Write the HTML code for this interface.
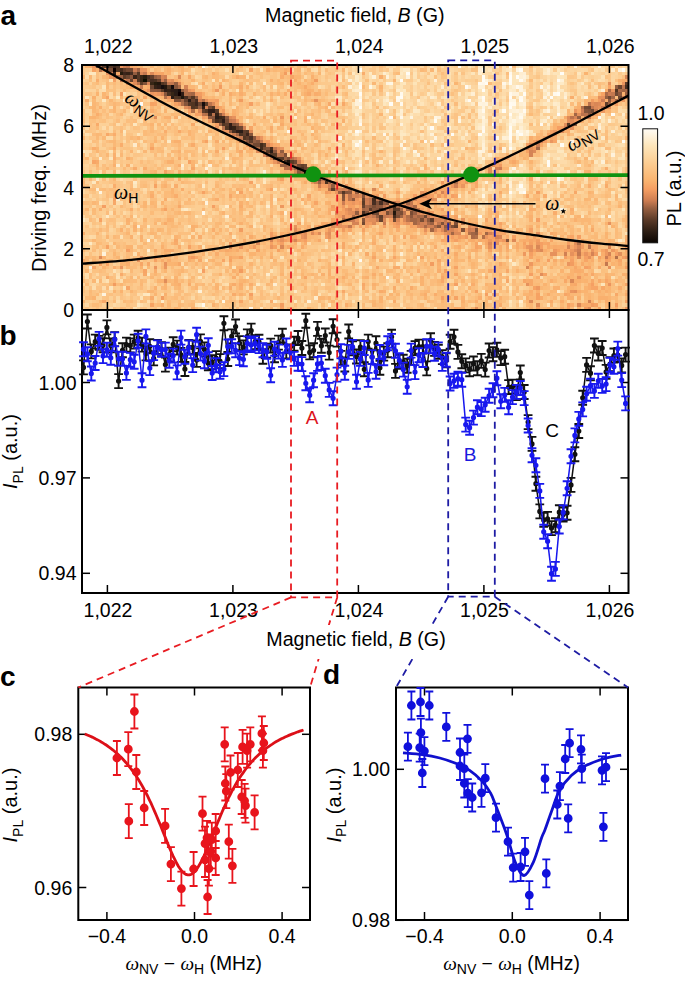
<!DOCTYPE html><html><head><meta charset="utf-8"><style>html,body{margin:0;padding:0;background:#fff;overflow:hidden;width:685px;height:981px}svg{display:block}</style></head><body><svg width="685" height="981" viewBox="0 0 685 981" font-family="Liberation Sans">
<rect width="685" height="981" fill="#fff"/>
<filter id="hb" x="0" y="0" width="1" height="1"><feGaussianBlur stdDeviation="0.5"/></filter><g filter="url(#hb)"><g transform="translate(82.0 65.0) scale(3.41562 3.40278)" shape-rendering="crispEdges"><path fill="#0a0502" d="M9 1h1v1h-1zM28 8h1v1h-1z"/><path fill="#0e0804" d="M18 4h1v1h-1z"/><path fill="#110a06" d="M65 31h1v1h-1z"/><path fill="#150d08" d="M26 6h1v1h-1z"/><path fill="#19100a" d="M23 6h1v1h-1zM28 7h1v1h-1zM35 11h1v1h-1z"/><path fill="#1c120b" d="M29 9h1v1h-1z"/><path fill="#24170f" d="M22 5h1v1h-1zM24 6h1v1h-1zM60 28h1v1h-1zM91 43h1v1h-1z"/><path fill="#271a11" d="M11 2h1v1h-1zM18 3h1v1h-1zM21 5h1v1h-1z"/><path fill="#2b1d13" d="M7 0h1v1h-1zM9 2h1v1h-1zM27 7h1v1h-1zM27 8h1v1h-1zM26 9h1v1h-1zM31 10h1v1h-1zM39 15h1v1h-1zM46 19h1v1h-1zM55 25h1v1h-1z"/><path fill="#2f1f15" d="M22 6h1v1h-1zM24 7h1v1h-1zM26 7h1v1h-1zM29 8h1v1h-1zM35 12h1v1h-1zM37 13h2v1h-2zM41 16h1v1h-1zM43 17h1v1h-1zM43 18h1v1h-1zM45 19h1v1h-1z"/><path fill="#342217" d="M13 2h1v1h-1zM15 3h1v1h-1zM21 6h1v1h-1zM25 7h1v1h-1zM39 14h1v1h-1zM44 18h1v1h-1z"/><path fill="#392519" d="M17 3h1v1h-1zM17 4h1v1h-1zM20 5h1v1h-1zM26 8h1v1h-1zM40 15h1v1h-1z"/><path fill="#3e281b" d="M9 0h1v1h-1zM12 2h1v1h-1zM33 11h1v1h-1zM48 20h1v1h-1z"/><path fill="#422b1d" d="M11 1h1v1h-1zM37 14h1v1h-1zM41 15h1v1h-1zM39 16h1v1h-1zM52 23h1v1h-1zM52 24h1v1h-1zM55 24h1v1h-1zM85 39h1v1h-1zM91 41h1v1h-1zM91 44h1v1h-1z"/><path fill="#472e20" d="M14 2h1v1h-1zM19 3h1v1h-1zM20 4h1v1h-1zM159 6h1v1h-1zM30 9h1v1h-1zM33 10h1v1h-1zM44 19h1v1h-1zM49 21h1v1h-1zM85 40h1v1h-1zM87 40h1v1h-1zM87 42h1v1h-1zM82 43h1v1h-1z"/><path fill="#4c3122" d="M10 0h1v1h-1zM21 4h1v1h-1zM25 8h1v1h-1zM28 9h1v1h-1zM40 16h1v1h-1zM46 20h1v1h-1zM59 28h1v1h-1zM63 30h2v1h-2zM71 34h1v1h-1z"/><path fill="#513424" d="M10 1h1v1h-1zM16 4h1v1h-1zM23 5h1v1h-1zM25 6h1v1h-1zM156 7h1v1h-1zM27 9h1v1h-1zM32 9h1v1h-1zM32 11h1v1h-1zM32 12h1v1h-1zM36 13h1v1h-1zM41 17h1v1h-1zM42 18h1v1h-1zM47 21h1v1h-1zM57 27h1v1h-1zM91 42h1v1h-1z"/><path fill="#553726" d="M6 0h1v1h-1zM8 0h1v1h-1zM16 2h1v1h-1zM16 3h1v1h-1zM19 4h1v1h-1zM31 11h1v1h-1zM39 13h1v1h-1zM48 19h1v1h-1zM55 26h1v1h-1zM58 27h1v1h-1zM66 31h1v1h-1zM76 37h1v1h-1z"/><path fill="#5a3a28" d="M12 3h1v1h-1zM17 5h1v1h-1zM23 7h1v1h-1zM36 11h1v1h-1zM33 12h1v1h-1zM38 12h1v1h-1zM142 17h1v1h-1zM53 23h1v1h-1zM54 25h1v1h-1zM56 26h1v1h-1zM61 28h1v1h-1zM68 33h1v1h-1zM82 40h1v1h-1z"/><path fill="#603e2b" d="M12 1h1v1h-1zM20 3h1v1h-1zM24 5h1v1h-1zM159 5h1v1h-1zM153 11h1v1h-1zM35 13h1v1h-1zM42 17h1v1h-1zM45 18h1v1h-1zM47 19h1v1h-1zM47 20h1v1h-1zM48 21h1v1h-1zM49 22h1v1h-1zM64 29h1v1h-1zM73 36h1v1h-1zM84 42h1v1h-1zM92 42h1v1h-1zM87 44h1v1h-1zM102 45h1v1h-1z"/><path fill="#67422d" d="M14 4h1v1h-1zM22 4h1v1h-1zM157 6h1v1h-1zM30 10h1v1h-1zM32 10h1v1h-1zM65 30h1v1h-1zM69 33h1v1h-1zM82 39h1v1h-1zM82 41h1v1h-1zM87 45h1v1h-1zM109 47h1v1h-1z"/><path fill="#6d4630" d="M4 0h1v1h-1zM13 3h1v1h-1zM20 6h1v1h-1zM156 8h1v1h-1zM157 9h1v1h-1zM34 11h1v1h-1zM148 12h1v1h-1zM149 13h1v1h-1zM46 18h1v1h-1zM56 27h1v1h-1zM62 28h1v1h-1zM63 29h1v1h-1zM65 29h1v1h-1zM100 44h1v1h-1z"/><path fill="#734a33" d="M7 1h1v1h-1zM13 1h2v1h-2zM154 9h1v1h-1zM37 12h1v1h-1zM147 12h1v1h-1zM38 16h1v1h-1zM50 23h2v1h-2zM53 24h1v1h-1zM67 32h1v1h-1zM88 42h1v1h-1zM86 43h1v1h-1zM91 45h1v1h-1zM82 46h1v1h-1z"/><path fill="#7a4d35" d="M8 1h1v1h-1zM31 9h1v1h-1zM42 16h1v1h-1zM44 17h1v1h-1zM60 27h1v1h-1zM89 40h1v1h-1zM85 41h1v1h-1zM85 43h1v1h-1zM89 43h1v1h-1zM93 43h1v1h-1zM96 43h1v1h-1zM92 44h1v1h-1zM99 45h1v1h-1z"/><path fill="#805138" d="M18 5h1v1h-1zM27 10h2v1h-2zM148 13h1v1h-1zM54 24h1v1h-1zM59 26h1v1h-1zM76 38h1v1h-1zM86 40h1v1h-1zM90 41h1v1h-1zM86 42h1v1h-1zM83 43h1v1h-1zM105 46h1v1h-1zM109 46h1v1h-1zM108 47h1v1h-1zM111 48h1v1h-1zM115 48h1v1h-1z"/><path fill="#86553a" d="M27 6h1v1h-1zM22 7h1v1h-1zM24 8h1v1h-1zM30 11h1v1h-1zM147 13h1v1h-1zM38 15h1v1h-1zM45 17h1v1h-1zM49 20h1v1h-1zM48 22h1v1h-1zM51 22h1v1h-1zM77 37h1v1h-1zM82 38h1v1h-1zM76 39h1v1h-1zM85 42h1v1h-1zM92 43h1v1h-1zM82 45h1v1h-1zM104 47h1v1h-1zM124 51h1v1h-1z"/><path fill="#8d593d" d="M14 3h1v1h-1zM20 7h2v1h-2zM157 8h1v1h-1zM154 10h1v1h-1zM40 14h1v1h-1zM148 14h1v1h-1zM37 15h1v1h-1zM42 15h1v1h-1zM43 19h1v1h-1zM50 21h1v1h-1zM56 25h1v1h-1zM61 29h1v1h-1zM66 30h1v1h-1zM63 31h1v1h-1zM65 32h1v1h-1zM78 37h1v1h-1zM79 39h1v1h-1zM87 39h1v1h-1zM88 40h1v1h-1zM86 41h2v1h-2zM94 41h1v1h-1zM96 44h1v1h-1zM101 45h1v1h-1z"/><path fill="#935d40" d="M15 2h1v1h-1zM21 3h1v1h-1zM27 5h1v1h-1zM156 6h1v1h-1zM29 7h1v1h-1zM33 9h1v1h-1zM153 9h1v1h-1zM34 12h1v1h-1zM145 15h1v1h-1zM144 17h1v1h-1zM50 22h1v1h-1zM58 25h1v1h-1zM67 33h1v1h-1zM73 35h1v1h-1zM84 41h1v1h-1zM80 43h1v1h-1zM86 44h1v1h-1zM107 46h1v1h-1zM106 47h1v1h-1zM115 49h1v1h-1z"/><path fill="#9a6142" d="M11 3h1v1h-1zM24 4h1v1h-1zM159 8h1v1h-1zM154 11h1v1h-1zM40 17h1v1h-1zM54 26h1v1h-1zM59 27h1v1h-1zM58 29h2v1h-2zM69 32h1v1h-1zM69 34h1v1h-1zM75 37h1v1h-1zM80 37h1v1h-1zM97 43h1v1h-1zM102 46h1v1h-1z"/><path fill="#a26645" d="M5 0h1v1h-1zM16 1h1v1h-1zM22 3h1v1h-1zM158 7h1v1h-1zM32 8h1v1h-1zM155 9h1v1h-1zM29 10h1v1h-1zM156 10h1v1h-1zM144 14h1v1h-1zM45 20h1v1h-1zM49 23h1v1h-1zM133 24h1v1h-1zM62 30h1v1h-1zM64 31h1v1h-1zM66 32h1v1h-1zM72 34h1v1h-1zM95 40h1v1h-1zM83 41h1v1h-1zM92 41h1v1h-1zM82 42h1v1h-1zM93 42h1v1h-1zM95 42h1v1h-1zM90 43h1v1h-1zM93 44h1v1h-1zM98 44h1v1h-1zM96 45h2v1h-2zM97 46h1v1h-1zM102 48h1v1h-1zM108 49h1v1h-1zM114 49h1v1h-1zM118 49h1v1h-1z"/><path fill="#ab6a47" d="M10 3h1v1h-1zM28 6h1v1h-1zM154 7h1v1h-1zM157 7h1v1h-1zM159 7h1v1h-1zM31 8h1v1h-1zM153 8h1v1h-1zM51 24h1v1h-1zM53 25h1v1h-1zM60 29h1v1h-1zM62 29h1v1h-1zM67 30h1v1h-1zM78 36h1v1h-1zM97 41h1v1h-1zM83 42h1v1h-1zM90 42h1v1h-1zM99 44h1v1h-1zM101 46h1v1h-1zM100 47h1v1h-1zM103 47h1v1h-1zM107 47h1v1h-1zM106 48h1v1h-1zM114 50h1v1h-1z"/><path fill="#b36f4a" d="M5 1h1v1h-1zM30 8h1v1h-1zM24 9h1v1h-1zM35 10h1v1h-1zM29 11h1v1h-1zM146 12h1v1h-1zM32 13h1v1h-1zM36 14h1v1h-1zM58 26h1v1h-1zM61 27h1v1h-1zM60 30h1v1h-1zM109 34h1v1h-1zM72 36h1v1h-1zM96 42h2v1h-2zM79 44h1v1h-1zM95 44h1v1h-1zM76 45h1v1h-1zM98 45h1v1h-1zM111 46h1v1h-1zM113 49h1v1h-1zM115 50h1v1h-1zM117 50h1v1h-1zM145 52h1v1h-1zM156 56h1v1h-1z"/><path fill="#bb734d" d="M11 4h1v1h-1zM13 4h1v1h-1zM16 5h1v1h-1zM158 6h1v1h-1zM30 7h1v1h-1zM159 9h1v1h-1zM37 11h1v1h-1zM148 11h1v1h-1zM35 14h1v1h-1zM38 14h1v1h-1zM146 14h2v1h-2zM143 15h1v1h-1zM41 18h1v1h-1zM47 22h1v1h-1zM57 26h1v1h-1zM59 30h1v1h-1zM70 33h1v1h-1zM114 33h1v1h-1zM74 36h1v1h-1zM78 38h1v1h-1zM78 39h1v1h-1zM84 39h1v1h-1zM86 39h1v1h-1zM84 40h1v1h-1zM88 41h1v1h-1zM94 43h1v1h-1zM97 44h1v1h-1zM95 45h1v1h-1zM98 46h1v1h-1zM148 53h1v1h-1z"/><path fill="#c3784f" d="M13 0h1v1h-1zM18 2h1v1h-1zM25 5h2v1h-2zM17 6h1v1h-1zM155 8h1v1h-1zM149 12h1v1h-1zM152 12h1v1h-1zM150 13h1v1h-1zM43 16h1v1h-1zM46 21h1v1h-1zM52 22h1v1h-1zM56 24h1v1h-1zM96 40h1v1h-1zM98 42h1v1h-1zM85 44h1v1h-1zM88 44h1v1h-1zM86 45h1v1h-1zM100 45h1v1h-1zM106 45h1v1h-1zM104 46h1v1h-1zM78 47h1v1h-1zM145 55h1v1h-1zM153 58h1v1h-1z"/><path fill="#cc7c52" d="M15 1h1v1h-1zM8 2h1v1h-1zM23 4h1v1h-1zM154 8h1v1h-1zM158 9h1v1h-1zM152 10h1v1h-1zM146 13h1v1h-1zM147 15h2v1h-2zM44 16h1v1h-1zM133 23h1v1h-1zM62 27h1v1h-1zM61 30h1v1h-1zM122 30h1v1h-1zM115 31h1v1h-1zM83 39h1v1h-1zM76 40h1v1h-1zM95 41h2v1h-2zM83 44h1v1h-1zM89 44h1v1h-1zM101 44h1v1h-1zM105 44h1v1h-1zM78 45h2v1h-2zM88 46h1v1h-1zM106 46h1v1h-1zM113 48h1v1h-1zM145 54h1v1h-1zM153 56h1v1h-1z"/><path fill="#d18053" d="M12 0h1v1h-1zM24 3h1v1h-1zM15 4h1v1h-1zM34 10h1v1h-1zM31 12h1v1h-1zM36 12h1v1h-1zM153 12h1v1h-1zM41 14h1v1h-1zM47 18h1v1h-1zM44 20h1v1h-1zM57 28h1v1h-1zM63 28h1v1h-1zM68 34h1v1h-1zM69 35h1v1h-1zM109 35h1v1h-1zM76 36h1v1h-1zM80 38h1v1h-1zM83 40h1v1h-1zM91 40h1v1h-1zM89 42h1v1h-1zM98 43h1v1h-1zM90 44h1v1h-1zM103 45h1v1h-1zM99 46h1v1h-1zM101 47h2v1h-2zM141 55h1v1h-1z"/><path fill="#d58355" d="M159 3h1v1h-1zM19 5h1v1h-1zM30 6h1v1h-1zM149 14h1v1h-1zM144 15h1v1h-1zM141 18h1v1h-1zM51 21h1v1h-1zM134 22h1v1h-1zM130 24h1v1h-1zM131 25h1v1h-1zM131 26h1v1h-1zM121 30h1v1h-1zM67 31h1v1h-1zM114 32h2v1h-2zM71 33h1v1h-1zM73 34h1v1h-1zM72 35h1v1h-1zM77 36h1v1h-1zM105 37h1v1h-1zM99 38h1v1h-1zM97 39h1v1h-1zM89 41h1v1h-1zM76 44h1v1h-1zM84 44h1v1h-1zM77 45h1v1h-1zM104 45h1v1h-1zM79 46h2v1h-2zM100 46h1v1h-1zM99 47h1v1h-1zM108 48h1v1h-1zM114 48h1v1h-1zM119 49h1v1h-1zM121 50h1v1h-1zM55 51h1v1h-1zM43 53h1v1h-1zM149 55h1v1h-1zM154 55h1v1h-1zM148 69h1v1h-1z"/><path fill="#d98757" d="M17 2h1v1h-1zM23 3h1v1h-1zM23 8h1v1h-1zM150 11h1v1h-1zM34 13h1v1h-1zM46 17h1v1h-1zM143 17h1v1h-1zM140 19h1v1h-1zM46 22h1v1h-1zM55 27h1v1h-1zM62 31h1v1h-1zM75 36h1v1h-1zM85 36h1v1h-1zM79 38h1v1h-1zM84 38h1v1h-1zM93 41h1v1h-1zM78 42h1v1h-1zM94 44h1v1h-1zM106 44h1v1h-1zM88 45h1v1h-1zM92 45h1v1h-1zM107 48h1v1h-1zM122 50h1v1h-1zM62 51h1v1h-1zM58 53h1v1h-1zM133 53h1v1h-1zM142 53h1v1h-1zM145 53h1v1h-1zM154 53h1v1h-1zM130 59h1v1h-1zM143 63h1v1h-1zM145 70h1v1h-1z"/><path fill="#dd8a58" d="M20 2h1v1h-1zM28 3h1v1h-1zM28 5h1v1h-1zM155 10h1v1h-1zM38 11h1v1h-1zM151 11h1v1h-1zM150 12h1v1h-1zM43 15h1v1h-1zM142 15h1v1h-1zM143 16h1v1h-1zM49 19h1v1h-1zM45 21h1v1h-1zM54 23h1v1h-1zM131 23h1v1h-1zM50 24h1v1h-1zM51 25h2v1h-2zM132 25h1v1h-1zM53 26h1v1h-1zM70 34h1v1h-1zM81 38h1v1h-1zM100 38h1v1h-1zM102 39h1v1h-1zM80 42h1v1h-1zM79 43h1v1h-1zM84 43h1v1h-1zM88 43h1v1h-1zM94 45h1v1h-1zM105 45h1v1h-1zM73 46h1v1h-1zM85 46h1v1h-1zM98 47h1v1h-1zM105 47h1v1h-1zM113 47h1v1h-1zM62 48h1v1h-1zM103 48h1v1h-1zM105 48h1v1h-1zM67 49h1v1h-1zM69 49h1v1h-1zM107 49h1v1h-1zM109 49h2v1h-2zM126 51h1v1h-1zM51 52h1v1h-1zM119 52h1v1h-1zM134 54h1v1h-1zM144 54h1v1h-1zM5 56h1v1h-1zM145 56h1v1h-1zM131 69h1v1h-1zM148 71h1v1h-1z"/><path fill="#e18e5a" d="M9 3h1v1h-1zM26 4h1v1h-1zM15 5h1v1h-1zM149 11h1v1h-1zM30 12h1v1h-1zM154 12h1v1h-1zM145 14h1v1h-1zM21 15h1v1h-1zM142 16h1v1h-1zM141 17h1v1h-1zM133 22h1v1h-1zM57 24h1v1h-1zM119 30h1v1h-1zM69 31h1v1h-1zM119 31h1v1h-1zM64 32h1v1h-1zM103 39h1v1h-1zM92 40h1v1h-1zM74 43h1v1h-1zM78 43h1v1h-1zM87 43h1v1h-1zM99 43h1v1h-1zM80 44h1v1h-1zM84 45h2v1h-2zM73 47h1v1h-1zM65 49h1v1h-1zM72 49h1v1h-1zM65 50h1v1h-1zM144 52h1v1h-1zM148 52h1v1h-1zM157 55h1v1h-1zM134 61h1v1h-1zM24 63h1v1h-1zM133 70h1v1h-1zM115 71h1v1h-1z"/><path fill="#e6915c" d="M154 5h1v1h-1zM25 9h1v1h-1zM151 9h2v1h-2zM36 10h1v1h-1zM68 10h1v1h-1zM151 12h1v1h-1zM44 15h1v1h-1zM143 18h1v1h-1zM131 24h1v1h-1zM57 25h1v1h-1zM63 27h1v1h-1zM120 29h1v1h-1zM99 37h1v1h-1zM83 38h1v1h-1zM101 39h1v1h-1zM77 42h1v1h-1zM101 43h1v1h-1zM83 45h1v1h-1zM107 45h1v1h-1zM111 45h1v1h-1zM75 46h1v1h-1zM95 46h1v1h-1zM154 46h1v1h-1zM62 47h1v1h-1zM75 47h1v1h-1zM77 47h1v1h-1zM115 47h1v1h-1zM100 48h1v1h-1zM109 48h1v1h-1zM120 49h1v1h-1zM133 49h1v1h-1zM72 50h1v1h-1zM58 51h1v1h-1zM121 52h1v1h-1zM119 53h1v1h-1zM131 53h1v1h-1zM131 54h1v1h-1zM133 54h1v1h-1zM137 55h2v1h-2zM143 55h1v1h-1zM148 56h1v1h-1zM24 58h1v1h-1zM154 59h1v1h-1zM130 64h1v1h-1zM144 66h1v1h-1z"/><path fill="#ea955e" d="M3 0h1v1h-1zM11 0h1v1h-1zM17 1h2v1h-2zM7 2h1v1h-1zM12 4h1v1h-1zM25 4h1v1h-1zM158 5h1v1h-1zM19 7h1v1h-1zM31 7h1v1h-1zM155 7h1v1h-1zM20 8h1v1h-1zM22 8h1v1h-1zM34 9h1v1h-1zM28 11h1v1h-1zM144 13h1v1h-1zM145 16h1v1h-1zM39 18h1v1h-1zM41 19h1v1h-1zM52 21h1v1h-1zM137 22h1v1h-1zM58 24h1v1h-1zM56 28h1v1h-1zM119 32h1v1h-1zM115 33h1v1h-1zM111 35h1v1h-1zM79 40h1v1h-1zM81 43h1v1h-1zM102 44h1v1h-1zM80 45h1v1h-1zM92 46h1v1h-1zM103 46h1v1h-1zM74 47h1v1h-1zM76 47h1v1h-1zM114 47h1v1h-1zM72 48h1v1h-1zM122 48h1v1h-1zM64 49h1v1h-1zM106 49h1v1h-1zM58 50h1v1h-1zM64 50h1v1h-1zM118 50h1v1h-1zM121 51h1v1h-1zM46 53h1v1h-1zM55 53h1v1h-1zM130 53h1v1h-1zM159 53h1v1h-1zM149 54h1v1h-1zM147 55h1v1h-1zM17 56h1v1h-1zM159 56h1v1h-1zM16 57h1v1h-1zM142 58h1v1h-1zM11 59h1v1h-1zM21 59h1v1h-1zM24 59h1v1h-1zM145 62h1v1h-1zM154 64h1v1h-1zM143 66h1v1h-1z"/><path fill="#ee985f" d="M6 1h1v1h-1zM8 3h1v1h-1zM13 5h1v1h-1zM39 7h1v1h-1zM33 8h1v1h-1zM158 10h1v1h-1zM39 12h1v1h-1zM152 13h1v1h-1zM58 15h1v1h-1zM45 16h1v1h-1zM144 16h1v1h-1zM42 19h1v1h-1zM138 19h1v1h-1zM43 20h1v1h-1zM58 28h1v1h-1zM121 28h1v1h-1zM122 29h1v1h-1zM67 34h1v1h-1zM105 34h1v1h-1zM112 34h1v1h-1zM74 35h1v1h-1zM77 35h1v1h-1zM108 35h1v1h-1zM74 37h1v1h-1zM103 37h1v1h-1zM77 38h1v1h-1zM101 38h1v1h-1zM104 38h1v1h-1zM80 39h1v1h-1zM81 40h1v1h-1zM94 40h1v1h-1zM58 41h1v1h-1zM76 41h1v1h-1zM77 43h1v1h-1zM103 44h1v1h-1zM74 46h1v1h-1zM83 46h1v1h-1zM71 49h1v1h-1zM112 50h1v1h-1zM61 51h1v1h-1zM119 51h1v1h-1zM123 51h1v1h-1zM43 52h1v1h-1zM133 52h1v1h-1zM144 53h1v1h-1zM138 54h1v1h-1zM143 54h1v1h-1zM153 54h1v1h-1zM155 54h1v1h-1zM129 55h1v1h-1zM153 55h1v1h-1zM131 58h1v1h-1zM133 65h1v1h-1zM159 71h1v1h-1z"/><path fill="#f29c61" d="M59 2h1v1h-1zM68 4h1v1h-1zM40 6h1v1h-1zM11 8h1v1h-1zM21 8h1v1h-1zM34 8h1v1h-1zM46 10h1v1h-1zM149 10h1v1h-1zM151 10h1v1h-1zM152 11h1v1h-1zM156 11h1v1h-1zM41 13h1v1h-1zM37 16h1v1h-1zM55 23h1v1h-1zM132 24h1v1h-1zM68 32h1v1h-1zM74 34h1v1h-1zM71 35h1v1h-1zM71 37h1v1h-1zM79 37h1v1h-1zM100 37h1v1h-1zM86 38h1v1h-1zM88 38h1v1h-1zM106 38h1v1h-1zM77 39h1v1h-1zM78 40h1v1h-1zM98 40h1v1h-1zM73 41h1v1h-1zM102 43h1v1h-1zM78 44h1v1h-1zM82 44h1v1h-1zM84 46h1v1h-1zM94 46h1v1h-1zM46 48h1v1h-1zM67 48h1v1h-1zM76 48h1v1h-1zM112 48h1v1h-1zM55 49h1v1h-1zM116 49h1v1h-1zM55 50h1v1h-1zM110 50h1v1h-1zM57 51h1v1h-1zM133 51h1v1h-1zM50 53h1v1h-1zM146 53h1v1h-1zM150 55h1v1h-1zM32 56h1v1h-1zM102 58h1v1h-1zM143 58h1v1h-1zM46 60h1v1h-1zM9 64h1v1h-1zM23 68h1v1h-1zM58 70h1v1h-1zM149 70h1v1h-1zM156 70h1v1h-1zM147 71h1v1h-1z"/><path fill="#f59f63" d="M9 4h1v1h-1zM32 7h1v1h-1zM39 10h1v1h-1zM49 11h1v1h-1zM31 13h1v1h-1zM33 14h2v1h-2zM35 15h1v1h-1zM39 17h1v1h-1zM139 18h1v1h-1zM138 20h1v1h-1zM54 22h1v1h-1zM132 22h1v1h-1zM135 22h1v1h-1zM130 23h1v1h-1zM41 24h1v1h-1zM61 26h1v1h-1zM68 31h1v1h-1zM70 32h1v1h-1zM58 33h1v1h-1zM110 34h1v1h-1zM70 35h1v1h-1zM104 36h1v1h-1zM106 37h1v1h-1zM97 38h1v1h-1zM102 38h1v1h-1zM108 38h1v1h-1zM98 39h2v1h-2zM80 40h1v1h-1zM99 40h1v1h-1zM6 41h1v1h-1zM38 41h1v1h-1zM78 41h1v1h-1zM79 42h1v1h-1zM81 42h1v1h-1zM94 42h1v1h-1zM99 42h1v1h-1zM101 42h1v1h-1zM105 42h1v1h-1zM75 44h1v1h-1zM77 44h1v1h-1zM90 45h1v1h-1zM109 45h1v1h-1zM133 45h1v1h-1zM91 46h1v1h-1zM69 47h1v1h-1zM88 47h1v1h-1zM92 47h1v1h-1zM104 48h1v1h-1zM110 48h1v1h-1zM131 48h1v1h-1zM63 49h1v1h-1zM71 50h1v1h-1zM108 50h1v1h-1zM120 50h1v1h-1zM145 50h1v1h-1zM59 51h1v1h-1zM65 51h1v1h-1zM109 51h1v1h-1zM122 51h1v1h-1zM58 52h1v1h-1zM134 52h1v1h-1zM142 52h1v1h-1zM134 53h1v1h-1zM13 54h1v1h-1zM141 54h1v1h-1zM131 55h1v1h-1zM156 55h1v1h-1zM21 56h1v1h-1zM141 56h1v1h-1zM147 56h1v1h-1zM154 56h1v1h-1zM158 56h1v1h-1zM136 57h1v1h-1zM143 57h1v1h-1zM153 57h1v1h-1zM147 59h1v1h-1zM159 59h1v1h-1zM35 60h1v1h-1zM106 60h1v1h-1zM131 61h1v1h-1zM109 64h1v1h-1zM149 64h1v1h-1zM49 67h1v1h-1zM118 67h1v1h-1zM105 68h1v1h-1zM142 70h1v1h-1z"/><path fill="#f6a264" d="M3 1h1v1h-1zM49 1h1v1h-1zM152 8h1v1h-1zM20 11h1v1h-1zM27 11h1v1h-1zM150 14h1v1h-1zM140 18h1v1h-1zM137 19h1v1h-1zM136 20h2v1h-2zM36 22h1v1h-1zM48 23h1v1h-1zM20 24h1v1h-1zM130 25h1v1h-1zM31 28h1v1h-1zM121 29h1v1h-1zM24 31h1v1h-1zM49 34h1v1h-1zM21 35h1v1h-1zM55 36h1v1h-1zM35 37h1v1h-1zM46 37h1v1h-1zM72 37h1v1h-1zM133 37h1v1h-1zM9 39h1v1h-1zM100 39h1v1h-1zM77 40h1v1h-1zM79 41h1v1h-1zM24 42h1v1h-1zM73 42h1v1h-1zM76 42h1v1h-1zM75 43h1v1h-1zM100 43h1v1h-1zM109 44h1v1h-1zM5 45h1v1h-1zM63 46h1v1h-1zM96 46h1v1h-1zM122 46h1v1h-1zM83 47h1v1h-1zM96 47h1v1h-1zM82 48h1v1h-1zM118 48h1v1h-1zM68 49h1v1h-1zM74 49h1v1h-1zM121 49h1v1h-1zM62 50h1v1h-1zM111 50h1v1h-1zM126 50h1v1h-1zM132 50h1v1h-1zM63 51h1v1h-1zM55 52h1v1h-1zM129 52h1v1h-1zM131 52h1v1h-1zM7 53h1v1h-1zM31 53h1v1h-1zM56 53h1v1h-1zM115 53h1v1h-1zM57 54h1v1h-1zM119 54h1v1h-1zM132 54h1v1h-1zM139 54h1v1h-1zM144 55h1v1h-1zM46 56h1v1h-1zM99 56h1v1h-1zM151 56h1v1h-1zM21 57h1v1h-1zM43 57h1v1h-1zM5 58h1v1h-1zM7 58h1v1h-1zM109 59h1v1h-1zM135 61h1v1h-1zM132 65h1v1h-1zM115 66h1v1h-1zM133 67h1v1h-1zM109 68h1v1h-1zM133 68h1v1h-1zM159 69h1v1h-1zM20 70h1v1h-1zM150 70h1v1h-1zM58 71h1v1h-1zM151 71h1v1h-1z"/><path fill="#f7a566" d="M21 2h1v1h-1zM23 2h1v1h-1zM61 3h1v1h-1zM14 5h1v1h-1zM154 6h1v1h-1zM18 7h1v1h-1zM7 9h1v1h-1zM37 10h2v1h-2zM21 11h1v1h-1zM40 12h1v1h-1zM36 15h1v1h-1zM49 18h1v1h-1zM142 18h1v1h-1zM53 22h1v1h-1zM138 22h1v1h-1zM49 24h1v1h-1zM3 28h1v1h-1zM61 31h1v1h-1zM21 32h1v1h-1zM72 33h1v1h-1zM111 34h1v1h-1zM115 34h1v1h-1zM75 35h1v1h-1zM69 36h1v1h-1zM106 36h1v1h-1zM92 37h1v1h-1zM66 38h1v1h-1zM109 38h1v1h-1zM92 39h1v1h-1zM68 40h1v1h-1zM90 40h1v1h-1zM81 41h1v1h-1zM74 42h1v1h-1zM76 43h1v1h-1zM73 45h1v1h-1zM118 45h1v1h-1zM108 46h1v1h-1zM81 47h1v1h-1zM63 48h1v1h-1zM73 48h1v1h-1zM78 48h1v1h-1zM119 48h1v1h-1zM87 49h1v1h-1zM105 49h1v1h-1zM123 49h1v1h-1zM61 50h1v1h-1zM94 50h1v1h-1zM119 50h1v1h-1zM143 50h1v1h-1zM105 51h1v1h-1zM120 51h1v1h-1zM131 51h1v1h-1zM137 51h1v1h-1zM115 52h1v1h-1zM124 52h1v1h-1zM136 52h1v1h-1zM146 52h1v1h-1zM51 54h1v1h-1zM142 54h1v1h-1zM152 54h1v1h-1zM148 55h1v1h-1zM31 56h1v1h-1zM85 56h1v1h-1zM91 56h1v1h-1zM131 56h1v1h-1zM143 56h1v1h-1zM0 57h1v1h-1zM41 57h1v1h-1zM133 57h1v1h-1zM147 57h1v1h-1zM154 57h1v1h-1zM157 57h1v1h-1zM17 58h1v1h-1zM3 59h1v1h-1zM148 59h1v1h-1zM18 60h1v1h-1zM109 61h1v1h-1zM65 62h1v1h-1zM129 63h1v1h-1zM153 63h1v1h-1zM159 64h1v1h-1zM13 65h1v1h-1zM149 65h2v1h-2zM141 67h1v1h-1zM46 69h1v1h-1zM133 71h1v1h-1zM142 71h1v1h-1z"/><path fill="#f7a868" d="M14 0h1v1h-1zM10 2h1v1h-1zM22 2h1v1h-1zM31 3h1v1h-1zM14 6h1v1h-1zM16 6h1v1h-1zM66 8h1v1h-1zM18 9h1v1h-1zM25 10h2v1h-2zM39 11h1v1h-1zM72 11h1v1h-1zM76 11h1v1h-1zM145 13h1v1h-1zM32 17h1v1h-1zM28 19h1v1h-1zM7 20h1v1h-1zM44 21h1v1h-1zM135 21h1v1h-1zM137 21h1v1h-1zM132 23h1v1h-1zM134 23h1v1h-1zM46 25h1v1h-1zM60 25h1v1h-1zM123 27h2v1h-2zM126 28h1v1h-1zM32 30h1v1h-1zM115 30h1v1h-1zM113 31h1v1h-1zM0 32h1v1h-1zM63 32h1v1h-1zM71 32h1v1h-1zM111 33h1v1h-1zM131 33h1v1h-1zM110 35h1v1h-1zM115 35h1v1h-1zM82 36h1v1h-1zM105 36h1v1h-1zM82 37h1v1h-1zM144 37h1v1h-1zM43 38h1v1h-1zM85 38h1v1h-1zM81 39h1v1h-1zM9 40h1v1h-1zM97 40h1v1h-1zM28 41h1v1h-1zM104 44h1v1h-1zM93 46h1v1h-1zM79 47h1v1h-1zM91 47h1v1h-1zM97 47h1v1h-1zM116 48h2v1h-2zM149 48h1v1h-1zM100 49h1v1h-1zM103 49h1v1h-1zM122 49h1v1h-1zM131 49h1v1h-1zM137 49h1v1h-1zM56 50h1v1h-1zM60 50h1v1h-1zM27 51h1v1h-1zM60 51h1v1h-1zM64 51h1v1h-1zM69 51h1v1h-1zM116 51h1v1h-1zM118 51h1v1h-1zM146 51h1v1h-1zM76 52h1v1h-1zM118 52h1v1h-1zM135 52h1v1h-1zM60 53h1v1h-1zM76 53h1v1h-1zM116 53h1v1h-1zM124 53h1v1h-1zM129 53h1v1h-1zM136 53h1v1h-1zM143 53h1v1h-1zM42 54h1v1h-1zM159 54h1v1h-1zM146 55h1v1h-1zM19 56h1v1h-1zM33 56h1v1h-1zM43 56h1v1h-1zM34 57h1v1h-1zM104 57h1v1h-1zM19 58h1v1h-1zM28 58h1v1h-1zM122 58h1v1h-1zM86 59h1v1h-1zM144 59h1v1h-1zM124 60h1v1h-1zM18 61h1v1h-1zM149 61h1v1h-1zM105 62h1v1h-1zM142 62h1v1h-1zM105 63h1v1h-1zM124 63h1v1h-1zM131 63h1v1h-1zM141 63h1v1h-1zM149 63h1v1h-1zM82 64h1v1h-1zM131 64h1v1h-1zM144 64h1v1h-1zM152 65h1v1h-1zM76 66h1v1h-1zM156 67h1v1h-1zM6 69h1v1h-1z"/><path fill="#f8ab6a" d="M19 2h1v1h-1zM45 3h1v1h-1zM27 4h1v1h-1zM62 4h1v1h-1zM158 4h2v1h-2zM35 5h1v1h-1zM19 6h1v1h-1zM46 6h1v1h-1zM65 6h1v1h-1zM153 7h1v1h-1zM43 8h1v1h-1zM1 10h1v1h-1zM40 13h1v1h-1zM42 14h1v1h-1zM141 15h1v1h-1zM4 17h1v1h-1zM58 17h1v1h-1zM55 18h1v1h-1zM142 19h1v1h-1zM39 22h1v1h-1zM131 22h1v1h-1zM32 23h1v1h-1zM56 23h1v1h-1zM39 25h1v1h-1zM28 27h1v1h-1zM121 27h1v1h-1zM4 28h1v1h-1zM55 28h1v1h-1zM67 29h1v1h-1zM15 30h1v1h-1zM118 30h1v1h-1zM59 31h1v1h-1zM72 31h1v1h-1zM121 31h1v1h-1zM112 33h2v1h-2zM65 34h1v1h-1zM105 35h2v1h-2zM153 35h1v1h-1zM107 36h1v1h-1zM87 37h1v1h-1zM122 37h1v1h-1zM130 38h1v1h-1zM75 39h1v1h-1zM95 39h1v1h-1zM75 40h1v1h-1zM101 40h1v1h-1zM46 41h1v1h-1zM75 41h1v1h-1zM98 41h2v1h-2zM95 43h1v1h-1zM74 44h1v1h-1zM121 44h1v1h-1zM93 45h1v1h-1zM24 46h1v1h-1zM70 46h2v1h-2zM113 46h1v1h-1zM115 46h1v1h-1zM66 47h1v1h-1zM110 47h1v1h-1zM122 47h1v1h-1zM71 48h1v1h-1zM121 48h1v1h-1zM60 49h1v1h-1zM104 49h1v1h-1zM112 49h1v1h-1zM49 50h1v1h-1zM96 50h1v1h-1zM109 50h1v1h-1zM47 51h1v1h-1zM106 51h1v1h-1zM108 51h1v1h-1zM114 51h1v1h-1zM129 51h1v1h-1zM132 51h1v1h-1zM159 51h1v1h-1zM27 52h1v1h-1zM57 52h1v1h-1zM65 52h1v1h-1zM127 52h1v1h-1zM156 52h1v1h-1zM64 53h1v1h-1zM127 53h1v1h-1zM138 53h1v1h-1zM149 53h2v1h-2zM21 54h1v1h-1zM45 54h1v1h-1zM48 54h1v1h-1zM105 54h1v1h-1zM147 54h1v1h-1zM156 54h1v1h-1zM83 55h1v1h-1zM109 55h1v1h-1zM159 55h1v1h-1zM22 56h1v1h-1zM113 56h1v1h-1zM12 57h1v1h-1zM23 57h1v1h-1zM138 57h1v1h-1zM146 58h1v1h-1zM157 58h1v1h-1zM91 59h2v1h-2zM151 59h1v1h-1zM119 60h1v1h-1zM11 61h1v1h-1zM7 62h1v1h-1zM130 63h1v1h-1zM151 63h1v1h-1zM31 64h1v1h-1zM44 64h1v1h-1zM143 64h1v1h-1zM43 65h1v1h-1zM91 65h1v1h-1zM96 65h1v1h-1zM87 66h1v1h-1zM44 67h1v1h-1zM120 67h1v1h-1zM136 67h1v1h-1zM142 67h1v1h-1zM159 67h1v1h-1zM20 68h1v1h-1zM134 68h1v1h-1zM55 69h1v1h-1zM91 69h1v1h-1zM137 69h1v1h-1zM140 69h1v1h-1zM122 70h1v1h-1zM147 70h1v1h-1zM154 70h1v1h-1zM109 71h1v1h-1z"/><path fill="#f9ad6c" d="M15 0h1v1h-1zM56 0h2v1h-2zM54 1h1v1h-1zM59 1h1v1h-1zM82 2h1v1h-1zM58 3h1v1h-1zM87 3h1v1h-1zM4 4h1v1h-1zM67 5h1v1h-1zM15 6h1v1h-1zM60 7h1v1h-1zM35 8h1v1h-1zM46 8h1v1h-1zM59 8h1v1h-1zM68 8h1v1h-1zM143 9h1v1h-1zM153 10h1v1h-1zM157 10h1v1h-1zM20 13h1v1h-1zM4 14h1v1h-1zM44 14h1v1h-1zM27 15h1v1h-1zM53 15h1v1h-1zM50 17h1v1h-1zM24 19h1v1h-1zM141 19h1v1h-1zM9 20h1v1h-1zM131 21h1v1h-1zM138 21h1v1h-1zM11 23h1v1h-1zM57 23h1v1h-1zM3 24h1v1h-1zM9 24h1v1h-1zM72 24h1v1h-1zM122 24h1v1h-1zM62 25h1v1h-1zM9 27h1v1h-1zM64 28h1v1h-1zM28 29h1v1h-1zM119 29h1v1h-1zM18 30h1v1h-1zM153 30h1v1h-1zM28 31h1v1h-1zM77 31h1v1h-1zM112 32h1v1h-1zM28 33h1v1h-1zM9 35h1v1h-1zM27 35h1v1h-1zM148 35h1v1h-1zM29 36h1v1h-1zM114 36h1v1h-1zM20 38h1v1h-1zM27 38h1v1h-1zM135 38h1v1h-1zM24 39h1v1h-1zM39 39h1v1h-1zM64 39h1v1h-1zM14 42h1v1h-1zM72 42h1v1h-1zM109 42h1v1h-1zM131 42h1v1h-1zM143 42h1v1h-1zM72 43h1v1h-1zM138 43h1v1h-1zM81 44h1v1h-1zM74 45h1v1h-1zM90 46h1v1h-1zM68 47h1v1h-1zM72 47h1v1h-1zM118 47h1v1h-1zM159 47h1v1h-1zM38 48h1v1h-1zM92 48h1v1h-1zM0 49h1v1h-1zM43 49h1v1h-1zM58 49h1v1h-1zM34 50h1v1h-1zM106 50h1v1h-1zM124 50h1v1h-1zM130 50h1v1h-1zM142 50h1v1h-1zM44 51h1v1h-1zM51 51h1v1h-1zM91 51h1v1h-1zM110 51h1v1h-1zM113 51h1v1h-1zM117 51h1v1h-1zM130 51h1v1h-1zM85 52h1v1h-1zM28 53h1v1h-1zM49 53h1v1h-1zM103 53h1v1h-1zM110 53h1v1h-1zM122 53h1v1h-1zM139 53h2v1h-2zM24 54h3v1h-3zM38 54h1v1h-1zM40 54h1v1h-1zM43 54h1v1h-1zM115 54h1v1h-1zM122 54h1v1h-1zM124 54h1v1h-1zM135 54h1v1h-1zM150 54h1v1h-1zM39 55h1v1h-1zM152 55h1v1h-1zM55 56h1v1h-1zM124 56h1v1h-1zM149 56h1v1h-1zM25 57h1v1h-1zM31 57h1v1h-1zM149 57h1v1h-1zM13 58h1v1h-1zM9 59h1v1h-1zM131 59h1v1h-1zM21 60h1v1h-1zM98 60h1v1h-1zM104 60h1v1h-1zM144 60h2v1h-2zM72 61h1v1h-1zM85 61h1v1h-1zM147 61h1v1h-1zM44 62h1v1h-1zM76 62h1v1h-1zM118 62h1v1h-1zM133 62h1v1h-1zM137 63h1v1h-1zM28 64h1v1h-1zM46 64h1v1h-1zM49 64h1v1h-1zM60 64h1v1h-1zM114 64h1v1h-1zM148 64h1v1h-1zM82 65h1v1h-1zM148 65h1v1h-1zM157 65h1v1h-1zM131 66h1v1h-1zM145 66h1v1h-1zM100 67h1v1h-1zM103 67h1v1h-1zM116 68h1v1h-1zM119 68h1v1h-1zM130 68h1v1h-1zM115 69h1v1h-1zM153 69h1v1h-1zM23 70h1v1h-1zM77 70h1v1h-1zM143 70h1v1h-1zM146 70h1v1h-1zM148 70h1v1h-1zM32 71h1v1h-1zM110 71h1v1h-1zM140 71h1v1h-1z"/><path fill="#f9b06e" d="M2 0h1v1h-1zM25 1h1v1h-1zM38 2h1v1h-1zM67 3h1v1h-1zM55 4h1v1h-1zM157 4h1v1h-1zM66 7h1v1h-1zM41 8h1v1h-1zM55 8h1v1h-1zM65 8h1v1h-1zM69 8h1v1h-1zM158 8h1v1h-1zM3 9h1v1h-1zM20 9h2v1h-2zM55 10h1v1h-1zM150 10h1v1h-1zM5 12h1v1h-1zM145 12h1v1h-1zM44 13h1v1h-1zM151 13h1v1h-1zM31 14h1v1h-1zM151 14h1v1h-1zM24 15h2v1h-2zM146 15h1v1h-1zM65 16h1v1h-1zM76 16h1v1h-1zM146 16h1v1h-1zM37 19h1v1h-1zM55 19h1v1h-1zM142 20h1v1h-1zM55 21h1v1h-1zM133 21h1v1h-1zM27 22h2v1h-2zM35 22h1v1h-1zM45 22h1v1h-1zM76 23h1v1h-1zM28 25h1v1h-1zM59 25h1v1h-1zM9 26h1v1h-1zM13 27h1v1h-1zM25 28h2v1h-2zM122 28h1v1h-1zM125 28h1v1h-1zM9 29h1v1h-1zM13 29h1v1h-1zM86 29h1v1h-1zM60 31h1v1h-1zM148 31h1v1h-1zM57 33h1v1h-1zM114 34h1v1h-1zM24 35h1v1h-1zM87 35h1v1h-1zM107 35h1v1h-1zM45 36h1v1h-1zM100 36h1v1h-1zM109 36h1v1h-1zM85 37h1v1h-1zM113 37h1v1h-1zM9 38h1v1h-1zM105 38h1v1h-1zM66 39h1v1h-1zM107 39h1v1h-1zM46 40h1v1h-1zM72 40h1v1h-1zM115 41h1v1h-1zM5 42h1v1h-1zM23 42h1v1h-1zM100 42h1v1h-1zM132 42h1v1h-1zM58 43h1v1h-1zM121 43h1v1h-1zM55 44h1v1h-1zM107 44h2v1h-2zM131 44h1v1h-1zM13 45h1v1h-1zM25 45h1v1h-1zM131 45h1v1h-1zM144 45h1v1h-1zM46 46h1v1h-1zM76 46h1v1h-1zM110 46h1v1h-1zM114 46h1v1h-1zM15 47h1v1h-1zM32 47h1v1h-1zM49 47h1v1h-1zM119 47h1v1h-1zM131 47h1v1h-1zM11 48h1v1h-1zM66 48h1v1h-1zM101 48h1v1h-1zM66 49h1v1h-1zM117 49h1v1h-1zM138 49h1v1h-1zM14 50h1v1h-1zM17 50h1v1h-1zM91 50h1v1h-1zM97 50h1v1h-1zM138 50h1v1h-1zM159 50h1v1h-1zM56 51h1v1h-1zM72 51h1v1h-1zM128 51h1v1h-1zM99 52h1v1h-1zM112 52h1v1h-1zM120 52h1v1h-1zM154 52h1v1h-1zM23 53h1v1h-1zM34 53h1v1h-1zM118 53h1v1h-1zM137 53h1v1h-1zM41 54h1v1h-1zM91 54h1v1h-1zM114 54h1v1h-1zM140 54h1v1h-1zM44 56h2v1h-2zM137 56h1v1h-1zM142 56h1v1h-1zM87 57h1v1h-1zM130 57h1v1h-1zM140 57h1v1h-1zM151 57h1v1h-1zM104 58h1v1h-1zM159 58h1v1h-1zM46 59h1v1h-1zM44 60h1v1h-1zM72 60h1v1h-1zM146 60h1v1h-1zM45 61h1v1h-1zM70 61h1v1h-1zM105 61h1v1h-1zM122 61h1v1h-1zM158 61h2v1h-2zM83 62h1v1h-1zM99 62h1v1h-1zM153 62h1v1h-1zM27 63h1v1h-1zM92 63h1v1h-1zM144 63h2v1h-2zM154 63h1v1h-1zM85 64h1v1h-1zM21 65h1v1h-1zM46 65h1v1h-1zM138 65h2v1h-2zM88 66h1v1h-1zM133 66h1v1h-1zM151 66h1v1h-1zM153 66h1v1h-1zM24 67h1v1h-1zM46 67h1v1h-1zM131 67h1v1h-1zM49 68h1v1h-1zM87 68h1v1h-1zM111 68h1v1h-1zM122 68h1v1h-1zM142 68h2v1h-2zM145 68h1v1h-1zM151 68h3v1h-3zM111 69h1v1h-1zM38 70h1v1h-1zM111 71h1v1h-1zM156 71h1v1h-1z"/><path fill="#fab370" d="M1 0h1v1h-1zM17 0h1v1h-1zM28 0h2v1h-2zM31 0h1v1h-1zM46 0h1v1h-1zM4 1h1v1h-1zM29 1h1v1h-1zM25 2h1v1h-1zM147 2h1v1h-1zM7 3h1v1h-1zM32 4h1v1h-1zM41 4h1v1h-1zM40 5h1v1h-1zM63 5h1v1h-1zM18 6h1v1h-1zM48 6h1v1h-1zM87 6h1v1h-1zM17 7h1v1h-1zM46 7h1v1h-1zM67 7h1v1h-1zM4 8h1v1h-1zM57 8h1v1h-1zM11 9h1v1h-1zM23 9h1v1h-1zM13 10h1v1h-1zM67 10h1v1h-1zM69 11h1v1h-1zM9 12h1v1h-1zM41 12h1v1h-1zM71 12h1v1h-1zM24 13h1v1h-1zM33 13h1v1h-1zM154 13h1v1h-1zM3 15h1v1h-1zM31 15h1v1h-1zM65 15h1v1h-1zM149 15h1v1h-1zM58 16h1v1h-1zM20 17h1v1h-1zM38 17h1v1h-1zM138 17h1v1h-1zM67 18h1v1h-1zM138 18h1v1h-1zM31 19h1v1h-1zM31 20h1v1h-1zM67 20h1v1h-1zM16 21h1v1h-1zM23 21h1v1h-1zM43 21h1v1h-1zM53 21h1v1h-1zM159 21h1v1h-1zM21 22h1v1h-1zM113 22h1v1h-1zM20 23h1v1h-1zM63 23h1v1h-1zM45 24h1v1h-1zM47 24h1v1h-1zM45 25h1v1h-1zM49 25h1v1h-1zM87 25h1v1h-1zM46 26h1v1h-1zM71 26h1v1h-1zM124 26h1v1h-1zM129 27h1v1h-1zM54 28h1v1h-1zM131 28h1v1h-1zM32 29h1v1h-1zM100 29h1v1h-1zM100 30h1v1h-1zM21 31h1v1h-1zM58 31h1v1h-1zM114 31h1v1h-1zM147 31h1v1h-1zM33 32h1v1h-1zM61 32h1v1h-1zM100 32h1v1h-1zM144 32h1v1h-1zM74 33h1v1h-1zM76 34h1v1h-1zM78 34h1v1h-1zM113 34h1v1h-1zM26 36h1v1h-1zM54 36h1v1h-1zM62 36h1v1h-1zM71 36h1v1h-1zM101 36h1v1h-1zM108 36h1v1h-1zM20 37h1v1h-1zM26 37h1v1h-1zM73 37h1v1h-1zM86 37h1v1h-1zM101 37h2v1h-2zM148 37h1v1h-1zM55 38h1v1h-1zM75 38h1v1h-1zM55 39h1v1h-1zM57 39h1v1h-1zM88 39h1v1h-1zM133 39h1v1h-1zM23 40h1v1h-1zM71 40h1v1h-1zM103 40h1v1h-1zM80 41h1v1h-1zM100 41h1v1h-1zM103 41h1v1h-1zM133 41h1v1h-1zM157 41h1v1h-1zM1 42h1v1h-1zM46 42h1v1h-1zM104 42h1v1h-1zM41 43h1v1h-1zM106 43h1v1h-1zM143 43h1v1h-1zM145 44h1v1h-1zM26 45h1v1h-1zM113 45h1v1h-1zM13 46h1v1h-1zM77 46h1v1h-1zM86 46h1v1h-1zM153 46h1v1h-1zM33 47h1v1h-1zM53 47h1v1h-1zM70 47h1v1h-1zM133 47h1v1h-1zM155 47h1v1h-1zM15 48h1v1h-1zM32 48h1v1h-1zM65 48h1v1h-1zM68 48h1v1h-1zM77 48h1v1h-1zM97 48h1v1h-1zM127 48h1v1h-1zM56 49h1v1h-1zM82 49h1v1h-1zM130 49h1v1h-1zM153 49h1v1h-1zM27 50h1v1h-1zM59 50h1v1h-1zM107 50h1v1h-1zM133 50h1v1h-1zM17 51h1v1h-1zM85 51h1v1h-1zM154 51h1v1h-1zM62 52h1v1h-1zM94 52h1v1h-1zM132 52h1v1h-1zM143 52h1v1h-1zM159 52h1v1h-1zM13 53h2v1h-2zM61 53h1v1h-1zM91 53h1v1h-1zM109 53h1v1h-1zM141 53h1v1h-1zM44 54h1v1h-1zM127 54h1v1h-1zM130 54h1v1h-1zM146 54h1v1h-1zM16 55h1v1h-1zM24 55h1v1h-1zM35 55h1v1h-1zM49 55h2v1h-2zM55 55h1v1h-1zM85 55h1v1h-1zM132 55h1v1h-1zM6 56h1v1h-1zM24 56h1v1h-1zM76 56h1v1h-1zM109 56h1v1h-1zM120 56h1v1h-1zM152 56h1v1h-1zM155 56h1v1h-1zM14 57h1v1h-1zM38 57h1v1h-1zM69 57h1v1h-1zM109 57h1v1h-1zM156 57h1v1h-1zM11 58h1v1h-1zM27 58h1v1h-1zM43 58h1v1h-1zM49 58h1v1h-1zM79 58h1v1h-1zM144 58h1v1h-1zM148 58h1v1h-1zM155 58h1v1h-1zM6 59h1v1h-1zM17 59h1v1h-1zM45 59h1v1h-1zM104 59h1v1h-1zM137 59h1v1h-1zM127 60h1v1h-1zM140 60h1v1h-1zM143 60h1v1h-1zM40 61h1v1h-1zM58 61h1v1h-1zM114 61h1v1h-1zM143 61h1v1h-1zM145 61h1v1h-1zM153 61h1v1h-1zM27 62h1v1h-1zM82 62h1v1h-1zM124 62h1v1h-1zM22 63h2v1h-2zM47 63h1v1h-1zM60 63h1v1h-1zM99 63h1v1h-1zM147 63h1v1h-1zM156 63h1v1h-1zM24 64h1v1h-1zM27 64h1v1h-1zM99 64h1v1h-1zM118 64h1v1h-1zM135 64h1v1h-1zM24 65h1v1h-1zM39 65h1v1h-1zM113 65h1v1h-1zM122 65h1v1h-1zM142 65h2v1h-2zM147 65h1v1h-1zM154 65h1v1h-1zM11 66h1v1h-1zM108 66h1v1h-1zM142 66h1v1h-1zM147 66h1v1h-1zM121 67h1v1h-1zM3 68h1v1h-1zM72 68h1v1h-1zM100 68h1v1h-1zM107 68h1v1h-1zM148 68h1v1h-1zM73 69h1v1h-1zM87 69h1v1h-1zM85 70h1v1h-1zM27 71h1v1h-1z"/><path fill="#fab572" d="M16 0h1v1h-1zM63 0h1v1h-1zM65 0h1v1h-1zM60 1h1v1h-1zM63 1h1v1h-1zM76 1h1v1h-1zM29 2h1v1h-1zM58 2h1v1h-1zM69 2h1v1h-1zM0 3h1v1h-1zM46 3h2v1h-2zM62 3h2v1h-2zM28 4h1v1h-1zM65 4h1v1h-1zM91 4h1v1h-1zM46 5h1v1h-1zM58 5h1v1h-1zM109 5h1v1h-1zM38 7h1v1h-1zM41 7h1v1h-1zM6 8h1v1h-1zM50 8h1v1h-1zM35 9h2v1h-2zM21 10h1v1h-1zM147 10h1v1h-1zM26 11h1v1h-1zM145 11h1v1h-1zM147 11h1v1h-1zM3 12h1v1h-1zM27 12h1v1h-1zM45 12h1v1h-1zM9 13h1v1h-1zM142 13h1v1h-1zM153 13h1v1h-1zM11 14h1v1h-1zM67 14h1v1h-1zM87 14h1v1h-1zM143 14h1v1h-1zM2 15h1v1h-1zM46 15h1v1h-1zM56 16h1v1h-1zM47 17h1v1h-1zM73 17h1v1h-1zM57 18h1v1h-1zM0 21h1v1h-1zM55 22h1v1h-1zM136 22h1v1h-1zM4 24h1v1h-1zM112 24h1v1h-1zM4 25h1v1h-1zM14 25h1v1h-1zM48 25h1v1h-1zM128 26h1v1h-1zM130 26h1v1h-1zM1 27h1v1h-1zM147 27h1v1h-1zM32 28h1v1h-1zM127 28h1v1h-1zM4 29h1v1h-1zM123 30h2v1h-2zM24 32h1v1h-1zM145 32h1v1h-1zM78 33h1v1h-1zM122 33h1v1h-1zM0 34h1v1h-1zM98 34h1v1h-1zM23 35h1v1h-1zM68 35h1v1h-1zM14 36h1v1h-1zM46 36h1v1h-1zM70 36h1v1h-1zM104 37h1v1h-1zM14 38h1v1h-1zM47 38h1v1h-1zM31 39h1v1h-1zM109 39h1v1h-1zM147 39h1v1h-1zM18 40h1v1h-1zM20 40h1v1h-1zM55 40h1v1h-1zM105 40h1v1h-1zM18 41h1v1h-1zM112 41h1v1h-1zM131 41h1v1h-1zM62 42h1v1h-1zM69 42h1v1h-1zM75 42h1v1h-1zM119 42h1v1h-1zM28 43h1v1h-1zM105 43h1v1h-1zM119 43h1v1h-1zM14 44h1v1h-1zM69 44h1v1h-1zM159 44h1v1h-1zM18 45h1v1h-1zM58 45h1v1h-1zM115 45h1v1h-1zM159 45h1v1h-1zM21 46h1v1h-1zM72 46h1v1h-1zM81 46h1v1h-1zM118 46h1v1h-1zM121 46h1v1h-1zM139 46h1v1h-1zM120 47h1v1h-1zM142 47h1v1h-1zM149 47h1v1h-1zM17 48h1v1h-1zM22 48h1v1h-1zM40 48h1v1h-1zM55 48h1v1h-1zM99 48h1v1h-1zM13 49h1v1h-1zM20 49h1v1h-1zM39 49h1v1h-1zM59 49h1v1h-1zM86 49h1v1h-1zM7 50h1v1h-1zM32 50h1v1h-1zM63 50h1v1h-1zM66 50h1v1h-1zM85 50h1v1h-1zM131 50h1v1h-1zM134 50h1v1h-1zM140 50h1v1h-1zM153 50h1v1h-1zM115 51h1v1h-1zM135 51h1v1h-1zM9 52h1v1h-1zM102 52h1v1h-1zM123 52h1v1h-1zM153 52h1v1h-1zM44 53h2v1h-2zM51 53h1v1h-1zM59 53h1v1h-1zM120 53h1v1h-1zM58 54h1v1h-1zM63 54h1v1h-1zM96 54h1v1h-1zM136 54h1v1h-1zM9 55h1v1h-1zM98 55h1v1h-1zM139 55h1v1h-1zM10 56h1v1h-1zM34 56h1v1h-1zM52 56h1v1h-1zM103 56h1v1h-1zM133 56h1v1h-1zM3 57h1v1h-1zM8 57h1v1h-1zM32 57h1v1h-1zM56 57h1v1h-1zM63 57h1v1h-1zM113 57h1v1h-1zM148 57h1v1h-1zM12 58h1v1h-1zM25 58h2v1h-2zM72 58h1v1h-1zM114 58h1v1h-1zM132 58h1v1h-1zM60 59h1v1h-1zM72 59h1v1h-1zM96 59h1v1h-1zM141 59h1v1h-1zM145 59h1v1h-1zM1 60h1v1h-1zM24 60h1v1h-1zM29 60h1v1h-1zM131 60h1v1h-1zM133 60h1v1h-1zM21 61h1v1h-1zM28 61h1v1h-1zM64 61h1v1h-1zM67 61h1v1h-1zM87 61h1v1h-1zM96 61h1v1h-1zM106 61h1v1h-1zM142 61h1v1h-1zM72 62h2v1h-2zM79 62h1v1h-1zM91 62h1v1h-1zM106 62h1v1h-1zM143 62h1v1h-1zM146 62h1v1h-1zM154 62h1v1h-1zM31 63h1v1h-1zM46 63h1v1h-1zM55 63h1v1h-1zM104 63h1v1h-1zM111 63h1v1h-1zM114 63h1v1h-1zM146 63h1v1h-1zM11 64h1v1h-1zM39 64h1v1h-1zM43 64h1v1h-1zM78 64h1v1h-1zM153 64h1v1h-1zM28 65h1v1h-1zM33 65h1v1h-1zM9 66h1v1h-1zM14 66h1v1h-1zM20 66h1v1h-1zM91 66h1v1h-1zM137 66h1v1h-1zM146 66h1v1h-1zM154 66h1v1h-1zM21 67h1v1h-1zM90 67h1v1h-1zM92 67h1v1h-1zM99 67h1v1h-1zM129 67h2v1h-2zM148 67h1v1h-1zM69 68h2v1h-2zM127 68h1v1h-1zM154 68h1v1h-1zM0 69h1v1h-1zM85 69h1v1h-1zM105 69h1v1h-1zM130 69h1v1h-1zM149 69h1v1h-1zM154 69h1v1h-1zM137 70h1v1h-1zM153 70h1v1h-1zM66 71h1v1h-1zM114 71h1v1h-1zM131 71h1v1h-1zM136 71h1v1h-1zM145 71h1v1h-1z"/><path fill="#fab774" d="M20 0h1v1h-1zM25 0h1v1h-1zM32 0h1v1h-1zM61 0h1v1h-1zM19 1h1v1h-1zM24 1h1v1h-1zM56 1h1v1h-1zM102 1h1v1h-1zM24 2h1v1h-1zM2 3h1v1h-1zM36 3h1v1h-1zM29 5h1v1h-1zM85 5h1v1h-1zM31 6h2v1h-2zM12 7h1v1h-1zM65 7h1v1h-1zM69 7h1v1h-1zM44 8h1v1h-1zM47 8h1v1h-1zM151 8h1v1h-1zM6 9h1v1h-1zM22 9h1v1h-1zM38 9h1v1h-1zM8 10h1v1h-1zM24 10h1v1h-1zM65 10h1v1h-1zM69 10h1v1h-1zM3 11h1v1h-1zM9 11h1v1h-1zM43 11h1v1h-1zM155 11h1v1h-1zM15 12h1v1h-1zM17 12h1v1h-1zM20 12h1v1h-1zM144 12h1v1h-1zM3 13h1v1h-1zM12 13h1v1h-1zM15 13h1v1h-1zM45 13h1v1h-1zM45 14h1v1h-1zM58 14h1v1h-1zM62 14h1v1h-1zM142 14h1v1h-1zM49 15h1v1h-1zM35 16h1v1h-1zM140 16h1v1h-1zM148 16h1v1h-1zM22 17h1v1h-1zM24 17h1v1h-1zM11 19h1v1h-1zM20 19h1v1h-1zM68 19h1v1h-1zM136 19h1v1h-1zM139 19h1v1h-1zM4 20h1v1h-1zM64 20h1v1h-1zM134 20h1v1h-1zM85 21h1v1h-1zM9 22h1v1h-1zM26 22h1v1h-1zM41 22h1v1h-1zM62 22h1v1h-1zM69 22h1v1h-1zM28 23h1v1h-1zM64 24h1v1h-1zM18 25h1v1h-1zM26 25h1v1h-1zM129 25h1v1h-1zM7 26h1v1h-1zM11 26h1v1h-1zM44 27h1v1h-1zM54 27h1v1h-1zM122 27h1v1h-1zM130 27h1v1h-1zM9 28h1v1h-1zM37 28h1v1h-1zM148 29h1v1h-1zM7 30h1v1h-1zM55 30h1v1h-1zM116 30h1v1h-1zM9 31h1v1h-1zM20 31h1v1h-1zM31 31h1v1h-1zM36 31h1v1h-1zM106 31h1v1h-1zM133 31h1v1h-1zM43 32h1v1h-1zM109 32h1v1h-1zM9 33h1v1h-1zM47 33h1v1h-1zM66 33h1v1h-1zM100 33h1v1h-1zM106 33h1v1h-1zM110 33h1v1h-1zM150 33h1v1h-1zM29 34h1v1h-1zM122 34h1v1h-1zM153 34h1v1h-1zM39 35h1v1h-1zM55 35h1v1h-1zM41 36h1v1h-1zM79 36h1v1h-1zM86 36h1v1h-1zM111 36h1v1h-1zM83 37h1v1h-1zM149 37h1v1h-1zM26 38h1v1h-1zM45 38h1v1h-1zM96 38h1v1h-1zM156 38h1v1h-1zM38 39h1v1h-1zM148 39h1v1h-1zM150 39h1v1h-1zM3 40h1v1h-1zM28 40h1v1h-1zM48 40h1v1h-1zM52 40h1v1h-1zM65 40h1v1h-1zM93 40h1v1h-1zM100 40h1v1h-1zM21 41h1v1h-1zM24 41h1v1h-1zM43 41h1v1h-1zM49 41h1v1h-1zM55 41h1v1h-1zM67 41h1v1h-1zM26 42h1v1h-1zM35 42h1v1h-1zM39 42h1v1h-1zM103 42h1v1h-1zM154 42h1v1h-1zM9 43h1v1h-1zM31 43h1v1h-1zM49 43h1v1h-1zM68 43h1v1h-1zM131 43h1v1h-1zM49 44h1v1h-1zM119 44h1v1h-1zM144 44h1v1h-1zM153 44h1v1h-1zM75 45h1v1h-1zM114 45h1v1h-1zM146 45h3v1h-3zM28 46h1v1h-1zM40 46h1v1h-1zM135 46h1v1h-1zM148 46h1v1h-1zM159 46h1v1h-1zM65 47h1v1h-1zM84 47h1v1h-1zM87 47h1v1h-1zM90 47h1v1h-1zM121 47h1v1h-1zM60 48h1v1h-1zM69 48h1v1h-1zM95 48h2v1h-2zM120 48h1v1h-1zM130 48h1v1h-1zM4 49h1v1h-1zM76 49h1v1h-1zM95 49h1v1h-1zM141 49h1v1h-1zM28 50h1v1h-1zM50 50h1v1h-1zM53 50h1v1h-1zM67 50h1v1h-1zM3 51h1v1h-1zM54 51h1v1h-1zM66 51h1v1h-1zM68 51h1v1h-1zM111 51h1v1h-1zM143 51h1v1h-1zM155 51h1v1h-1zM18 52h1v1h-1zM26 52h1v1h-1zM46 52h1v1h-1zM49 52h2v1h-2zM53 52h1v1h-1zM47 53h1v1h-1zM80 53h1v1h-1zM128 53h1v1h-1zM132 53h1v1h-1zM147 53h1v1h-1zM14 54h1v1h-1zM53 54h1v1h-1zM79 54h1v1h-1zM121 54h1v1h-1zM42 55h1v1h-1zM64 55h1v1h-1zM78 55h1v1h-1zM113 55h1v1h-1zM119 55h1v1h-1zM135 55h1v1h-1zM158 55h1v1h-1zM25 56h1v1h-1zM27 56h1v1h-1zM144 56h1v1h-1zM146 56h1v1h-1zM157 56h1v1h-1zM1 57h1v1h-1zM37 57h1v1h-1zM95 57h1v1h-1zM111 57h1v1h-1zM146 57h1v1h-1zM1 58h1v1h-1zM33 58h1v1h-1zM39 58h2v1h-2zM58 58h1v1h-1zM100 58h1v1h-1zM123 58h1v1h-1zM138 58h1v1h-1zM152 58h1v1h-1zM156 58h1v1h-1zM13 59h1v1h-1zM23 59h1v1h-1zM43 59h1v1h-1zM94 59h1v1h-1zM114 59h1v1h-1zM122 59h1v1h-1zM134 59h1v1h-1zM142 59h2v1h-2zM89 60h2v1h-2zM120 60h1v1h-1zM149 60h1v1h-1zM77 61h1v1h-1zM92 61h1v1h-1zM100 61h1v1h-1zM155 61h1v1h-1zM14 62h1v1h-1zM20 62h1v1h-1zM110 62h1v1h-1zM140 62h1v1h-1zM159 62h1v1h-1zM3 63h1v1h-1zM25 63h1v1h-1zM109 63h1v1h-1zM138 63h1v1h-1zM17 64h1v1h-1zM26 64h1v1h-1zM33 64h1v1h-1zM54 64h1v1h-1zM121 64h1v1h-1zM23 65h1v1h-1zM61 65h1v1h-1zM65 65h1v1h-1zM85 65h1v1h-1zM119 65h2v1h-2zM127 65h1v1h-1zM134 65h1v1h-1zM144 65h1v1h-1zM153 65h1v1h-1zM19 66h1v1h-1zM100 66h2v1h-2zM105 66h1v1h-1zM118 66h2v1h-2zM138 66h1v1h-1zM159 66h1v1h-1zM96 67h1v1h-1zM108 67h1v1h-1zM143 67h1v1h-1zM147 67h1v1h-1zM151 67h2v1h-2zM57 68h1v1h-1zM74 68h1v1h-1zM106 68h1v1h-1zM138 68h1v1h-1zM118 69h1v1h-1zM121 69h1v1h-1zM25 70h1v1h-1zM28 70h1v1h-1zM111 70h1v1h-1zM131 70h1v1h-1zM140 70h1v1h-1zM55 71h1v1h-1zM72 71h1v1h-1zM108 71h1v1h-1zM123 71h1v1h-1zM153 71h1v1h-1z"/><path fill="#fab977" d="M69 0h1v1h-1zM131 0h1v1h-1zM21 1h1v1h-1zM58 1h1v1h-1zM66 1h1v1h-1zM99 1h1v1h-1zM6 3h1v1h-1zM57 4h1v1h-1zM67 4h1v1h-1zM7 5h1v1h-1zM11 5h1v1h-1zM66 5h1v1h-1zM7 6h1v1h-1zM13 6h1v1h-1zM64 6h1v1h-1zM16 7h1v1h-1zM87 7h1v1h-1zM64 8h1v1h-1zM43 9h1v1h-1zM3 10h1v1h-1zM17 10h1v1h-1zM43 10h1v1h-1zM45 10h1v1h-1zM148 10h1v1h-1zM73 12h1v1h-1zM21 13h1v1h-1zM72 13h1v1h-1zM5 14h1v1h-1zM17 14h1v1h-1zM22 14h1v1h-1zM26 14h1v1h-1zM28 14h1v1h-1zM4 15h1v1h-1zM20 15h1v1h-1zM56 15h1v1h-1zM91 15h1v1h-1zM33 16h1v1h-1zM46 16h1v1h-1zM36 17h1v1h-1zM139 17h1v1h-1zM20 18h1v1h-1zM53 19h1v1h-1zM5 20h1v1h-1zM8 20h1v1h-1zM24 20h1v1h-1zM39 20h1v1h-1zM4 21h1v1h-1zM6 21h1v1h-1zM14 21h1v1h-1zM21 21h1v1h-1zM68 21h1v1h-1zM134 21h1v1h-1zM8 22h1v1h-1zM9 23h1v1h-1zM31 23h1v1h-1zM43 23h1v1h-1zM45 23h1v1h-1zM68 23h1v1h-1zM23 25h1v1h-1zM27 25h1v1h-1zM61 25h1v1h-1zM69 25h1v1h-1zM28 26h1v1h-1zM35 26h1v1h-1zM43 26h1v1h-1zM69 26h1v1h-1zM129 26h1v1h-1zM14 27h1v1h-1zM26 27h1v1h-1zM30 27h1v1h-1zM45 27h1v1h-1zM100 27h1v1h-1zM126 27h1v1h-1zM44 28h1v1h-1zM145 28h1v1h-1zM149 28h1v1h-1zM35 29h1v1h-1zM57 29h1v1h-1zM68 29h1v1h-1zM126 29h1v1h-1zM58 30h1v1h-1zM69 30h1v1h-1zM76 30h1v1h-1zM25 31h1v1h-1zM82 32h1v1h-1zM111 32h1v1h-1zM116 32h1v1h-1zM2 33h1v1h-1zM62 33h1v1h-1zM65 33h1v1h-1zM76 33h1v1h-1zM120 33h1v1h-1zM148 33h1v1h-1zM21 34h1v1h-1zM24 34h1v1h-1zM64 34h1v1h-1zM108 34h1v1h-1zM50 35h1v1h-1zM78 35h1v1h-1zM114 35h1v1h-1zM3 36h1v1h-1zM43 36h1v1h-1zM48 36h1v1h-1zM68 36h1v1h-1zM80 36h1v1h-1zM31 37h1v1h-1zM36 37h1v1h-1zM43 37h2v1h-2zM49 37h1v1h-1zM107 37h1v1h-1zM109 37h1v1h-1zM71 38h1v1h-1zM92 38h1v1h-1zM74 39h1v1h-1zM89 39h1v1h-1zM94 39h1v1h-1zM21 40h1v1h-1zM102 40h1v1h-1zM11 41h1v1h-1zM72 41h1v1h-1zM74 41h1v1h-1zM77 41h1v1h-1zM3 42h1v1h-1zM63 42h1v1h-1zM27 43h1v1h-1zM30 43h1v1h-1zM46 43h1v1h-1zM104 43h1v1h-1zM109 43h1v1h-1zM111 43h1v1h-1zM148 43h1v1h-1zM48 44h1v1h-1zM62 44h1v1h-1zM112 44h1v1h-1zM130 44h1v1h-1zM140 44h1v1h-1zM22 45h1v1h-1zM44 45h1v1h-1zM81 45h1v1h-1zM145 45h1v1h-1zM15 46h1v1h-1zM23 46h1v1h-1zM26 46h1v1h-1zM39 46h1v1h-1zM59 46h1v1h-1zM65 46h1v1h-1zM78 46h1v1h-1zM119 46h1v1h-1zM123 46h1v1h-1zM141 46h1v1h-1zM146 46h1v1h-1zM26 47h1v1h-1zM43 47h2v1h-2zM63 47h1v1h-1zM95 47h1v1h-1zM130 47h1v1h-1zM5 48h1v1h-1zM23 48h1v1h-1zM53 48h1v1h-1zM87 48h1v1h-1zM90 48h1v1h-1zM123 48h1v1h-1zM143 48h1v1h-1zM21 49h1v1h-1zM90 49h1v1h-1zM94 49h1v1h-1zM143 49h1v1h-1zM9 50h1v1h-1zM38 50h1v1h-1zM68 50h1v1h-1zM76 50h1v1h-1zM82 50h1v1h-1zM150 50h1v1h-1zM147 51h2v1h-2zM4 52h1v1h-1zM23 52h1v1h-1zM41 52h1v1h-1zM45 52h1v1h-1zM47 52h1v1h-1zM56 52h1v1h-1zM64 52h1v1h-1zM114 52h1v1h-1zM128 52h1v1h-1zM138 52h1v1h-1zM141 52h1v1h-1zM150 52h1v1h-1zM10 53h1v1h-1zM17 53h1v1h-1zM41 53h1v1h-1zM48 53h1v1h-1zM121 53h1v1h-1zM126 53h1v1h-1zM158 53h1v1h-1zM0 54h1v1h-1zM35 54h1v1h-1zM47 54h1v1h-1zM87 54h1v1h-1zM110 54h1v1h-1zM113 54h1v1h-1zM148 54h1v1h-1zM23 55h1v1h-1zM25 55h1v1h-1zM32 55h1v1h-1zM43 55h1v1h-1zM100 55h1v1h-1zM122 55h1v1h-1zM140 55h1v1h-1zM1 56h1v1h-1zM3 56h1v1h-1zM13 56h1v1h-1zM101 56h1v1h-1zM119 56h1v1h-1zM134 56h1v1h-1zM60 57h1v1h-1zM85 57h1v1h-1zM90 57h1v1h-1zM110 57h1v1h-1zM129 57h1v1h-1zM2 58h1v1h-1zM30 58h1v1h-1zM133 58h1v1h-1zM135 58h1v1h-1zM140 58h1v1h-1zM147 58h1v1h-1zM149 58h1v1h-1zM19 59h1v1h-1zM29 59h1v1h-1zM35 59h1v1h-1zM58 59h1v1h-1zM70 59h1v1h-1zM124 59h1v1h-1zM156 59h2v1h-2zM14 60h1v1h-1zM28 60h1v1h-1zM42 60h1v1h-1zM45 60h1v1h-1zM58 60h1v1h-1zM69 60h1v1h-1zM83 60h1v1h-1zM134 60h1v1h-1zM50 61h1v1h-1zM101 61h1v1h-1zM146 61h1v1h-1zM150 61h1v1h-1zM154 61h1v1h-1zM32 62h1v1h-1zM56 62h1v1h-1zM64 62h1v1h-1zM77 62h1v1h-1zM85 62h1v1h-1zM122 62h1v1h-1zM144 62h1v1h-1zM150 62h1v1h-1zM5 63h1v1h-1zM12 63h1v1h-1zM17 63h1v1h-1zM29 63h1v1h-1zM48 63h1v1h-1zM122 63h1v1h-1zM152 63h1v1h-1zM8 64h1v1h-1zM35 64h1v1h-1zM64 64h1v1h-1zM86 64h1v1h-1zM104 64h1v1h-1zM119 64h2v1h-2zM133 64h1v1h-1zM27 65h1v1h-1zM41 65h1v1h-1zM49 65h1v1h-1zM2 66h1v1h-1zM83 66h1v1h-1zM95 66h1v1h-1zM104 66h1v1h-1zM124 66h1v1h-1zM150 66h1v1h-1zM152 66h1v1h-1zM47 67h1v1h-1zM116 67h1v1h-1zM135 67h1v1h-1zM144 67h2v1h-2zM154 67h1v1h-1zM2 68h1v1h-1zM24 68h1v1h-1zM89 68h1v1h-1zM131 68h2v1h-2zM147 68h1v1h-1zM156 68h1v1h-1zM5 69h1v1h-1zM12 69h1v1h-1zM101 69h1v1h-1zM113 69h1v1h-1zM122 69h1v1h-1zM151 69h1v1h-1zM156 69h1v1h-1zM22 70h1v1h-1zM32 70h1v1h-1zM99 70h1v1h-1zM108 70h1v1h-1zM118 70h1v1h-1zM130 70h1v1h-1zM28 71h1v1h-1zM116 71h1v1h-1zM120 71h1v1h-1z"/><path fill="#fbbb79" d="M24 0h1v1h-1zM45 1h1v1h-1zM57 1h1v1h-1zM62 1h1v1h-1zM39 2h1v1h-1zM63 2h1v1h-1zM65 2h1v1h-1zM92 2h1v1h-1zM35 3h1v1h-1zM38 3h1v1h-1zM44 3h1v1h-1zM60 3h1v1h-1zM39 4h1v1h-1zM42 4h1v1h-1zM131 4h1v1h-1zM4 5h1v1h-1zM9 5h1v1h-1zM49 5h1v1h-1zM57 5h1v1h-1zM119 5h1v1h-1zM38 6h1v1h-1zM63 6h1v1h-1zM66 6h1v1h-1zM76 6h1v1h-1zM82 6h1v1h-1zM71 8h1v1h-1zM77 8h1v1h-1zM37 9h1v1h-1zM55 9h1v1h-1zM65 9h1v1h-1zM148 9h1v1h-1zM23 10h1v1h-1zM70 10h1v1h-1zM159 11h1v1h-1zM2 12h1v1h-1zM22 12h1v1h-1zM48 12h1v1h-1zM57 12h2v1h-2zM69 12h1v1h-1zM86 12h1v1h-1zM27 14h1v1h-1zM49 14h1v1h-1zM131 14h1v1h-1zM45 15h1v1h-1zM48 15h1v1h-1zM150 15h1v1h-1zM159 15h1v1h-1zM18 16h1v1h-1zM66 17h1v1h-1zM68 17h1v1h-1zM140 17h1v1h-1zM4 18h1v1h-1zM23 18h1v1h-1zM58 18h1v1h-1zM60 18h1v1h-1zM69 18h1v1h-1zM18 19h1v1h-1zM38 19h1v1h-1zM18 20h1v1h-1zM133 20h1v1h-1zM32 21h1v1h-1zM38 21h1v1h-1zM42 21h1v1h-1zM132 21h1v1h-1zM153 21h1v1h-1zM18 22h1v1h-1zM43 22h1v1h-1zM83 22h1v1h-1zM99 22h1v1h-1zM102 23h1v1h-1zM22 24h1v1h-1zM28 24h1v1h-1zM65 24h1v1h-1zM9 25h1v1h-1zM22 25h1v1h-1zM30 25h2v1h-2zM35 25h1v1h-1zM67 25h1v1h-1zM77 25h1v1h-1zM128 25h1v1h-1zM133 25h1v1h-1zM148 25h1v1h-1zM25 26h1v1h-1zM32 26h1v1h-1zM49 26h1v1h-1zM159 26h1v1h-1zM24 28h1v1h-1zM40 28h1v1h-1zM39 29h1v1h-1zM66 29h1v1h-1zM12 30h1v1h-1zM22 30h1v1h-1zM43 30h1v1h-1zM131 30h1v1h-1zM118 31h1v1h-1zM120 31h1v1h-1zM159 31h1v1h-1zM3 32h1v1h-1zM11 32h1v1h-1zM58 32h1v1h-1zM62 32h1v1h-1zM72 32h1v1h-1zM0 33h1v1h-1zM63 33h2v1h-2zM149 33h1v1h-1zM4 34h1v1h-1zM91 34h1v1h-1zM0 35h1v1h-1zM18 35h1v1h-1zM79 35h1v1h-1zM112 35h1v1h-1zM2 36h1v1h-1zM6 36h1v1h-1zM38 36h1v1h-1zM98 36h1v1h-1zM154 36h1v1h-1zM24 37h2v1h-2zM39 37h1v1h-1zM96 37h1v1h-1zM24 38h1v1h-1zM46 38h1v1h-1zM49 38h1v1h-1zM72 38h1v1h-1zM103 38h1v1h-1zM132 38h1v1h-1zM140 38h1v1h-1zM143 38h1v1h-1zM148 38h1v1h-1zM153 38h1v1h-1zM43 39h1v1h-1zM58 39h1v1h-1zM91 39h1v1h-1zM119 39h1v1h-1zM132 39h1v1h-1zM142 39h1v1h-1zM156 39h1v1h-1zM30 40h1v1h-1zM67 40h1v1h-1zM154 40h1v1h-1zM157 40h1v1h-1zM122 41h1v1h-1zM126 41h1v1h-1zM159 41h1v1h-1zM68 42h1v1h-1zM107 42h1v1h-1zM115 42h1v1h-1zM3 43h1v1h-1zM20 43h1v1h-1zM40 43h1v1h-1zM55 43h1v1h-1zM62 43h1v1h-1zM64 43h1v1h-1zM103 43h1v1h-1zM107 43h1v1h-1zM25 44h1v1h-1zM70 44h1v1h-1zM108 45h1v1h-1zM120 45h1v1h-1zM158 45h1v1h-1zM25 46h1v1h-1zM48 46h1v1h-1zM120 46h1v1h-1zM7 47h1v1h-1zM27 47h1v1h-1zM39 47h1v1h-1zM71 47h1v1h-1zM82 47h1v1h-1zM117 47h1v1h-1zM126 47h1v1h-1zM137 47h1v1h-1zM147 47h1v1h-1zM20 48h1v1h-1zM25 48h1v1h-1zM59 48h1v1h-1zM75 48h1v1h-1zM85 48h1v1h-1zM128 48h1v1h-1zM140 48h1v1h-1zM147 48h1v1h-1zM156 48h1v1h-1zM25 49h1v1h-1zM35 49h1v1h-1zM46 49h1v1h-1zM48 49h1v1h-1zM79 49h1v1h-1zM96 49h1v1h-1zM99 49h1v1h-1zM134 49h1v1h-1zM150 49h1v1h-1zM156 49h1v1h-1zM21 50h1v1h-1zM73 50h1v1h-1zM104 50h1v1h-1zM113 50h1v1h-1zM116 50h1v1h-1zM149 50h1v1h-1zM20 51h1v1h-1zM31 51h1v1h-1zM40 51h1v1h-1zM42 51h1v1h-1zM53 51h1v1h-1zM98 51h1v1h-1zM107 51h1v1h-1zM142 51h1v1h-1zM5 52h1v1h-1zM48 52h1v1h-1zM52 52h1v1h-1zM81 52h1v1h-1zM97 52h1v1h-1zM106 52h1v1h-1zM130 52h1v1h-1zM137 52h1v1h-1zM140 52h1v1h-1zM155 52h1v1h-1zM4 53h1v1h-1zM37 53h1v1h-1zM62 53h1v1h-1zM78 53h1v1h-1zM86 53h1v1h-1zM96 53h1v1h-1zM98 53h1v1h-1zM135 53h1v1h-1zM70 54h1v1h-1zM95 54h1v1h-1zM21 55h1v1h-1zM31 55h1v1h-1zM37 55h1v1h-1zM44 55h1v1h-1zM52 55h1v1h-1zM59 55h1v1h-1zM142 55h1v1h-1zM155 55h1v1h-1zM39 56h1v1h-1zM49 56h1v1h-1zM92 56h1v1h-1zM97 56h1v1h-1zM107 56h1v1h-1zM122 56h1v1h-1zM132 56h1v1h-1zM7 57h1v1h-1zM22 57h1v1h-1zM24 57h1v1h-1zM71 57h1v1h-1zM76 57h1v1h-1zM96 57h1v1h-1zM99 57h1v1h-1zM101 57h1v1h-1zM118 57h1v1h-1zM141 57h2v1h-2zM144 57h1v1h-1zM152 57h1v1h-1zM155 57h1v1h-1zM35 58h1v1h-1zM115 58h1v1h-1zM14 59h1v1h-1zM63 59h1v1h-1zM101 59h1v1h-1zM108 59h1v1h-1zM123 59h1v1h-1zM158 59h1v1h-1zM47 60h1v1h-1zM64 60h1v1h-1zM76 60h1v1h-1zM80 60h1v1h-1zM109 60h1v1h-1zM117 60h1v1h-1zM121 60h1v1h-1zM43 61h1v1h-1zM66 61h1v1h-1zM139 61h1v1h-1zM141 61h1v1h-1zM16 62h1v1h-1zM49 62h1v1h-1zM88 62h1v1h-1zM132 62h1v1h-1zM141 62h1v1h-1zM147 62h2v1h-2zM0 63h1v1h-1zM9 63h1v1h-1zM13 63h1v1h-1zM26 63h1v1h-1zM38 63h1v1h-1zM72 63h1v1h-1zM76 63h1v1h-1zM115 63h1v1h-1zM126 63h1v1h-1zM134 63h1v1h-1zM108 64h1v1h-1zM132 64h1v1h-1zM145 64h1v1h-1zM150 64h1v1h-1zM158 64h1v1h-1zM32 65h1v1h-1zM45 65h1v1h-1zM97 65h1v1h-1zM121 65h1v1h-1zM135 65h1v1h-1zM112 66h1v1h-1zM114 66h1v1h-1zM127 66h1v1h-1zM2 67h1v1h-1zM4 67h1v1h-1zM38 67h1v1h-1zM58 67h1v1h-1zM68 67h1v1h-1zM78 67h1v1h-1zM104 67h2v1h-2zM132 67h1v1h-1zM137 67h1v1h-1zM139 67h1v1h-1zM149 67h1v1h-1zM1 68h1v1h-1zM27 68h1v1h-1zM91 68h1v1h-1zM115 68h1v1h-1zM118 68h1v1h-1zM140 68h1v1h-1zM149 68h1v1h-1zM159 68h1v1h-1zM9 69h1v1h-1zM14 69h1v1h-1zM25 69h1v1h-1zM136 69h1v1h-1zM147 69h1v1h-1zM3 70h2v1h-2zM70 70h1v1h-1zM78 70h1v1h-1zM82 70h1v1h-1zM105 70h1v1h-1zM116 70h1v1h-1zM11 71h1v1h-1zM25 71h1v1h-1zM60 71h1v1h-1zM95 71h1v1h-1zM99 71h1v1h-1zM121 71h1v1h-1zM135 71h1v1h-1z"/><path fill="#fbbc7b" d="M34 0h1v1h-1zM64 0h1v1h-1zM87 0h1v1h-1zM126 0h1v1h-1zM26 1h1v1h-1zM28 1h1v1h-1zM55 1h1v1h-1zM71 1h1v1h-1zM100 1h1v1h-1zM67 2h1v1h-1zM27 3h1v1h-1zM39 3h1v1h-1zM49 3h1v1h-1zM48 4h1v1h-1zM63 4h1v1h-1zM76 4h1v1h-1zM157 5h1v1h-1zM36 6h1v1h-1zM43 6h1v1h-1zM53 6h1v1h-1zM151 6h1v1h-1zM57 7h1v1h-1zM62 7h1v1h-1zM9 8h1v1h-1zM56 8h1v1h-1zM67 8h1v1h-1zM15 9h1v1h-1zM46 9h1v1h-1zM58 9h1v1h-1zM150 9h1v1h-1zM156 9h1v1h-1zM159 10h1v1h-1zM4 11h1v1h-1zM10 11h1v1h-1zM24 11h1v1h-1zM41 11h1v1h-1zM46 11h1v1h-1zM48 11h1v1h-1zM51 11h1v1h-1zM68 11h1v1h-1zM109 11h1v1h-1zM143 11h1v1h-1zM13 12h1v1h-1zM70 12h1v1h-1zM131 12h1v1h-1zM4 13h1v1h-1zM8 13h1v1h-1zM18 13h1v1h-1zM69 13h1v1h-1zM71 13h1v1h-1zM21 14h1v1h-1zM74 14h1v1h-1zM33 15h1v1h-1zM0 16h1v1h-1zM10 16h1v1h-1zM15 16h1v1h-1zM25 16h1v1h-1zM141 16h1v1h-1zM19 17h1v1h-1zM26 17h1v1h-1zM131 17h1v1h-1zM25 18h1v1h-1zM33 18h1v1h-1zM40 18h1v1h-1zM149 18h1v1h-1zM29 19h1v1h-1zM32 19h1v1h-1zM39 19h1v1h-1zM63 19h1v1h-1zM134 19h1v1h-1zM3 20h1v1h-1zM22 20h2v1h-2zM32 20h1v1h-1zM36 20h1v1h-1zM51 20h1v1h-1zM15 21h1v1h-1zM61 21h1v1h-1zM65 21h1v1h-1zM145 21h1v1h-1zM24 22h1v1h-1zM63 22h1v1h-1zM59 23h1v1h-1zM105 23h1v1h-1zM33 24h1v1h-1zM74 24h1v1h-1zM114 24h1v1h-1zM153 24h1v1h-1zM20 25h1v1h-1zM82 25h1v1h-1zM0 26h1v1h-1zM21 26h1v1h-1zM39 26h1v1h-1zM133 26h1v1h-1zM69 27h1v1h-1zM111 27h1v1h-1zM125 27h1v1h-1zM17 28h1v1h-1zM91 28h1v1h-1zM27 29h1v1h-1zM46 29h1v1h-1zM109 29h1v1h-1zM4 30h1v1h-1zM45 30h1v1h-1zM48 30h1v1h-1zM71 30h1v1h-1zM159 30h1v1h-1zM6 31h1v1h-1zM26 31h1v1h-1zM45 31h1v1h-1zM8 32h1v1h-1zM12 32h1v1h-1zM38 32h1v1h-1zM76 32h1v1h-1zM92 32h1v1h-1zM132 32h1v1h-1zM21 33h1v1h-1zM48 33h1v1h-1zM30 34h1v1h-1zM36 34h1v1h-1zM39 34h1v1h-1zM58 34h1v1h-1zM107 34h1v1h-1zM131 34h1v1h-1zM14 35h1v1h-1zM34 35h1v1h-1zM44 35h1v1h-1zM46 35h1v1h-1zM54 35h1v1h-1zM102 35h1v1h-1zM131 35h1v1h-1zM145 35h1v1h-1zM8 36h1v1h-1zM40 36h1v1h-1zM61 36h1v1h-1zM92 36h1v1h-1zM102 36h1v1h-1zM159 36h1v1h-1zM9 37h1v1h-1zM34 37h1v1h-1zM52 37h1v1h-1zM62 37h1v1h-1zM141 37h1v1h-1zM7 38h1v1h-1zM25 38h1v1h-1zM41 38h1v1h-1zM44 38h1v1h-1zM59 38h1v1h-1zM73 38h1v1h-1zM122 38h1v1h-1zM133 38h1v1h-1zM149 38h1v1h-1zM45 39h1v1h-1zM65 39h1v1h-1zM90 39h1v1h-1zM106 39h1v1h-1zM0 40h1v1h-1zM4 40h1v1h-1zM31 40h1v1h-1zM129 40h1v1h-1zM150 40h1v1h-1zM17 41h1v1h-1zM20 41h1v1h-1zM48 41h1v1h-1zM101 41h1v1h-1zM142 41h1v1h-1zM148 41h1v1h-1zM47 42h1v1h-1zM55 42h1v1h-1zM7 43h1v1h-1zM71 43h1v1h-1zM120 43h1v1h-1zM26 44h1v1h-1zM43 44h1v1h-1zM2 45h1v1h-1zM21 45h1v1h-1zM31 45h1v1h-1zM47 45h1v1h-1zM89 45h1v1h-1zM143 45h1v1h-1zM35 46h1v1h-1zM133 46h1v1h-1zM17 47h2v1h-2zM64 47h1v1h-1zM124 47h1v1h-1zM143 47h1v1h-1zM7 48h1v1h-1zM13 48h1v1h-1zM145 48h1v1h-1zM77 49h1v1h-1zM124 49h1v1h-1zM140 49h1v1h-1zM10 50h1v1h-1zM43 50h1v1h-1zM77 50h1v1h-1zM87 50h1v1h-1zM123 50h1v1h-1zM156 50h1v1h-1zM30 51h1v1h-1zM82 51h1v1h-1zM96 51h2v1h-2zM103 51h1v1h-1zM150 51h3v1h-3zM40 52h1v1h-1zM61 52h1v1h-1zM117 52h1v1h-1zM147 52h1v1h-1zM149 52h1v1h-1zM16 53h1v1h-1zM32 53h1v1h-1zM38 53h1v1h-1zM54 53h1v1h-1zM65 53h1v1h-1zM114 53h1v1h-1zM3 54h1v1h-1zM9 54h1v1h-1zM23 54h1v1h-1zM46 54h1v1h-1zM55 54h1v1h-1zM86 54h1v1h-1zM102 54h1v1h-1zM116 54h1v1h-1zM129 54h1v1h-1zM151 54h1v1h-1zM13 55h1v1h-1zM51 55h1v1h-1zM53 55h1v1h-1zM103 55h1v1h-1zM106 55h1v1h-1zM115 55h1v1h-1zM9 56h1v1h-1zM18 56h1v1h-1zM115 56h1v1h-1zM129 56h1v1h-1zM4 57h1v1h-1zM13 57h1v1h-1zM26 57h2v1h-2zM91 57h1v1h-1zM134 57h1v1h-1zM15 58h1v1h-1zM23 58h1v1h-1zM36 58h1v1h-1zM56 58h1v1h-1zM66 58h1v1h-1zM76 58h1v1h-1zM84 58h1v1h-1zM109 58h1v1h-1zM129 58h1v1h-1zM10 59h1v1h-1zM15 59h1v1h-1zM26 59h1v1h-1zM37 59h1v1h-1zM55 59h1v1h-1zM98 59h1v1h-1zM121 59h1v1h-1zM5 60h1v1h-1zM27 60h1v1h-1zM77 60h1v1h-1zM95 60h1v1h-1zM116 60h1v1h-1zM148 60h1v1h-1zM68 61h1v1h-1zM103 61h1v1h-1zM144 61h1v1h-1zM151 61h1v1h-1zM8 62h1v1h-1zM24 62h1v1h-1zM68 62h1v1h-1zM92 62h1v1h-1zM101 62h1v1h-1zM116 62h1v1h-1zM138 62h1v1h-1zM157 62h1v1h-1zM14 63h2v1h-2zM80 63h1v1h-1zM102 63h2v1h-2zM121 63h1v1h-1zM132 63h1v1h-1zM142 63h1v1h-1zM148 63h1v1h-1zM157 63h2v1h-2zM1 64h1v1h-1zM10 64h1v1h-1zM34 64h1v1h-1zM45 64h1v1h-1zM102 64h1v1h-1zM105 64h1v1h-1zM122 64h1v1h-1zM126 64h1v1h-1zM155 64h1v1h-1zM7 65h1v1h-1zM17 65h1v1h-1zM101 65h1v1h-1zM136 65h1v1h-1zM145 65h1v1h-1zM21 66h1v1h-1zM28 66h1v1h-1zM39 66h1v1h-1zM45 66h1v1h-1zM48 66h1v1h-1zM68 66h1v1h-1zM99 66h1v1h-1zM126 66h1v1h-1zM129 66h1v1h-1zM141 66h1v1h-1zM148 66h1v1h-1zM157 66h1v1h-1zM28 67h1v1h-1zM45 67h1v1h-1zM52 67h1v1h-1zM76 67h1v1h-1zM95 67h1v1h-1zM106 67h1v1h-1zM126 67h1v1h-1zM29 68h1v1h-1zM71 68h1v1h-1zM96 68h1v1h-1zM155 68h1v1h-1zM17 69h1v1h-1zM43 69h1v1h-1zM69 69h1v1h-1zM102 69h1v1h-1zM106 69h1v1h-1zM114 69h1v1h-1zM29 70h1v1h-1zM31 70h1v1h-1zM39 70h1v1h-1zM46 70h1v1h-1zM56 70h1v1h-1zM86 70h2v1h-2zM106 70h1v1h-1zM121 70h1v1h-1zM43 71h1v1h-1zM104 71h2v1h-2zM134 71h1v1h-1zM141 71h1v1h-1z"/><path fill="#fbbe7e" d="M27 0h1v1h-1zM58 0h1v1h-1zM115 0h1v1h-1zM22 1h1v1h-1zM30 1h1v1h-1zM51 2h1v1h-1zM105 2h1v1h-1zM124 2h1v1h-1zM59 3h1v1h-1zM7 4h1v1h-1zM31 5h1v1h-1zM38 5h1v1h-1zM60 5h1v1h-1zM62 5h1v1h-1zM64 5h1v1h-1zM151 5h1v1h-1zM11 6h2v1h-2zM35 6h1v1h-1zM45 6h1v1h-1zM55 6h1v1h-1zM58 6h1v1h-1zM62 6h1v1h-1zM148 6h1v1h-1zM53 7h1v1h-1zM64 7h1v1h-1zM45 8h1v1h-1zM149 9h1v1h-1zM66 10h1v1h-1zM8 11h1v1h-1zM14 11h1v1h-1zM23 11h1v1h-1zM157 11h1v1h-1zM28 12h1v1h-1zM0 13h1v1h-1zM6 13h1v1h-1zM61 13h1v1h-1zM63 13h1v1h-1zM7 14h1v1h-1zM10 14h1v1h-1zM32 14h1v1h-1zM55 14h1v1h-1zM57 14h1v1h-1zM106 14h1v1h-1zM154 14h1v1h-1zM23 15h1v1h-1zM113 15h1v1h-1zM13 16h1v1h-1zM21 16h1v1h-1zM9 17h1v1h-1zM18 17h1v1h-1zM75 17h1v1h-1zM11 18h1v1h-1zM27 18h1v1h-1zM68 18h1v1h-1zM137 18h1v1h-1zM144 18h1v1h-1zM9 19h1v1h-1zM21 19h1v1h-1zM27 19h1v1h-1zM99 19h1v1h-1zM153 19h1v1h-1zM19 20h1v1h-1zM27 20h1v1h-1zM143 20h1v1h-1zM62 21h1v1h-1zM136 21h1v1h-1zM140 21h1v1h-1zM3 22h1v1h-1zM7 22h1v1h-1zM27 23h1v1h-1zM39 23h1v1h-1zM60 23h1v1h-1zM135 23h1v1h-1zM39 24h1v1h-1zM149 24h1v1h-1zM154 24h1v1h-1zM11 25h1v1h-1zM32 25h1v1h-1zM72 25h1v1h-1zM85 26h1v1h-1zM126 26h1v1h-1zM132 26h1v1h-1zM46 27h1v1h-1zM64 27h1v1h-1zM144 27h1v1h-1zM46 28h1v1h-1zM49 28h1v1h-1zM73 28h1v1h-1zM76 28h1v1h-1zM83 28h1v1h-1zM85 28h1v1h-1zM119 28h2v1h-2zM6 29h1v1h-1zM23 29h1v1h-1zM38 29h1v1h-1zM49 29h1v1h-1zM56 29h1v1h-1zM113 29h1v1h-1zM27 30h1v1h-1zM41 30h1v1h-1zM57 30h1v1h-1zM91 30h1v1h-1zM2 31h1v1h-1zM30 31h1v1h-1zM41 31h1v1h-1zM55 31h1v1h-1zM91 31h1v1h-1zM98 31h1v1h-1zM14 32h1v1h-1zM17 32h1v1h-1zM28 32h2v1h-2zM42 32h1v1h-1zM46 32h1v1h-1zM94 32h1v1h-1zM104 32h1v1h-1zM118 32h1v1h-1zM120 32h2v1h-2zM143 32h1v1h-1zM6 33h1v1h-1zM25 33h2v1h-2zM46 33h1v1h-1zM14 34h1v1h-1zM23 34h1v1h-1zM31 34h1v1h-1zM86 34h1v1h-1zM94 34h1v1h-1zM106 34h1v1h-1zM134 34h1v1h-1zM148 34h1v1h-1zM154 34h1v1h-1zM17 35h1v1h-1zM25 35h1v1h-1zM47 35h1v1h-1zM67 35h1v1h-1zM100 35h1v1h-1zM140 35h1v1h-1zM159 35h1v1h-1zM5 36h1v1h-1zM9 36h1v1h-1zM144 36h1v1h-1zM19 37h1v1h-1zM22 37h1v1h-1zM48 37h1v1h-1zM58 37h1v1h-1zM70 37h1v1h-1zM81 37h1v1h-1zM91 37h1v1h-1zM131 37h1v1h-1zM63 38h1v1h-1zM95 38h1v1h-1zM98 38h1v1h-1zM119 38h1v1h-1zM154 38h1v1h-1zM11 39h1v1h-1zM20 39h2v1h-2zM28 39h1v1h-1zM68 39h1v1h-1zM138 39h1v1h-1zM141 39h1v1h-1zM1 40h1v1h-1zM14 40h1v1h-1zM35 40h1v1h-1zM47 40h1v1h-1zM50 40h1v1h-1zM53 40h1v1h-1zM27 41h1v1h-1zM39 41h1v1h-1zM44 42h1v1h-1zM64 42h1v1h-1zM44 43h1v1h-1zM57 43h1v1h-1zM65 43h1v1h-1zM133 43h1v1h-1zM12 44h1v1h-1zM58 44h1v1h-1zM72 44h1v1h-1zM114 44h1v1h-1zM147 44h1v1h-1zM8 45h1v1h-1zM14 45h1v1h-1zM24 45h1v1h-1zM65 45h1v1h-1zM151 45h1v1h-1zM154 45h1v1h-1zM18 46h1v1h-1zM156 46h1v1h-1zM25 47h1v1h-1zM135 47h1v1h-1zM156 47h1v1h-1zM42 48h1v1h-1zM61 48h1v1h-1zM136 48h1v1h-1zM12 49h1v1h-1zM19 49h1v1h-1zM28 49h1v1h-1zM33 49h1v1h-1zM45 49h1v1h-1zM49 49h1v1h-1zM61 49h1v1h-1zM139 49h1v1h-1zM147 49h1v1h-1zM22 50h1v1h-1zM46 50h1v1h-1zM69 50h1v1h-1zM75 50h1v1h-1zM92 50h1v1h-1zM129 50h1v1h-1zM148 50h1v1h-1zM104 51h1v1h-1zM134 51h1v1h-1zM153 51h1v1h-1zM31 52h1v1h-1zM103 52h1v1h-1zM139 52h1v1h-1zM12 53h1v1h-1zM20 53h1v1h-1zM24 53h1v1h-1zM39 53h1v1h-1zM87 53h1v1h-1zM108 53h1v1h-1zM111 53h1v1h-1zM151 53h1v1h-1zM27 54h1v1h-1zM32 54h1v1h-1zM34 54h1v1h-1zM154 54h1v1h-1zM14 55h1v1h-1zM34 55h1v1h-1zM45 55h1v1h-1zM65 55h1v1h-1zM91 55h1v1h-1zM124 55h1v1h-1zM133 55h1v1h-1zM2 56h1v1h-1zM16 56h1v1h-1zM20 56h1v1h-1zM105 56h1v1h-1zM130 56h1v1h-1zM136 56h1v1h-1zM65 57h1v1h-1zM70 57h1v1h-1zM114 57h2v1h-2zM132 57h1v1h-1zM121 58h1v1h-1zM130 58h1v1h-1zM7 59h1v1h-1zM32 59h1v1h-1zM49 59h1v1h-1zM62 59h1v1h-1zM67 59h1v1h-1zM100 59h1v1h-1zM115 59h1v1h-1zM149 59h1v1h-1zM23 60h1v1h-1zM30 60h1v1h-1zM62 60h1v1h-1zM85 60h1v1h-1zM91 60h1v1h-1zM93 60h1v1h-1zM101 60h1v1h-1zM122 60h1v1h-1zM2 61h1v1h-1zM20 61h1v1h-1zM27 61h1v1h-1zM62 61h1v1h-1zM113 61h1v1h-1zM115 61h1v1h-1zM120 61h2v1h-2zM148 61h1v1h-1zM2 62h1v1h-1zM46 62h1v1h-1zM69 62h1v1h-1zM114 62h1v1h-1zM123 62h1v1h-1zM18 63h1v1h-1zM28 63h1v1h-1zM97 63h1v1h-1zM133 63h1v1h-1zM136 63h1v1h-1zM77 64h1v1h-1zM107 64h1v1h-1zM136 64h1v1h-1zM147 64h1v1h-1zM38 65h1v1h-1zM71 65h2v1h-2zM79 65h1v1h-1zM114 65h1v1h-1zM118 65h1v1h-1zM124 65h1v1h-1zM5 66h1v1h-1zM29 66h1v1h-1zM43 66h1v1h-1zM52 66h1v1h-1zM64 66h1v1h-1zM122 66h1v1h-1zM132 66h1v1h-1zM155 66h1v1h-1zM27 67h1v1h-1zM30 67h1v1h-1zM111 67h1v1h-1zM113 67h1v1h-1zM138 67h1v1h-1zM26 68h1v1h-1zM41 68h1v1h-1zM43 68h1v1h-1zM52 68h1v1h-1zM83 68h1v1h-1zM90 68h1v1h-1zM103 68h2v1h-2zM123 68h2v1h-2zM135 68h1v1h-1zM137 68h1v1h-1zM13 69h1v1h-1zM28 69h1v1h-1zM32 69h1v1h-1zM44 69h1v1h-1zM50 69h1v1h-1zM84 69h1v1h-1zM141 69h1v1h-1zM21 70h1v1h-1zM62 70h1v1h-1zM98 70h1v1h-1zM104 70h1v1h-1zM119 70h1v1h-1zM12 71h1v1h-1zM14 71h1v1h-1zM33 71h1v1h-1zM45 71h1v1h-1zM61 71h1v1h-1zM82 71h1v1h-1zM87 71h1v1h-1zM96 71h1v1h-1zM100 71h1v1h-1zM106 71h2v1h-2zM118 71h1v1h-1z"/><path fill="#fbc080" d="M22 0h1v1h-1zM54 0h1v1h-1zM122 0h1v1h-1zM35 1h1v1h-1zM69 1h1v1h-1zM104 1h1v1h-1zM114 1h2v1h-2zM4 2h1v1h-1zM52 2h1v1h-1zM62 2h1v1h-1zM78 2h1v1h-1zM91 2h1v1h-1zM4 3h1v1h-1zM52 3h1v1h-1zM68 3h1v1h-1zM2 4h1v1h-1zM29 4h1v1h-1zM47 4h1v1h-1zM60 4h1v1h-1zM66 4h1v1h-1zM83 4h1v1h-1zM149 4h1v1h-1zM56 5h1v1h-1zM68 5h1v1h-1zM101 5h1v1h-1zM9 6h1v1h-1zM29 6h1v1h-1zM33 6h1v1h-1zM67 6h1v1h-1zM7 7h1v1h-1zM9 7h1v1h-1zM34 7h1v1h-1zM42 7h1v1h-1zM71 7h1v1h-1zM7 8h1v1h-1zM18 8h1v1h-1zM58 8h1v1h-1zM76 8h1v1h-1zM108 8h1v1h-1zM16 9h1v1h-1zM40 9h1v1h-1zM49 9h1v1h-1zM53 9h1v1h-1zM61 9h1v1h-1zM53 10h1v1h-1zM73 10h1v1h-1zM22 11h1v1h-1zM65 11h1v1h-1zM77 11h1v1h-1zM29 12h1v1h-1zM46 12h1v1h-1zM30 13h1v1h-1zM46 13h1v1h-1zM67 13h1v1h-1zM0 14h1v1h-1zM3 14h1v1h-1zM65 14h2v1h-2zM73 14h1v1h-1zM82 14h1v1h-1zM113 14h1v1h-1zM0 15h1v1h-1zM5 15h1v1h-1zM7 15h1v1h-1zM14 15h1v1h-1zM68 15h1v1h-1zM76 15h1v1h-1zM3 16h1v1h-1zM6 16h1v1h-1zM14 16h1v1h-1zM23 16h1v1h-1zM36 16h1v1h-1zM52 16h3v1h-3zM70 16h1v1h-1zM138 16h1v1h-1zM2 17h1v1h-1zM12 17h1v1h-1zM14 17h1v1h-1zM60 17h1v1h-1zM62 17h1v1h-1zM38 18h1v1h-1zM51 18h1v1h-1zM54 18h1v1h-1zM148 18h1v1h-1zM19 19h1v1h-1zM30 19h1v1h-1zM33 19h1v1h-1zM52 19h1v1h-1zM145 19h1v1h-1zM11 20h1v1h-1zM20 20h1v1h-1zM52 20h1v1h-1zM59 20h1v1h-1zM68 20h1v1h-1zM153 20h1v1h-1zM9 21h1v1h-1zM13 21h1v1h-1zM30 21h1v1h-1zM39 21h1v1h-1zM76 21h1v1h-1zM4 22h1v1h-1zM13 22h1v1h-1zM58 22h1v1h-1zM71 22h1v1h-1zM87 22h1v1h-1zM16 23h1v1h-1zM23 23h2v1h-2zM26 23h1v1h-1zM47 23h1v1h-1zM58 23h1v1h-1zM61 23h2v1h-2zM64 23h1v1h-1zM122 23h1v1h-1zM151 23h1v1h-1zM2 24h1v1h-1zM8 24h1v1h-1zM21 24h1v1h-1zM23 24h1v1h-1zM48 24h1v1h-1zM67 24h1v1h-1zM37 25h1v1h-1zM50 25h1v1h-1zM70 25h1v1h-1zM91 25h1v1h-1zM145 25h1v1h-1zM5 26h1v1h-1zM30 26h1v1h-1zM63 26h1v1h-1zM77 26h1v1h-1zM91 26h1v1h-1zM0 27h1v1h-1zM3 27h1v1h-1zM85 27h3v1h-3zM19 28h1v1h-1zM33 28h1v1h-1zM38 28h1v1h-1zM52 28h1v1h-1zM66 28h1v1h-1zM147 28h1v1h-1zM21 29h1v1h-1zM51 29h1v1h-1zM123 29h2v1h-2zM131 29h1v1h-1zM138 29h1v1h-1zM147 29h1v1h-1zM14 30h1v1h-1zM44 30h1v1h-1zM46 30h1v1h-1zM68 30h1v1h-1zM95 30h1v1h-1zM18 31h1v1h-1zM32 31h1v1h-1zM102 31h1v1h-1zM53 32h1v1h-1zM73 32h1v1h-1zM110 32h1v1h-1zM122 32h1v1h-1zM24 33h1v1h-1zM40 33h1v1h-1zM44 33h1v1h-1zM83 33h1v1h-1zM109 33h1v1h-1zM9 34h1v1h-1zM17 34h2v1h-2zM32 34h1v1h-1zM55 34h1v1h-1zM100 34h1v1h-1zM104 34h1v1h-1zM137 34h1v1h-1zM159 34h1v1h-1zM45 35h1v1h-1zM57 35h1v1h-1zM99 35h1v1h-1zM124 35h1v1h-1zM133 35h1v1h-1zM16 36h1v1h-1zM23 36h1v1h-1zM33 36h1v1h-1zM97 36h1v1h-1zM103 36h1v1h-1zM124 36h1v1h-1zM7 37h1v1h-1zM15 37h1v1h-1zM27 37h1v1h-1zM67 37h1v1h-1zM97 37h1v1h-1zM153 37h2v1h-2zM13 38h1v1h-1zM19 38h1v1h-1zM40 38h1v1h-1zM74 38h1v1h-1zM107 38h1v1h-1zM37 39h1v1h-1zM53 39h1v1h-1zM62 39h1v1h-1zM72 39h1v1h-1zM93 39h1v1h-1zM131 39h1v1h-1zM143 39h1v1h-1zM16 40h1v1h-1zM133 40h1v1h-1zM147 40h1v1h-1zM153 40h1v1h-1zM159 40h1v1h-1zM104 41h1v1h-1zM114 41h1v1h-1zM143 41h1v1h-1zM146 41h1v1h-1zM16 42h1v1h-1zM21 42h1v1h-1zM28 42h1v1h-1zM38 42h1v1h-1zM25 43h1v1h-1zM29 43h1v1h-1zM130 43h1v1h-1zM31 44h1v1h-1zM46 44h1v1h-1zM65 44h1v1h-1zM67 44h1v1h-1zM73 44h1v1h-1zM111 44h1v1h-1zM135 44h1v1h-1zM9 45h1v1h-1zM40 45h1v1h-1zM46 45h1v1h-1zM55 45h1v1h-1zM62 45h2v1h-2zM119 45h1v1h-1zM7 46h1v1h-1zM31 46h2v1h-2zM42 46h1v1h-1zM45 46h1v1h-1zM47 46h1v1h-1zM66 46h1v1h-1zM131 46h2v1h-2zM147 46h1v1h-1zM155 46h1v1h-1zM9 47h1v1h-1zM12 47h1v1h-1zM48 47h1v1h-1zM54 47h1v1h-1zM153 47h1v1h-1zM58 48h1v1h-1zM70 48h1v1h-1zM83 48h1v1h-1zM133 48h1v1h-1zM138 48h1v1h-1zM29 49h3v1h-3zM37 49h1v1h-1zM84 49h2v1h-2zM148 49h1v1h-1zM157 49h1v1h-1zM98 50h1v1h-1zM128 50h1v1h-1zM29 51h1v1h-1zM67 51h1v1h-1zM79 51h1v1h-1zM99 51h1v1h-1zM10 52h1v1h-1zM12 52h1v1h-1zM24 52h1v1h-1zM84 52h1v1h-1zM105 52h1v1h-1zM110 52h2v1h-2zM122 52h1v1h-1zM6 53h1v1h-1zM33 53h1v1h-1zM36 53h1v1h-1zM53 53h1v1h-1zM83 53h1v1h-1zM18 54h1v1h-1zM28 54h1v1h-1zM39 54h1v1h-1zM52 54h1v1h-1zM62 54h1v1h-1zM71 54h2v1h-2zM112 54h1v1h-1zM46 55h1v1h-1zM66 55h1v1h-1zM101 55h1v1h-1zM111 55h1v1h-1zM118 55h1v1h-1zM127 55h2v1h-2zM136 55h1v1h-1zM15 56h1v1h-1zM40 56h2v1h-2zM59 56h1v1h-1zM64 56h2v1h-2zM95 56h1v1h-1zM18 57h1v1h-1zM44 57h1v1h-1zM106 57h1v1h-1zM108 57h1v1h-1zM139 57h1v1h-1zM0 58h1v1h-1zM16 58h1v1h-1zM46 58h1v1h-1zM55 58h1v1h-1zM85 58h1v1h-1zM94 58h1v1h-1zM99 58h1v1h-1zM113 58h1v1h-1zM119 58h1v1h-1zM134 58h1v1h-1zM145 58h1v1h-1zM0 59h1v1h-1zM48 59h1v1h-1zM64 59h1v1h-1zM71 59h1v1h-1zM97 59h1v1h-1zM111 59h1v1h-1zM127 59h1v1h-1zM139 59h1v1h-1zM6 60h1v1h-1zM17 60h1v1h-1zM65 60h1v1h-1zM82 60h1v1h-1zM102 60h1v1h-1zM128 60h1v1h-1zM152 60h1v1h-1zM156 60h1v1h-1zM12 61h1v1h-1zM22 61h1v1h-1zM34 61h1v1h-1zM38 61h2v1h-2zM60 61h1v1h-1zM76 61h1v1h-1zM78 61h1v1h-1zM83 61h1v1h-1zM91 61h1v1h-1zM137 61h1v1h-1zM75 62h1v1h-1zM87 62h1v1h-1zM103 62h1v1h-1zM120 62h1v1h-1zM136 62h2v1h-2zM32 63h1v1h-1zM58 63h1v1h-1zM61 63h1v1h-1zM71 63h1v1h-1zM78 63h1v1h-1zM87 63h2v1h-2zM106 63h1v1h-1zM150 63h1v1h-1zM12 64h1v1h-1zM37 64h1v1h-1zM50 64h1v1h-1zM55 64h1v1h-1zM83 64h1v1h-1zM103 64h1v1h-1zM112 64h1v1h-1zM115 64h1v1h-1zM128 64h1v1h-1zM140 64h2v1h-2zM58 65h1v1h-1zM68 65h1v1h-1zM88 65h1v1h-1zM151 65h1v1h-1zM155 65h2v1h-2zM0 66h1v1h-1zM15 66h1v1h-1zM46 66h1v1h-1zM58 66h1v1h-1zM67 66h1v1h-1zM72 66h1v1h-1zM80 66h1v1h-1zM130 66h1v1h-1zM8 67h1v1h-1zM11 67h1v1h-1zM31 67h1v1h-1zM39 67h1v1h-1zM61 67h1v1h-1zM85 67h1v1h-1zM140 67h1v1h-1zM153 67h1v1h-1zM53 68h1v1h-1zM76 68h1v1h-1zM82 68h1v1h-1zM98 68h1v1h-1zM150 68h1v1h-1zM7 69h1v1h-1zM20 69h1v1h-1zM35 69h1v1h-1zM37 69h1v1h-1zM42 69h1v1h-1zM65 69h1v1h-1zM72 69h1v1h-1zM103 69h1v1h-1zM123 69h1v1h-1zM132 69h1v1h-1zM145 69h1v1h-1zM44 70h1v1h-1zM47 70h1v1h-1zM57 70h1v1h-1zM103 70h1v1h-1zM112 70h1v1h-1zM115 70h1v1h-1zM4 71h1v1h-1zM24 71h1v1h-1zM138 71h1v1h-1zM143 71h1v1h-1zM150 71h1v1h-1zM154 71h2v1h-2zM158 71h1v1h-1z"/><path fill="#fbc282" d="M38 0h1v1h-1zM53 0h1v1h-1zM60 0h1v1h-1zM77 0h1v1h-1zM100 0h1v1h-1zM142 0h1v1h-1zM27 1h1v1h-1zM31 1h1v1h-1zM51 1h1v1h-1zM149 1h1v1h-1zM66 2h1v1h-1zM72 2h1v1h-1zM121 2h1v1h-1zM40 3h2v1h-2zM64 3h1v1h-1zM103 3h1v1h-1zM153 3h1v1h-1zM158 3h1v1h-1zM31 4h1v1h-1zM36 4h1v1h-1zM51 4h1v1h-1zM56 4h1v1h-1zM58 4h1v1h-1zM156 4h1v1h-1zM3 5h1v1h-1zM8 5h1v1h-1zM30 5h1v1h-1zM34 5h1v1h-1zM43 5h1v1h-1zM55 5h1v1h-1zM106 5h1v1h-1zM143 5h1v1h-1zM8 7h1v1h-1zM33 7h1v1h-1zM109 7h1v1h-1zM122 7h1v1h-1zM19 8h1v1h-1zM36 8h1v1h-1zM40 8h1v1h-1zM62 8h1v1h-1zM148 8h1v1h-1zM39 9h1v1h-1zM45 9h1v1h-1zM63 9h1v1h-1zM71 10h1v1h-1zM15 11h1v1h-1zM47 11h1v1h-1zM60 11h1v1h-1zM21 12h1v1h-1zM62 12h1v1h-1zM76 12h1v1h-1zM156 12h1v1h-1zM11 13h1v1h-1zM27 13h1v1h-1zM91 13h1v1h-1zM121 13h1v1h-1zM156 13h1v1h-1zM23 14h1v1h-1zM43 14h1v1h-1zM69 14h1v1h-1zM72 14h1v1h-1zM18 15h1v1h-1zM29 15h1v1h-1zM51 15h1v1h-1zM60 15h1v1h-1zM111 15h1v1h-1zM2 16h1v1h-1zM5 16h1v1h-1zM20 16h1v1h-1zM24 16h1v1h-1zM28 17h1v1h-1zM37 17h1v1h-1zM53 17h1v1h-1zM59 17h1v1h-1zM15 18h1v1h-1zM22 18h1v1h-1zM30 18h1v1h-1zM32 18h1v1h-1zM70 18h1v1h-1zM87 18h1v1h-1zM114 18h1v1h-1zM122 18h1v1h-1zM145 18h1v1h-1zM159 18h1v1h-1zM22 19h1v1h-1zM65 19h1v1h-1zM13 20h1v1h-1zM28 20h1v1h-1zM24 21h1v1h-1zM29 21h1v1h-1zM56 21h1v1h-1zM64 21h1v1h-1zM20 22h1v1h-1zM44 22h1v1h-1zM10 23h1v1h-1zM12 24h2v1h-2zM42 24h1v1h-1zM59 24h2v1h-2zM76 24h1v1h-1zM97 24h1v1h-1zM113 24h1v1h-1zM134 24h1v1h-1zM159 24h1v1h-1zM3 25h1v1h-1zM6 25h1v1h-1zM21 25h1v1h-1zM119 25h1v1h-1zM27 26h1v1h-1zM36 26h1v1h-1zM148 26h1v1h-1zM4 27h1v1h-1zM23 27h1v1h-1zM128 27h1v1h-1zM14 28h1v1h-1zM27 28h1v1h-1zM118 28h1v1h-1zM153 28h1v1h-1zM11 29h1v1h-1zM18 29h1v1h-1zM50 29h1v1h-1zM125 29h1v1h-1zM6 30h1v1h-1zM9 30h1v1h-1zM20 30h1v1h-1zM56 30h1v1h-1zM70 30h1v1h-1zM73 30h1v1h-1zM98 30h1v1h-1zM19 31h1v1h-1zM46 31h1v1h-1zM76 31h1v1h-1zM108 31h1v1h-1zM122 31h1v1h-1zM13 32h1v1h-1zM48 32h1v1h-1zM59 32h1v1h-1zM102 32h1v1h-1zM106 32h1v1h-1zM15 33h1v1h-1zM30 33h1v1h-1zM99 33h1v1h-1zM117 33h1v1h-1zM119 33h1v1h-1zM144 33h1v1h-1zM157 33h1v1h-1zM57 34h1v1h-1zM145 34h1v1h-1zM49 35h1v1h-1zM53 35h1v1h-1zM64 35h1v1h-1zM15 36h1v1h-1zM25 36h1v1h-1zM27 36h1v1h-1zM36 36h1v1h-1zM123 36h1v1h-1zM131 36h1v1h-1zM142 36h1v1h-1zM155 36h1v1h-1zM3 37h1v1h-1zM28 37h1v1h-1zM40 37h1v1h-1zM63 37h1v1h-1zM88 37h1v1h-1zM111 37h1v1h-1zM134 37h1v1h-1zM159 37h1v1h-1zM28 38h1v1h-1zM38 38h1v1h-1zM51 38h1v1h-1zM94 38h1v1h-1zM152 38h1v1h-1zM12 39h1v1h-1zM27 39h1v1h-1zM41 39h1v1h-1zM47 39h1v1h-1zM139 39h1v1h-1zM2 40h1v1h-1zM12 40h1v1h-1zM26 40h1v1h-1zM32 40h1v1h-1zM69 40h1v1h-1zM73 40h2v1h-2zM126 40h1v1h-1zM140 40h1v1h-1zM145 40h1v1h-1zM149 40h1v1h-1zM2 41h1v1h-1zM26 41h1v1h-1zM68 41h1v1h-1zM107 41h2v1h-2zM141 41h1v1h-1zM9 42h1v1h-1zM13 42h1v1h-1zM18 42h1v1h-1zM20 42h1v1h-1zM22 42h1v1h-1zM25 42h1v1h-1zM50 42h1v1h-1zM102 42h1v1h-1zM123 42h1v1h-1zM151 42h1v1h-1zM0 43h1v1h-1zM14 43h1v1h-1zM32 43h1v1h-1zM153 43h2v1h-2zM10 44h1v1h-1zM27 44h1v1h-1zM36 44h1v1h-1zM40 44h1v1h-1zM44 44h1v1h-1zM71 44h1v1h-1zM113 44h1v1h-1zM118 44h1v1h-1zM138 44h1v1h-1zM28 45h2v1h-2zM38 45h1v1h-1zM121 45h1v1h-1zM138 45h1v1h-1zM149 45h1v1h-1zM3 46h1v1h-1zM5 46h1v1h-1zM9 46h1v1h-1zM52 46h1v1h-1zM87 46h1v1h-1zM140 46h1v1h-1zM142 46h1v1h-1zM36 47h1v1h-1zM60 47h1v1h-1zM140 47h1v1h-1zM10 48h1v1h-1zM37 48h1v1h-1zM79 48h1v1h-1zM139 48h1v1h-1zM142 48h1v1h-1zM153 48h1v1h-1zM23 49h1v1h-1zM40 49h1v1h-1zM54 49h1v1h-1zM73 49h1v1h-1zM91 49h1v1h-1zM101 49h1v1h-1zM127 49h1v1h-1zM132 49h1v1h-1zM154 49h1v1h-1zM4 50h1v1h-1zM13 50h1v1h-1zM42 50h1v1h-1zM47 50h1v1h-1zM127 50h1v1h-1zM152 50h1v1h-1zM157 50h1v1h-1zM4 51h2v1h-2zM24 51h1v1h-1zM46 51h1v1h-1zM52 51h1v1h-1zM76 51h2v1h-2zM125 51h1v1h-1zM138 51h1v1h-1zM44 52h1v1h-1zM54 52h1v1h-1zM59 52h1v1h-1zM67 52h1v1h-1zM89 52h1v1h-1zM101 52h1v1h-1zM108 52h1v1h-1zM3 53h1v1h-1zM11 53h1v1h-1zM152 53h1v1h-1zM33 54h1v1h-1zM54 54h1v1h-1zM59 54h1v1h-1zM68 54h1v1h-1zM76 54h1v1h-1zM93 54h1v1h-1zM98 54h2v1h-2zM109 54h1v1h-1zM125 54h1v1h-1zM128 54h1v1h-1zM137 54h1v1h-1zM157 54h2v1h-2zM2 55h1v1h-1zM10 55h1v1h-1zM18 55h1v1h-1zM29 55h1v1h-1zM41 55h1v1h-1zM58 55h1v1h-1zM102 55h1v1h-1zM108 55h1v1h-1zM110 55h1v1h-1zM134 55h1v1h-1zM4 56h1v1h-1zM54 56h1v1h-1zM63 56h1v1h-1zM84 56h1v1h-1zM87 56h1v1h-1zM102 56h1v1h-1zM6 57h1v1h-1zM9 57h1v1h-1zM20 57h1v1h-1zM28 57h1v1h-1zM47 57h1v1h-1zM52 57h1v1h-1zM64 57h1v1h-1zM84 57h1v1h-1zM89 57h1v1h-1zM105 57h1v1h-1zM159 57h1v1h-1zM6 58h1v1h-1zM32 58h1v1h-1zM38 58h1v1h-1zM50 58h1v1h-1zM52 58h1v1h-1zM57 58h1v1h-1zM60 58h1v1h-1zM63 58h2v1h-2zM71 58h1v1h-1zM108 58h1v1h-1zM137 58h1v1h-1zM154 58h1v1h-1zM158 58h1v1h-1zM4 59h1v1h-1zM38 59h1v1h-1zM42 59h1v1h-1zM51 59h1v1h-1zM73 59h1v1h-1zM79 59h1v1h-1zM95 59h1v1h-1zM138 59h1v1h-1zM3 60h2v1h-2zM105 60h1v1h-1zM126 60h1v1h-1zM129 60h1v1h-1zM153 60h1v1h-1zM155 60h1v1h-1zM7 61h1v1h-1zM31 61h1v1h-1zM65 61h1v1h-1zM79 61h1v1h-1zM82 61h1v1h-1zM110 61h1v1h-1zM118 61h1v1h-1zM132 61h1v1h-1zM140 61h1v1h-1zM152 61h1v1h-1zM9 62h1v1h-1zM13 62h1v1h-1zM59 62h2v1h-2zM70 62h1v1h-1zM130 62h1v1h-1zM139 62h1v1h-1zM8 63h1v1h-1zM21 63h1v1h-1zM45 63h1v1h-1zM65 63h1v1h-1zM82 63h1v1h-1zM139 63h1v1h-1zM6 64h1v1h-1zM14 64h1v1h-1zM22 64h1v1h-1zM47 64h1v1h-1zM76 64h1v1h-1zM93 64h1v1h-1zM127 64h1v1h-1zM0 65h1v1h-1zM36 65h1v1h-1zM51 65h1v1h-1zM55 65h1v1h-1zM73 65h1v1h-1zM94 65h1v1h-1zM115 65h1v1h-1zM158 65h1v1h-1zM24 66h1v1h-1zM60 66h1v1h-1zM65 66h1v1h-1zM82 66h1v1h-1zM92 66h1v1h-1zM96 66h1v1h-1zM135 66h2v1h-2zM3 67h1v1h-1zM54 67h1v1h-1zM67 67h1v1h-1zM74 67h1v1h-1zM97 67h2v1h-2zM115 67h1v1h-1zM150 67h1v1h-1zM157 67h2v1h-2zM7 68h1v1h-1zM14 68h1v1h-1zM18 68h1v1h-1zM25 68h1v1h-1zM33 68h1v1h-1zM56 68h1v1h-1zM58 68h1v1h-1zM85 68h1v1h-1zM101 68h1v1h-1zM114 68h1v1h-1zM18 69h1v1h-1zM38 69h1v1h-1zM40 69h1v1h-1zM51 69h1v1h-1zM86 69h1v1h-1zM94 69h1v1h-1zM129 69h1v1h-1zM5 70h1v1h-1zM13 70h1v1h-1zM30 70h1v1h-1zM42 70h1v1h-1zM50 70h1v1h-1zM52 70h1v1h-1zM55 70h1v1h-1zM73 70h1v1h-1zM91 70h1v1h-1zM107 70h1v1h-1zM127 70h1v1h-1zM134 70h1v1h-1zM141 70h1v1h-1zM7 71h1v1h-1zM9 71h1v1h-1zM26 71h1v1h-1zM50 71h1v1h-1zM67 71h1v1h-1zM98 71h1v1h-1zM130 71h1v1h-1z"/><path fill="#fbc385" d="M23 0h1v1h-1zM40 0h1v1h-1zM48 0h1v1h-1zM46 1h1v1h-1zM74 1h1v1h-1zM87 1h1v1h-1zM28 2h1v1h-1zM54 2h1v1h-1zM61 2h1v1h-1zM109 2h1v1h-1zM111 2h1v1h-1zM25 3h1v1h-1zM29 3h1v1h-1zM71 3h1v1h-1zM30 4h1v1h-1zM35 4h1v1h-1zM49 4h2v1h-2zM59 4h1v1h-1zM1 5h1v1h-1zM47 5h1v1h-1zM61 5h1v1h-1zM65 5h1v1h-1zM152 5h1v1h-1zM39 6h1v1h-1zM44 6h1v1h-1zM57 6h1v1h-1zM61 6h1v1h-1zM4 7h1v1h-1zM13 7h1v1h-1zM37 7h1v1h-1zM48 7h1v1h-1zM51 7h1v1h-1zM72 7h1v1h-1zM1 8h2v1h-2zM16 8h1v1h-1zM51 8h1v1h-1zM70 8h1v1h-1zM87 8h1v1h-1zM121 8h1v1h-1zM0 9h1v1h-1zM66 9h1v1h-1zM70 9h1v1h-1zM47 10h1v1h-1zM56 10h1v1h-1zM76 10h1v1h-1zM1 11h1v1h-1zM11 11h1v1h-1zM25 11h1v1h-1zM59 11h1v1h-1zM64 11h1v1h-1zM71 11h1v1h-1zM4 12h1v1h-1zM24 12h2v1h-2zM78 12h1v1h-1zM106 12h1v1h-1zM155 12h1v1h-1zM22 13h1v1h-1zM42 13h1v1h-1zM68 13h1v1h-1zM76 13h1v1h-1zM114 13h1v1h-1zM131 13h1v1h-1zM133 13h1v1h-1zM54 14h1v1h-1zM109 14h1v1h-1zM159 14h1v1h-1zM10 15h1v1h-1zM17 15h1v1h-1zM67 15h1v1h-1zM69 15h1v1h-1zM75 15h1v1h-1zM82 15h1v1h-1zM109 15h1v1h-1zM29 16h1v1h-1zM31 16h1v1h-1zM50 16h1v1h-1zM61 16h2v1h-2zM71 16h1v1h-1zM106 17h1v1h-1zM147 17h1v1h-1zM2 18h1v1h-1zM16 18h1v1h-1zM19 18h1v1h-1zM37 18h1v1h-1zM26 19h1v1h-1zM64 19h1v1h-1zM70 19h1v1h-1zM146 19h1v1h-1zM151 19h1v1h-1zM14 20h1v1h-1zM21 20h1v1h-1zM57 20h1v1h-1zM139 20h1v1h-1zM11 21h1v1h-1zM17 21h1v1h-1zM31 21h1v1h-1zM36 21h1v1h-1zM54 21h1v1h-1zM69 21h1v1h-1zM92 21h1v1h-1zM115 21h1v1h-1zM15 22h1v1h-1zM19 22h1v1h-1zM22 22h1v1h-1zM32 22h1v1h-1zM38 22h1v1h-1zM56 22h1v1h-1zM65 22h1v1h-1zM70 22h1v1h-1zM4 23h1v1h-1zM6 23h1v1h-1zM33 23h1v1h-1zM40 23h3v1h-3zM69 23h1v1h-1zM97 23h1v1h-1zM152 23h1v1h-1zM17 24h1v1h-1zM78 24h1v1h-1zM85 24h1v1h-1zM5 25h1v1h-1zM33 25h1v1h-1zM41 25h1v1h-1zM64 25h1v1h-1zM104 25h1v1h-1zM2 26h1v1h-1zM33 26h1v1h-1zM38 26h1v1h-1zM65 26h2v1h-2zM82 26h1v1h-1zM123 26h1v1h-1zM10 27h1v1h-1zM22 27h1v1h-1zM25 27h1v1h-1zM50 27h1v1h-1zM28 28h1v1h-1zM65 28h1v1h-1zM75 28h1v1h-1zM109 28h1v1h-1zM123 28h1v1h-1zM144 28h1v1h-1zM8 29h1v1h-1zM24 29h2v1h-2zM43 29h1v1h-1zM71 29h2v1h-2zM96 29h1v1h-1zM105 29h1v1h-1zM114 29h1v1h-1zM127 29h1v1h-1zM19 30h1v1h-1zM23 30h1v1h-1zM97 30h1v1h-1zM101 30h1v1h-1zM0 31h1v1h-1zM34 31h1v1h-1zM39 31h1v1h-1zM44 31h1v1h-1zM154 31h1v1h-1zM2 32h1v1h-1zM39 32h1v1h-1zM45 32h1v1h-1zM74 32h1v1h-1zM87 32h1v1h-1zM113 32h1v1h-1zM123 32h1v1h-1zM159 32h1v1h-1zM8 33h1v1h-1zM20 33h1v1h-1zM42 33h1v1h-1zM51 33h1v1h-1zM95 33h2v1h-2zM108 33h1v1h-1zM154 33h1v1h-1zM8 34h1v1h-1zM13 34h1v1h-1zM40 34h2v1h-2zM56 34h1v1h-1zM90 34h1v1h-1zM121 34h1v1h-1zM3 35h1v1h-1zM10 35h1v1h-1zM19 35h1v1h-1zM40 35h1v1h-1zM97 35h2v1h-2zM141 35h1v1h-1zM157 35h1v1h-1zM7 36h1v1h-1zM24 36h1v1h-1zM64 36h1v1h-1zM110 36h1v1h-1zM134 36h1v1h-1zM145 36h2v1h-2zM8 37h1v1h-1zM37 37h1v1h-1zM98 37h1v1h-1zM1 38h1v1h-1zM12 38h1v1h-1zM30 38h1v1h-1zM32 38h1v1h-1zM48 38h1v1h-1zM68 38h1v1h-1zM7 39h1v1h-1zM50 39h1v1h-1zM73 39h1v1h-1zM110 39h1v1h-1zM34 40h1v1h-1zM41 40h1v1h-1zM44 40h1v1h-1zM62 40h1v1h-1zM109 40h1v1h-1zM121 40h1v1h-1zM12 41h1v1h-1zM25 41h1v1h-1zM29 41h1v1h-1zM62 41h1v1h-1zM71 41h1v1h-1zM113 41h1v1h-1zM124 41h1v1h-1zM137 41h1v1h-1zM145 41h1v1h-1zM0 42h1v1h-1zM27 42h1v1h-1zM56 42h1v1h-1zM133 42h2v1h-2zM148 42h1v1h-1zM159 42h1v1h-1zM23 43h1v1h-1zM26 43h1v1h-1zM70 43h1v1h-1zM115 43h1v1h-1zM118 43h1v1h-1zM159 43h1v1h-1zM29 44h1v1h-1zM32 44h1v1h-1zM39 44h1v1h-1zM45 44h1v1h-1zM115 44h1v1h-1zM133 44h1v1h-1zM3 45h1v1h-1zM7 45h1v1h-1zM23 45h1v1h-1zM32 45h1v1h-1zM41 45h1v1h-1zM45 45h1v1h-1zM54 45h1v1h-1zM112 45h1v1h-1zM124 45h1v1h-1zM150 45h1v1h-1zM153 45h1v1h-1zM33 46h1v1h-1zM112 46h1v1h-1zM126 46h1v1h-1zM145 46h1v1h-1zM149 46h1v1h-1zM1 47h1v1h-1zM28 47h2v1h-2zM34 47h1v1h-1zM38 47h1v1h-1zM55 47h1v1h-1zM80 47h1v1h-1zM89 47h1v1h-1zM3 48h1v1h-1zM6 48h1v1h-1zM26 48h2v1h-2zM35 48h1v1h-1zM88 48h1v1h-1zM93 48h1v1h-1zM11 49h1v1h-1zM24 49h1v1h-1zM47 49h1v1h-1zM88 49h1v1h-1zM97 49h1v1h-1zM129 49h1v1h-1zM5 50h1v1h-1zM12 50h1v1h-1zM41 50h1v1h-1zM99 50h1v1h-1zM103 50h1v1h-1zM144 50h1v1h-1zM48 51h2v1h-2zM78 51h1v1h-1zM89 51h1v1h-1zM92 51h1v1h-1zM6 52h2v1h-2zM11 52h1v1h-1zM20 52h1v1h-1zM151 52h1v1h-1zM19 53h1v1h-1zM72 53h1v1h-1zM77 53h1v1h-1zM88 53h1v1h-1zM123 53h1v1h-1zM153 53h1v1h-1zM155 53h1v1h-1zM5 54h1v1h-1zM8 54h1v1h-1zM11 54h1v1h-1zM15 54h1v1h-1zM22 54h1v1h-1zM67 54h1v1h-1zM120 54h1v1h-1zM123 54h1v1h-1zM5 55h1v1h-1zM33 55h1v1h-1zM38 55h1v1h-1zM40 55h1v1h-1zM60 55h1v1h-1zM97 55h1v1h-1zM105 55h1v1h-1zM12 56h1v1h-1zM26 56h1v1h-1zM38 56h1v1h-1zM60 56h1v1h-1zM72 56h1v1h-1zM83 56h1v1h-1zM86 56h1v1h-1zM88 56h1v1h-1zM110 56h1v1h-1zM116 56h1v1h-1zM118 56h1v1h-1zM121 56h1v1h-1zM39 57h1v1h-1zM45 57h2v1h-2zM50 57h1v1h-1zM72 57h1v1h-1zM92 57h1v1h-1zM126 57h1v1h-1zM8 58h1v1h-1zM14 58h1v1h-1zM34 58h1v1h-1zM45 58h1v1h-1zM67 58h1v1h-1zM91 58h1v1h-1zM106 58h1v1h-1zM124 58h1v1h-1zM141 58h1v1h-1zM151 58h1v1h-1zM53 59h1v1h-1zM75 59h1v1h-1zM87 59h2v1h-2zM99 59h1v1h-1zM102 59h1v1h-1zM119 59h1v1h-1zM126 59h1v1h-1zM136 59h1v1h-1zM26 60h1v1h-1zM33 60h1v1h-1zM49 60h1v1h-1zM53 60h1v1h-1zM86 60h1v1h-1zM108 60h1v1h-1zM118 60h1v1h-1zM123 60h1v1h-1zM5 61h2v1h-2zM14 61h1v1h-1zM48 61h1v1h-1zM74 61h1v1h-1zM84 61h1v1h-1zM89 61h1v1h-1zM102 61h1v1h-1zM112 61h1v1h-1zM156 61h1v1h-1zM5 62h1v1h-1zM22 62h1v1h-1zM25 62h1v1h-1zM35 62h1v1h-1zM55 62h1v1h-1zM94 62h2v1h-2zM97 62h1v1h-1zM108 62h1v1h-1zM111 62h1v1h-1zM121 62h1v1h-1zM49 63h1v1h-1zM67 63h2v1h-2zM75 63h1v1h-1zM140 63h1v1h-1zM63 64h1v1h-1zM65 64h1v1h-1zM73 64h1v1h-1zM92 64h1v1h-1zM100 64h1v1h-1zM111 64h1v1h-1zM134 64h1v1h-1zM2 65h1v1h-1zM4 65h2v1h-2zM16 65h1v1h-1zM20 65h1v1h-1zM89 65h1v1h-1zM100 65h1v1h-1zM131 65h1v1h-1zM3 66h1v1h-1zM44 66h1v1h-1zM74 66h1v1h-1zM97 66h1v1h-1zM109 66h1v1h-1zM123 66h1v1h-1zM7 67h1v1h-1zM15 67h1v1h-1zM56 67h1v1h-1zM82 67h1v1h-1zM87 67h2v1h-2zM102 67h1v1h-1zM9 68h1v1h-1zM11 68h1v1h-1zM19 68h1v1h-1zM62 68h2v1h-2zM94 68h1v1h-1zM99 68h1v1h-1zM108 68h1v1h-1zM128 68h1v1h-1zM30 69h2v1h-2zM48 69h1v1h-1zM75 69h1v1h-1zM78 69h1v1h-1zM112 69h1v1h-1zM133 69h1v1h-1zM135 69h1v1h-1zM157 69h1v1h-1zM92 70h1v1h-1zM95 70h1v1h-1zM144 70h1v1h-1zM1 71h1v1h-1zM21 71h1v1h-1zM73 71h1v1h-1zM77 71h1v1h-1zM119 71h1v1h-1zM132 71h1v1h-1z"/><path fill="#fbc587" d="M0 0h1v1h-1zM19 0h1v1h-1zM44 0h1v1h-1zM67 0h1v1h-1zM88 0h1v1h-1zM146 0h1v1h-1zM53 1h1v1h-1zM154 1h1v1h-1zM50 2h1v1h-1zM56 2h1v1h-1zM76 2h1v1h-1zM32 3h1v1h-1zM37 3h1v1h-1zM55 3h2v1h-2zM76 3h1v1h-1zM105 3h2v1h-2zM133 3h1v1h-1zM154 3h1v1h-1zM6 4h1v1h-1zM115 4h1v1h-1zM154 4h1v1h-1zM10 5h1v1h-1zM12 5h1v1h-1zM78 5h1v1h-1zM148 5h1v1h-1zM3 6h1v1h-1zM68 6h1v1h-1zM72 6h1v1h-1zM153 6h1v1h-1zM11 7h1v1h-1zM49 7h1v1h-1zM68 7h1v1h-1zM74 7h1v1h-1zM91 7h1v1h-1zM38 8h1v1h-1zM54 8h1v1h-1zM85 8h1v1h-1zM96 8h1v1h-1zM144 8h1v1h-1zM62 9h1v1h-1zM68 9h1v1h-1zM98 9h1v1h-1zM9 10h1v1h-1zM15 10h1v1h-1zM40 10h1v1h-1zM63 10h1v1h-1zM7 11h1v1h-1zM18 11h2v1h-2zM44 11h1v1h-1zM56 11h1v1h-1zM85 11h1v1h-1zM7 12h1v1h-1zM66 12h1v1h-1zM130 12h1v1h-1zM28 13h1v1h-1zM55 13h1v1h-1zM60 13h1v1h-1zM65 13h1v1h-1zM6 14h1v1h-1zM25 14h1v1h-1zM94 14h1v1h-1zM8 15h1v1h-1zM16 15h1v1h-1zM19 15h1v1h-1zM30 15h1v1h-1zM34 15h1v1h-1zM100 15h1v1h-1zM9 16h1v1h-1zM57 16h1v1h-1zM109 16h1v1h-1zM0 17h1v1h-1zM8 17h1v1h-1zM17 17h1v1h-1zM48 17h1v1h-1zM55 17h1v1h-1zM61 17h1v1h-1zM64 17h2v1h-2zM87 17h1v1h-1zM109 17h1v1h-1zM113 17h1v1h-1zM0 18h1v1h-1zM3 18h1v1h-1zM9 18h2v1h-2zM26 18h1v1h-1zM52 18h1v1h-1zM72 18h1v1h-1zM76 18h2v1h-2zM88 18h1v1h-1zM1 19h2v1h-2zM25 19h1v1h-1zM83 19h1v1h-1zM106 19h1v1h-1zM109 19h1v1h-1zM113 19h1v1h-1zM147 19h1v1h-1zM50 20h1v1h-1zM69 20h1v1h-1zM91 20h1v1h-1zM20 21h1v1h-1zM35 21h1v1h-1zM40 21h1v1h-1zM149 21h1v1h-1zM10 22h2v1h-2zM86 22h1v1h-1zM147 22h2v1h-2zM153 22h1v1h-1zM156 22h1v1h-1zM85 23h1v1h-1zM7 24h1v1h-1zM11 24h1v1h-1zM14 24h1v1h-1zM19 24h1v1h-1zM91 24h2v1h-2zM99 24h1v1h-1zM145 24h2v1h-2zM148 24h1v1h-1zM88 25h1v1h-1zM92 25h1v1h-1zM6 26h1v1h-1zM15 26h2v1h-2zM23 26h1v1h-1zM29 26h1v1h-1zM62 26h1v1h-1zM72 26h1v1h-1zM99 26h1v1h-1zM111 26h1v1h-1zM122 26h1v1h-1zM6 27h1v1h-1zM21 27h1v1h-1zM24 27h1v1h-1zM41 27h1v1h-1zM66 27h2v1h-2zM71 27h1v1h-1zM91 27h1v1h-1zM110 27h1v1h-1zM11 28h1v1h-1zM20 28h1v1h-1zM23 28h1v1h-1zM70 28h1v1h-1zM132 28h1v1h-1zM156 28h1v1h-1zM3 29h1v1h-1zM17 29h1v1h-1zM20 29h1v1h-1zM52 29h1v1h-1zM54 29h1v1h-1zM69 29h1v1h-1zM76 29h1v1h-1zM82 29h1v1h-1zM8 30h1v1h-1zM78 30h1v1h-1zM145 30h1v1h-1zM12 31h1v1h-1zM29 31h1v1h-1zM70 31h1v1h-1zM123 31h1v1h-1zM144 31h1v1h-1zM156 31h1v1h-1zM7 32h1v1h-1zM37 32h1v1h-1zM41 32h1v1h-1zM52 32h1v1h-1zM85 32h1v1h-1zM97 32h1v1h-1zM147 32h1v1h-1zM17 33h3v1h-3zM97 33h1v1h-1zM107 33h1v1h-1zM118 33h1v1h-1zM143 33h1v1h-1zM10 34h1v1h-1zM66 34h1v1h-1zM149 34h1v1h-1zM1 35h1v1h-1zM33 35h1v1h-1zM48 35h1v1h-1zM61 35h1v1h-1zM65 35h1v1h-1zM82 35h1v1h-1zM103 35h1v1h-1zM147 35h1v1h-1zM34 36h1v1h-1zM57 36h1v1h-1zM60 36h1v1h-1zM65 36h1v1h-1zM96 36h1v1h-1zM112 36h1v1h-1zM132 36h1v1h-1zM17 37h1v1h-1zM59 37h1v1h-1zM68 37h1v1h-1zM124 37h1v1h-1zM8 38h1v1h-1zM53 38h2v1h-2zM114 38h1v1h-1zM151 38h1v1h-1zM4 39h1v1h-1zM6 39h1v1h-1zM67 39h1v1h-1zM108 39h1v1h-1zM121 39h1v1h-1zM145 39h1v1h-1zM24 40h1v1h-1zM27 40h1v1h-1zM57 40h1v1h-1zM131 40h1v1h-1zM148 40h1v1h-1zM158 40h1v1h-1zM4 41h1v1h-1zM8 41h1v1h-1zM19 41h1v1h-1zM56 41h1v1h-1zM106 41h1v1h-1zM119 41h1v1h-1zM121 41h1v1h-1zM147 41h1v1h-1zM154 41h1v1h-1zM156 41h1v1h-1zM7 42h1v1h-1zM53 42h1v1h-1zM61 42h1v1h-1zM71 42h1v1h-1zM111 42h1v1h-1zM114 42h1v1h-1zM121 42h1v1h-1zM124 42h1v1h-1zM11 43h1v1h-1zM45 43h1v1h-1zM60 43h1v1h-1zM67 43h1v1h-1zM110 43h1v1h-1zM124 43h1v1h-1zM150 43h1v1h-1zM2 44h1v1h-1zM16 44h1v1h-1zM19 44h1v1h-1zM35 44h1v1h-1zM66 44h1v1h-1zM68 44h1v1h-1zM20 45h1v1h-1zM30 45h1v1h-1zM52 45h1v1h-1zM68 45h1v1h-1zM72 45h1v1h-1zM110 45h1v1h-1zM37 46h2v1h-2zM68 46h1v1h-1zM130 46h1v1h-1zM138 46h1v1h-1zM143 46h1v1h-1zM11 47h1v1h-1zM61 47h1v1h-1zM111 47h2v1h-2zM18 48h1v1h-1zM21 48h1v1h-1zM39 48h1v1h-1zM45 48h1v1h-1zM49 48h1v1h-1zM54 48h1v1h-1zM94 48h1v1h-1zM144 48h1v1h-1zM151 48h1v1h-1zM7 49h1v1h-1zM17 49h1v1h-1zM51 49h1v1h-1zM93 49h1v1h-1zM37 50h1v1h-1zM57 50h1v1h-1zM74 50h1v1h-1zM78 50h1v1h-1zM101 50h1v1h-1zM2 51h1v1h-1zM6 51h1v1h-1zM11 51h1v1h-1zM14 51h1v1h-1zM18 51h1v1h-1zM22 51h1v1h-1zM32 51h2v1h-2zM43 51h1v1h-1zM112 51h1v1h-1zM127 51h1v1h-1zM139 51h1v1h-1zM145 51h1v1h-1zM15 52h1v1h-1zM19 52h1v1h-1zM38 52h1v1h-1zM68 52h3v1h-3zM77 52h1v1h-1zM82 52h1v1h-1zM96 52h1v1h-1zM158 52h1v1h-1zM27 53h1v1h-1zM57 53h1v1h-1zM100 53h1v1h-1zM102 53h1v1h-1zM157 53h1v1h-1zM17 54h1v1h-1zM20 54h1v1h-1zM31 54h1v1h-1zM36 54h1v1h-1zM66 54h1v1h-1zM85 54h1v1h-1zM7 55h1v1h-1zM22 55h1v1h-1zM30 55h1v1h-1zM67 55h1v1h-1zM69 55h1v1h-1zM76 55h1v1h-1zM87 55h1v1h-1zM95 55h1v1h-1zM99 55h1v1h-1zM107 55h1v1h-1zM23 56h1v1h-1zM28 56h1v1h-1zM47 56h1v1h-1zM51 56h1v1h-1zM56 56h1v1h-1zM90 56h1v1h-1zM94 56h1v1h-1zM111 56h2v1h-2zM123 56h1v1h-1zM126 56h1v1h-1zM5 57h1v1h-1zM10 57h1v1h-1zM29 57h1v1h-1zM40 57h1v1h-1zM61 57h1v1h-1zM88 57h1v1h-1zM135 57h1v1h-1zM145 57h1v1h-1zM158 57h1v1h-1zM18 58h1v1h-1zM21 58h1v1h-1zM31 58h1v1h-1zM98 58h1v1h-1zM101 58h1v1h-1zM1 59h1v1h-1zM40 59h1v1h-1zM85 59h1v1h-1zM89 59h1v1h-1zM140 59h1v1h-1zM146 59h1v1h-1zM152 59h1v1h-1zM0 60h1v1h-1zM74 60h1v1h-1zM96 60h1v1h-1zM157 60h1v1h-1zM159 60h1v1h-1zM9 61h1v1h-1zM33 61h1v1h-1zM44 61h1v1h-1zM49 61h1v1h-1zM51 61h1v1h-1zM53 61h1v1h-1zM86 61h1v1h-1zM99 61h1v1h-1zM108 61h1v1h-1zM4 62h1v1h-1zM51 62h1v1h-1zM53 62h1v1h-1zM58 62h1v1h-1zM135 62h1v1h-1zM52 63h1v1h-1zM63 63h2v1h-2zM70 63h1v1h-1zM83 63h1v1h-1zM85 63h1v1h-1zM96 63h1v1h-1zM100 63h1v1h-1zM128 63h1v1h-1zM155 63h1v1h-1zM7 64h1v1h-1zM40 64h1v1h-1zM123 64h1v1h-1zM139 64h1v1h-1zM157 64h1v1h-1zM14 65h1v1h-1zM35 65h1v1h-1zM42 65h1v1h-1zM106 65h1v1h-1zM110 65h1v1h-1zM117 65h1v1h-1zM141 65h1v1h-1zM10 66h1v1h-1zM25 66h1v1h-1zM32 66h1v1h-1zM37 66h1v1h-1zM40 66h1v1h-1zM77 66h1v1h-1zM86 66h1v1h-1zM98 66h1v1h-1zM10 67h1v1h-1zM14 67h1v1h-1zM33 67h1v1h-1zM37 67h1v1h-1zM60 67h1v1h-1zM79 67h2v1h-2zM91 67h1v1h-1zM109 67h1v1h-1zM6 68h1v1h-1zM30 68h1v1h-1zM51 68h1v1h-1zM92 68h1v1h-1zM110 68h1v1h-1zM113 68h1v1h-1zM120 68h1v1h-1zM15 69h1v1h-1zM22 69h1v1h-1zM26 69h2v1h-2zM47 69h1v1h-1zM70 69h1v1h-1zM83 69h1v1h-1zM88 69h1v1h-1zM96 69h1v1h-1zM117 69h1v1h-1zM120 69h1v1h-1zM139 69h1v1h-1zM143 69h1v1h-1zM152 69h1v1h-1zM2 70h1v1h-1zM43 70h1v1h-1zM48 70h1v1h-1zM88 70h1v1h-1zM17 71h2v1h-2zM23 71h1v1h-1zM30 71h1v1h-1zM39 71h1v1h-1zM51 71h1v1h-1zM53 71h1v1h-1zM70 71h1v1h-1zM86 71h1v1h-1zM137 71h1v1h-1zM139 71h1v1h-1z"/><path fill="#fcc78a" d="M47 0h1v1h-1zM62 0h1v1h-1zM82 0h1v1h-1zM85 0h1v1h-1zM97 0h1v1h-1zM37 1h1v1h-1zM39 1h1v1h-1zM85 1h1v1h-1zM89 1h1v1h-1zM131 1h1v1h-1zM0 2h1v1h-1zM31 2h1v1h-1zM33 2h1v1h-1zM35 2h1v1h-1zM37 2h1v1h-1zM53 2h1v1h-1zM73 2h1v1h-1zM85 2h1v1h-1zM96 2h1v1h-1zM101 2h1v1h-1zM106 2h1v1h-1zM144 2h1v1h-1zM154 2h1v1h-1zM159 2h1v1h-1zM26 3h1v1h-1zM30 3h1v1h-1zM43 3h1v1h-1zM88 3h1v1h-1zM124 3h1v1h-1zM142 3h2v1h-2zM37 4h1v1h-1zM43 4h1v1h-1zM46 4h1v1h-1zM54 4h1v1h-1zM74 4h1v1h-1zM0 5h1v1h-1zM69 5h1v1h-1zM110 5h1v1h-1zM150 5h1v1h-1zM10 6h1v1h-1zM47 6h1v1h-1zM52 6h1v1h-1zM110 6h1v1h-1zM131 6h1v1h-1zM155 6h1v1h-1zM15 7h1v1h-1zM35 7h1v1h-1zM61 7h1v1h-1zM70 7h1v1h-1zM85 7h1v1h-1zM133 7h1v1h-1zM143 7h2v1h-2zM0 8h1v1h-1zM17 8h1v1h-1zM52 8h1v1h-1zM105 8h1v1h-1zM13 9h2v1h-2zM77 9h1v1h-1zM11 10h1v1h-1zM20 10h1v1h-1zM22 10h1v1h-1zM64 10h1v1h-1zM79 10h1v1h-1zM82 10h1v1h-1zM91 10h1v1h-1zM105 10h1v1h-1zM108 10h1v1h-1zM124 10h1v1h-1zM133 10h1v1h-1zM12 11h1v1h-1zM50 11h1v1h-1zM58 11h1v1h-1zM105 11h1v1h-1zM131 11h1v1h-1zM47 12h1v1h-1zM55 12h1v1h-1zM75 12h1v1h-1zM112 12h1v1h-1zM134 12h1v1h-1zM159 12h1v1h-1zM10 13h1v1h-1zM105 13h1v1h-1zM155 13h1v1h-1zM18 14h1v1h-1zM24 14h1v1h-1zM29 14h1v1h-1zM46 14h2v1h-2zM60 14h1v1h-1zM68 14h1v1h-1zM91 14h1v1h-1zM120 14h1v1h-1zM133 14h1v1h-1zM153 14h1v1h-1zM32 15h1v1h-1zM47 15h1v1h-1zM55 15h1v1h-1zM63 15h1v1h-1zM73 15h1v1h-1zM86 15h1v1h-1zM108 15h1v1h-1zM119 15h1v1h-1zM155 15h1v1h-1zM4 16h1v1h-1zM28 16h1v1h-1zM30 16h1v1h-1zM51 16h1v1h-1zM59 16h1v1h-1zM68 16h1v1h-1zM105 16h1v1h-1zM149 16h1v1h-1zM3 17h1v1h-1zM29 17h1v1h-1zM35 17h1v1h-1zM54 17h1v1h-1zM67 17h1v1h-1zM154 17h1v1h-1zM7 18h1v1h-1zM29 18h1v1h-1zM34 18h2v1h-2zM73 18h1v1h-1zM75 18h1v1h-1zM85 18h1v1h-1zM153 18h1v1h-1zM3 19h1v1h-1zM13 19h1v1h-1zM16 19h1v1h-1zM35 19h1v1h-1zM51 19h1v1h-1zM56 19h1v1h-1zM82 19h1v1h-1zM34 20h1v1h-1zM38 20h1v1h-1zM55 20h1v1h-1zM75 20h1v1h-1zM135 20h1v1h-1zM2 21h2v1h-2zM19 21h1v1h-1zM34 21h1v1h-1zM67 21h1v1h-1zM82 21h1v1h-1zM114 21h1v1h-1zM119 21h1v1h-1zM6 22h1v1h-1zM59 22h2v1h-2zM67 22h1v1h-1zM13 23h1v1h-1zM19 23h1v1h-1zM29 23h1v1h-1zM38 23h1v1h-1zM67 23h1v1h-1zM73 23h1v1h-1zM94 23h1v1h-1zM108 23h1v1h-1zM115 23h1v1h-1zM0 24h1v1h-1zM16 24h1v1h-1zM27 24h1v1h-1zM30 24h1v1h-1zM35 24h1v1h-1zM40 24h1v1h-1zM62 24h1v1h-1zM69 24h1v1h-1zM115 24h1v1h-1zM44 25h1v1h-1zM85 25h1v1h-1zM109 25h1v1h-1zM114 25h1v1h-1zM3 26h1v1h-1zM13 26h1v1h-1zM17 26h1v1h-1zM44 26h1v1h-1zM70 26h1v1h-1zM127 26h1v1h-1zM134 26h1v1h-1zM142 26h1v1h-1zM146 26h1v1h-1zM151 26h1v1h-1zM153 26h1v1h-1zM7 27h1v1h-1zM43 27h1v1h-1zM127 27h1v1h-1zM142 27h1v1h-1zM13 28h1v1h-1zM18 28h1v1h-1zM45 28h1v1h-1zM92 28h1v1h-1zM124 28h1v1h-1zM159 28h1v1h-1zM15 29h1v1h-1zM19 29h1v1h-1zM26 29h1v1h-1zM87 29h1v1h-1zM89 29h1v1h-1zM92 29h1v1h-1zM111 29h1v1h-1zM116 29h1v1h-1zM5 30h1v1h-1zM21 30h1v1h-1zM28 30h1v1h-1zM42 30h1v1h-1zM147 30h2v1h-2zM48 31h1v1h-1zM50 31h1v1h-1zM86 31h1v1h-1zM92 31h1v1h-1zM99 31h2v1h-2zM116 31h1v1h-1zM136 31h1v1h-1zM151 31h1v1h-1zM4 32h1v1h-1zM15 32h1v1h-1zM22 32h1v1h-1zM36 32h1v1h-1zM47 32h1v1h-1zM55 32h1v1h-1zM78 32h1v1h-1zM86 32h1v1h-1zM91 32h1v1h-1zM131 32h1v1h-1zM152 32h1v1h-1zM22 33h1v1h-1zM36 33h1v1h-1zM59 33h1v1h-1zM146 33h1v1h-1zM19 34h1v1h-1zM28 34h1v1h-1zM33 34h2v1h-2zM51 34h1v1h-1zM61 34h1v1h-1zM95 34h1v1h-1zM138 34h1v1h-1zM11 35h1v1h-1zM52 35h1v1h-1zM76 35h1v1h-1zM101 35h1v1h-1zM116 35h1v1h-1zM118 35h1v1h-1zM122 35h1v1h-1zM144 35h1v1h-1zM149 35h1v1h-1zM10 36h1v1h-1zM31 36h1v1h-1zM39 36h1v1h-1zM42 36h1v1h-1zM67 36h1v1h-1zM91 36h1v1h-1zM115 36h1v1h-1zM122 36h1v1h-1zM153 36h1v1h-1zM2 37h1v1h-1zM30 37h1v1h-1zM55 37h1v1h-1zM90 37h1v1h-1zM95 37h1v1h-1zM0 38h1v1h-1zM16 38h1v1h-1zM21 38h1v1h-1zM23 38h1v1h-1zM29 38h1v1h-1zM35 38h1v1h-1zM39 38h1v1h-1zM89 38h1v1h-1zM111 38h1v1h-1zM129 38h1v1h-1zM145 38h1v1h-1zM150 38h1v1h-1zM159 38h1v1h-1zM29 39h1v1h-1zM51 39h1v1h-1zM54 39h1v1h-1zM61 39h1v1h-1zM70 39h1v1h-1zM122 39h1v1h-1zM153 39h1v1h-1zM17 40h1v1h-1zM25 40h1v1h-1zM43 40h1v1h-1zM104 40h1v1h-1zM106 40h1v1h-1zM111 40h1v1h-1zM114 40h1v1h-1zM143 40h1v1h-1zM146 40h1v1h-1zM47 41h1v1h-1zM50 41h1v1h-1zM63 41h1v1h-1zM70 41h1v1h-1zM135 41h2v1h-2zM43 42h1v1h-1zM1 43h1v1h-1zM37 43h1v1h-1zM43 43h1v1h-1zM50 43h1v1h-1zM53 43h1v1h-1zM56 43h1v1h-1zM69 43h1v1h-1zM122 43h1v1h-1zM1 44h1v1h-1zM4 44h1v1h-1zM38 44h1v1h-1zM51 44h1v1h-1zM54 44h1v1h-1zM60 44h1v1h-1zM129 44h1v1h-1zM137 44h1v1h-1zM148 44h1v1h-1zM36 45h1v1h-1zM39 45h1v1h-1zM60 45h1v1h-1zM67 45h1v1h-1zM130 45h1v1h-1zM4 46h1v1h-1zM8 46h1v1h-1zM20 46h1v1h-1zM27 46h1v1h-1zM30 46h1v1h-1zM43 46h1v1h-1zM58 46h1v1h-1zM69 46h1v1h-1zM117 46h1v1h-1zM134 46h1v1h-1zM144 46h1v1h-1zM158 46h1v1h-1zM14 47h1v1h-1zM20 47h4v1h-4zM58 47h1v1h-1zM85 47h1v1h-1zM123 47h1v1h-1zM4 48h1v1h-1zM29 48h1v1h-1zM47 48h1v1h-1zM51 48h1v1h-1zM56 48h1v1h-1zM64 48h1v1h-1zM86 48h1v1h-1zM89 48h1v1h-1zM91 48h1v1h-1zM98 48h1v1h-1zM157 48h1v1h-1zM159 48h1v1h-1zM2 49h2v1h-2zM5 49h1v1h-1zM26 49h1v1h-1zM52 49h1v1h-1zM62 49h1v1h-1zM92 49h1v1h-1zM102 49h1v1h-1zM135 49h1v1h-1zM144 49h1v1h-1zM51 50h2v1h-2zM141 50h1v1h-1zM1 51h1v1h-1zM9 51h2v1h-2zM15 51h1v1h-1zM26 51h1v1h-1zM34 51h1v1h-1zM38 51h1v1h-1zM73 51h1v1h-1zM75 51h1v1h-1zM86 51h1v1h-1zM95 51h1v1h-1zM100 51h1v1h-1zM102 51h1v1h-1zM136 51h1v1h-1zM140 51h1v1h-1zM25 52h1v1h-1zM36 52h1v1h-1zM60 52h1v1h-1zM72 52h1v1h-1zM83 52h1v1h-1zM95 52h1v1h-1zM157 52h1v1h-1zM18 53h1v1h-1zM30 53h1v1h-1zM52 53h1v1h-1zM81 53h1v1h-1zM85 53h1v1h-1zM113 53h1v1h-1zM1 54h1v1h-1zM37 54h1v1h-1zM56 54h1v1h-1zM82 54h1v1h-1zM89 54h2v1h-2zM92 54h1v1h-1zM104 54h1v1h-1zM107 54h1v1h-1zM12 55h1v1h-1zM17 55h1v1h-1zM28 55h1v1h-1zM48 55h1v1h-1zM61 55h1v1h-1zM8 56h1v1h-1zM29 56h1v1h-1zM35 56h1v1h-1zM57 56h1v1h-1zM69 56h1v1h-1zM19 57h1v1h-1zM103 57h1v1h-1zM4 58h1v1h-1zM44 58h1v1h-1zM47 58h2v1h-2zM107 58h1v1h-1zM110 58h1v1h-1zM116 58h1v1h-1zM139 58h1v1h-1zM8 59h1v1h-1zM16 59h1v1h-1zM28 59h1v1h-1zM34 59h1v1h-1zM41 59h1v1h-1zM65 59h1v1h-1zM69 59h1v1h-1zM110 59h1v1h-1zM113 59h1v1h-1zM118 59h1v1h-1zM150 59h1v1h-1zM153 59h1v1h-1zM11 60h1v1h-1zM107 60h1v1h-1zM110 60h1v1h-1zM114 60h1v1h-1zM137 60h2v1h-2zM147 60h1v1h-1zM158 60h1v1h-1zM15 61h1v1h-1zM42 61h1v1h-1zM55 61h1v1h-1zM63 61h1v1h-1zM126 61h1v1h-1zM133 61h1v1h-1zM0 62h1v1h-1zM11 62h1v1h-1zM19 62h1v1h-1zM100 62h1v1h-1zM151 62h1v1h-1zM1 63h1v1h-1zM30 63h1v1h-1zM50 63h1v1h-1zM56 63h1v1h-1zM79 63h1v1h-1zM98 63h1v1h-1zM110 63h1v1h-1zM113 63h1v1h-1zM5 64h1v1h-1zM13 64h1v1h-1zM48 64h1v1h-1zM71 64h2v1h-2zM94 64h2v1h-2zM146 64h1v1h-1zM11 65h1v1h-1zM25 65h1v1h-1zM31 65h1v1h-1zM52 65h1v1h-1zM62 65h1v1h-1zM67 65h1v1h-1zM70 65h1v1h-1zM83 65h1v1h-1zM93 65h1v1h-1zM104 65h1v1h-1zM111 65h1v1h-1zM137 65h1v1h-1zM4 66h1v1h-1zM18 66h1v1h-1zM23 66h1v1h-1zM47 66h1v1h-1zM78 66h2v1h-2zM110 66h1v1h-1zM158 66h1v1h-1zM0 67h1v1h-1zM9 67h1v1h-1zM20 67h1v1h-1zM42 67h1v1h-1zM110 67h1v1h-1zM123 67h1v1h-1zM12 68h1v1h-1zM16 68h1v1h-1zM28 68h1v1h-1zM44 68h1v1h-1zM46 68h1v1h-1zM54 68h1v1h-1zM65 68h1v1h-1zM67 68h1v1h-1zM95 68h1v1h-1zM136 68h1v1h-1zM141 68h1v1h-1zM4 69h1v1h-1zM60 69h1v1h-1zM77 69h1v1h-1zM82 69h1v1h-1zM97 69h1v1h-1zM134 69h1v1h-1zM138 69h1v1h-1zM14 70h1v1h-1zM74 70h2v1h-2zM90 70h1v1h-1zM94 70h1v1h-1zM96 70h1v1h-1zM102 70h1v1h-1zM124 70h1v1h-1zM132 70h1v1h-1zM155 70h1v1h-1zM157 70h1v1h-1zM3 71h1v1h-1zM20 71h1v1h-1zM41 71h1v1h-1zM62 71h1v1h-1zM75 71h1v1h-1zM83 71h1v1h-1zM85 71h1v1h-1zM97 71h1v1h-1zM101 71h1v1h-1zM112 71h1v1h-1zM129 71h1v1h-1z"/><path fill="#fcc98c" d="M18 0h1v1h-1zM73 0h1v1h-1zM147 0h2v1h-2zM50 1h1v1h-1zM65 1h1v1h-1zM84 1h1v1h-1zM122 1h1v1h-1zM40 2h1v1h-1zM44 2h1v1h-1zM55 2h1v1h-1zM71 2h1v1h-1zM157 2h1v1h-1zM5 3h1v1h-1zM51 3h1v1h-1zM69 3h1v1h-1zM82 3h1v1h-1zM5 4h1v1h-1zM10 4h1v1h-1zM33 4h1v1h-1zM69 4h1v1h-1zM71 4h1v1h-1zM88 4h1v1h-1zM95 4h1v1h-1zM109 4h1v1h-1zM39 5h1v1h-1zM51 5h2v1h-2zM54 5h1v1h-1zM70 5h2v1h-2zM75 5h1v1h-1zM87 5h1v1h-1zM121 5h2v1h-2zM134 5h1v1h-1zM142 5h1v1h-1zM2 6h1v1h-1zM0 7h1v1h-1zM40 7h1v1h-1zM44 7h1v1h-1zM55 7h1v1h-1zM63 7h1v1h-1zM83 7h1v1h-1zM37 8h1v1h-1zM72 8h2v1h-2zM104 8h1v1h-1zM131 8h1v1h-1zM19 9h1v1h-1zM41 9h1v1h-1zM59 9h2v1h-2zM134 9h1v1h-1zM0 10h1v1h-1zM7 10h1v1h-1zM72 10h1v1h-1zM132 10h1v1h-1zM145 10h1v1h-1zM5 11h1v1h-1zM122 11h1v1h-1zM158 11h1v1h-1zM74 12h1v1h-1zM98 12h1v1h-1zM5 13h1v1h-1zM19 13h1v1h-1zM57 13h1v1h-1zM111 13h1v1h-1zM9 14h1v1h-1zM15 14h1v1h-1zM53 14h1v1h-1zM56 14h1v1h-1zM59 14h1v1h-1zM115 14h1v1h-1zM132 14h1v1h-1zM9 15h1v1h-1zM11 15h1v1h-1zM50 15h1v1h-1zM59 15h1v1h-1zM72 15h1v1h-1zM77 15h1v1h-1zM137 15h1v1h-1zM22 16h1v1h-1zM78 16h1v1h-1zM114 16h1v1h-1zM119 16h1v1h-1zM147 16h1v1h-1zM27 17h1v1h-1zM51 17h1v1h-1zM78 17h1v1h-1zM82 17h1v1h-1zM96 17h1v1h-1zM111 17h1v1h-1zM119 17h1v1h-1zM133 17h1v1h-1zM146 17h1v1h-1zM155 17h1v1h-1zM12 18h1v1h-1zM50 18h1v1h-1zM61 18h2v1h-2zM105 18h1v1h-1zM146 18h1v1h-1zM5 19h1v1h-1zM15 19h1v1h-1zM72 19h1v1h-1zM135 19h1v1h-1zM26 20h1v1h-1zM33 20h1v1h-1zM42 20h1v1h-1zM53 20h1v1h-1zM89 20h1v1h-1zM152 20h1v1h-1zM159 20h1v1h-1zM5 21h1v1h-1zM27 21h1v1h-1zM72 22h1v1h-1zM157 22h1v1h-1zM0 23h1v1h-1zM2 23h1v1h-1zM8 23h1v1h-1zM25 23h1v1h-1zM66 23h1v1h-1zM107 23h1v1h-1zM123 23h1v1h-1zM159 23h1v1h-1zM25 24h1v1h-1zM31 24h2v1h-2zM68 24h1v1h-1zM98 24h1v1h-1zM119 24h1v1h-1zM141 24h1v1h-1zM13 25h1v1h-1zM38 25h1v1h-1zM43 25h1v1h-1zM68 25h1v1h-1zM120 25h1v1h-1zM159 25h1v1h-1zM40 26h1v1h-1zM48 26h1v1h-1zM73 26h1v1h-1zM11 27h1v1h-1zM27 27h1v1h-1zM32 27h2v1h-2zM52 27h1v1h-1zM108 27h1v1h-1zM143 27h1v1h-1zM0 28h1v1h-1zM16 28h1v1h-1zM35 28h1v1h-1zM79 28h1v1h-1zM103 28h1v1h-1zM130 28h1v1h-1zM146 28h1v1h-1zM16 29h1v1h-1zM45 29h1v1h-1zM53 29h1v1h-1zM99 29h1v1h-1zM33 30h1v1h-1zM50 30h1v1h-1zM54 30h1v1h-1zM74 30h1v1h-1zM79 30h1v1h-1zM85 30h1v1h-1zM141 30h2v1h-2zM13 31h1v1h-1zM22 31h2v1h-2zM83 31h1v1h-1zM95 31h1v1h-1zM77 32h1v1h-1zM79 32h1v1h-1zM95 32h1v1h-1zM34 33h1v1h-1zM41 33h1v1h-1zM73 33h1v1h-1zM77 33h1v1h-1zM121 33h1v1h-1zM124 33h1v1h-1zM145 33h1v1h-1zM6 34h2v1h-2zM11 34h1v1h-1zM27 34h1v1h-1zM47 34h2v1h-2zM83 34h1v1h-1zM85 34h1v1h-1zM87 34h1v1h-1zM132 34h1v1h-1zM140 34h1v1h-1zM144 34h1v1h-1zM4 35h2v1h-2zM13 35h1v1h-1zM36 35h1v1h-1zM56 35h1v1h-1zM59 35h1v1h-1zM143 35h1v1h-1zM13 36h1v1h-1zM19 36h1v1h-1zM21 36h1v1h-1zM28 36h1v1h-1zM50 36h1v1h-1zM63 36h1v1h-1zM113 36h1v1h-1zM149 36h1v1h-1zM13 37h1v1h-1zM41 37h1v1h-1zM47 37h1v1h-1zM56 37h1v1h-1zM64 37h1v1h-1zM108 37h1v1h-1zM123 37h1v1h-1zM130 37h1v1h-1zM147 37h1v1h-1zM156 37h1v1h-1zM4 38h1v1h-1zM15 38h1v1h-1zM18 38h1v1h-1zM67 38h1v1h-1zM69 38h1v1h-1zM144 38h1v1h-1zM13 39h1v1h-1zM33 39h1v1h-1zM40 39h1v1h-1zM42 39h1v1h-1zM46 39h1v1h-1zM111 39h1v1h-1zM7 40h1v1h-1zM37 40h1v1h-1zM40 40h1v1h-1zM58 40h2v1h-2zM108 40h1v1h-1zM122 40h1v1h-1zM134 40h1v1h-1zM144 40h1v1h-1zM5 41h1v1h-1zM13 41h2v1h-2zM23 41h1v1h-1zM31 41h1v1h-1zM37 41h1v1h-1zM59 41h1v1h-1zM127 41h1v1h-1zM11 42h1v1h-1zM106 42h1v1h-1zM129 42h1v1h-1zM147 42h1v1h-1zM4 43h1v1h-1zM17 43h3v1h-3zM21 43h2v1h-2zM33 43h1v1h-1zM61 43h1v1h-1zM63 43h1v1h-1zM114 43h1v1h-1zM151 43h1v1h-1zM47 44h1v1h-1zM63 44h1v1h-1zM117 44h1v1h-1zM12 45h1v1h-1zM15 45h1v1h-1zM19 45h1v1h-1zM33 45h1v1h-1zM35 45h1v1h-1zM49 45h1v1h-1zM128 45h1v1h-1zM141 45h2v1h-2zM16 46h1v1h-1zM19 46h1v1h-1zM41 46h1v1h-1zM49 46h1v1h-1zM53 46h3v1h-3zM62 46h1v1h-1zM89 46h1v1h-1zM128 46h1v1h-1zM152 46h1v1h-1zM5 47h1v1h-1zM40 47h2v1h-2zM129 47h1v1h-1zM141 47h1v1h-1zM2 48h1v1h-1zM28 48h1v1h-1zM31 48h1v1h-1zM41 48h1v1h-1zM84 48h1v1h-1zM150 48h1v1h-1zM10 49h1v1h-1zM41 49h1v1h-1zM57 49h1v1h-1zM70 49h1v1h-1zM111 49h1v1h-1zM145 49h1v1h-1zM149 49h1v1h-1zM152 49h1v1h-1zM24 50h2v1h-2zM30 50h1v1h-1zM39 50h1v1h-1zM45 50h1v1h-1zM54 50h1v1h-1zM84 50h1v1h-1zM135 50h1v1h-1zM0 51h1v1h-1zM13 51h1v1h-1zM50 51h1v1h-1zM74 51h1v1h-1zM141 51h1v1h-1zM14 52h1v1h-1zM28 52h1v1h-1zM30 52h1v1h-1zM32 52h1v1h-1zM92 52h1v1h-1zM8 53h1v1h-1zM22 53h1v1h-1zM25 53h1v1h-1zM63 53h1v1h-1zM66 53h1v1h-1zM68 53h1v1h-1zM75 53h1v1h-1zM29 54h1v1h-1zM64 54h1v1h-1zM77 54h1v1h-1zM80 54h1v1h-1zM118 54h1v1h-1zM0 55h1v1h-1zM8 55h1v1h-1zM27 55h1v1h-1zM54 55h1v1h-1zM71 55h1v1h-1zM104 55h1v1h-1zM126 55h1v1h-1zM130 55h1v1h-1zM0 56h1v1h-1zM53 56h1v1h-1zM61 56h1v1h-1zM96 56h1v1h-1zM100 56h1v1h-1zM106 56h1v1h-1zM108 56h1v1h-1zM127 56h1v1h-1zM135 56h1v1h-1zM102 57h1v1h-1zM120 57h1v1h-1zM128 57h1v1h-1zM137 57h1v1h-1zM150 57h1v1h-1zM3 58h1v1h-1zM53 58h1v1h-1zM62 58h1v1h-1zM87 58h1v1h-1zM103 58h1v1h-1zM128 58h1v1h-1zM136 58h1v1h-1zM12 59h1v1h-1zM22 59h1v1h-1zM25 59h1v1h-1zM27 59h1v1h-1zM57 59h1v1h-1zM76 59h1v1h-1zM105 59h2v1h-2zM15 60h2v1h-2zM40 60h1v1h-1zM54 60h1v1h-1zM66 60h1v1h-1zM75 60h1v1h-1zM78 60h1v1h-1zM97 60h1v1h-1zM99 60h1v1h-1zM141 60h1v1h-1zM25 61h2v1h-2zM46 61h1v1h-1zM107 61h1v1h-1zM111 61h1v1h-1zM127 61h1v1h-1zM157 61h1v1h-1zM21 62h1v1h-1zM39 62h1v1h-1zM43 62h1v1h-1zM52 62h1v1h-1zM66 62h1v1h-1zM71 62h1v1h-1zM74 62h1v1h-1zM98 62h1v1h-1zM109 62h1v1h-1zM152 62h1v1h-1zM53 63h1v1h-1zM77 63h1v1h-1zM112 63h1v1h-1zM118 63h2v1h-2zM127 63h1v1h-1zM23 64h1v1h-1zM62 64h1v1h-1zM67 64h1v1h-1zM129 64h1v1h-1zM15 65h1v1h-1zM18 65h1v1h-1zM69 65h1v1h-1zM108 65h1v1h-1zM126 65h1v1h-1zM146 65h1v1h-1zM1 66h1v1h-1zM13 66h1v1h-1zM16 66h1v1h-1zM22 66h1v1h-1zM31 66h1v1h-1zM35 66h1v1h-1zM38 66h1v1h-1zM53 66h1v1h-1zM75 66h1v1h-1zM93 66h1v1h-1zM102 66h1v1h-1zM156 66h1v1h-1zM1 67h1v1h-1zM22 67h1v1h-1zM25 67h1v1h-1zM36 67h1v1h-1zM40 67h1v1h-1zM107 67h1v1h-1zM114 67h1v1h-1zM124 67h1v1h-1zM128 67h1v1h-1zM146 67h1v1h-1zM22 68h1v1h-1zM34 68h1v1h-1zM39 68h1v1h-1zM50 68h1v1h-1zM59 68h1v1h-1zM86 68h1v1h-1zM157 68h1v1h-1zM34 69h1v1h-1zM45 69h1v1h-1zM58 69h1v1h-1zM61 69h1v1h-1zM63 69h1v1h-1zM80 69h1v1h-1zM104 69h1v1h-1zM144 69h1v1h-1zM15 70h1v1h-1zM24 70h1v1h-1zM26 70h1v1h-1zM41 70h1v1h-1zM49 70h1v1h-1zM51 70h1v1h-1zM67 70h2v1h-2zM79 70h1v1h-1zM123 70h1v1h-1zM151 70h1v1h-1zM6 71h1v1h-1zM10 71h1v1h-1zM13 71h1v1h-1zM47 71h1v1h-1zM68 71h1v1h-1zM91 71h1v1h-1zM102 71h1v1h-1zM113 71h1v1h-1zM127 71h1v1h-1zM146 71h1v1h-1zM149 71h1v1h-1z"/><path fill="#fcca8e" d="M26 0h1v1h-1zM42 0h1v1h-1zM49 0h1v1h-1zM92 0h1v1h-1zM104 0h1v1h-1zM106 0h1v1h-1zM109 0h1v1h-1zM154 0h2v1h-2zM0 1h1v1h-1zM44 1h1v1h-1zM47 1h1v1h-1zM72 1h2v1h-2zM91 1h1v1h-1zM106 1h1v1h-1zM111 1h1v1h-1zM138 1h1v1h-1zM148 1h1v1h-1zM153 1h1v1h-1zM5 2h1v1h-1zM26 2h1v1h-1zM41 2h1v1h-1zM53 3h1v1h-1zM66 3h1v1h-1zM72 3h1v1h-1zM109 3h1v1h-1zM144 3h1v1h-1zM146 3h1v1h-1zM96 4h1v1h-1zM101 4h1v1h-1zM145 4h1v1h-1zM5 5h1v1h-1zM72 5h1v1h-1zM77 5h1v1h-1zM131 5h1v1h-1zM137 5h1v1h-1zM144 5h1v1h-1zM37 6h1v1h-1zM74 6h2v1h-2zM121 6h1v1h-1zM14 7h1v1h-1zM36 7h1v1h-1zM59 7h1v1h-1zM82 7h1v1h-1zM101 7h1v1h-1zM103 7h1v1h-1zM108 7h1v1h-1zM110 7h1v1h-1zM113 7h1v1h-1zM60 8h1v1h-1zM99 8h1v1h-1zM109 8h1v1h-1zM134 8h1v1h-1zM67 9h1v1h-1zM69 9h1v1h-1zM71 9h1v1h-1zM121 9h1v1h-1zM130 9h1v1h-1zM145 9h1v1h-1zM42 10h1v1h-1zM48 10h1v1h-1zM58 10h1v1h-1zM83 10h1v1h-1zM13 11h1v1h-1zM74 11h1v1h-1zM115 11h1v1h-1zM1 12h1v1h-1zM6 12h1v1h-1zM10 12h1v1h-1zM12 12h1v1h-1zM43 12h1v1h-1zM60 12h1v1h-1zM63 12h1v1h-1zM77 12h1v1h-1zM88 12h1v1h-1zM7 13h1v1h-1zM43 13h1v1h-1zM95 13h1v1h-1zM110 13h1v1h-1zM19 14h1v1h-1zM157 14h1v1h-1zM6 15h1v1h-1zM106 15h1v1h-1zM19 16h1v1h-1zM100 16h1v1h-1zM106 16h1v1h-1zM13 17h1v1h-1zM69 17h1v1h-1zM71 17h1v1h-1zM77 17h1v1h-1zM83 17h1v1h-1zM14 18h1v1h-1zM48 18h1v1h-1zM104 18h1v1h-1zM150 18h1v1h-1zM157 18h1v1h-1zM6 19h1v1h-1zM14 19h1v1h-1zM23 19h1v1h-1zM50 19h1v1h-1zM61 19h2v1h-2zM71 19h1v1h-1zM85 19h1v1h-1zM120 19h1v1h-1zM144 19h1v1h-1zM0 20h1v1h-1zM6 20h1v1h-1zM10 20h1v1h-1zM58 20h1v1h-1zM63 20h1v1h-1zM65 20h1v1h-1zM114 20h1v1h-1zM140 20h1v1h-1zM33 21h1v1h-1zM63 21h1v1h-1zM91 21h1v1h-1zM106 21h1v1h-1zM120 21h1v1h-1zM157 21h1v1h-1zM78 22h1v1h-1zM144 22h1v1h-1zM7 23h1v1h-1zM12 23h1v1h-1zM22 23h1v1h-1zM34 23h1v1h-1zM36 23h1v1h-1zM46 23h1v1h-1zM83 23h1v1h-1zM1 24h1v1h-1zM46 24h1v1h-1zM66 24h1v1h-1zM66 25h1v1h-1zM76 25h1v1h-1zM86 25h1v1h-1zM108 25h1v1h-1zM113 25h1v1h-1zM147 25h1v1h-1zM60 26h1v1h-1zM84 26h1v1h-1zM88 26h1v1h-1zM106 26h1v1h-1zM15 27h1v1h-1zM19 27h1v1h-1zM78 27h1v1h-1zM113 27h1v1h-1zM145 27h1v1h-1zM159 27h1v1h-1zM7 28h2v1h-2zM12 28h1v1h-1zM39 28h1v1h-1zM41 28h1v1h-1zM99 28h1v1h-1zM128 28h1v1h-1zM133 28h1v1h-1zM148 28h1v1h-1zM2 29h1v1h-1zM7 29h1v1h-1zM30 29h1v1h-1zM85 29h1v1h-1zM94 29h1v1h-1zM103 29h1v1h-1zM118 29h1v1h-1zM132 29h1v1h-1zM149 29h1v1h-1zM159 29h1v1h-1zM2 30h1v1h-1zM11 30h1v1h-1zM13 30h1v1h-1zM16 30h1v1h-1zM26 30h1v1h-1zM30 30h1v1h-1zM34 30h1v1h-1zM86 30h1v1h-1zM105 30h1v1h-1zM152 30h1v1h-1zM4 31h1v1h-1zM35 31h1v1h-1zM43 31h1v1h-1zM124 31h1v1h-1zM137 31h1v1h-1zM143 31h1v1h-1zM1 32h1v1h-1zM135 32h1v1h-1zM138 32h1v1h-1zM29 33h1v1h-1zM31 33h1v1h-1zM33 33h1v1h-1zM43 33h1v1h-1zM130 33h1v1h-1zM45 34h1v1h-1zM52 34h1v1h-1zM60 34h1v1h-1zM75 34h1v1h-1zM79 34h1v1h-1zM22 35h1v1h-1zM31 35h1v1h-1zM42 35h1v1h-1zM154 35h1v1h-1zM1 36h1v1h-1zM30 36h1v1h-1zM32 36h1v1h-1zM52 36h2v1h-2zM83 36h1v1h-1zM118 36h1v1h-1zM133 36h1v1h-1zM148 36h1v1h-1zM151 36h1v1h-1zM156 36h1v1h-1zM6 37h1v1h-1zM14 37h1v1h-1zM16 37h1v1h-1zM33 37h1v1h-1zM138 37h1v1h-1zM142 37h1v1h-1zM152 37h1v1h-1zM3 38h1v1h-1zM31 38h1v1h-1zM61 38h1v1h-1zM2 39h1v1h-1zM16 39h1v1h-1zM52 39h1v1h-1zM71 39h1v1h-1zM105 39h1v1h-1zM116 39h1v1h-1zM120 39h1v1h-1zM123 39h2v1h-2zM157 39h1v1h-1zM42 40h1v1h-1zM49 40h1v1h-1zM63 40h1v1h-1zM115 40h1v1h-1zM119 40h1v1h-1zM135 40h1v1h-1zM138 40h1v1h-1zM1 41h1v1h-1zM30 41h1v1h-1zM32 41h1v1h-1zM35 41h1v1h-1zM53 41h1v1h-1zM60 41h1v1h-1zM69 41h1v1h-1zM128 41h1v1h-1zM134 41h1v1h-1zM149 41h1v1h-1zM155 41h1v1h-1zM4 42h1v1h-1zM12 42h1v1h-1zM19 42h1v1h-1zM52 42h1v1h-1zM65 42h1v1h-1zM70 42h1v1h-1zM108 42h1v1h-1zM118 42h1v1h-1zM126 42h1v1h-1zM137 42h1v1h-1zM146 42h1v1h-1zM153 42h1v1h-1zM16 43h1v1h-1zM34 43h1v1h-1zM42 43h1v1h-1zM128 43h1v1h-1zM142 43h1v1h-1zM149 43h1v1h-1zM5 44h1v1h-1zM13 44h1v1h-1zM18 44h1v1h-1zM20 44h2v1h-2zM24 44h1v1h-1zM61 44h1v1h-1zM136 44h1v1h-1zM142 44h1v1h-1zM158 44h1v1h-1zM70 45h1v1h-1zM126 45h1v1h-1zM134 45h1v1h-1zM136 45h1v1h-1zM29 46h1v1h-1zM36 46h1v1h-1zM129 46h1v1h-1zM150 46h1v1h-1zM24 47h1v1h-1zM150 47h1v1h-1zM1 48h1v1h-1zM16 48h1v1h-1zM48 48h1v1h-1zM50 48h1v1h-1zM80 48h2v1h-2zM132 48h1v1h-1zM148 48h1v1h-1zM15 49h1v1h-1zM18 49h1v1h-1zM36 49h1v1h-1zM44 49h1v1h-1zM125 49h1v1h-1zM142 49h1v1h-1zM151 49h1v1h-1zM83 50h1v1h-1zM88 50h2v1h-2zM105 50h1v1h-1zM146 50h1v1h-1zM154 50h1v1h-1zM8 51h1v1h-1zM12 51h1v1h-1zM13 52h1v1h-1zM21 52h1v1h-1zM35 52h1v1h-1zM73 52h2v1h-2zM113 52h1v1h-1zM126 52h1v1h-1zM152 52h1v1h-1zM0 53h1v1h-1zM5 53h1v1h-1zM21 53h1v1h-1zM29 53h1v1h-1zM67 53h1v1h-1zM79 53h1v1h-1zM95 53h1v1h-1zM104 53h1v1h-1zM106 53h1v1h-1zM10 54h1v1h-1zM73 54h1v1h-1zM57 55h1v1h-1zM63 55h1v1h-1zM81 55h1v1h-1zM7 56h1v1h-1zM14 56h1v1h-1zM42 56h1v1h-1zM50 56h1v1h-1zM66 56h1v1h-1zM117 56h1v1h-1zM11 57h1v1h-1zM15 57h1v1h-1zM17 57h1v1h-1zM30 57h1v1h-1zM54 57h1v1h-1zM74 57h1v1h-1zM97 57h1v1h-1zM121 57h1v1h-1zM124 57h1v1h-1zM131 57h1v1h-1zM22 58h1v1h-1zM59 58h1v1h-1zM70 58h1v1h-1zM120 58h1v1h-1zM5 59h1v1h-1zM20 59h1v1h-1zM74 59h1v1h-1zM77 59h2v1h-2zM103 59h1v1h-1zM112 59h1v1h-1zM129 59h1v1h-1zM7 60h2v1h-2zM20 60h1v1h-1zM31 60h2v1h-2zM36 60h1v1h-1zM79 60h1v1h-1zM84 60h1v1h-1zM100 60h1v1h-1zM3 61h1v1h-1zM57 61h1v1h-1zM61 61h1v1h-1zM75 61h1v1h-1zM90 61h1v1h-1zM93 61h1v1h-1zM116 61h1v1h-1zM130 61h1v1h-1zM28 62h1v1h-1zM38 62h1v1h-1zM78 62h1v1h-1zM84 62h1v1h-1zM107 62h1v1h-1zM113 62h1v1h-1zM127 62h1v1h-1zM156 62h1v1h-1zM158 62h1v1h-1zM16 63h1v1h-1zM34 63h1v1h-1zM43 63h2v1h-2zM66 63h1v1h-1zM73 63h1v1h-1zM95 63h1v1h-1zM101 63h1v1h-1zM120 63h1v1h-1zM135 63h1v1h-1zM15 64h2v1h-2zM20 64h1v1h-1zM58 64h2v1h-2zM69 64h1v1h-1zM87 64h1v1h-1zM91 64h1v1h-1zM101 64h1v1h-1zM138 64h1v1h-1zM151 64h1v1h-1zM9 65h1v1h-1zM29 65h1v1h-1zM37 65h1v1h-1zM47 65h1v1h-1zM102 65h1v1h-1zM140 65h1v1h-1zM17 66h1v1h-1zM51 66h1v1h-1zM66 66h1v1h-1zM94 66h1v1h-1zM111 66h1v1h-1zM134 66h1v1h-1zM43 67h1v1h-1zM53 67h1v1h-1zM59 67h1v1h-1zM62 67h1v1h-1zM70 67h2v1h-2zM15 68h1v1h-1zM31 68h1v1h-1zM55 68h1v1h-1zM60 68h2v1h-2zM73 68h1v1h-1zM3 69h1v1h-1zM8 69h1v1h-1zM24 69h1v1h-1zM36 69h1v1h-1zM98 69h1v1h-1zM116 69h1v1h-1zM155 69h1v1h-1zM27 70h1v1h-1zM54 70h1v1h-1zM60 70h1v1h-1zM64 70h1v1h-1zM97 70h1v1h-1zM135 70h1v1h-1zM0 71h1v1h-1zM5 71h1v1h-1zM34 71h1v1h-1zM42 71h1v1h-1zM59 71h1v1h-1zM84 71h1v1h-1zM88 71h1v1h-1zM157 71h1v1h-1z"/><path fill="#fccc91" d="M21 0h1v1h-1zM41 0h1v1h-1zM76 0h1v1h-1zM96 0h1v1h-1zM98 0h1v1h-1zM20 1h1v1h-1zM23 1h1v1h-1zM34 1h1v1h-1zM36 1h1v1h-1zM43 1h1v1h-1zM88 1h1v1h-1zM92 1h1v1h-1zM98 1h1v1h-1zM105 1h1v1h-1zM141 1h1v1h-1zM156 1h1v1h-1zM6 2h1v1h-1zM34 2h1v1h-1zM48 2h1v1h-1zM57 2h1v1h-1zM60 2h1v1h-1zM64 2h1v1h-1zM68 2h1v1h-1zM104 2h1v1h-1zM131 2h1v1h-1zM133 2h1v1h-1zM50 3h1v1h-1zM54 3h1v1h-1zM73 3h1v1h-1zM98 3h1v1h-1zM120 3h1v1h-1zM132 3h1v1h-1zM73 4h1v1h-1zM99 4h1v1h-1zM105 4h1v1h-1zM112 4h1v1h-1zM37 5h1v1h-1zM59 5h1v1h-1zM73 5h1v1h-1zM82 5h1v1h-1zM153 5h1v1h-1zM0 6h2v1h-2zM8 6h1v1h-1zM41 6h1v1h-1zM71 6h1v1h-1zM77 6h1v1h-1zM86 6h1v1h-1zM96 6h1v1h-1zM100 6h1v1h-1zM143 6h1v1h-1zM58 7h1v1h-1zM3 8h1v1h-1zM91 8h1v1h-1zM107 8h1v1h-1zM119 8h1v1h-1zM147 8h1v1h-1zM17 9h1v1h-1zM42 9h1v1h-1zM44 9h1v1h-1zM104 9h1v1h-1zM109 9h1v1h-1zM124 9h1v1h-1zM5 10h1v1h-1zM14 10h1v1h-1zM54 10h1v1h-1zM59 10h1v1h-1zM146 10h1v1h-1zM0 11h1v1h-1zM102 11h1v1h-1zM16 12h1v1h-1zM42 12h1v1h-1zM56 12h1v1h-1zM68 12h1v1h-1zM111 12h1v1h-1zM135 12h1v1h-1zM137 12h1v1h-1zM47 13h1v1h-1zM49 13h1v1h-1zM53 13h1v1h-1zM101 13h1v1h-1zM12 14h1v1h-1zM16 14h1v1h-1zM20 14h1v1h-1zM50 14h1v1h-1zM63 14h1v1h-1zM86 14h1v1h-1zM108 14h1v1h-1zM110 14h1v1h-1zM130 14h1v1h-1zM13 15h1v1h-1zM15 15h1v1h-1zM22 15h1v1h-1zM26 15h1v1h-1zM52 15h1v1h-1zM64 15h1v1h-1zM74 15h1v1h-1zM88 15h1v1h-1zM7 16h1v1h-1zM12 16h1v1h-1zM32 16h1v1h-1zM49 16h1v1h-1zM60 16h1v1h-1zM73 16h2v1h-2zM85 16h1v1h-1zM139 16h1v1h-1zM156 16h1v1h-1zM16 17h1v1h-1zM31 17h1v1h-1zM92 17h1v1h-1zM99 17h1v1h-1zM137 17h1v1h-1zM156 17h1v1h-1zM17 18h1v1h-1zM24 18h1v1h-1zM63 18h1v1h-1zM10 19h1v1h-1zM40 19h1v1h-1zM133 19h1v1h-1zM158 19h1v1h-1zM25 20h1v1h-1zM30 20h1v1h-1zM35 20h1v1h-1zM41 20h1v1h-1zM76 20h1v1h-1zM103 20h1v1h-1zM12 21h1v1h-1zM22 21h1v1h-1zM26 21h1v1h-1zM58 21h1v1h-1zM109 21h1v1h-1zM139 21h1v1h-1zM142 21h1v1h-1zM147 21h1v1h-1zM29 22h3v1h-3zM34 22h1v1h-1zM75 22h1v1h-1zM85 22h1v1h-1zM106 22h1v1h-1zM35 23h1v1h-1zM95 23h1v1h-1zM119 23h1v1h-1zM29 24h1v1h-1zM36 24h1v1h-1zM71 24h1v1h-1zM82 24h1v1h-1zM102 24h1v1h-1zM127 24h1v1h-1zM135 24h1v1h-1zM7 25h1v1h-1zM71 25h1v1h-1zM96 25h1v1h-1zM98 25h1v1h-1zM126 25h1v1h-1zM143 25h1v1h-1zM47 26h1v1h-1zM52 26h1v1h-1zM108 26h1v1h-1zM150 26h1v1h-1zM20 27h1v1h-1zM29 27h1v1h-1zM35 27h2v1h-2zM47 27h1v1h-1zM82 27h1v1h-1zM107 27h1v1h-1zM154 27h1v1h-1zM1 28h1v1h-1zM15 28h1v1h-1zM21 28h1v1h-1zM74 28h1v1h-1zM82 28h1v1h-1zM115 28h1v1h-1zM154 28h1v1h-1zM40 29h1v1h-1zM48 29h1v1h-1zM91 29h1v1h-1zM97 29h1v1h-1zM0 30h1v1h-1zM35 30h1v1h-1zM49 30h1v1h-1zM53 30h1v1h-1zM133 30h1v1h-1zM146 30h1v1h-1zM27 31h1v1h-1zM42 31h1v1h-1zM49 31h1v1h-1zM56 31h1v1h-1zM158 31h1v1h-1zM16 32h1v1h-1zM26 32h2v1h-2zM49 32h2v1h-2zM56 32h1v1h-1zM96 32h1v1h-1zM103 32h1v1h-1zM108 32h1v1h-1zM153 32h1v1h-1zM1 33h1v1h-1zM3 33h1v1h-1zM39 33h1v1h-1zM55 33h2v1h-2zM61 33h1v1h-1zM82 33h1v1h-1zM85 33h1v1h-1zM116 33h1v1h-1zM159 33h1v1h-1zM20 34h1v1h-1zM25 34h1v1h-1zM7 35h1v1h-1zM12 35h1v1h-1zM16 35h1v1h-1zM28 35h1v1h-1zM58 35h1v1h-1zM60 35h1v1h-1zM66 35h1v1h-1zM91 35h2v1h-2zM121 35h1v1h-1zM35 36h1v1h-1zM84 36h1v1h-1zM121 36h1v1h-1zM143 36h1v1h-1zM10 37h3v1h-3zM42 37h1v1h-1zM53 37h2v1h-2zM61 37h1v1h-1zM66 37h1v1h-1zM69 37h1v1h-1zM93 37h1v1h-1zM121 37h1v1h-1zM140 37h1v1h-1zM6 38h1v1h-1zM42 38h1v1h-1zM50 38h1v1h-1zM57 38h2v1h-2zM65 38h1v1h-1zM87 38h1v1h-1zM121 38h1v1h-1zM142 38h1v1h-1zM5 39h1v1h-1zM17 39h2v1h-2zM26 39h1v1h-1zM30 39h1v1h-1zM60 39h1v1h-1zM69 39h1v1h-1zM130 39h1v1h-1zM13 40h1v1h-1zM33 40h1v1h-1zM38 40h2v1h-2zM51 40h1v1h-1zM66 40h1v1h-1zM124 40h1v1h-1zM151 40h1v1h-1zM156 40h1v1h-1zM0 41h1v1h-1zM44 41h1v1h-1zM61 41h1v1h-1zM64 41h1v1h-1zM102 41h1v1h-1zM109 41h1v1h-1zM111 41h1v1h-1zM158 41h1v1h-1zM6 42h1v1h-1zM36 42h1v1h-1zM48 42h1v1h-1zM66 42h1v1h-1zM113 42h1v1h-1zM136 42h1v1h-1zM142 42h1v1h-1zM149 42h1v1h-1zM152 42h1v1h-1zM24 43h1v1h-1zM66 43h1v1h-1zM126 43h1v1h-1zM134 43h1v1h-1zM139 43h1v1h-1zM141 43h1v1h-1zM156 43h1v1h-1zM9 44h1v1h-1zM22 44h1v1h-1zM28 44h1v1h-1zM150 44h1v1h-1zM156 44h1v1h-1zM11 45h1v1h-1zM71 45h1v1h-1zM135 45h1v1h-1zM140 45h1v1h-1zM156 45h2v1h-2zM17 46h1v1h-1zM51 46h1v1h-1zM60 46h1v1h-1zM3 47h1v1h-1zM56 47h1v1h-1zM94 47h1v1h-1zM128 47h1v1h-1zM158 47h1v1h-1zM12 48h1v1h-1zM24 48h1v1h-1zM44 48h1v1h-1zM126 48h1v1h-1zM1 49h1v1h-1zM27 49h1v1h-1zM38 49h1v1h-1zM53 49h1v1h-1zM75 49h1v1h-1zM89 49h1v1h-1zM0 50h1v1h-1zM8 50h1v1h-1zM19 50h1v1h-1zM35 50h2v1h-2zM40 50h1v1h-1zM95 50h1v1h-1zM147 50h1v1h-1zM70 51h1v1h-1zM93 51h2v1h-2zM149 51h1v1h-1zM37 52h1v1h-1zM86 52h1v1h-1zM93 52h1v1h-1zM104 52h1v1h-1zM26 53h1v1h-1zM12 54h1v1h-1zM49 54h1v1h-1zM65 54h1v1h-1zM100 54h2v1h-2zM11 55h1v1h-1zM68 55h1v1h-1zM72 55h1v1h-1zM86 55h1v1h-1zM96 55h1v1h-1zM75 56h1v1h-1zM82 56h1v1h-1zM104 56h1v1h-1zM2 57h1v1h-1zM42 57h1v1h-1zM59 57h1v1h-1zM82 57h1v1h-1zM112 57h1v1h-1zM10 58h1v1h-1zM37 58h1v1h-1zM54 58h1v1h-1zM61 58h1v1h-1zM74 58h1v1h-1zM86 58h1v1h-1zM89 58h1v1h-1zM96 58h1v1h-1zM112 58h1v1h-1zM150 58h1v1h-1zM31 59h1v1h-1zM54 59h1v1h-1zM61 59h1v1h-1zM82 59h1v1h-1zM128 59h1v1h-1zM25 60h1v1h-1zM39 60h1v1h-1zM43 60h1v1h-1zM57 60h1v1h-1zM67 60h1v1h-1zM71 60h1v1h-1zM87 60h1v1h-1zM130 60h1v1h-1zM132 60h1v1h-1zM136 60h1v1h-1zM16 61h1v1h-1zM23 61h1v1h-1zM41 61h1v1h-1zM71 61h1v1h-1zM129 61h1v1h-1zM136 61h1v1h-1zM18 62h1v1h-1zM31 62h1v1h-1zM37 62h1v1h-1zM62 62h1v1h-1zM117 62h1v1h-1zM119 62h1v1h-1zM33 63h1v1h-1zM41 63h1v1h-1zM94 63h1v1h-1zM116 63h1v1h-1zM159 63h1v1h-1zM18 64h1v1h-1zM29 64h2v1h-2zM61 64h1v1h-1zM84 64h1v1h-1zM90 64h1v1h-1zM106 64h1v1h-1zM142 64h1v1h-1zM44 65h1v1h-1zM63 65h2v1h-2zM66 65h1v1h-1zM78 65h1v1h-1zM87 65h1v1h-1zM95 65h1v1h-1zM105 65h1v1h-1zM130 65h1v1h-1zM6 66h2v1h-2zM27 66h1v1h-1zM41 66h1v1h-1zM73 66h1v1h-1zM107 66h1v1h-1zM128 66h1v1h-1zM12 67h1v1h-1zM101 67h1v1h-1zM112 67h1v1h-1zM13 68h1v1h-1zM66 68h1v1h-1zM97 68h1v1h-1zM102 68h1v1h-1zM121 68h1v1h-1zM125 68h2v1h-2zM33 69h1v1h-1zM68 69h1v1h-1zM124 69h1v1h-1zM127 69h1v1h-1zM146 69h1v1h-1zM59 70h1v1h-1zM61 70h1v1h-1zM63 70h1v1h-1zM66 70h1v1h-1zM139 70h1v1h-1zM159 70h1v1h-1zM2 71h1v1h-1zM38 71h1v1h-1zM48 71h1v1h-1zM54 71h1v1h-1zM78 71h1v1h-1zM92 71h2v1h-2z"/><path fill="#fcce93" d="M43 0h1v1h-1zM45 0h1v1h-1zM66 0h1v1h-1zM78 0h1v1h-1zM86 0h1v1h-1zM112 0h1v1h-1zM143 0h1v1h-1zM157 0h1v1h-1zM1 1h1v1h-1zM110 1h1v1h-1zM42 2h1v1h-1zM47 2h1v1h-1zM148 2h1v1h-1zM57 3h1v1h-1zM96 3h1v1h-1zM100 3h1v1h-1zM119 3h1v1h-1zM131 3h1v1h-1zM149 3h1v1h-1zM157 3h1v1h-1zM1 4h1v1h-1zM34 4h1v1h-1zM44 4h1v1h-1zM113 4h2v1h-2zM142 4h1v1h-1zM6 5h1v1h-1zM42 5h1v1h-1zM115 5h1v1h-1zM147 5h1v1h-1zM5 6h1v1h-1zM49 6h1v1h-1zM83 6h1v1h-1zM103 6h1v1h-1zM111 6h1v1h-1zM10 7h1v1h-1zM47 7h1v1h-1zM77 7h1v1h-1zM96 7h1v1h-1zM150 7h1v1h-1zM48 8h2v1h-2zM149 8h1v1h-1zM9 9h1v1h-1zM76 9h1v1h-1zM133 9h1v1h-1zM10 10h1v1h-1zM16 10h1v1h-1zM41 10h1v1h-1zM60 10h1v1h-1zM16 11h1v1h-1zM40 11h1v1h-1zM62 11h1v1h-1zM70 11h1v1h-1zM78 11h1v1h-1zM50 12h1v1h-1zM65 12h1v1h-1zM85 12h1v1h-1zM99 12h1v1h-1zM103 12h1v1h-1zM140 12h1v1h-1zM158 12h1v1h-1zM59 13h1v1h-1zM66 13h1v1h-1zM70 13h1v1h-1zM85 13h1v1h-1zM87 13h1v1h-1zM100 13h1v1h-1zM132 13h1v1h-1zM143 13h1v1h-1zM1 14h1v1h-1zM78 14h1v1h-1zM85 14h1v1h-1zM135 14h1v1h-1zM57 15h1v1h-1zM61 15h1v1h-1zM63 16h2v1h-2zM66 16h1v1h-1zM133 16h1v1h-1zM151 16h1v1h-1zM30 17h1v1h-1zM63 17h1v1h-1zM85 17h1v1h-1zM102 17h1v1h-1zM112 17h1v1h-1zM135 17h1v1h-1zM31 18h1v1h-1zM53 18h1v1h-1zM65 18h1v1h-1zM78 18h1v1h-1zM83 18h1v1h-1zM106 18h1v1h-1zM112 18h1v1h-1zM131 18h3v1h-3zM7 19h1v1h-1zM57 19h2v1h-2zM73 19h1v1h-1zM76 19h1v1h-1zM79 19h1v1h-1zM122 19h1v1h-1zM15 20h1v1h-1zM29 20h1v1h-1zM37 20h1v1h-1zM40 20h1v1h-1zM60 20h3v1h-3zM141 20h1v1h-1zM155 20h1v1h-1zM10 21h1v1h-1zM18 21h1v1h-1zM98 21h1v1h-1zM108 21h1v1h-1zM156 21h1v1h-1zM64 22h1v1h-1zM109 22h1v1h-1zM149 22h1v1h-1zM44 23h1v1h-1zM78 23h1v1h-1zM82 23h1v1h-1zM91 23h2v1h-2zM98 23h1v1h-1zM146 23h1v1h-1zM149 23h1v1h-1zM10 24h1v1h-1zM73 24h1v1h-1zM77 24h1v1h-1zM106 24h1v1h-1zM63 25h1v1h-1zM65 25h1v1h-1zM79 25h1v1h-1zM102 25h1v1h-1zM127 25h1v1h-1zM134 25h1v1h-1zM156 25h1v1h-1zM18 26h1v1h-1zM34 26h1v1h-1zM50 26h2v1h-2zM64 26h1v1h-1zM95 26h1v1h-1zM121 26h1v1h-1zM144 26h1v1h-1zM17 27h1v1h-1zM31 27h1v1h-1zM34 27h1v1h-1zM72 27h1v1h-1zM77 27h1v1h-1zM98 27h1v1h-1zM120 27h1v1h-1zM69 28h1v1h-1zM86 28h1v1h-1zM88 28h2v1h-2zM105 28h1v1h-1zM114 28h1v1h-1zM22 29h1v1h-1zM74 29h1v1h-1zM95 29h1v1h-1zM130 29h1v1h-1zM146 29h1v1h-1zM156 29h1v1h-1zM3 30h1v1h-1zM24 30h1v1h-1zM39 30h1v1h-1zM51 30h1v1h-1zM111 30h1v1h-1zM149 30h1v1h-1zM158 30h1v1h-1zM3 31h1v1h-1zM11 31h1v1h-1zM105 31h1v1h-1zM131 31h2v1h-2zM152 31h2v1h-2zM5 32h1v1h-1zM25 32h1v1h-1zM75 32h1v1h-1zM99 32h1v1h-1zM149 32h1v1h-1zM156 32h2v1h-2zM35 33h1v1h-1zM52 33h1v1h-1zM60 33h1v1h-1zM75 33h1v1h-1zM87 33h1v1h-1zM94 33h1v1h-1zM104 33h1v1h-1zM134 33h1v1h-1zM5 34h1v1h-1zM46 34h1v1h-1zM54 34h1v1h-1zM59 34h1v1h-1zM63 34h1v1h-1zM77 34h1v1h-1zM82 34h1v1h-1zM92 34h1v1h-1zM96 34h1v1h-1zM99 34h1v1h-1zM101 34h1v1h-1zM103 34h1v1h-1zM150 34h1v1h-1zM43 35h1v1h-1zM62 35h1v1h-1zM113 35h1v1h-1zM134 35h1v1h-1zM150 35h1v1h-1zM44 36h1v1h-1zM47 36h1v1h-1zM81 36h1v1h-1zM99 36h1v1h-1zM4 37h1v1h-1zM21 37h1v1h-1zM23 37h1v1h-1zM29 37h1v1h-1zM51 37h1v1h-1zM60 37h1v1h-1zM114 37h1v1h-1zM10 38h1v1h-1zM17 38h1v1h-1zM34 38h1v1h-1zM36 38h1v1h-1zM60 38h1v1h-1zM70 38h1v1h-1zM131 38h1v1h-1zM146 38h2v1h-2zM1 39h1v1h-1zM22 39h1v1h-1zM59 39h1v1h-1zM96 39h1v1h-1zM113 39h1v1h-1zM135 39h1v1h-1zM70 40h1v1h-1zM130 40h1v1h-1zM141 40h1v1h-1zM7 41h1v1h-1zM33 41h2v1h-2zM45 41h1v1h-1zM15 42h1v1h-1zM33 42h2v1h-2zM49 42h1v1h-1zM110 42h1v1h-1zM122 42h1v1h-1zM128 42h1v1h-1zM155 42h1v1h-1zM5 43h1v1h-1zM52 43h1v1h-1zM137 43h1v1h-1zM144 43h1v1h-1zM152 43h1v1h-1zM23 44h1v1h-1zM37 44h1v1h-1zM57 44h1v1h-1zM132 44h1v1h-1zM34 45h1v1h-1zM43 45h1v1h-1zM48 45h1v1h-1zM69 45h1v1h-1zM129 45h1v1h-1zM44 46h1v1h-1zM0 47h1v1h-1zM6 47h1v1h-1zM46 47h2v1h-2zM59 47h1v1h-1zM93 47h1v1h-1zM116 47h1v1h-1zM132 47h1v1h-1zM136 47h1v1h-1zM138 47h1v1h-1zM151 47h1v1h-1zM0 48h1v1h-1zM74 48h1v1h-1zM137 48h1v1h-1zM141 48h1v1h-1zM146 49h1v1h-1zM6 50h1v1h-1zM16 50h1v1h-1zM23 50h1v1h-1zM29 50h1v1h-1zM125 50h1v1h-1zM136 50h1v1h-1zM151 50h1v1h-1zM28 51h1v1h-1zM36 51h1v1h-1zM39 51h1v1h-1zM101 51h1v1h-1zM17 52h1v1h-1zM39 52h1v1h-1zM100 52h1v1h-1zM69 53h1v1h-1zM73 53h1v1h-1zM82 53h1v1h-1zM90 53h1v1h-1zM92 53h1v1h-1zM50 54h1v1h-1zM126 54h1v1h-1zM3 55h1v1h-1zM20 55h1v1h-1zM74 55h1v1h-1zM92 55h1v1h-1zM112 55h1v1h-1zM116 55h1v1h-1zM123 55h1v1h-1zM30 56h1v1h-1zM36 56h1v1h-1zM62 56h1v1h-1zM93 56h1v1h-1zM138 56h1v1h-1zM33 57h1v1h-1zM35 57h1v1h-1zM53 57h1v1h-1zM67 57h1v1h-1zM77 57h1v1h-1zM119 57h1v1h-1zM83 58h1v1h-1zM88 58h1v1h-1zM111 58h1v1h-1zM66 59h1v1h-1zM68 59h1v1h-1zM120 59h1v1h-1zM132 59h1v1h-1zM38 60h1v1h-1zM51 60h2v1h-2zM60 60h1v1h-1zM70 60h1v1h-1zM92 60h1v1h-1zM103 60h1v1h-1zM111 60h1v1h-1zM125 60h1v1h-1zM139 60h1v1h-1zM142 60h1v1h-1zM13 61h1v1h-1zM32 61h1v1h-1zM35 61h1v1h-1zM73 61h1v1h-1zM80 61h1v1h-1zM97 61h1v1h-1zM50 62h1v1h-1zM86 62h1v1h-1zM93 62h1v1h-1zM102 62h1v1h-1zM104 62h1v1h-1zM10 63h1v1h-1zM20 63h1v1h-1zM54 63h1v1h-1zM62 63h1v1h-1zM86 63h1v1h-1zM4 64h1v1h-1zM32 64h1v1h-1zM75 64h1v1h-1zM79 64h2v1h-2zM88 64h1v1h-1zM10 65h1v1h-1zM54 65h1v1h-1zM86 65h1v1h-1zM90 65h1v1h-1zM103 65h1v1h-1zM107 65h1v1h-1zM116 65h1v1h-1zM159 65h1v1h-1zM12 66h1v1h-1zM71 66h1v1h-1zM103 66h1v1h-1zM106 66h1v1h-1zM116 66h1v1h-1zM29 67h1v1h-1zM32 67h1v1h-1zM34 67h1v1h-1zM66 67h1v1h-1zM94 67h1v1h-1zM48 68h1v1h-1zM78 68h1v1h-1zM1 69h1v1h-1zM158 69h1v1h-1zM0 70h1v1h-1zM7 70h1v1h-1zM11 70h2v1h-2zM40 70h1v1h-1zM71 70h1v1h-1zM80 70h1v1h-1zM89 70h1v1h-1zM113 70h1v1h-1zM120 70h1v1h-1zM57 71h1v1h-1zM63 71h1v1h-1zM65 71h1v1h-1zM76 71h1v1h-1z"/><path fill="#fcd096" d="M30 0h1v1h-1zM52 0h1v1h-1zM68 0h1v1h-1zM72 0h1v1h-1zM94 0h1v1h-1zM108 0h1v1h-1zM124 0h1v1h-1zM153 0h1v1h-1zM33 1h1v1h-1zM40 1h2v1h-2zM82 1h1v1h-1zM96 1h1v1h-1zM112 1h1v1h-1zM43 2h1v1h-1zM45 2h1v1h-1zM49 2h1v1h-1zM98 2h1v1h-1zM70 3h1v1h-1zM148 3h1v1h-1zM45 4h1v1h-1zM64 4h1v1h-1zM94 4h1v1h-1zM100 4h1v1h-1zM122 4h1v1h-1zM146 4h1v1h-1zM44 5h2v1h-2zM83 5h1v1h-1zM120 5h1v1h-1zM42 6h1v1h-1zM91 6h1v1h-1zM106 6h1v1h-1zM142 6h1v1h-1zM152 6h1v1h-1zM50 7h1v1h-1zM76 7h1v1h-1zM100 7h1v1h-1zM119 7h1v1h-1zM130 7h1v1h-1zM142 7h1v1h-1zM14 8h1v1h-1zM42 8h1v1h-1zM53 8h1v1h-1zM82 8h1v1h-1zM100 8h1v1h-1zM133 8h1v1h-1zM4 9h1v1h-1zM12 9h1v1h-1zM91 9h1v1h-1zM96 9h1v1h-1zM131 9h1v1h-1zM18 10h1v1h-1zM85 10h1v1h-1zM131 10h1v1h-1zM6 11h1v1h-1zM42 11h1v1h-1zM45 11h1v1h-1zM66 11h1v1h-1zM0 12h1v1h-1zM18 12h1v1h-1zM59 12h1v1h-1zM89 12h1v1h-1zM100 12h1v1h-1zM109 12h1v1h-1zM114 12h1v1h-1zM133 12h1v1h-1zM13 13h1v1h-1zM25 13h1v1h-1zM56 13h1v1h-1zM58 13h1v1h-1zM64 13h1v1h-1zM109 13h1v1h-1zM14 14h1v1h-1zM90 14h1v1h-1zM136 14h1v1h-1zM1 15h1v1h-1zM85 15h1v1h-1zM102 15h1v1h-1zM132 15h1v1h-1zM140 15h1v1h-1zM153 15h1v1h-1zM8 16h1v1h-1zM11 16h1v1h-1zM6 17h1v1h-1zM49 17h1v1h-1zM110 17h1v1h-1zM122 17h1v1h-1zM157 17h1v1h-1zM5 18h1v1h-1zM56 18h1v1h-1zM79 18h2v1h-2zM134 18h1v1h-1zM17 19h1v1h-1zM75 19h1v1h-1zM132 19h1v1h-1zM66 20h1v1h-1zM78 20h1v1h-1zM146 20h1v1h-1zM57 21h1v1h-1zM60 21h1v1h-1zM66 21h1v1h-1zM72 21h1v1h-1zM95 21h1v1h-1zM150 21h2v1h-2zM155 21h1v1h-1zM0 22h1v1h-1zM16 22h1v1h-1zM77 22h1v1h-1zM82 22h1v1h-1zM114 22h1v1h-1zM126 22h1v1h-1zM1 23h1v1h-1zM14 23h1v1h-1zM21 23h1v1h-1zM74 23h1v1h-1zM103 23h2v1h-2zM109 23h3v1h-3zM5 24h2v1h-2zM15 24h1v1h-1zM121 24h1v1h-1zM74 25h1v1h-1zM124 25h1v1h-1zM157 25h1v1h-1zM12 26h1v1h-1zM14 26h1v1h-1zM19 26h2v1h-2zM41 26h1v1h-1zM76 26h1v1h-1zM87 26h1v1h-1zM92 26h1v1h-1zM96 26h1v1h-1zM107 26h1v1h-1zM38 27h3v1h-3zM65 27h1v1h-1zM70 27h1v1h-1zM80 27h1v1h-1zM106 27h1v1h-1zM153 27h1v1h-1zM22 28h1v1h-1zM42 28h1v1h-1zM98 28h1v1h-1zM100 28h1v1h-1zM102 28h1v1h-1zM157 28h1v1h-1zM0 29h1v1h-1zM12 29h1v1h-1zM34 29h1v1h-1zM36 29h1v1h-1zM104 29h1v1h-1zM108 29h1v1h-1zM115 29h1v1h-1zM10 30h1v1h-1zM72 30h1v1h-1zM75 30h1v1h-1zM82 30h1v1h-1zM84 30h1v1h-1zM88 30h1v1h-1zM96 30h1v1h-1zM117 30h1v1h-1zM144 30h1v1h-1zM156 30h1v1h-1zM1 31h1v1h-1zM15 31h1v1h-1zM38 31h1v1h-1zM54 31h1v1h-1zM57 31h1v1h-1zM74 31h1v1h-1zM82 31h1v1h-1zM87 31h1v1h-1zM89 31h1v1h-1zM112 31h1v1h-1zM149 31h1v1h-1zM6 32h1v1h-1zM84 32h1v1h-1zM124 32h1v1h-1zM133 32h1v1h-1zM148 32h1v1h-1zM79 33h1v1h-1zM86 33h1v1h-1zM88 33h1v1h-1zM92 33h1v1h-1zM102 33h2v1h-2zM135 33h1v1h-1zM151 33h1v1h-1zM16 34h1v1h-1zM44 34h1v1h-1zM116 34h1v1h-1zM119 34h2v1h-2zM133 34h1v1h-1zM146 34h1v1h-1zM157 34h1v1h-1zM20 35h1v1h-1zM41 35h1v1h-1zM80 35h1v1h-1zM85 35h1v1h-1zM96 35h1v1h-1zM104 35h1v1h-1zM136 35h1v1h-1zM22 36h1v1h-1zM51 36h1v1h-1zM138 36h1v1h-1zM147 36h1v1h-1zM1 37h1v1h-1zM57 37h1v1h-1zM143 37h1v1h-1zM151 37h1v1h-1zM11 38h1v1h-1zM91 38h1v1h-1zM141 38h1v1h-1zM34 39h1v1h-1zM44 39h1v1h-1zM49 39h1v1h-1zM114 39h1v1h-1zM137 39h1v1h-1zM146 39h1v1h-1zM152 39h1v1h-1zM61 40h1v1h-1zM132 40h1v1h-1zM155 40h1v1h-1zM10 41h1v1h-1zM105 41h1v1h-1zM129 41h1v1h-1zM144 41h1v1h-1zM152 41h2v1h-2zM2 42h1v1h-1zM10 42h1v1h-1zM32 42h1v1h-1zM37 42h1v1h-1zM40 42h1v1h-1zM45 42h1v1h-1zM58 42h2v1h-2zM145 42h1v1h-1zM156 42h1v1h-1zM6 43h1v1h-1zM10 43h1v1h-1zM39 43h1v1h-1zM132 43h1v1h-1zM136 43h1v1h-1zM11 44h1v1h-1zM149 44h1v1h-1zM10 45h1v1h-1zM17 45h1v1h-1zM27 45h1v1h-1zM53 45h1v1h-1zM66 45h1v1h-1zM0 46h1v1h-1zM12 46h1v1h-1zM127 46h1v1h-1zM8 47h1v1h-1zM86 47h1v1h-1zM134 47h1v1h-1zM144 47h1v1h-1zM9 48h1v1h-1zM14 48h1v1h-1zM152 48h1v1h-1zM9 49h1v1h-1zM14 49h1v1h-1zM42 49h1v1h-1zM50 49h1v1h-1zM128 49h1v1h-1zM80 50h1v1h-1zM100 50h1v1h-1zM137 50h1v1h-1zM155 50h1v1h-1zM23 51h1v1h-1zM25 51h1v1h-1zM83 51h1v1h-1zM88 51h1v1h-1zM42 52h1v1h-1zM71 52h1v1h-1zM78 52h1v1h-1zM107 52h1v1h-1zM109 52h1v1h-1zM40 53h1v1h-1zM70 53h1v1h-1zM94 53h1v1h-1zM2 54h1v1h-1zM4 54h1v1h-1zM69 54h1v1h-1zM74 54h1v1h-1zM78 54h1v1h-1zM84 54h1v1h-1zM94 54h1v1h-1zM47 55h1v1h-1zM79 55h1v1h-1zM88 55h1v1h-1zM48 56h1v1h-1zM68 56h1v1h-1zM114 56h1v1h-1zM125 56h1v1h-1zM79 57h1v1h-1zM20 58h1v1h-1zM41 58h1v1h-1zM51 58h1v1h-1zM68 58h2v1h-2zM95 58h1v1h-1zM118 58h1v1h-1zM33 59h1v1h-1zM39 59h1v1h-1zM47 59h1v1h-1zM56 59h1v1h-1zM59 59h1v1h-1zM133 59h1v1h-1zM73 60h1v1h-1zM0 61h1v1h-1zM29 61h1v1h-1zM47 61h1v1h-1zM56 61h1v1h-1zM104 61h1v1h-1zM119 61h1v1h-1zM128 61h1v1h-1zM138 61h1v1h-1zM3 62h1v1h-1zM33 62h1v1h-1zM45 62h1v1h-1zM47 62h1v1h-1zM61 62h1v1h-1zM81 62h1v1h-1zM39 63h1v1h-1zM42 63h1v1h-1zM69 63h1v1h-1zM74 63h1v1h-1zM25 64h1v1h-1zM36 64h1v1h-1zM125 64h1v1h-1zM74 65h1v1h-1zM92 65h1v1h-1zM98 65h2v1h-2zM129 65h1v1h-1zM49 66h1v1h-1zM61 66h1v1h-1zM149 66h1v1h-1zM26 67h1v1h-1zM35 67h1v1h-1zM41 67h1v1h-1zM48 67h1v1h-1zM63 67h1v1h-1zM65 67h1v1h-1zM122 67h1v1h-1zM134 67h1v1h-1zM155 67h1v1h-1zM8 68h1v1h-1zM80 68h1v1h-1zM146 68h1v1h-1zM158 68h1v1h-1zM2 69h1v1h-1zM11 69h1v1h-1zM52 69h1v1h-1zM89 69h1v1h-1zM95 69h1v1h-1zM108 69h1v1h-1zM150 69h1v1h-1zM6 70h1v1h-1zM8 70h1v1h-1zM36 70h1v1h-1zM45 70h1v1h-1zM129 70h1v1h-1zM152 70h1v1h-1zM29 71h1v1h-1zM31 71h1v1h-1zM126 71h1v1h-1zM128 71h1v1h-1z"/><path fill="#fcd199" d="M37 0h1v1h-1zM59 0h1v1h-1zM75 0h1v1h-1zM133 0h1v1h-1zM145 0h1v1h-1zM159 0h1v1h-1zM2 1h1v1h-1zM75 1h1v1h-1zM78 1h1v1h-1zM83 1h1v1h-1zM120 1h2v1h-2zM133 1h1v1h-1zM115 2h1v1h-1zM152 2h1v1h-1zM74 3h1v1h-1zM91 3h1v1h-1zM108 3h1v1h-1zM111 3h1v1h-1zM114 3h1v1h-1zM0 4h1v1h-1zM52 4h1v1h-1zM61 4h1v1h-1zM70 4h1v1h-1zM77 4h1v1h-1zM86 4h1v1h-1zM104 4h1v1h-1zM108 4h1v1h-1zM111 4h1v1h-1zM135 4h1v1h-1zM74 5h1v1h-1zM76 5h1v1h-1zM91 5h1v1h-1zM100 5h1v1h-1zM114 5h1v1h-1zM133 5h1v1h-1zM155 5h1v1h-1zM4 6h1v1h-1zM51 6h1v1h-1zM59 6h1v1h-1zM108 6h1v1h-1zM122 6h1v1h-1zM144 6h1v1h-1zM54 7h1v1h-1zM56 7h1v1h-1zM78 7h1v1h-1zM84 7h1v1h-1zM90 7h1v1h-1zM95 7h1v1h-1zM111 7h1v1h-1zM134 7h1v1h-1zM111 8h1v1h-1zM115 8h1v1h-1zM5 9h1v1h-1zM56 9h1v1h-1zM72 9h1v1h-1zM84 9h1v1h-1zM90 9h1v1h-1zM113 9h1v1h-1zM4 10h1v1h-1zM51 10h1v1h-1zM62 10h1v1h-1zM74 10h1v1h-1zM101 10h1v1h-1zM109 10h1v1h-1zM119 10h1v1h-1zM122 10h1v1h-1zM144 10h1v1h-1zM52 11h2v1h-2zM57 11h1v1h-1zM82 11h1v1h-1zM94 11h1v1h-1zM97 11h1v1h-1zM111 11h1v1h-1zM130 11h1v1h-1zM26 12h1v1h-1zM49 12h1v1h-1zM51 12h3v1h-3zM61 12h1v1h-1zM94 12h1v1h-1zM96 12h1v1h-1zM107 12h1v1h-1zM51 13h1v1h-1zM78 13h1v1h-1zM83 13h2v1h-2zM48 14h1v1h-1zM64 14h1v1h-1zM75 14h1v1h-1zM83 14h1v1h-1zM121 14h1v1h-1zM156 14h1v1h-1zM78 15h1v1h-1zM83 15h1v1h-1zM115 15h1v1h-1zM1 16h1v1h-1zM47 16h1v1h-1zM72 16h1v1h-1zM86 16h2v1h-2zM5 17h1v1h-1zM7 17h1v1h-1zM11 17h1v1h-1zM86 17h1v1h-1zM105 17h1v1h-1zM145 17h1v1h-1zM159 17h1v1h-1zM64 18h1v1h-1zM91 18h1v1h-1zM96 18h1v1h-1zM100 18h1v1h-1zM110 18h1v1h-1zM121 18h1v1h-1zM123 18h1v1h-1zM155 18h1v1h-1zM4 19h1v1h-1zM69 19h1v1h-1zM77 19h1v1h-1zM121 19h1v1h-1zM150 19h1v1h-1zM159 19h1v1h-1zM87 20h1v1h-1zM107 20h1v1h-1zM147 20h1v1h-1zM149 20h1v1h-1zM1 21h1v1h-1zM86 21h1v1h-1zM88 21h1v1h-1zM154 21h1v1h-1zM14 22h1v1h-1zM84 22h1v1h-1zM91 22h1v1h-1zM95 22h1v1h-1zM110 22h1v1h-1zM130 22h1v1h-1zM152 22h1v1h-1zM3 23h1v1h-1zM5 23h1v1h-1zM17 23h1v1h-1zM71 23h1v1h-1zM88 23h1v1h-1zM147 23h1v1h-1zM154 23h1v1h-1zM26 24h1v1h-1zM100 24h1v1h-1zM110 24h1v1h-1zM124 24h1v1h-1zM128 24h2v1h-2zM142 24h1v1h-1zM156 24h1v1h-1zM158 24h1v1h-1zM15 25h1v1h-1zM17 25h1v1h-1zM19 25h1v1h-1zM25 25h1v1h-1zM141 25h1v1h-1zM22 26h1v1h-1zM45 26h1v1h-1zM114 26h2v1h-2zM143 26h1v1h-1zM16 27h1v1h-1zM48 27h1v1h-1zM93 27h1v1h-1zM101 27h1v1h-1zM103 27h1v1h-1zM115 27h1v1h-1zM133 27h1v1h-1zM137 27h1v1h-1zM141 27h1v1h-1zM5 28h2v1h-2zM10 28h1v1h-1zM67 28h1v1h-1zM96 28h1v1h-1zM108 28h1v1h-1zM110 28h1v1h-1zM143 28h1v1h-1zM5 29h1v1h-1zM31 29h1v1h-1zM83 29h1v1h-1zM106 29h1v1h-1zM1 30h1v1h-1zM38 30h1v1h-1zM83 30h1v1h-1zM87 30h1v1h-1zM103 30h1v1h-1zM127 30h1v1h-1zM47 31h1v1h-1zM51 31h1v1h-1zM90 31h1v1h-1zM97 31h1v1h-1zM101 31h1v1h-1zM110 31h1v1h-1zM135 31h1v1h-1zM155 31h1v1h-1zM32 32h1v1h-1zM35 32h1v1h-1zM40 32h1v1h-1zM60 32h1v1h-1zM117 32h1v1h-1zM150 32h1v1h-1zM154 32h1v1h-1zM14 33h1v1h-1zM16 33h1v1h-1zM27 33h1v1h-1zM37 33h2v1h-2zM80 33h1v1h-1zM84 33h1v1h-1zM91 33h1v1h-1zM141 33h1v1h-1zM156 33h1v1h-1zM1 34h2v1h-2zM38 34h1v1h-1zM42 34h1v1h-1zM97 34h1v1h-1zM126 34h2v1h-2zM135 34h1v1h-1zM156 34h1v1h-1zM6 35h1v1h-1zM30 35h1v1h-1zM32 35h1v1h-1zM38 35h1v1h-1zM63 35h1v1h-1zM90 35h1v1h-1zM138 35h1v1h-1zM156 35h1v1h-1zM11 36h1v1h-1zM17 36h1v1h-1zM59 36h1v1h-1zM89 36h1v1h-1zM152 36h1v1h-1zM50 37h1v1h-1zM65 37h1v1h-1zM89 37h1v1h-1zM110 37h1v1h-1zM157 37h1v1h-1zM62 38h1v1h-1zM90 38h1v1h-1zM113 38h1v1h-1zM115 38h1v1h-1zM134 38h1v1h-1zM138 38h1v1h-1zM158 38h1v1h-1zM63 39h1v1h-1zM149 39h1v1h-1zM29 40h1v1h-1zM107 40h1v1h-1zM110 40h1v1h-1zM137 40h1v1h-1zM16 41h1v1h-1zM52 41h1v1h-1zM118 41h1v1h-1zM120 41h1v1h-1zM8 42h1v1h-1zM157 42h1v1h-1zM13 43h1v1h-1zM15 43h1v1h-1zM145 43h1v1h-1zM8 44h1v1h-1zM53 44h1v1h-1zM124 44h1v1h-1zM126 44h1v1h-1zM134 44h1v1h-1zM6 45h1v1h-1zM56 45h1v1h-1zM1 46h1v1h-1zM14 46h1v1h-1zM34 46h1v1h-1zM67 46h1v1h-1zM35 47h1v1h-1zM57 47h1v1h-1zM152 47h1v1h-1zM8 49h1v1h-1zM34 49h1v1h-1zM126 49h1v1h-1zM155 49h1v1h-1zM18 50h1v1h-1zM48 50h1v1h-1zM86 50h1v1h-1zM41 51h1v1h-1zM3 52h1v1h-1zM22 52h1v1h-1zM2 53h1v1h-1zM42 53h1v1h-1zM16 54h1v1h-1zM108 54h1v1h-1zM4 55h1v1h-1zM56 55h1v1h-1zM82 55h1v1h-1zM84 55h1v1h-1zM117 55h1v1h-1zM125 55h1v1h-1zM11 56h1v1h-1zM71 56h1v1h-1zM73 56h1v1h-1zM78 56h1v1h-1zM128 56h1v1h-1zM57 57h2v1h-2zM68 57h1v1h-1zM80 57h1v1h-1zM122 57h1v1h-1zM83 59h1v1h-1zM90 59h1v1h-1zM22 60h1v1h-1zM135 60h1v1h-1zM8 61h1v1h-1zM24 61h1v1h-1zM52 61h1v1h-1zM94 61h1v1h-1zM17 62h1v1h-1zM29 62h1v1h-1zM42 62h1v1h-1zM115 62h1v1h-1zM131 62h1v1h-1zM2 63h1v1h-1zM36 63h2v1h-2zM84 63h1v1h-1zM89 63h1v1h-1zM91 63h1v1h-1zM57 64h1v1h-1zM1 65h1v1h-1zM22 65h1v1h-1zM26 65h1v1h-1zM56 65h1v1h-1zM80 65h1v1h-1zM33 66h1v1h-1zM36 66h1v1h-1zM54 66h1v1h-1zM57 66h1v1h-1zM63 66h1v1h-1zM85 66h1v1h-1zM89 66h1v1h-1zM50 67h2v1h-2zM64 67h1v1h-1zM73 67h1v1h-1zM84 67h1v1h-1zM42 68h1v1h-1zM79 68h1v1h-1zM88 68h1v1h-1zM144 68h1v1h-1zM21 69h1v1h-1zM67 69h1v1h-1zM74 69h1v1h-1zM76 69h1v1h-1zM92 69h1v1h-1zM100 69h1v1h-1zM19 70h1v1h-1zM53 70h1v1h-1zM84 70h1v1h-1zM100 70h1v1h-1zM40 71h1v1h-1zM44 71h1v1h-1zM46 71h1v1h-1zM80 71h1v1h-1zM124 71h1v1h-1z"/><path fill="#fcd39c" d="M39 0h1v1h-1zM55 0h1v1h-1zM70 0h1v1h-1zM83 0h1v1h-1zM95 0h1v1h-1zM101 0h1v1h-1zM132 0h1v1h-1zM149 0h1v1h-1zM86 1h1v1h-1zM109 1h1v1h-1zM113 1h1v1h-1zM142 1h1v1h-1zM144 1h1v1h-1zM36 2h1v1h-1zM86 2h1v1h-1zM122 2h1v1h-1zM134 2h1v1h-1zM143 2h1v1h-1zM146 2h1v1h-1zM155 2h1v1h-1zM83 3h1v1h-1zM134 3h1v1h-1zM150 3h1v1h-1zM156 3h1v1h-1zM53 4h1v1h-1zM121 4h1v1h-1zM130 4h1v1h-1zM143 4h1v1h-1zM153 4h1v1h-1zM2 5h1v1h-1zM92 5h1v1h-1zM95 5h1v1h-1zM98 5h1v1h-1zM156 5h1v1h-1zM98 6h1v1h-1zM118 6h1v1h-1zM124 6h1v1h-1zM133 6h1v1h-1zM149 6h1v1h-1zM2 7h2v1h-2zM43 7h1v1h-1zM52 7h1v1h-1zM73 7h1v1h-1zM99 7h1v1h-1zM137 7h1v1h-1zM148 7h1v1h-1zM15 8h1v1h-1zM74 8h1v1h-1zM88 8h1v1h-1zM103 8h1v1h-1zM124 8h1v1h-1zM143 8h1v1h-1zM2 9h1v1h-1zM47 9h1v1h-1zM52 9h1v1h-1zM73 9h1v1h-1zM78 9h1v1h-1zM82 9h1v1h-1zM97 9h1v1h-1zM101 9h1v1h-1zM115 9h1v1h-1zM120 9h1v1h-1zM126 9h1v1h-1zM142 9h1v1h-1zM97 10h1v1h-1zM104 10h1v1h-1zM140 10h1v1h-1zM55 11h1v1h-1zM61 11h1v1h-1zM91 11h2v1h-2zM82 12h1v1h-1zM113 12h1v1h-1zM143 12h1v1h-1zM16 13h1v1h-1zM26 13h1v1h-1zM74 13h1v1h-1zM103 13h1v1h-1zM70 14h1v1h-1zM70 15h1v1h-1zM79 15h1v1h-1zM124 15h1v1h-1zM133 15h1v1h-1zM69 16h1v1h-1zM75 16h1v1h-1zM82 16h1v1h-1zM92 16h1v1h-1zM112 16h1v1h-1zM121 16h1v1h-1zM21 17h1v1h-1zM89 17h1v1h-1zM123 17h1v1h-1zM150 17h1v1h-1zM18 18h1v1h-1zM36 18h1v1h-1zM66 18h1v1h-1zM100 19h1v1h-1zM108 19h1v1h-1zM154 19h1v1h-1zM156 19h1v1h-1zM82 20h1v1h-1zM86 20h1v1h-1zM96 20h1v1h-1zM115 20h1v1h-1zM119 20h1v1h-1zM148 20h1v1h-1zM158 20h1v1h-1zM70 21h2v1h-2zM79 21h1v1h-1zM94 21h1v1h-1zM100 21h1v1h-1zM126 21h1v1h-1zM144 21h1v1h-1zM158 21h1v1h-1zM23 22h1v1h-1zM101 22h1v1h-1zM121 22h1v1h-1zM140 22h1v1h-1zM159 22h1v1h-1zM72 23h1v1h-1zM86 23h1v1h-1zM100 23h1v1h-1zM114 23h1v1h-1zM120 23h2v1h-2zM139 23h1v1h-1zM18 24h1v1h-1zM44 24h1v1h-1zM116 24h1v1h-1zM24 25h1v1h-1zM29 25h1v1h-1zM47 25h1v1h-1zM100 25h1v1h-1zM111 25h1v1h-1zM122 25h1v1h-1zM67 26h1v1h-1zM75 26h1v1h-1zM2 27h1v1h-1zM12 27h1v1h-1zM49 27h1v1h-1zM51 27h1v1h-1zM53 27h1v1h-1zM89 27h1v1h-1zM30 28h1v1h-1zM53 28h1v1h-1zM77 28h2v1h-2zM106 28h1v1h-1zM111 28h1v1h-1zM137 28h1v1h-1zM155 28h1v1h-1zM158 28h1v1h-1zM41 29h1v1h-1zM102 29h1v1h-1zM137 29h1v1h-1zM143 29h1v1h-1zM106 30h1v1h-1zM7 31h2v1h-2zM16 31h1v1h-1zM33 31h1v1h-1zM88 31h1v1h-1zM94 31h1v1h-1zM107 31h1v1h-1zM117 31h1v1h-1zM30 32h1v1h-1zM83 32h1v1h-1zM101 32h1v1h-1zM134 32h1v1h-1zM10 33h1v1h-1zM13 33h1v1h-1zM23 33h1v1h-1zM32 33h1v1h-1zM89 33h1v1h-1zM137 33h1v1h-1zM26 34h1v1h-1zM35 34h1v1h-1zM37 34h1v1h-1zM43 34h1v1h-1zM89 34h1v1h-1zM123 34h1v1h-1zM130 34h1v1h-1zM151 34h1v1h-1zM155 34h1v1h-1zM158 34h1v1h-1zM8 35h1v1h-1zM37 35h1v1h-1zM93 35h1v1h-1zM88 36h1v1h-1zM137 36h1v1h-1zM84 37h1v1h-1zM132 37h1v1h-1zM146 37h1v1h-1zM5 38h1v1h-1zM22 38h1v1h-1zM33 38h1v1h-1zM37 38h1v1h-1zM124 38h1v1h-1zM127 38h1v1h-1zM23 39h1v1h-1zM140 39h1v1h-1zM6 40h1v1h-1zM45 40h1v1h-1zM127 40h1v1h-1zM22 41h1v1h-1zM17 42h1v1h-1zM42 42h1v1h-1zM36 43h1v1h-1zM51 43h1v1h-1zM54 43h1v1h-1zM112 43h1v1h-1zM116 43h1v1h-1zM147 43h1v1h-1zM3 44h1v1h-1zM17 44h1v1h-1zM30 44h1v1h-1zM41 44h1v1h-1zM120 44h1v1h-1zM157 44h1v1h-1zM127 45h1v1h-1zM137 45h1v1h-1zM152 45h1v1h-1zM10 47h1v1h-1zM51 47h1v1h-1zM67 47h1v1h-1zM139 47h1v1h-1zM148 47h1v1h-1zM19 48h1v1h-1zM30 48h1v1h-1zM52 48h1v1h-1zM125 48h1v1h-1zM154 48h2v1h-2zM22 49h1v1h-1zM80 49h1v1h-1zM1 50h1v1h-1zM70 50h1v1h-1zM37 51h1v1h-1zM45 51h1v1h-1zM16 52h1v1h-1zM63 52h1v1h-1zM75 52h1v1h-1zM87 52h1v1h-1zM98 52h1v1h-1zM125 52h1v1h-1zM1 53h1v1h-1zM105 53h1v1h-1zM107 53h1v1h-1zM117 54h1v1h-1zM36 55h1v1h-1zM70 55h1v1h-1zM67 56h1v1h-1zM150 56h1v1h-1zM66 57h1v1h-1zM117 57h1v1h-1zM9 58h1v1h-1zM97 58h1v1h-1zM37 60h1v1h-1zM56 60h1v1h-1zM63 60h1v1h-1zM81 60h1v1h-1zM115 60h1v1h-1zM17 61h1v1h-1zM59 61h1v1h-1zM95 61h1v1h-1zM124 61h1v1h-1zM67 62h1v1h-1zM51 63h1v1h-1zM108 63h1v1h-1zM117 63h1v1h-1zM2 64h1v1h-1zM21 64h1v1h-1zM38 64h1v1h-1zM53 64h1v1h-1zM68 64h1v1h-1zM96 64h1v1h-1zM116 64h2v1h-2zM156 64h1v1h-1zM19 65h1v1h-1zM30 65h1v1h-1zM57 65h1v1h-1zM69 66h1v1h-1zM113 66h1v1h-1zM5 67h1v1h-1zM55 67h1v1h-1zM86 67h1v1h-1zM93 67h1v1h-1zM0 68h1v1h-1zM4 68h1v1h-1zM36 68h1v1h-1zM40 68h1v1h-1zM64 68h1v1h-1zM75 68h1v1h-1zM112 68h1v1h-1zM126 69h1v1h-1zM142 69h1v1h-1zM83 70h1v1h-1zM109 70h2v1h-2zM126 70h1v1h-1zM158 70h1v1h-1zM19 71h1v1h-1zM22 71h1v1h-1zM37 71h1v1h-1zM64 71h1v1h-1zM74 71h1v1h-1zM79 71h1v1h-1z"/><path fill="#fcd59f" d="M33 0h1v1h-1zM90 0h1v1h-1zM99 0h1v1h-1zM107 0h1v1h-1zM111 0h1v1h-1zM139 0h1v1h-1zM38 1h1v1h-1zM126 1h1v1h-1zM129 1h2v1h-2zM1 2h1v1h-1zM83 2h1v1h-1zM100 2h1v1h-1zM108 2h1v1h-1zM142 2h1v1h-1zM151 2h1v1h-1zM158 2h1v1h-1zM34 3h1v1h-1zM99 3h1v1h-1zM104 3h1v1h-1zM115 3h1v1h-1zM147 3h1v1h-1zM151 3h1v1h-1zM3 4h1v1h-1zM72 4h1v1h-1zM82 4h1v1h-1zM85 4h1v1h-1zM90 4h1v1h-1zM106 4h1v1h-1zM110 4h1v1h-1zM137 4h1v1h-1zM148 4h1v1h-1zM36 5h1v1h-1zM96 5h1v1h-1zM99 5h1v1h-1zM104 5h1v1h-1zM113 5h1v1h-1zM88 6h1v1h-1zM94 6h2v1h-2zM115 6h1v1h-1zM146 6h1v1h-1zM1 7h1v1h-1zM86 7h1v1h-1zM98 7h1v1h-1zM105 7h1v1h-1zM131 7h1v1h-1zM10 8h1v1h-1zM13 8h1v1h-1zM39 8h1v1h-1zM61 8h1v1h-1zM63 8h1v1h-1zM75 8h1v1h-1zM98 8h1v1h-1zM122 8h1v1h-1zM50 9h1v1h-1zM80 9h1v1h-1zM86 9h1v1h-1zM114 9h1v1h-1zM2 10h1v1h-1zM49 10h1v1h-1zM102 10h1v1h-1zM111 10h1v1h-1zM137 10h1v1h-1zM67 11h1v1h-1zM75 11h1v1h-1zM87 11h1v1h-1zM124 11h1v1h-1zM140 11h1v1h-1zM23 12h1v1h-1zM64 12h1v1h-1zM67 12h1v1h-1zM141 12h1v1h-1zM23 13h1v1h-1zM77 13h1v1h-1zM82 13h1v1h-1zM96 13h1v1h-1zM104 13h1v1h-1zM106 13h1v1h-1zM119 13h1v1h-1zM79 14h1v1h-1zM99 14h1v1h-1zM137 14h1v1h-1zM12 15h1v1h-1zM87 15h1v1h-1zM105 15h1v1h-1zM27 16h1v1h-1zM34 16h1v1h-1zM88 16h1v1h-1zM101 16h1v1h-1zM153 16h1v1h-1zM158 16h1v1h-1zM23 17h1v1h-1zM33 17h1v1h-1zM52 17h1v1h-1zM103 17h1v1h-1zM13 18h1v1h-1zM21 18h1v1h-1zM28 18h1v1h-1zM54 19h1v1h-1zM59 19h1v1h-1zM107 19h1v1h-1zM143 19h1v1h-1zM157 19h1v1h-1zM72 20h2v1h-2zM100 20h1v1h-1zM104 20h1v1h-1zM111 20h1v1h-1zM156 20h1v1h-1zM28 21h1v1h-1zM41 21h1v1h-1zM59 21h1v1h-1zM74 21h1v1h-1zM83 21h1v1h-1zM87 21h1v1h-1zM143 21h1v1h-1zM33 22h1v1h-1zM37 22h1v1h-1zM42 22h1v1h-1zM96 22h1v1h-1zM115 22h1v1h-1zM99 23h1v1h-1zM129 23h1v1h-1zM145 23h1v1h-1zM153 23h1v1h-1zM75 24h1v1h-1zM96 24h1v1h-1zM105 24h1v1h-1zM107 24h1v1h-1zM12 25h1v1h-1zM42 25h1v1h-1zM78 25h1v1h-1zM83 25h1v1h-1zM110 25h1v1h-1zM112 25h1v1h-1zM137 25h2v1h-2zM144 25h1v1h-1zM26 26h1v1h-1zM102 26h1v1h-1zM109 26h1v1h-1zM113 26h1v1h-1zM154 26h1v1h-1zM76 27h1v1h-1zM84 27h1v1h-1zM95 27h2v1h-2zM131 27h2v1h-2zM134 27h1v1h-1zM146 27h1v1h-1zM156 27h1v1h-1zM29 28h1v1h-1zM43 28h1v1h-1zM48 28h1v1h-1zM72 28h1v1h-1zM107 28h1v1h-1zM129 28h1v1h-1zM1 29h1v1h-1zM90 29h1v1h-1zM135 29h1v1h-1zM140 29h1v1h-1zM157 29h1v1h-1zM40 30h1v1h-1zM110 30h1v1h-1zM112 30h1v1h-1zM130 30h1v1h-1zM137 30h1v1h-1zM143 30h1v1h-1zM154 30h1v1h-1zM17 31h1v1h-1zM85 31h1v1h-1zM19 32h2v1h-2zM34 32h1v1h-1zM44 32h1v1h-1zM130 32h1v1h-1zM142 32h1v1h-1zM155 32h1v1h-1zM5 33h1v1h-1zM7 33h1v1h-1zM49 33h1v1h-1zM98 33h1v1h-1zM138 33h1v1h-1zM12 34h1v1h-1zM62 34h1v1h-1zM137 35h1v1h-1zM155 35h1v1h-1zM12 36h1v1h-1zM20 36h1v1h-1zM90 36h1v1h-1zM158 36h1v1h-1zM38 37h1v1h-1zM128 38h1v1h-1zM3 39h1v1h-1zM25 39h1v1h-1zM32 39h1v1h-1zM118 39h1v1h-1zM126 39h1v1h-1zM129 39h1v1h-1zM144 39h1v1h-1zM151 39h1v1h-1zM113 40h1v1h-1zM142 40h1v1h-1zM3 41h1v1h-1zM9 41h1v1h-1zM138 41h1v1h-1zM116 42h1v1h-1zM38 43h1v1h-1zM47 43h1v1h-1zM157 43h2v1h-2zM50 44h1v1h-1zM123 45h1v1h-1zM125 45h1v1h-1zM132 45h1v1h-1zM22 46h1v1h-1zM61 46h1v1h-1zM157 46h1v1h-1zM4 47h1v1h-1zM30 47h1v1h-1zM37 47h1v1h-1zM127 47h1v1h-1zM33 48h1v1h-1zM57 48h1v1h-1zM129 48h1v1h-1zM135 48h1v1h-1zM83 49h1v1h-1zM98 49h1v1h-1zM136 49h1v1h-1zM15 50h1v1h-1zM33 50h1v1h-1zM79 50h1v1h-1zM90 50h1v1h-1zM35 51h1v1h-1zM0 52h1v1h-1zM33 52h1v1h-1zM9 53h1v1h-1zM15 53h1v1h-1zM112 53h1v1h-1zM117 53h1v1h-1zM156 53h1v1h-1zM30 54h1v1h-1zM103 54h1v1h-1zM106 54h1v1h-1zM1 55h1v1h-1zM90 55h1v1h-1zM114 55h1v1h-1zM120 55h1v1h-1zM77 56h1v1h-1zM140 56h1v1h-1zM48 57h2v1h-2zM100 57h1v1h-1zM127 57h1v1h-1zM77 58h1v1h-1zM125 58h1v1h-1zM135 59h1v1h-1zM10 60h1v1h-1zM59 60h1v1h-1zM112 60h1v1h-1zM30 61h1v1h-1zM36 61h1v1h-1zM40 62h1v1h-1zM54 62h1v1h-1zM90 62h1v1h-1zM126 62h1v1h-1zM149 62h1v1h-1zM57 63h1v1h-1zM0 64h1v1h-1zM52 64h1v1h-1zM66 64h1v1h-1zM137 64h1v1h-1zM60 65h1v1h-1zM76 65h2v1h-2zM112 65h1v1h-1zM128 65h1v1h-1zM8 66h1v1h-1zM30 66h1v1h-1zM59 66h1v1h-1zM17 67h1v1h-1zM83 67h1v1h-1zM119 67h1v1h-1zM5 68h1v1h-1zM21 68h1v1h-1zM37 68h1v1h-1zM139 68h1v1h-1zM64 69h1v1h-1zM71 69h1v1h-1zM119 69h1v1h-1zM10 70h1v1h-1zM18 70h1v1h-1zM76 70h1v1h-1zM138 70h1v1h-1zM16 71h1v1h-1zM35 71h1v1h-1zM125 71h1v1h-1zM152 71h1v1h-1z"/><path fill="#fcd6a1" d="M74 0h1v1h-1zM84 0h1v1h-1zM114 0h1v1h-1zM150 0h1v1h-1zM158 0h1v1h-1zM70 1h1v1h-1zM80 1h1v1h-1zM134 1h1v1h-1zM143 1h1v1h-1zM32 2h1v1h-1zM112 2h1v1h-1zM130 2h1v1h-1zM156 2h1v1h-1zM3 3h1v1h-1zM78 3h2v1h-2zM86 3h1v1h-1zM116 3h1v1h-1zM135 3h1v1h-1zM155 3h1v1h-1zM89 4h1v1h-1zM116 4h1v1h-1zM133 4h1v1h-1zM144 4h1v1h-1zM150 4h1v1h-1zM41 5h1v1h-1zM88 5h1v1h-1zM102 5h1v1h-1zM107 5h1v1h-1zM73 6h1v1h-1zM109 6h1v1h-1zM114 6h1v1h-1zM120 6h1v1h-1zM137 6h1v1h-1zM107 7h1v1h-1zM115 7h1v1h-1zM141 7h1v1h-1zM146 7h1v1h-1zM5 8h1v1h-1zM130 8h1v1h-1zM48 9h1v1h-1zM19 10h1v1h-1zM50 10h1v1h-1zM78 10h1v1h-1zM87 10h1v1h-1zM96 10h1v1h-1zM107 10h1v1h-1zM110 10h1v1h-1zM114 10h1v1h-1zM142 10h1v1h-1zM101 11h1v1h-1zM106 11h1v1h-1zM133 11h1v1h-1zM141 11h1v1h-1zM19 12h1v1h-1zM101 12h2v1h-2zM1 13h2v1h-2zM17 13h1v1h-1zM29 13h1v1h-1zM75 13h1v1h-1zM90 13h1v1h-1zM134 13h1v1h-1zM2 14h1v1h-1zM8 14h1v1h-1zM13 14h1v1h-1zM71 14h1v1h-1zM114 14h1v1h-1zM54 15h1v1h-1zM112 15h1v1h-1zM139 15h1v1h-1zM83 16h1v1h-1zM96 16h1v1h-1zM111 16h1v1h-1zM131 16h1v1h-1zM150 16h1v1h-1zM25 17h1v1h-1zM34 17h1v1h-1zM80 17h1v1h-1zM98 17h1v1h-1zM108 17h1v1h-1zM114 17h1v1h-1zM153 17h1v1h-1zM158 17h1v1h-1zM59 18h1v1h-1zM74 18h1v1h-1zM81 18h1v1h-1zM92 18h1v1h-1zM154 18h1v1h-1zM66 19h1v1h-1zM74 19h1v1h-1zM91 19h1v1h-1zM98 19h1v1h-1zM111 19h1v1h-1zM119 19h1v1h-1zM17 20h1v1h-1zM70 20h1v1h-1zM74 20h1v1h-1zM105 20h1v1h-1zM113 20h1v1h-1zM122 20h1v1h-1zM25 21h1v1h-1zM73 21h1v1h-1zM78 21h1v1h-1zM84 21h1v1h-1zM112 21h1v1h-1zM1 22h1v1h-1zM5 22h1v1h-1zM40 22h1v1h-1zM66 22h1v1h-1zM89 22h1v1h-1zM111 22h1v1h-1zM77 23h1v1h-1zM155 23h1v1h-1zM70 24h1v1h-1zM89 24h1v1h-1zM40 25h1v1h-1zM115 25h1v1h-1zM136 25h1v1h-1zM142 25h1v1h-1zM151 25h1v1h-1zM154 25h1v1h-1zM4 26h1v1h-1zM8 26h1v1h-1zM31 26h1v1h-1zM78 26h1v1h-1zM100 26h1v1h-1zM103 26h1v1h-1zM117 26h1v1h-1zM156 26h2v1h-2zM18 27h1v1h-1zM97 27h1v1h-1zM150 27h1v1h-1zM2 28h1v1h-1zM51 28h1v1h-1zM80 28h1v1h-1zM93 28h1v1h-1zM113 28h1v1h-1zM134 28h1v1h-1zM138 28h1v1h-1zM142 28h1v1h-1zM47 29h1v1h-1zM78 29h1v1h-1zM133 29h1v1h-1zM142 29h1v1h-1zM144 29h1v1h-1zM150 29h1v1h-1zM155 29h1v1h-1zM17 30h1v1h-1zM31 30h1v1h-1zM108 30h1v1h-1zM132 30h1v1h-1zM96 31h1v1h-1zM109 31h1v1h-1zM138 31h1v1h-1zM150 31h1v1h-1zM54 32h1v1h-1zM90 32h1v1h-1zM93 32h1v1h-1zM158 32h1v1h-1zM12 33h1v1h-1zM54 33h1v1h-1zM153 33h1v1h-1zM155 33h1v1h-1zM158 33h1v1h-1zM22 34h1v1h-1zM88 34h1v1h-1zM2 35h1v1h-1zM29 35h1v1h-1zM84 35h1v1h-1zM88 35h1v1h-1zM119 35h1v1h-1zM142 35h1v1h-1zM152 35h1v1h-1zM0 36h1v1h-1zM37 36h1v1h-1zM66 36h1v1h-1zM139 36h1v1h-1zM0 37h1v1h-1zM18 37h1v1h-1zM120 37h1v1h-1zM145 37h1v1h-1zM158 37h1v1h-1zM2 38h1v1h-1zM56 38h1v1h-1zM118 38h1v1h-1zM155 38h1v1h-1zM14 39h1v1h-1zM19 39h1v1h-1zM112 39h1v1h-1zM159 39h1v1h-1zM8 40h1v1h-1zM117 40h1v1h-1zM36 41h1v1h-1zM40 41h2v1h-2zM151 41h1v1h-1zM54 42h1v1h-1zM127 42h1v1h-1zM2 43h1v1h-1zM73 43h1v1h-1zM6 44h1v1h-1zM34 44h1v1h-1zM52 44h1v1h-1zM127 44h1v1h-1zM151 44h1v1h-1zM2 46h1v1h-1zM125 46h1v1h-1zM136 46h1v1h-1zM151 46h1v1h-1zM2 47h1v1h-1zM13 47h1v1h-1zM145 47h2v1h-2zM8 48h1v1h-1zM158 48h1v1h-1zM158 49h1v1h-1zM81 50h1v1h-1zM158 50h1v1h-1zM7 51h1v1h-1zM16 51h1v1h-1zM80 51h1v1h-1zM156 51h1v1h-1zM1 52h1v1h-1zM90 52h2v1h-2zM7 54h1v1h-1zM75 55h1v1h-1zM94 55h1v1h-1zM151 55h1v1h-1zM37 56h1v1h-1zM79 56h1v1h-1zM81 56h1v1h-1zM65 58h1v1h-1zM73 58h1v1h-1zM78 58h1v1h-1zM82 58h1v1h-1zM117 58h1v1h-1zM50 59h1v1h-1zM116 59h1v1h-1zM19 60h1v1h-1zM41 60h1v1h-1zM68 60h1v1h-1zM151 60h1v1h-1zM69 61h1v1h-1zM88 61h1v1h-1zM98 61h1v1h-1zM125 61h1v1h-1zM6 62h1v1h-1zM12 62h1v1h-1zM35 63h1v1h-1zM107 63h1v1h-1zM19 64h1v1h-1zM97 64h1v1h-1zM34 65h1v1h-1zM59 65h1v1h-1zM84 65h1v1h-1zM56 66h1v1h-1zM70 66h1v1h-1zM121 66h1v1h-1zM13 67h1v1h-1zM127 67h1v1h-1zM10 68h1v1h-1zM93 68h1v1h-1zM117 68h1v1h-1zM16 69h1v1h-1zM49 69h1v1h-1zM53 69h1v1h-1zM59 69h1v1h-1zM81 69h1v1h-1zM93 69h1v1h-1zM99 69h1v1h-1zM109 69h2v1h-2zM37 70h1v1h-1zM114 70h1v1h-1zM117 71h1v1h-1zM122 71h1v1h-1z"/><path fill="#fcd8a4" d="M80 0h1v1h-1zM89 0h1v1h-1zM91 0h1v1h-1zM152 0h1v1h-1zM64 1h1v1h-1zM101 1h1v1h-1zM108 1h1v1h-1zM145 1h1v1h-1zM147 1h1v1h-1zM27 2h1v1h-1zM87 2h1v1h-1zM90 2h1v1h-1zM119 2h1v1h-1zM150 2h1v1h-1zM153 2h1v1h-1zM113 3h1v1h-1zM137 3h1v1h-1zM102 4h1v1h-1zM141 4h1v1h-1zM155 4h1v1h-1zM80 5h1v1h-1zM112 5h1v1h-1zM132 5h1v1h-1zM70 6h1v1h-1zM130 6h1v1h-1zM140 6h1v1h-1zM112 7h1v1h-1zM147 7h1v1h-1zM149 7h1v1h-1zM78 8h2v1h-2zM92 8h1v1h-1zM54 9h1v1h-1zM85 9h1v1h-1zM108 9h1v1h-1zM110 9h2v1h-2zM119 9h1v1h-1zM44 10h1v1h-1zM52 10h1v1h-1zM57 10h1v1h-1zM61 10h1v1h-1zM84 10h1v1h-1zM94 10h1v1h-1zM86 11h1v1h-1zM108 11h1v1h-1zM146 11h1v1h-1zM115 12h1v1h-1zM120 12h1v1h-1zM122 12h1v1h-1zM48 13h1v1h-1zM73 13h1v1h-1zM94 13h1v1h-1zM99 13h1v1h-1zM108 13h1v1h-1zM120 13h1v1h-1zM159 13h1v1h-1zM61 14h1v1h-1zM103 14h2v1h-2zM112 14h1v1h-1zM138 14h1v1h-1zM71 15h1v1h-1zM92 15h1v1h-1zM98 15h1v1h-1zM101 15h1v1h-1zM122 15h1v1h-1zM156 15h1v1h-1zM16 16h1v1h-1zM77 16h1v1h-1zM97 16h1v1h-1zM120 16h1v1h-1zM72 17h1v1h-1zM84 17h1v1h-1zM91 17h1v1h-1zM152 17h1v1h-1zM71 18h1v1h-1zM86 18h1v1h-1zM119 18h1v1h-1zM135 18h1v1h-1zM0 19h1v1h-1zM8 19h1v1h-1zM92 19h1v1h-1zM115 19h1v1h-1zM123 19h1v1h-1zM148 19h1v1h-1zM2 20h1v1h-1zM54 20h1v1h-1zM92 20h1v1h-1zM97 20h2v1h-2zM109 20h1v1h-1zM121 20h1v1h-1zM145 20h1v1h-1zM150 20h2v1h-2zM154 20h1v1h-1zM90 21h1v1h-1zM110 21h1v1h-1zM113 21h1v1h-1zM118 21h1v1h-1zM122 21h1v1h-1zM141 21h1v1h-1zM146 21h1v1h-1zM2 22h1v1h-1zM76 22h1v1h-1zM92 22h2v1h-2zM104 22h1v1h-1zM119 22h1v1h-1zM142 22h1v1h-1zM145 22h1v1h-1zM155 22h1v1h-1zM18 23h1v1h-1zM30 23h1v1h-1zM70 23h1v1h-1zM87 23h1v1h-1zM112 23h1v1h-1zM124 23h1v1h-1zM137 23h1v1h-1zM143 23h1v1h-1zM150 23h1v1h-1zM38 24h1v1h-1zM84 24h1v1h-1zM88 24h1v1h-1zM90 24h1v1h-1zM109 24h1v1h-1zM157 24h1v1h-1zM84 25h1v1h-1zM89 25h2v1h-2zM93 25h1v1h-1zM99 25h1v1h-1zM107 25h1v1h-1zM146 25h1v1h-1zM149 25h1v1h-1zM24 26h1v1h-1zM37 26h1v1h-1zM86 26h1v1h-1zM104 26h1v1h-1zM125 26h1v1h-1zM68 27h1v1h-1zM90 27h1v1h-1zM102 27h1v1h-1zM105 27h1v1h-1zM104 28h1v1h-1zM112 28h1v1h-1zM88 29h1v1h-1zM93 29h1v1h-1zM110 29h1v1h-1zM117 29h1v1h-1zM141 29h1v1h-1zM52 30h1v1h-1zM80 30h1v1h-1zM89 30h1v1h-1zM92 30h1v1h-1zM120 30h1v1h-1zM103 31h1v1h-1zM129 31h2v1h-2zM31 32h1v1h-1zM98 32h1v1h-1zM101 33h1v1h-1zM123 33h1v1h-1zM142 34h2v1h-2zM26 35h1v1h-1zM83 35h1v1h-1zM86 35h1v1h-1zM95 35h1v1h-1zM117 35h1v1h-1zM126 35h1v1h-1zM135 36h2v1h-2zM150 36h1v1h-1zM94 37h1v1h-1zM116 37h1v1h-1zM119 37h1v1h-1zM120 38h1v1h-1zM8 39h1v1h-1zM36 39h1v1h-1zM19 40h1v1h-1zM22 40h1v1h-1zM112 40h1v1h-1zM57 41h1v1h-1zM110 41h1v1h-1zM130 41h1v1h-1zM139 41h2v1h-2zM150 41h1v1h-1zM51 42h1v1h-1zM57 42h1v1h-1zM112 42h1v1h-1zM120 42h1v1h-1zM113 43h1v1h-1zM117 43h1v1h-1zM123 43h1v1h-1zM0 44h1v1h-1zM64 44h1v1h-1zM155 44h1v1h-1zM4 45h1v1h-1zM16 45h1v1h-1zM42 45h1v1h-1zM57 45h1v1h-1zM59 45h1v1h-1zM139 45h1v1h-1zM10 46h1v1h-1zM56 46h1v1h-1zM157 47h1v1h-1zM34 48h1v1h-1zM43 48h1v1h-1zM6 49h1v1h-1zM3 50h1v1h-1zM20 50h1v1h-1zM87 51h1v1h-1zM90 51h1v1h-1zM8 52h1v1h-1zM79 52h1v1h-1zM89 53h1v1h-1zM83 54h1v1h-1zM26 55h1v1h-1zM51 57h1v1h-1zM78 57h1v1h-1zM83 57h1v1h-1zM123 57h1v1h-1zM80 58h1v1h-1zM52 59h1v1h-1zM80 59h1v1h-1zM93 59h1v1h-1zM117 59h1v1h-1zM125 59h1v1h-1zM94 60h1v1h-1zM154 60h1v1h-1zM4 61h1v1h-1zM37 61h1v1h-1zM36 62h1v1h-1zM57 62h1v1h-1zM80 62h1v1h-1zM96 62h1v1h-1zM129 62h1v1h-1zM19 63h1v1h-1zM3 64h1v1h-1zM123 65h1v1h-1zM26 66h1v1h-1zM84 66h1v1h-1zM140 66h1v1h-1zM72 67h1v1h-1zM75 67h1v1h-1zM81 67h1v1h-1zM89 67h1v1h-1zM117 67h1v1h-1zM32 68h1v1h-1zM84 68h1v1h-1zM129 68h1v1h-1zM57 69h1v1h-1zM69 70h1v1h-1zM101 70h1v1h-1zM117 70h1v1h-1z"/><path fill="#fddaa7" d="M93 0h1v1h-1zM119 0h2v1h-2zM136 0h1v1h-1zM138 0h1v1h-1zM141 0h1v1h-1zM48 1h1v1h-1zM61 1h1v1h-1zM67 1h1v1h-1zM107 1h1v1h-1zM146 1h1v1h-1zM151 1h1v1h-1zM30 2h1v1h-1zM75 2h1v1h-1zM113 2h1v1h-1zM118 2h1v1h-1zM33 3h1v1h-1zM65 3h1v1h-1zM110 3h1v1h-1zM122 3h1v1h-1zM138 3h1v1h-1zM40 4h1v1h-1zM97 4h1v1h-1zM124 4h1v1h-1zM32 5h1v1h-1zM48 5h1v1h-1zM86 5h1v1h-1zM50 6h1v1h-1zM89 6h1v1h-1zM99 6h1v1h-1zM101 6h2v1h-2zM104 6h1v1h-1zM132 6h1v1h-1zM141 6h1v1h-1zM5 7h1v1h-1zM75 7h1v1h-1zM102 7h1v1h-1zM121 7h1v1h-1zM127 7h1v1h-1zM132 7h1v1h-1zM145 7h1v1h-1zM8 8h1v1h-1zM83 8h1v1h-1zM132 8h1v1h-1zM137 8h1v1h-1zM145 8h1v1h-1zM8 9h1v1h-1zM64 9h1v1h-1zM79 9h1v1h-1zM87 9h1v1h-1zM122 9h1v1h-1zM100 10h1v1h-1zM103 10h1v1h-1zM127 10h1v1h-1zM134 10h1v1h-1zM144 11h1v1h-1zM8 12h1v1h-1zM83 12h1v1h-1zM92 12h1v1h-1zM157 12h1v1h-1zM102 13h1v1h-1zM138 13h1v1h-1zM158 13h1v1h-1zM51 14h1v1h-1zM119 14h1v1h-1zM124 14h1v1h-1zM89 15h1v1h-1zM97 15h1v1h-1zM99 15h1v1h-1zM107 15h1v1h-1zM130 15h1v1h-1zM154 15h1v1h-1zM55 16h1v1h-1zM67 16h1v1h-1zM79 16h1v1h-1zM91 16h1v1h-1zM99 16h1v1h-1zM107 16h1v1h-1zM129 16h1v1h-1zM136 16h1v1h-1zM1 17h1v1h-1zM57 17h1v1h-1zM95 17h1v1h-1zM148 17h1v1h-1zM8 18h1v1h-1zM90 18h1v1h-1zM95 18h1v1h-1zM98 18h1v1h-1zM103 18h1v1h-1zM108 18h1v1h-1zM34 19h1v1h-1zM95 19h1v1h-1zM114 19h1v1h-1zM71 20h1v1h-1zM144 20h1v1h-1zM7 21h2v1h-2zM77 21h1v1h-1zM80 21h1v1h-1zM101 21h1v1h-1zM12 22h1v1h-1zM73 22h1v1h-1zM107 22h1v1h-1zM120 22h1v1h-1zM141 22h1v1h-1zM146 22h1v1h-1zM84 23h1v1h-1zM138 23h1v1h-1zM37 24h1v1h-1zM61 24h1v1h-1zM63 24h1v1h-1zM93 24h1v1h-1zM104 24h1v1h-1zM147 24h1v1h-1zM10 25h1v1h-1zM73 25h1v1h-1zM101 25h1v1h-1zM105 25h1v1h-1zM150 25h1v1h-1zM112 26h1v1h-1zM147 26h1v1h-1zM37 27h1v1h-1zM94 27h1v1h-1zM114 27h1v1h-1zM118 27h1v1h-1zM149 27h1v1h-1zM94 28h1v1h-1zM139 28h1v1h-1zM151 28h1v1h-1zM55 29h1v1h-1zM75 29h1v1h-1zM79 29h1v1h-1zM98 29h1v1h-1zM112 29h1v1h-1zM158 29h1v1h-1zM37 30h1v1h-1zM109 30h1v1h-1zM134 30h1v1h-1zM151 30h1v1h-1zM155 30h1v1h-1zM75 31h1v1h-1zM146 31h1v1h-1zM10 32h1v1h-1zM23 32h1v1h-1zM51 32h1v1h-1zM81 32h1v1h-1zM89 32h1v1h-1zM137 32h1v1h-1zM45 33h1v1h-1zM90 33h1v1h-1zM136 33h1v1h-1zM142 33h1v1h-1zM50 34h1v1h-1zM81 35h1v1h-1zM132 35h1v1h-1zM49 36h1v1h-1zM130 36h1v1h-1zM112 37h1v1h-1zM127 37h1v1h-1zM135 37h1v1h-1zM112 38h1v1h-1zM116 38h1v1h-1zM115 39h1v1h-1zM127 39h1v1h-1zM155 39h1v1h-1zM158 39h1v1h-1zM15 40h1v1h-1zM51 41h1v1h-1zM65 41h1v1h-1zM132 41h1v1h-1zM139 42h1v1h-1zM12 43h1v1h-1zM48 43h1v1h-1zM146 43h1v1h-1zM59 44h1v1h-1zM141 44h1v1h-1zM143 44h1v1h-1zM50 45h1v1h-1zM117 45h1v1h-1zM122 45h1v1h-1zM155 45h1v1h-1zM124 46h1v1h-1zM137 46h1v1h-1zM124 48h1v1h-1zM146 48h1v1h-1zM78 49h1v1h-1zM2 50h1v1h-1zM26 50h1v1h-1zM139 50h1v1h-1zM34 52h1v1h-1zM60 54h1v1h-1zM111 54h1v1h-1zM19 55h1v1h-1zM73 55h1v1h-1zM62 57h1v1h-1zM73 57h1v1h-1zM86 57h1v1h-1zM81 58h1v1h-1zM105 58h1v1h-1zM127 58h1v1h-1zM18 59h1v1h-1zM155 59h1v1h-1zM13 60h1v1h-1zM50 60h1v1h-1zM150 60h1v1h-1zM26 62h1v1h-1zM6 63h1v1h-1zM59 63h1v1h-1zM41 64h1v1h-1zM98 64h1v1h-1zM110 64h1v1h-1zM40 65h1v1h-1zM125 67h1v1h-1zM35 68h1v1h-1zM38 68h1v1h-1zM45 68h1v1h-1zM47 68h1v1h-1zM29 69h1v1h-1zM1 70h1v1h-1zM9 70h1v1h-1zM65 70h1v1h-1zM8 71h1v1h-1zM71 71h1v1h-1zM90 71h1v1h-1z"/><path fill="#fddbaa" d="M71 0h1v1h-1zM103 0h1v1h-1zM105 0h1v1h-1zM79 1h1v1h-1zM140 1h1v1h-1zM70 2h1v1h-1zM74 2h1v1h-1zM80 2h1v1h-1zM99 2h1v1h-1zM132 2h1v1h-1zM141 2h1v1h-1zM42 3h1v1h-1zM90 3h1v1h-1zM112 3h1v1h-1zM121 3h1v1h-1zM84 4h1v1h-1zM87 4h1v1h-1zM138 4h1v1h-1zM149 5h1v1h-1zM54 6h1v1h-1zM97 6h1v1h-1zM88 7h2v1h-2zM97 7h1v1h-1zM80 8h1v1h-1zM86 8h1v1h-1zM106 8h1v1h-1zM120 8h1v1h-1zM123 8h1v1h-1zM150 8h1v1h-1zM144 9h1v1h-1zM95 10h1v1h-1zM106 10h1v1h-1zM123 10h1v1h-1zM135 10h1v1h-1zM95 11h2v1h-2zM100 11h1v1h-1zM107 11h1v1h-1zM121 11h1v1h-1zM11 12h1v1h-1zM44 12h1v1h-1zM87 12h1v1h-1zM90 12h1v1h-1zM104 12h1v1h-1zM132 12h1v1h-1zM54 13h1v1h-1zM130 13h1v1h-1zM76 14h1v1h-1zM81 14h1v1h-1zM84 14h1v1h-1zM89 14h1v1h-1zM95 14h1v1h-1zM122 14h2v1h-2zM114 15h1v1h-1zM121 15h1v1h-1zM157 15h1v1h-1zM80 16h1v1h-1zM98 16h1v1h-1zM123 16h1v1h-1zM155 16h1v1h-1zM74 17h1v1h-1zM90 17h1v1h-1zM101 17h1v1h-1zM1 18h1v1h-1zM6 18h1v1h-1zM93 18h1v1h-1zM109 18h1v1h-1zM111 18h1v1h-1zM36 19h1v1h-1zM87 19h1v1h-1zM105 19h1v1h-1zM116 19h1v1h-1zM83 20h1v1h-1zM81 21h1v1h-1zM104 21h1v1h-1zM130 21h1v1h-1zM61 22h1v1h-1zM97 22h1v1h-1zM151 22h1v1h-1zM142 23h1v1h-1zM144 23h1v1h-1zM148 23h1v1h-1zM156 23h1v1h-1zM24 24h1v1h-1zM34 24h1v1h-1zM43 24h1v1h-1zM80 24h1v1h-1zM101 24h1v1h-1zM138 24h1v1h-1zM140 24h1v1h-1zM151 24h1v1h-1zM2 25h1v1h-1zM34 25h1v1h-1zM95 25h1v1h-1zM118 25h1v1h-1zM135 25h1v1h-1zM1 26h1v1h-1zM68 26h1v1h-1zM89 26h1v1h-1zM110 26h1v1h-1zM139 26h1v1h-1zM81 27h1v1h-1zM88 27h1v1h-1zM109 27h1v1h-1zM112 27h1v1h-1zM119 27h1v1h-1zM155 27h1v1h-1zM36 28h1v1h-1zM84 28h1v1h-1zM140 28h2v1h-2zM14 29h1v1h-1zM70 29h1v1h-1zM73 29h1v1h-1zM84 29h1v1h-1zM129 29h1v1h-1zM93 30h1v1h-1zM114 30h1v1h-1zM139 30h1v1h-1zM150 30h1v1h-1zM14 31h1v1h-1zM71 31h1v1h-1zM78 31h1v1h-1zM104 31h1v1h-1zM107 32h1v1h-1zM151 32h1v1h-1zM50 33h1v1h-1zM81 33h1v1h-1zM128 33h1v1h-1zM93 34h1v1h-1zM117 34h1v1h-1zM147 34h1v1h-1zM130 35h1v1h-1zM18 36h1v1h-1zM87 36h1v1h-1zM95 36h1v1h-1zM116 36h1v1h-1zM140 36h1v1h-1zM137 38h1v1h-1zM0 39h1v1h-1zM104 39h1v1h-1zM60 40h1v1h-1zM136 40h1v1h-1zM152 40h1v1h-1zM15 41h1v1h-1zM66 41h1v1h-1zM60 42h1v1h-1zM67 42h1v1h-1zM135 42h1v1h-1zM125 43h1v1h-1zM129 43h1v1h-1zM56 44h1v1h-1zM1 45h1v1h-1zM51 45h1v1h-1zM32 49h1v1h-1zM93 50h1v1h-1zM21 51h1v1h-1zM66 52h1v1h-1zM88 52h1v1h-1zM74 53h1v1h-1zM84 53h1v1h-1zM61 54h1v1h-1zM97 54h1v1h-1zM80 55h1v1h-1zM70 56h1v1h-1zM55 57h1v1h-1zM90 58h1v1h-1zM30 59h1v1h-1zM107 59h1v1h-1zM2 60h1v1h-1zM48 60h1v1h-1zM61 60h1v1h-1zM81 61h1v1h-1zM15 62h1v1h-1zM41 62h1v1h-1zM40 63h1v1h-1zM74 64h1v1h-1zM89 64h1v1h-1zM113 64h1v1h-1zM6 65h1v1h-1zM42 66h1v1h-1zM16 67h1v1h-1zM23 67h1v1h-1zM57 67h1v1h-1zM39 69h1v1h-1zM81 70h1v1h-1zM56 71h1v1h-1zM69 71h1v1h-1zM94 71h1v1h-1z"/><path fill="#fdddad" d="M51 0h1v1h-1zM129 0h2v1h-2zM140 0h1v1h-1zM156 0h1v1h-1zM68 1h1v1h-1zM90 1h1v1h-1zM97 1h1v1h-1zM77 2h1v1h-1zM103 2h1v1h-1zM1 3h1v1h-1zM101 3h2v1h-2zM118 3h1v1h-1zM136 3h1v1h-1zM79 4h1v1h-1zM107 4h1v1h-1zM123 4h1v1h-1zM132 4h1v1h-1zM152 4h1v1h-1zM84 5h1v1h-1zM103 5h1v1h-1zM105 5h1v1h-1zM108 5h1v1h-1zM145 5h1v1h-1zM60 6h1v1h-1zM145 6h1v1h-1zM147 6h1v1h-1zM6 7h1v1h-1zM123 7h2v1h-2zM140 8h1v1h-1zM146 8h1v1h-1zM57 9h1v1h-1zM94 9h1v1h-1zM99 9h1v1h-1zM90 10h1v1h-1zM118 10h1v1h-1zM130 10h1v1h-1zM63 11h1v1h-1zM110 11h1v1h-1zM112 11h1v1h-1zM119 11h1v1h-1zM80 12h1v1h-1zM91 12h1v1h-1zM121 12h1v1h-1zM124 12h1v1h-1zM138 12h1v1h-1zM112 13h1v1h-1zM118 13h1v1h-1zM124 13h1v1h-1zM137 13h1v1h-1zM157 13h1v1h-1zM97 14h1v1h-1zM107 14h1v1h-1zM141 14h1v1h-1zM80 15h1v1h-1zM131 15h1v1h-1zM134 15h1v1h-1zM26 16h1v1h-1zM108 16h1v1h-1zM116 16h1v1h-1zM130 16h1v1h-1zM132 16h1v1h-1zM157 16h1v1h-1zM159 16h1v1h-1zM10 17h1v1h-1zM97 17h1v1h-1zM104 17h1v1h-1zM121 17h1v1h-1zM82 18h1v1h-1zM89 18h1v1h-1zM97 18h1v1h-1zM152 18h1v1h-1zM156 18h1v1h-1zM96 19h1v1h-1zM104 19h1v1h-1zM56 20h1v1h-1zM84 20h1v1h-1zM96 21h1v1h-1zM99 21h1v1h-1zM102 21h1v1h-1zM108 22h1v1h-1zM122 22h1v1h-1zM89 23h1v1h-1zM118 23h1v1h-1zM86 24h1v1h-1zM136 24h2v1h-2zM144 24h1v1h-1zM150 24h1v1h-1zM155 24h1v1h-1zM1 25h1v1h-1zM158 25h1v1h-1zM83 26h1v1h-1zM120 26h1v1h-1zM137 26h2v1h-2zM149 26h1v1h-1zM73 27h1v1h-1zM75 27h1v1h-1zM50 28h1v1h-1zM42 29h1v1h-1zM44 29h1v1h-1zM77 29h1v1h-1zM101 29h1v1h-1zM102 30h1v1h-1zM128 30h1v1h-1zM52 31h1v1h-1zM141 31h1v1h-1zM105 32h1v1h-1zM127 32h1v1h-1zM11 33h1v1h-1zM127 33h1v1h-1zM152 33h1v1h-1zM80 34h1v1h-1zM102 34h1v1h-1zM58 36h1v1h-1zM94 36h1v1h-1zM120 36h1v1h-1zM126 36h1v1h-1zM141 36h1v1h-1zM32 37h1v1h-1zM150 37h1v1h-1zM64 38h1v1h-1zM126 38h1v1h-1zM117 39h1v1h-1zM128 39h1v1h-1zM154 39h1v1h-1zM10 40h2v1h-2zM54 40h1v1h-1zM139 40h1v1h-1zM117 41h1v1h-1zM31 42h1v1h-1zM140 43h1v1h-1zM155 43h1v1h-1zM57 46h1v1h-1zM116 46h1v1h-1zM45 47h1v1h-1zM154 47h1v1h-1zM102 50h1v1h-1zM84 51h1v1h-1zM71 53h1v1h-1zM93 53h1v1h-1zM101 53h1v1h-1zM116 57h1v1h-1zM29 58h1v1h-1zM42 58h1v1h-1zM88 60h1v1h-1zM10 61h1v1h-1zM1 62h1v1h-1zM23 62h1v1h-1zM128 62h1v1h-1zM134 62h1v1h-1zM90 63h1v1h-1zM123 63h1v1h-1zM125 63h1v1h-1zM3 65h1v1h-1zM48 65h1v1h-1zM53 65h1v1h-1zM55 66h1v1h-1zM81 66h1v1h-1zM120 66h1v1h-1zM10 69h1v1h-1zM19 69h1v1h-1zM90 69h1v1h-1zM17 70h1v1h-1zM144 71h1v1h-1z"/><path fill="#fddfaf" d="M79 0h1v1h-1zM135 0h1v1h-1zM32 1h1v1h-1zM77 1h1v1h-1zM118 1h1v1h-1zM132 1h1v1h-1zM102 2h1v1h-1zM107 3h1v1h-1zM81 4h1v1h-1zM141 5h1v1h-1zM69 6h1v1h-1zM129 6h1v1h-1zM106 7h1v1h-1zM114 7h1v1h-1zM84 8h1v1h-1zM116 8h1v1h-1zM118 9h1v1h-1zM136 9h1v1h-1zM138 9h1v1h-1zM140 9h1v1h-1zM99 10h1v1h-1zM115 10h1v1h-1zM143 10h1v1h-1zM83 11h1v1h-1zM134 11h1v1h-1zM137 11h1v1h-1zM93 12h1v1h-1zM127 12h1v1h-1zM142 12h1v1h-1zM52 13h1v1h-1zM92 13h1v1h-1zM115 13h1v1h-1zM140 13h1v1h-1zM98 14h1v1h-1zM100 14h1v1h-1zM84 15h1v1h-1zM135 15h1v1h-1zM94 16h1v1h-1zM113 16h1v1h-1zM76 17h1v1h-1zM94 17h1v1h-1zM107 17h1v1h-1zM84 18h1v1h-1zM124 18h1v1h-1zM127 18h1v1h-1zM130 18h1v1h-1zM136 18h1v1h-1zM97 19h1v1h-1zM118 19h1v1h-1zM126 19h1v1h-1zM152 19h1v1h-1zM81 20h1v1h-1zM157 20h1v1h-1zM105 21h1v1h-1zM107 21h1v1h-1zM128 21h1v1h-1zM68 22h1v1h-1zM98 22h1v1h-1zM124 22h1v1h-1zM150 22h1v1h-1zM96 23h1v1h-1zM101 23h1v1h-1zM127 23h1v1h-1zM141 23h1v1h-1zM79 26h1v1h-1zM93 26h1v1h-1zM140 26h1v1h-1zM152 26h1v1h-1zM99 27h1v1h-1zM140 27h1v1h-1zM47 28h1v1h-1zM101 28h1v1h-1zM152 29h2v1h-2zM94 30h1v1h-1zM129 30h1v1h-1zM135 30h1v1h-1zM140 30h1v1h-1zM157 30h1v1h-1zM5 31h1v1h-1zM73 31h1v1h-1zM84 31h1v1h-1zM126 31h1v1h-1zM140 31h1v1h-1zM105 33h1v1h-1zM132 33h1v1h-1zM124 34h1v1h-1zM94 35h1v1h-1zM123 35h1v1h-1zM146 35h1v1h-1zM157 36h1v1h-1zM118 37h1v1h-1zM52 38h1v1h-1zM93 38h1v1h-1zM64 40h1v1h-1zM116 40h1v1h-1zM123 40h1v1h-1zM41 42h1v1h-1zM138 42h1v1h-1zM141 42h1v1h-1zM116 45h1v1h-1zM11 46h1v1h-1zM42 47h1v1h-1zM134 48h1v1h-1zM116 52h1v1h-1zM97 53h1v1h-1zM99 53h1v1h-1zM6 54h1v1h-1zM89 55h1v1h-1zM121 55h1v1h-1zM74 56h1v1h-1zM93 57h2v1h-2zM98 57h1v1h-1zM1 61h1v1h-1zM63 62h1v1h-1zM11 63h1v1h-1zM81 63h1v1h-1zM42 64h1v1h-1zM81 64h1v1h-1zM50 65h1v1h-1zM125 66h1v1h-1zM77 67h1v1h-1zM77 68h1v1h-1zM79 69h1v1h-1zM81 71h1v1h-1z"/><path fill="#fde0b2" d="M123 0h1v1h-1zM137 0h1v1h-1zM42 1h1v1h-1zM52 1h1v1h-1zM123 1h1v1h-1zM150 1h1v1h-1zM152 1h1v1h-1zM117 2h1v1h-1zM123 2h1v1h-1zM137 2h1v1h-1zM48 3h1v1h-1zM94 3h1v1h-1zM145 3h1v1h-1zM120 4h1v1h-1zM134 4h1v1h-1zM151 4h1v1h-1zM50 5h1v1h-1zM128 5h1v1h-1zM130 5h1v1h-1zM138 5h1v1h-1zM34 6h1v1h-1zM79 6h1v1h-1zM107 6h1v1h-1zM119 6h1v1h-1zM150 6h1v1h-1zM120 7h1v1h-1zM138 7h1v1h-1zM151 7h1v1h-1zM102 8h1v1h-1zM142 8h1v1h-1zM77 10h1v1h-1zM139 10h1v1h-1zM141 10h1v1h-1zM73 11h1v1h-1zM98 11h1v1h-1zM103 11h1v1h-1zM113 11h1v1h-1zM54 12h1v1h-1zM95 12h1v1h-1zM86 13h1v1h-1zM113 13h1v1h-1zM88 14h1v1h-1zM105 14h1v1h-1zM111 14h1v1h-1zM28 15h1v1h-1zM94 15h1v1h-1zM118 15h1v1h-1zM17 16h1v1h-1zM84 16h1v1h-1zM95 16h1v1h-1zM102 16h1v1h-1zM124 16h1v1h-1zM56 17h1v1h-1zM79 17h1v1h-1zM113 18h1v1h-1zM84 19h1v1h-1zM102 19h1v1h-1zM1 20h1v1h-1zM77 20h1v1h-1zM110 20h1v1h-1zM120 20h1v1h-1zM97 21h1v1h-1zM17 22h1v1h-1zM74 22h1v1h-1zM103 22h1v1h-1zM112 22h1v1h-1zM118 22h1v1h-1zM157 23h2v1h-2zM108 24h1v1h-1zM143 24h1v1h-1zM81 25h1v1h-1zM94 25h1v1h-1zM125 25h1v1h-1zM152 25h1v1h-1zM10 26h1v1h-1zM42 26h1v1h-1zM81 26h1v1h-1zM135 26h1v1h-1zM79 27h1v1h-1zM92 27h1v1h-1zM138 27h1v1h-1zM151 27h1v1h-1zM68 28h1v1h-1zM117 28h1v1h-1zM80 29h1v1h-1zM47 30h1v1h-1zM107 30h1v1h-1zM113 30h1v1h-1zM136 30h1v1h-1zM138 30h1v1h-1zM37 31h1v1h-1zM128 31h1v1h-1zM9 32h1v1h-1zM18 32h1v1h-1zM57 32h1v1h-1zM126 33h1v1h-1zM147 33h1v1h-1zM129 34h1v1h-1zM139 35h1v1h-1zM136 37h1v1h-1zM136 38h1v1h-1zM134 39h1v1h-1zM128 40h1v1h-1zM8 43h1v1h-1zM135 43h1v1h-1zM123 44h1v1h-1zM125 44h1v1h-1zM128 44h1v1h-1zM37 45h1v1h-1zM50 46h1v1h-1zM64 46h1v1h-1zM52 47h1v1h-1zM159 49h1v1h-1zM11 50h1v1h-1zM31 50h1v1h-1zM158 51h1v1h-1zM62 55h1v1h-1zM80 56h1v1h-1zM107 57h1v1h-1zM84 59h1v1h-1zM12 60h1v1h-1zM30 62h1v1h-1zM155 62h1v1h-1zM124 64h1v1h-1zM54 69h1v1h-1zM93 70h1v1h-1zM125 70h1v1h-1zM15 71h1v1h-1zM36 71h1v1h-1zM103 71h1v1h-1z"/><path fill="#fde2b5" d="M36 0h1v1h-1zM81 0h1v1h-1zM102 0h1v1h-1zM113 0h1v1h-1zM118 0h1v1h-1zM127 0h1v1h-1zM137 1h1v1h-1zM81 2h1v1h-1zM94 2h1v1h-1zM107 2h1v1h-1zM110 2h1v1h-1zM126 2h2v1h-2zM149 2h1v1h-1zM81 3h1v1h-1zM141 3h1v1h-1zM152 3h1v1h-1zM8 4h1v1h-1zM92 4h1v1h-1zM136 4h1v1h-1zM147 4h1v1h-1zM127 5h1v1h-1zM129 5h1v1h-1zM136 5h1v1h-1zM90 6h1v1h-1zM92 6h1v1h-1zM135 6h1v1h-1zM138 6h1v1h-1zM104 7h1v1h-1zM90 8h1v1h-1zM95 8h1v1h-1zM51 9h1v1h-1zM83 9h1v1h-1zM88 9h1v1h-1zM100 9h1v1h-1zM105 9h1v1h-1zM107 9h1v1h-1zM123 9h1v1h-1zM132 9h1v1h-1zM121 10h1v1h-1zM89 11h1v1h-1zM123 11h1v1h-1zM14 12h1v1h-1zM84 12h1v1h-1zM97 12h1v1h-1zM108 12h1v1h-1zM118 12h1v1h-1zM79 13h1v1h-1zM141 13h1v1h-1zM52 14h1v1h-1zM102 14h1v1h-1zM118 14h1v1h-1zM134 14h1v1h-1zM140 14h1v1h-1zM95 15h1v1h-1zM138 15h1v1h-1zM152 15h1v1h-1zM158 15h1v1h-1zM93 16h1v1h-1zM104 16h1v1h-1zM115 16h1v1h-1zM137 16h1v1h-1zM149 17h1v1h-1zM94 18h1v1h-1zM118 18h1v1h-1zM147 18h1v1h-1zM86 19h1v1h-1zM88 19h2v1h-2zM94 19h1v1h-1zM112 19h1v1h-1zM149 19h1v1h-1zM12 20h1v1h-1zM95 20h1v1h-1zM101 20h1v1h-1zM123 20h1v1h-1zM131 20h1v1h-1zM105 22h1v1h-1zM123 22h1v1h-1zM37 23h1v1h-1zM75 23h1v1h-1zM113 23h1v1h-1zM116 23h1v1h-1zM126 23h1v1h-1zM139 24h1v1h-1zM103 25h1v1h-1zM121 25h1v1h-1zM118 26h1v1h-1zM116 27h1v1h-1zM136 27h1v1h-1zM34 28h1v1h-1zM135 28h1v1h-1zM134 29h1v1h-1zM151 29h1v1h-1zM154 29h1v1h-1zM90 30h1v1h-1zM10 31h1v1h-1zM79 31h1v1h-1zM81 34h1v1h-1zM158 35h1v1h-1zM93 36h1v1h-1zM119 36h1v1h-1zM117 37h1v1h-1zM5 40h1v1h-1zM56 40h1v1h-1zM120 40h1v1h-1zM125 41h1v1h-1zM144 42h1v1h-1zM110 44h1v1h-1zM6 46h1v1h-1zM81 49h1v1h-1zM80 52h1v1h-1zM15 55h1v1h-1zM89 56h1v1h-1zM93 58h1v1h-1zM9 60h1v1h-1zM123 61h1v1h-1zM10 62h1v1h-1zM112 62h1v1h-1zM125 62h1v1h-1zM7 63h1v1h-1zM90 66h1v1h-1zM69 67h1v1h-1zM17 68h1v1h-1z"/><path fill="#fde4b8" d="M134 0h1v1h-1zM103 1h1v1h-1zM159 1h1v1h-1zM97 2h1v1h-1zM120 2h1v1h-1zM139 2h1v1h-1zM84 3h1v1h-1zM93 3h1v1h-1zM97 3h1v1h-1zM98 4h1v1h-1zM93 5h1v1h-1zM97 5h1v1h-1zM135 5h1v1h-1zM56 6h1v1h-1zM85 6h1v1h-1zM93 6h1v1h-1zM118 7h1v1h-1zM97 8h1v1h-1zM112 8h1v1h-1zM117 8h1v1h-1zM128 8h1v1h-1zM95 9h1v1h-1zM112 9h1v1h-1zM139 9h1v1h-1zM146 9h1v1h-1zM93 10h1v1h-1zM138 10h1v1h-1zM84 11h1v1h-1zM127 11h1v1h-1zM110 12h1v1h-1zM14 13h1v1h-1zM88 13h1v1h-1zM101 14h1v1h-1zM48 16h1v1h-1zM70 17h1v1h-1zM115 17h1v1h-1zM130 17h1v1h-1zM132 17h1v1h-1zM158 18h1v1h-1zM101 19h1v1h-1zM103 19h1v1h-1zM79 20h1v1h-1zM106 20h1v1h-1zM90 22h1v1h-1zM116 22h1v1h-1zM127 22h1v1h-1zM79 23h1v1h-1zM90 23h1v1h-1zM79 24h1v1h-1zM95 24h1v1h-1zM0 25h1v1h-1zM8 25h1v1h-1zM16 25h1v1h-1zM80 25h1v1h-1zM80 26h1v1h-1zM94 26h1v1h-1zM101 26h1v1h-1zM105 26h1v1h-1zM152 27h1v1h-1zM157 27h1v1h-1zM33 29h1v1h-1zM81 30h1v1h-1zM93 31h1v1h-1zM145 31h1v1h-1zM157 31h1v1h-1zM80 32h1v1h-1zM88 32h1v1h-1zM139 32h1v1h-1zM141 32h1v1h-1zM146 32h1v1h-1zM129 35h1v1h-1zM45 37h1v1h-1zM139 38h1v1h-1zM157 38h1v1h-1zM130 42h1v1h-1zM158 42h1v1h-1zM15 44h1v1h-1zM33 44h1v1h-1zM36 48h1v1h-1zM16 49h1v1h-1zM29 52h1v1h-1zM35 53h1v1h-1zM44 59h1v1h-1zM55 60h1v1h-1zM4 63h1v1h-1zM12 65h1v1h-1zM33 70h1v1h-1zM128 70h1v1h-1z"/><path fill="#fde5bb" d="M93 1h1v1h-1zM119 1h1v1h-1zM89 2h1v1h-1zM114 2h1v1h-1zM138 2h1v1h-1zM75 3h1v1h-1zM123 3h1v1h-1zM126 3h1v1h-1zM140 3h1v1h-1zM126 4h1v1h-1zM33 5h1v1h-1zM111 5h1v1h-1zM126 5h1v1h-1zM6 6h1v1h-1zM80 6h1v1h-1zM45 7h1v1h-1zM93 7h1v1h-1zM116 7h1v1h-1zM136 7h1v1h-1zM12 8h1v1h-1zM94 8h1v1h-1zM113 8h1v1h-1zM118 8h1v1h-1zM75 10h1v1h-1zM54 11h1v1h-1zM99 11h1v1h-1zM132 11h1v1h-1zM136 11h1v1h-1zM72 12h1v1h-1zM79 12h1v1h-1zM105 12h1v1h-1zM116 12h1v1h-1zM50 13h1v1h-1zM62 13h1v1h-1zM96 14h1v1h-1zM90 16h1v1h-1zM152 16h1v1h-1zM88 17h1v1h-1zM124 17h1v1h-1zM127 17h1v1h-1zM129 17h1v1h-1zM120 18h1v1h-1zM90 19h1v1h-1zM110 19h1v1h-1zM16 20h1v1h-1zM93 21h1v1h-1zM116 21h1v1h-1zM129 21h1v1h-1zM148 21h1v1h-1zM88 22h1v1h-1zM154 22h1v1h-1zM65 23h1v1h-1zM128 23h1v1h-1zM152 24h1v1h-1zM155 25h1v1h-1zM74 26h1v1h-1zM90 26h1v1h-1zM148 27h1v1h-1zM158 27h1v1h-1zM97 28h1v1h-1zM99 30h1v1h-1zM125 30h1v1h-1zM134 31h1v1h-1zM139 31h1v1h-1zM129 32h1v1h-1zM53 33h1v1h-1zM129 33h1v1h-1zM141 34h1v1h-1zM15 35h1v1h-1zM127 35h1v1h-1zM135 35h1v1h-1zM139 37h1v1h-1zM155 37h1v1h-1zM123 38h1v1h-1zM35 39h1v1h-1zM125 39h1v1h-1zM136 39h1v1h-1zM118 40h1v1h-1zM125 40h1v1h-1zM116 41h1v1h-1zM29 42h1v1h-1zM117 42h1v1h-1zM146 44h1v1h-1zM31 47h1v1h-1zM44 50h1v1h-1zM58 56h1v1h-1zM139 56h1v1h-1zM75 57h1v1h-1zM75 58h1v1h-1zM36 59h1v1h-1zM34 60h1v1h-1zM113 60h1v1h-1zM117 61h1v1h-1zM34 62h1v1h-1zM70 64h1v1h-1zM152 64h1v1h-1zM8 65h1v1h-1zM75 65h1v1h-1zM50 66h1v1h-1zM136 70h1v1h-1z"/><path fill="#fde7bf" d="M50 0h1v1h-1zM121 0h1v1h-1zM128 0h1v1h-1zM124 1h1v1h-1zM135 1h1v1h-1zM139 1h1v1h-1zM2 2h2v1h-2zM145 2h1v1h-1zM77 3h1v1h-1zM38 4h1v1h-1zM127 4h1v1h-1zM94 5h1v1h-1zM135 8h1v1h-1zM1 9h1v1h-1zM89 9h1v1h-1zM106 9h1v1h-1zM79 11h1v1h-1zM88 11h1v1h-1zM135 11h1v1h-1zM142 11h1v1h-1zM123 12h1v1h-1zM136 12h1v1h-1zM81 13h1v1h-1zM126 14h1v1h-1zM120 15h1v1h-1zM129 15h1v1h-1zM89 16h1v1h-1zM15 17h1v1h-1zM118 17h1v1h-1zM99 18h1v1h-1zM115 18h1v1h-1zM126 18h1v1h-1zM129 18h1v1h-1zM93 19h1v1h-1zM131 19h1v1h-1zM99 20h1v1h-1zM132 20h1v1h-1zM111 21h1v1h-1zM87 24h1v1h-1zM118 24h1v1h-1zM139 25h2v1h-2zM97 26h1v1h-1zM141 26h1v1h-1zM145 26h1v1h-1zM8 27h1v1h-1zM71 28h1v1h-1zM95 28h1v1h-1zM116 28h1v1h-1zM150 28h1v1h-1zM139 29h1v1h-1zM29 30h1v1h-1zM3 34h1v1h-1zM152 34h1v1h-1zM51 35h1v1h-1zM89 35h1v1h-1zM115 37h1v1h-1zM126 37h1v1h-1zM150 42h1v1h-1zM0 45h1v1h-1zM50 47h1v1h-1zM71 51h1v1h-1zM36 57h1v1h-1zM92 58h1v1h-1zM81 59h1v1h-1zM19 61h1v1h-1zM48 62h1v1h-1zM93 63h1v1h-1zM81 65h1v1h-1zM109 65h1v1h-1zM125 65h1v1h-1zM18 67h1v1h-1zM107 69h1v1h-1zM125 69h1v1h-1zM16 70h1v1h-1z"/><path fill="#fde9c3" d="M46 2h1v1h-1zM79 2h1v1h-1zM84 2h1v1h-1zM93 2h1v1h-1zM130 3h1v1h-1zM139 3h1v1h-1zM75 4h1v1h-1zM119 4h1v1h-1zM79 5h1v1h-1zM124 5h1v1h-1zM146 5h1v1h-1zM125 6h1v1h-1zM94 7h1v1h-1zM140 7h1v1h-1zM101 8h1v1h-1zM110 8h1v1h-1zM10 9h1v1h-1zM74 9h1v1h-1zM103 9h1v1h-1zM127 9h1v1h-1zM6 10h1v1h-1zM2 11h1v1h-1zM120 11h1v1h-1zM128 12h1v1h-1zM80 13h1v1h-1zM98 13h1v1h-1zM107 13h1v1h-1zM122 13h1v1h-1zM77 14h1v1h-1zM92 14h1v1h-1zM152 14h1v1h-1zM126 15h1v1h-1zM134 16h1v1h-1zM100 17h1v1h-1zM116 17h1v1h-1zM101 18h1v1h-1zM12 19h1v1h-1zM67 19h1v1h-1zM93 20h2v1h-2zM118 20h1v1h-1zM124 20h1v1h-1zM57 22h1v1h-1zM139 22h1v1h-1zM136 23h1v1h-1zM103 24h1v1h-1zM111 24h1v1h-1zM126 24h1v1h-1zM153 25h1v1h-1zM158 26h1v1h-1zM135 27h1v1h-1zM139 27h1v1h-1zM40 31h1v1h-1zM126 32h1v1h-1zM125 33h1v1h-1zM133 33h1v1h-1zM53 34h1v1h-1zM84 34h1v1h-1zM139 34h1v1h-1zM120 35h1v1h-1zM151 35h1v1h-1zM56 36h1v1h-1zM125 36h1v1h-1zM137 37h1v1h-1zM110 38h1v1h-1zM48 39h1v1h-1zM125 42h1v1h-1zM127 43h1v1h-1zM152 44h1v1h-1zM64 45h1v1h-1zM19 47h1v1h-1zM125 47h1v1h-1zM81 51h1v1h-1zM2 52h1v1h-1zM125 53h1v1h-1zM126 58h1v1h-1zM51 64h1v1h-1zM19 67h1v1h-1zM62 69h1v1h-1zM34 70h1v1h-1zM72 70h1v1h-1zM52 71h1v1h-1z"/><path fill="#fdeac7" d="M116 0h2v1h-2zM94 1h2v1h-2zM135 2h1v1h-1zM80 3h1v1h-1zM92 3h1v1h-1zM80 4h1v1h-1zM140 5h1v1h-1zM79 7h1v1h-1zM126 7h1v1h-1zM75 9h1v1h-1zM88 10h1v1h-1zM116 10h1v1h-1zM114 11h1v1h-1zM139 11h1v1h-1zM97 13h1v1h-1zM30 14h1v1h-1zM127 14h1v1h-1zM123 15h1v1h-1zM122 16h1v1h-1zM128 17h1v1h-1zM136 17h1v1h-1zM78 19h1v1h-1zM124 19h1v1h-1zM85 20h1v1h-1zM90 20h1v1h-1zM117 20h1v1h-1zM126 20h1v1h-1zM37 21h1v1h-1zM117 21h1v1h-1zM152 21h1v1h-1zM25 22h1v1h-1zM80 22h1v1h-1zM128 22h1v1h-1zM81 24h1v1h-1zM120 24h1v1h-1zM36 25h1v1h-1zM75 25h1v1h-1zM136 26h1v1h-1zM90 28h1v1h-1zM25 30h1v1h-1zM81 31h1v1h-1zM111 31h1v1h-1zM127 31h1v1h-1zM142 31h1v1h-1zM136 32h1v1h-1zM4 33h1v1h-1zM15 34h1v1h-1zM128 34h1v1h-1zM35 35h1v1h-1zM117 36h1v1h-1zM125 38h1v1h-1zM123 41h1v1h-1zM30 42h1v1h-1zM108 43h1v1h-1zM7 44h1v1h-1zM122 44h1v1h-1zM157 51h1v1h-1zM81 54h1v1h-1zM77 55h1v1h-1zM62 66h1v1h-1zM81 68h1v1h-1zM23 69h1v1h-1zM56 69h1v1h-1zM89 71h1v1h-1z"/><path fill="#feeccc" d="M125 1h1v1h-1zM155 1h1v1h-1zM81 7h1v1h-1zM92 7h1v1h-1zM125 7h1v1h-1zM129 7h1v1h-1zM141 8h1v1h-1zM129 9h1v1h-1zM86 10h1v1h-1zM98 10h1v1h-1zM120 10h1v1h-1zM129 10h1v1h-1zM138 11h1v1h-1zM126 12h1v1h-1zM129 12h1v1h-1zM135 13h1v1h-1zM139 13h1v1h-1zM80 14h1v1h-1zM158 14h1v1h-1zM66 15h1v1h-1zM81 15h1v1h-1zM116 15h1v1h-1zM118 16h1v1h-1zM135 16h1v1h-1zM116 18h1v1h-1zM89 21h1v1h-1zM79 22h1v1h-1zM129 22h1v1h-1zM15 23h1v1h-1zM5 27h1v1h-1zM83 27h1v1h-1zM87 28h1v1h-1zM10 29h1v1h-1zM128 29h1v1h-1zM80 31h1v1h-1zM10 39h1v1h-1zM15 39h1v1h-1zM56 39h1v1h-1zM42 41h1v1h-1zM144 51h1v1h-1zM98 56h1v1h-1zM54 61h1v1h-1zM117 66h1v1h-1zM68 68h1v1h-1z"/><path fill="#feedd0" d="M116 1h1v1h-1zM88 2h1v1h-1zM116 2h1v1h-1zM128 2h1v1h-1zM136 2h1v1h-1zM129 4h1v1h-1zM53 5h1v1h-1zM139 5h1v1h-1zM113 6h1v1h-1zM126 6h1v1h-1zM80 7h1v1h-1zM135 7h1v1h-1zM102 9h1v1h-1zM12 10h1v1h-1zM104 11h1v1h-1zM119 12h1v1h-1zM139 12h1v1h-1zM93 14h1v1h-1zM116 14h2v1h-2zM62 15h1v1h-1zM110 15h1v1h-1zM151 17h1v1h-1zM129 19h1v1h-1zM112 20h1v1h-1zM129 20h1v1h-1zM117 22h1v1h-1zM116 26h1v1h-1zM119 26h1v1h-1zM81 28h1v1h-1zM145 29h1v1h-1zM125 31h1v1h-1zM4 36h1v1h-1zM54 41h1v1h-1zM139 44h1v1h-1zM75 54h1v1h-1zM125 57h1v1h-1zM139 66h1v1h-1zM128 69h1v1h-1z"/><path fill="#feefd4" d="M136 1h1v1h-1zM129 2h1v1h-1zM128 3h1v1h-1zM105 6h1v1h-1zM123 6h1v1h-1zM136 6h1v1h-1zM139 7h1v1h-1zM152 7h1v1h-1zM114 8h1v1h-1zM89 10h1v1h-1zM112 10h1v1h-1zM128 11h1v1h-1zM93 13h1v1h-1zM116 13h1v1h-1zM125 13h1v1h-1zM128 13h1v1h-1zM129 14h1v1h-1zM127 15h1v1h-1zM127 16h1v1h-1zM154 16h1v1h-1zM107 18h1v1h-1zM128 18h1v1h-1zM155 19h1v1h-1zM124 21h1v1h-1zM81 23h1v1h-1zM83 24h1v1h-1zM106 25h1v1h-1zM123 25h1v1h-1zM42 27h1v1h-1zM29 29h1v1h-1zM107 29h1v1h-1zM93 33h1v1h-1zM140 33h1v1h-1zM125 34h1v1h-1zM127 36h1v1h-1zM42 44h1v1h-1zM16 47h1v1h-1zM19 54h1v1h-1zM88 54h1v1h-1zM93 55h1v1h-1zM56 64h1v1h-1z"/><path fill="#fef1d8" d="M144 0h1v1h-1zM151 0h1v1h-1zM85 3h1v1h-1zM78 4h1v1h-1zM140 4h1v1h-1zM78 6h1v1h-1zM116 6h2v1h-2zM116 9h1v1h-1zM141 9h1v1h-1zM80 10h1v1h-1zM126 13h1v1h-1zM136 15h1v1h-1zM117 16h1v1h-1zM125 16h1v1h-1zM128 16h1v1h-1zM117 17h1v1h-1zM126 17h1v1h-1zM80 20h1v1h-1zM102 20h1v1h-1zM130 20h1v1h-1zM123 21h1v1h-1zM127 21h1v1h-1zM94 22h1v1h-1zM106 23h1v1h-1zM117 23h1v1h-1zM125 23h1v1h-1zM117 27h1v1h-1zM152 28h1v1h-1zM36 30h1v1h-1zM118 34h1v1h-1zM128 36h2v1h-2zM59 43h1v1h-1zM34 66h1v1h-1z"/><path fill="#fef2dc" d="M157 1h1v1h-1zM89 3h1v1h-1zM95 3h1v1h-1zM129 3h1v1h-1zM103 4h1v1h-1zM89 8h1v1h-1zM126 8h2v1h-2zM136 8h1v1h-1zM135 9h1v1h-1zM136 10h1v1h-1zM80 11h2v1h-2zM117 11h1v1h-1zM129 11h1v1h-1zM127 13h1v1h-1zM104 15h1v1h-1zM81 16h1v1h-1zM93 17h1v1h-1zM151 18h1v1h-1zM81 19h1v1h-1zM117 24h1v1h-1zM117 25h1v1h-1zM98 26h1v1h-1zM155 26h1v1h-1zM74 27h1v1h-1zM37 29h1v1h-1zM53 31h1v1h-1zM136 34h1v1h-1zM125 35h1v1h-1zM6 55h1v1h-1zM66 69h1v1h-1z"/><path fill="#fef4e0" d="M118 4h1v1h-1zM89 5h1v1h-1zM128 6h1v1h-1zM139 6h1v1h-1zM128 7h1v1h-1zM81 9h1v1h-1zM147 9h1v1h-1zM116 11h1v1h-1zM118 11h1v1h-1zM117 12h1v1h-1zM89 13h1v1h-1zM136 13h1v1h-1zM96 15h1v1h-1zM125 15h1v1h-1zM128 19h1v1h-1zM130 19h1v1h-1zM103 21h1v1h-1zM93 23h1v1h-1zM123 24h1v1h-1zM116 25h1v1h-1zM126 30h1v1h-1zM125 32h1v1h-1zM5 37h1v1h-1zM36 40h1v1h-1zM154 44h1v1h-1zM61 45h1v1h-1zM2 59h1v1h-1zM6 67h1v1h-1z"/><path fill="#fef6e4" d="M127 1h1v1h-1zM90 5h1v1h-1zM84 6h1v1h-1zM134 6h1v1h-1zM125 10h2v1h-2zM128 14h1v1h-1zM103 15h1v1h-1zM117 15h1v1h-1zM110 16h1v1h-1zM126 16h1v1h-1zM125 17h1v1h-1zM127 20h1v1h-1zM97 25h1v1h-1zM77 30h1v1h-1zM128 37h1v1h-1zM117 38h1v1h-1zM140 42h1v1h-1zM19 51h1v1h-1zM89 62h1v1h-1zM41 69h1v1h-1z"/><path fill="#fff7e9" d="M81 5h1v1h-1zM117 5h1v1h-1zM123 5h1v1h-1zM92 10h1v1h-1zM93 15h1v1h-1zM117 18h1v1h-1zM88 20h1v1h-1zM121 21h1v1h-1zM102 22h1v1h-1zM143 22h1v1h-1zM94 24h1v1h-1zM104 30h1v1h-1zM49 71h1v1h-1z"/><path fill="#fff9ed" d="M35 0h1v1h-1zM125 2h1v1h-1zM116 5h1v1h-1zM127 6h1v1h-1zM93 8h1v1h-1zM125 8h1v1h-1zM138 8h1v1h-1zM92 9h1v1h-1zM93 11h1v1h-1zM126 11h1v1h-1zM117 13h1v1h-1zM128 15h1v1h-1zM60 19h1v1h-1zM75 21h1v1h-1zM125 22h1v1h-1zM81 29h1v1h-1zM140 32h1v1h-1zM35 43h1v1h-1zM35 70h1v1h-1z"/><path fill="#fffaf1" d="M128 4h1v1h-1zM112 6h1v1h-1zM128 9h1v1h-1zM113 10h1v1h-1zM117 10h1v1h-1zM125 11h1v1h-1zM129 13h1v1h-1zM81 17h1v1h-1zM120 17h1v1h-1zM134 17h1v1h-1zM117 19h1v1h-1zM100 22h1v1h-1zM80 23h1v1h-1zM81 57h1v1h-1z"/><path fill="#fffcf5" d="M110 0h1v1h-1zM125 0h1v1h-1zM81 1h1v1h-1zM117 1h1v1h-1zM128 1h1v1h-1zM158 1h1v1h-1zM95 2h1v1h-1zM140 2h1v1h-1zM117 3h1v1h-1zM125 3h1v1h-1zM127 3h1v1h-1zM93 4h1v1h-1zM117 4h1v1h-1zM125 4h1v1h-1zM139 4h1v1h-1zM118 5h1v1h-1zM125 5h1v1h-1zM81 6h1v1h-1zM117 7h1v1h-1zM81 8h1v1h-1zM129 8h1v1h-1zM139 8h1v1h-1zM93 9h1v1h-1zM117 9h1v1h-1zM125 9h1v1h-1zM137 9h1v1h-1zM81 10h1v1h-1zM128 10h1v1h-1zM17 11h1v1h-1zM90 11h1v1h-1zM81 12h1v1h-1zM125 12h1v1h-1zM123 13h1v1h-1zM125 14h1v1h-1zM139 14h1v1h-1zM155 14h1v1h-1zM90 15h1v1h-1zM151 15h1v1h-1zM103 16h1v1h-1zM102 18h1v1h-1zM125 18h1v1h-1zM80 19h1v1h-1zM125 19h1v1h-1zM127 19h1v1h-1zM108 20h1v1h-1zM116 20h1v1h-1zM125 20h1v1h-1zM128 20h1v1h-1zM125 21h1v1h-1zM81 22h1v1h-1zM158 22h1v1h-1zM140 23h1v1h-1zM125 24h1v1h-1zM104 27h1v1h-1zM136 28h1v1h-1zM136 29h1v1h-1zM128 32h1v1h-1zM139 33h1v1h-1zM128 35h1v1h-1zM125 37h1v1h-1zM129 37h1v1h-1zM116 44h1v1h-1z"/></g></g>
<clipPath id="ca"><rect x="82.0" y="65.0" width="546.5" height="245.0"/></clipPath>
<g clip-path="url(#ca)" fill="none" stroke="#000" stroke-width="2.3">
<path d="M82.00,57.00 C84.55,58.52 84.35,58.78 97.30,66.10 C110.25,73.42 142.58,91.67 159.70,100.90 C176.82,110.13 186.47,114.83 200.00,121.50 C213.53,128.17 227.28,134.27 240.90,140.90 C254.52,147.53 269.68,155.70 281.70,161.30 C293.72,166.90 303.28,170.58 313.00,174.50 C322.72,178.42 326.00,179.83 340.00,184.80 C354.00,189.77 381.40,199.27 397.00,204.30 C412.60,209.33 421.90,211.80 433.60,215.00 C445.30,218.20 456.02,220.95 467.20,223.50 C478.38,226.05 489.52,228.35 500.70,230.30 C511.88,232.25 523.10,233.58 534.30,235.20 C545.50,236.82 556.70,238.58 567.90,240.00 C579.10,241.42 591.40,242.70 601.50,243.70 C611.60,244.70 624.00,245.62 628.50,246.00"/>
<path d="M82.00,263.70 C90.22,263.05 114.85,261.43 131.30,259.80 C147.75,258.17 164.25,256.13 180.70,253.90 C197.15,251.67 213.57,249.22 230.00,246.40 C246.43,243.58 262.63,240.60 279.30,237.00 C295.97,233.40 309.88,230.30 330.00,224.80 C350.12,219.30 380.50,210.67 400.00,204.00 C419.50,197.33 435.25,189.72 447.00,184.80 C458.75,179.88 465.00,176.97 470.50,174.50 C476.00,172.03 471.80,173.87 480.00,170.00 C488.20,166.13 506.37,157.73 519.70,151.30 C533.03,144.87 548.28,137.32 560.00,131.40 C571.72,125.48 578.58,121.77 590.00,115.80 C601.42,109.83 622.08,98.97 628.50,95.60"/>
</g>
<line x1="82.00" y1="175.90" x2="628.50" y2="175.10" stroke="#109210" stroke-width="3.6" />
<circle cx="313.2" cy="174.3" r="8" fill="#109210"/>
<circle cx="471.2" cy="174.6" r="8" fill="#109210"/>
<line x1="535.50" y1="203.70" x2="428.00" y2="203.70" stroke="#000" stroke-width="1.5" />
<path d="M419.3,203.7 L432,198.2 L428.5,203.7 L432,209.2 Z" fill="#000"/>
<text x="123.5" y="100.5" transform="rotate(35 123.5 100.5)" font-size="20"><tspan font-family="Liberation Serif" font-style="italic">ω</tspan><tspan font-size="14" dy="4">NV</tspan></text>
<text x="114" y="199" font-size="20"><tspan font-family="Liberation Serif" font-style="italic">ω</tspan><tspan font-size="14" dy="4">H</tspan></text>
<text x="571" y="152" transform="rotate(-33 571 152)" font-size="20"><tspan font-family="Liberation Serif" font-style="italic">ω</tspan><tspan font-size="14" dy="4">NV</tspan></text>
<text x="545.3" y="209.5" font-size="20" font-family="Liberation Serif" font-style="italic">ω</text>
<polygon points="563.30,208.20 564.06,210.15 566.15,210.27 564.54,211.60 565.06,213.63 563.30,212.50 561.54,213.63 562.06,211.60 560.45,210.27 562.54,210.15" fill="#000"/>
<rect x="82.0" y="65.0" width="546.5" height="245.0" fill="none" stroke="#000" stroke-width="2"/>
<line x1="107.40" y1="65.00" x2="107.40" y2="73.00" stroke="#000" stroke-width="1.5" />
<line x1="107.40" y1="310.00" x2="107.40" y2="302.00" stroke="#000" stroke-width="1.5" />
<text x="108.3" y="53.0" font-size="19.5" text-anchor="middle" >1,022</text>
<line x1="232.90" y1="65.00" x2="232.90" y2="73.00" stroke="#000" stroke-width="1.5" />
<line x1="232.90" y1="310.00" x2="232.90" y2="302.00" stroke="#000" stroke-width="1.5" />
<text x="233.8" y="53.0" font-size="19.5" text-anchor="middle" >1,023</text>
<line x1="358.40" y1="65.00" x2="358.40" y2="73.00" stroke="#000" stroke-width="1.5" />
<line x1="358.40" y1="310.00" x2="358.40" y2="302.00" stroke="#000" stroke-width="1.5" />
<text x="359.3" y="53.0" font-size="19.5" text-anchor="middle" >1,024</text>
<line x1="483.90" y1="65.00" x2="483.90" y2="73.00" stroke="#000" stroke-width="1.5" />
<line x1="483.90" y1="310.00" x2="483.90" y2="302.00" stroke="#000" stroke-width="1.5" />
<text x="484.8" y="53.0" font-size="19.5" text-anchor="middle" >1,025</text>
<line x1="609.40" y1="65.00" x2="609.40" y2="73.00" stroke="#000" stroke-width="1.5" />
<line x1="609.40" y1="310.00" x2="609.40" y2="302.00" stroke="#000" stroke-width="1.5" />
<text x="610.3" y="53.0" font-size="19.5" text-anchor="middle" >1,026</text>
<line x1="82.00" y1="310.00" x2="90.00" y2="310.00" stroke="#000" stroke-width="1.5" />
<line x1="628.50" y1="310.00" x2="620.50" y2="310.00" stroke="#000" stroke-width="1.5" />
<text x="74.0" y="317.0" font-size="19.5" text-anchor="end" >0</text>
<line x1="82.00" y1="248.75" x2="90.00" y2="248.75" stroke="#000" stroke-width="1.5" />
<line x1="628.50" y1="248.75" x2="620.50" y2="248.75" stroke="#000" stroke-width="1.5" />
<text x="74.0" y="255.8" font-size="19.5" text-anchor="end" >2</text>
<line x1="82.00" y1="187.50" x2="90.00" y2="187.50" stroke="#000" stroke-width="1.5" />
<line x1="628.50" y1="187.50" x2="620.50" y2="187.50" stroke="#000" stroke-width="1.5" />
<text x="74.0" y="194.5" font-size="19.5" text-anchor="end" >4</text>
<line x1="82.00" y1="126.25" x2="90.00" y2="126.25" stroke="#000" stroke-width="1.5" />
<line x1="628.50" y1="126.25" x2="620.50" y2="126.25" stroke="#000" stroke-width="1.5" />
<text x="74.0" y="133.2" font-size="19.5" text-anchor="end" >6</text>
<line x1="82.00" y1="65.00" x2="90.00" y2="65.00" stroke="#000" stroke-width="1.5" />
<line x1="628.50" y1="65.00" x2="620.50" y2="65.00" stroke="#000" stroke-width="1.5" />
<text x="74.0" y="72.0" font-size="19.5" text-anchor="end" >8</text>
<text x="354.8" y="21.8" font-size="19.7" text-anchor="middle" >Magnetic field, <tspan font-style="italic">B</tspan> (G)</text>
<text transform="translate(45.5 188) rotate(-90)" font-size="20" text-anchor="middle">Driving freq. (MHz)</text>
<text x="0.5" y="24.5" font-size="28" font-weight="bold">a</text>
<defs><linearGradient id="cb" x1="0" y1="1" x2="0" y2="0">
<stop offset="0.00" stop-color="rgb(10,5,2)"/>
<stop offset="0.10" stop-color="rgb(45,30,20)"/>
<stop offset="0.20" stop-color="rgb(90,58,40)"/>
<stop offset="0.30" stop-color="rgb(150,95,65)"/>
<stop offset="0.37" stop-color="rgb(205,125,82)"/>
<stop offset="0.47" stop-color="rgb(245,158,98)"/>
<stop offset="0.55" stop-color="rgb(250,180,112)"/>
<stop offset="0.70" stop-color="rgb(252,205,146)"/>
<stop offset="0.85" stop-color="rgb(253,229,186)"/>
<stop offset="1.00" stop-color="rgb(255,252,245)"/>
</linearGradient></defs>
<rect x="642.8" y="128.8" width="14.8" height="114" fill="url(#cb)" stroke="#111" stroke-width="1"/>
<text x="651.0" y="120.0" font-size="19.5" text-anchor="middle" >1.0</text>
<text x="651.0" y="266.0" font-size="19.5" text-anchor="middle" >0.7</text>
<text transform="translate(681 188.5) rotate(-90)" font-size="20" text-anchor="middle">PL (a.u.)</text>
<rect x="82.0" y="310.0" width="546.5" height="283.0" fill="none" stroke="#000" stroke-width="2"/>
<line x1="107.40" y1="310.00" x2="107.40" y2="318.00" stroke="#000" stroke-width="1.5" />
<line x1="107.40" y1="593.00" x2="107.40" y2="585.00" stroke="#000" stroke-width="1.5" />
<text x="108.0" y="617.0" font-size="19.5" text-anchor="middle" >1,022</text>
<line x1="232.90" y1="310.00" x2="232.90" y2="318.00" stroke="#000" stroke-width="1.5" />
<line x1="232.90" y1="593.00" x2="232.90" y2="585.00" stroke="#000" stroke-width="1.5" />
<text x="233.5" y="617.0" font-size="19.5" text-anchor="middle" >1,023</text>
<line x1="358.40" y1="310.00" x2="358.40" y2="318.00" stroke="#000" stroke-width="1.5" />
<line x1="358.40" y1="593.00" x2="358.40" y2="585.00" stroke="#000" stroke-width="1.5" />
<text x="359.0" y="617.0" font-size="19.5" text-anchor="middle" >1,024</text>
<line x1="483.90" y1="310.00" x2="483.90" y2="318.00" stroke="#000" stroke-width="1.5" />
<line x1="483.90" y1="593.00" x2="483.90" y2="585.00" stroke="#000" stroke-width="1.5" />
<text x="484.5" y="617.0" font-size="19.5" text-anchor="middle" >1,025</text>
<line x1="609.40" y1="310.00" x2="609.40" y2="318.00" stroke="#000" stroke-width="1.5" />
<line x1="609.40" y1="593.00" x2="609.40" y2="585.00" stroke="#000" stroke-width="1.5" />
<text x="610.0" y="617.0" font-size="19.5" text-anchor="middle" >1,026</text>
<line x1="82.00" y1="382.50" x2="90.00" y2="382.50" stroke="#000" stroke-width="1.5" />
<line x1="628.50" y1="382.50" x2="620.50" y2="382.50" stroke="#000" stroke-width="1.5" />
<text x="76.5" y="389.5" font-size="19.5" text-anchor="end" >1.00</text>
<line x1="82.00" y1="477.90" x2="90.00" y2="477.90" stroke="#000" stroke-width="1.5" />
<line x1="628.50" y1="477.90" x2="620.50" y2="477.90" stroke="#000" stroke-width="1.5" />
<text x="76.5" y="484.9" font-size="19.5" text-anchor="end" >0.97</text>
<line x1="82.00" y1="573.30" x2="90.00" y2="573.30" stroke="#000" stroke-width="1.5" />
<line x1="628.50" y1="573.30" x2="620.50" y2="573.30" stroke="#000" stroke-width="1.5" />
<text x="76.5" y="580.3" font-size="19.5" text-anchor="end" >0.94</text>
<text x="-0.5" y="344.5" font-size="28" font-weight="bold">b</text>
<text transform="translate(17 451.5) rotate(-90)" font-size="20" text-anchor="middle"><tspan font-style="italic">I</tspan><tspan font-size="14" dy="5.5">PL</tspan><tspan dy="-5.5"> (a.u.)</tspan></text>
<clipPath id="cbp"><rect x="76.0" y="311.0" width="558.5" height="281.0"/></clipPath>
<g clip-path="url(#cbp)">
<path d="M83.5,367.4 L87.4,321.5 L91.3,351.4 L95.2,341.6 L99.1,342.9 L103.0,345.3 L106.9,327.4 L110.8,345.4 L114.7,339.1 L118.6,381.1 L122.5,350.3 L126.4,344.6 L130.3,345.4 L134.2,341.6 L138.1,337.8 L142.0,344.6 L145.9,353.4 L149.8,346.3 L153.7,358.4 L157.6,346.9 L161.5,349.2 L165.4,364.6 L169.3,354.7 L173.2,344.3 L177.1,347.6 L181.0,354.9 L184.9,369.0 L188.8,347.0 L192.7,347.4 L196.6,359.9 L200.5,341.4 L204.4,349.4 L208.3,363.3 L212.2,362.3 L216.1,358.1 L220.0,361.1 L223.9,323.3 L227.8,359.0 L231.7,336.4 L235.6,326.5 L239.5,343.1 L243.4,347.4 L247.3,336.4 L251.2,330.6 L255.1,342.1 L259.0,341.8 L262.9,356.8 L266.8,350.7 L270.7,345.6 L274.6,355.3 L278.5,342.6 L282.4,335.8 L286.3,351.4 L290.2,351.8 L294.1,343.7 L298.0,338.0 L301.9,348.0 L305.8,320.7 L309.7,352.4 L313.6,350.3 L317.5,328.9 L321.4,345.8 L325.3,335.5 L329.2,352.6 L333.1,326.3 L337.0,339.6 L340.9,357.9 L344.8,364.5 L348.7,331.5 L352.6,348.2 L356.5,356.5 L360.4,347.2 L364.3,369.3 L368.2,341.6 L372.1,357.1 L376.0,343.2 L379.9,367.8 L383.8,353.6 L387.7,350.2 L391.6,336.8 L395.5,370.9 L399.4,361.7 L403.3,361.8 L407.2,365.7 L411.1,357.9 L415.0,348.1 L418.9,346.6 L422.8,346.6 L426.7,368.4 L430.6,340.2 L434.5,348.9 L438.4,351.8 L442.3,357.1 L446.2,360.3 L450.1,341.8 L454.0,336.8 L457.9,351.9 L461.8,361.3 L465.7,365.4 L469.6,369.2 L473.5,363.5 L477.4,368.2 L481.3,360.9 L485.2,369.6 L489.1,350.5 L493.0,354.2 L496.9,349.8 L500.8,358.1 L504.7,356.7 L508.6,387.1 L512.5,386.6 L516.4,393.1 L520.3,372.5 L524.2,392.0 L528.1,422.1 L532.0,443.9 L535.9,483.7 L539.8,511.4 L543.7,519.9 L547.6,518.9 L551.5,528.1 L555.4,525.2 L559.3,512.2 L563.2,514.5 L567.1,512.8 L571.0,484.9 L574.9,454.3 L578.8,431.0 L582.7,397.8 L586.6,364.9 L590.5,373.2 L594.4,345.5 L598.3,353.5 L602.2,348.0 L606.1,371.9 L610.0,364.2 L613.9,355.5 L617.8,355.0 L621.7,365.4 L625.6,354.6" fill="none" stroke="#111" stroke-width="1.52"/>
<path d="M83.5,360.4V374.4M79.1,360.4h8.8M79.1,374.4h8.8M87.4,314.5V328.5M83.0,314.5h8.8M83.0,328.5h8.8M91.3,344.4V358.4M86.9,344.4h8.8M86.9,358.4h8.8M95.2,334.6V348.6M90.8,334.6h8.8M90.8,348.6h8.8M99.1,335.9V349.9M94.7,335.9h8.8M94.7,349.9h8.8M103.0,338.3V352.3M98.6,338.3h8.8M98.6,352.3h8.8M106.9,320.4V334.4M102.5,320.4h8.8M102.5,334.4h8.8M110.8,338.4V352.4M106.4,338.4h8.8M106.4,352.4h8.8M114.7,332.1V346.1M110.3,332.1h8.8M110.3,346.1h8.8M118.6,374.1V388.1M114.2,374.1h8.8M114.2,388.1h8.8M122.5,343.3V357.3M118.1,343.3h8.8M118.1,357.3h8.8M126.4,337.6V351.6M122.0,337.6h8.8M122.0,351.6h8.8M130.3,338.4V352.4M125.9,338.4h8.8M125.9,352.4h8.8M134.2,334.6V348.6M129.8,334.6h8.8M129.8,348.6h8.8M138.1,330.8V344.8M133.7,330.8h8.8M133.7,344.8h8.8M142.0,337.6V351.6M137.6,337.6h8.8M137.6,351.6h8.8M145.9,346.4V360.4M141.5,346.4h8.8M141.5,360.4h8.8M149.8,339.3V353.3M145.4,339.3h8.8M145.4,353.3h8.8M153.7,351.4V365.4M149.3,351.4h8.8M149.3,365.4h8.8M157.6,339.9V353.9M153.2,339.9h8.8M153.2,353.9h8.8M161.5,342.2V356.2M157.1,342.2h8.8M157.1,356.2h8.8M165.4,357.6V371.6M161.0,357.6h8.8M161.0,371.6h8.8M169.3,347.7V361.7M164.9,347.7h8.8M164.9,361.7h8.8M173.2,337.3V351.3M168.8,337.3h8.8M168.8,351.3h8.8M177.1,340.6V354.6M172.7,340.6h8.8M172.7,354.6h8.8M181.0,347.9V361.9M176.6,347.9h8.8M176.6,361.9h8.8M184.9,362.0V376.0M180.5,362.0h8.8M180.5,376.0h8.8M188.8,340.0V354.0M184.4,340.0h8.8M184.4,354.0h8.8M192.7,340.4V354.4M188.3,340.4h8.8M188.3,354.4h8.8M196.6,352.9V366.9M192.2,352.9h8.8M192.2,366.9h8.8M200.5,334.4V348.4M196.1,334.4h8.8M196.1,348.4h8.8M204.4,342.4V356.4M200.0,342.4h8.8M200.0,356.4h8.8M208.3,356.3V370.3M203.9,356.3h8.8M203.9,370.3h8.8M212.2,355.3V369.3M207.8,355.3h8.8M207.8,369.3h8.8M216.1,351.1V365.1M211.7,351.1h8.8M211.7,365.1h8.8M220.0,354.1V368.1M215.6,354.1h8.8M215.6,368.1h8.8M223.9,316.3V330.3M219.5,316.3h8.8M219.5,330.3h8.8M227.8,352.0V366.0M223.4,352.0h8.8M223.4,366.0h8.8M231.7,329.4V343.4M227.3,329.4h8.8M227.3,343.4h8.8M235.6,319.5V333.5M231.2,319.5h8.8M231.2,333.5h8.8M239.5,336.1V350.1M235.1,336.1h8.8M235.1,350.1h8.8M243.4,340.4V354.4M239.0,340.4h8.8M239.0,354.4h8.8M247.3,329.4V343.4M242.9,329.4h8.8M242.9,343.4h8.8M251.2,323.6V337.6M246.8,323.6h8.8M246.8,337.6h8.8M255.1,335.1V349.1M250.7,335.1h8.8M250.7,349.1h8.8M259.0,334.8V348.8M254.6,334.8h8.8M254.6,348.8h8.8M262.9,349.8V363.8M258.5,349.8h8.8M258.5,363.8h8.8M266.8,343.7V357.7M262.4,343.7h8.8M262.4,357.7h8.8M270.7,338.6V352.6M266.3,338.6h8.8M266.3,352.6h8.8M274.6,348.3V362.3M270.2,348.3h8.8M270.2,362.3h8.8M278.5,335.6V349.6M274.1,335.6h8.8M274.1,349.6h8.8M282.4,328.8V342.8M278.0,328.8h8.8M278.0,342.8h8.8M286.3,344.4V358.4M281.9,344.4h8.8M281.9,358.4h8.8M290.2,344.8V358.8M285.8,344.8h8.8M285.8,358.8h8.8M294.1,336.7V350.7M289.7,336.7h8.8M289.7,350.7h8.8M298.0,331.0V345.0M293.6,331.0h8.8M293.6,345.0h8.8M301.9,341.0V355.0M297.5,341.0h8.8M297.5,355.0h8.8M305.8,313.7V327.7M301.4,313.7h8.8M301.4,327.7h8.8M309.7,345.4V359.4M305.3,345.4h8.8M305.3,359.4h8.8M313.6,343.3V357.3M309.2,343.3h8.8M309.2,357.3h8.8M317.5,321.9V335.9M313.1,321.9h8.8M313.1,335.9h8.8M321.4,338.8V352.8M317.0,338.8h8.8M317.0,352.8h8.8M325.3,328.5V342.5M320.9,328.5h8.8M320.9,342.5h8.8M329.2,345.6V359.6M324.8,345.6h8.8M324.8,359.6h8.8M333.1,319.3V333.3M328.7,319.3h8.8M328.7,333.3h8.8M337.0,332.6V346.6M332.6,332.6h8.8M332.6,346.6h8.8M340.9,350.9V364.9M336.5,350.9h8.8M336.5,364.9h8.8M344.8,357.5V371.5M340.4,357.5h8.8M340.4,371.5h8.8M348.7,324.5V338.5M344.3,324.5h8.8M344.3,338.5h8.8M352.6,341.2V355.2M348.2,341.2h8.8M348.2,355.2h8.8M356.5,349.5V363.5M352.1,349.5h8.8M352.1,363.5h8.8M360.4,340.2V354.2M356.0,340.2h8.8M356.0,354.2h8.8M364.3,362.3V376.3M359.9,362.3h8.8M359.9,376.3h8.8M368.2,334.6V348.6M363.8,334.6h8.8M363.8,348.6h8.8M372.1,350.1V364.1M367.7,350.1h8.8M367.7,364.1h8.8M376.0,336.2V350.2M371.6,336.2h8.8M371.6,350.2h8.8M379.9,360.8V374.8M375.5,360.8h8.8M375.5,374.8h8.8M383.8,346.6V360.6M379.4,346.6h8.8M379.4,360.6h8.8M387.7,343.2V357.2M383.3,343.2h8.8M383.3,357.2h8.8M391.6,329.8V343.8M387.2,329.8h8.8M387.2,343.8h8.8M395.5,363.9V377.9M391.1,363.9h8.8M391.1,377.9h8.8M399.4,354.7V368.7M395.0,354.7h8.8M395.0,368.7h8.8M403.3,354.8V368.8M398.9,354.8h8.8M398.9,368.8h8.8M407.2,358.7V372.7M402.8,358.7h8.8M402.8,372.7h8.8M411.1,350.9V364.9M406.7,350.9h8.8M406.7,364.9h8.8M415.0,341.1V355.1M410.6,341.1h8.8M410.6,355.1h8.8M418.9,339.6V353.6M414.5,339.6h8.8M414.5,353.6h8.8M422.8,339.6V353.6M418.4,339.6h8.8M418.4,353.6h8.8M426.7,361.4V375.4M422.3,361.4h8.8M422.3,375.4h8.8M430.6,333.2V347.2M426.2,333.2h8.8M426.2,347.2h8.8M434.5,341.9V355.9M430.1,341.9h8.8M430.1,355.9h8.8M438.4,344.8V358.8M434.0,344.8h8.8M434.0,358.8h8.8M442.3,350.1V364.1M437.9,350.1h8.8M437.9,364.1h8.8M446.2,353.3V367.3M441.8,353.3h8.8M441.8,367.3h8.8M450.1,334.8V348.8M445.7,334.8h8.8M445.7,348.8h8.8M454.0,329.8V343.8M449.6,329.8h8.8M449.6,343.8h8.8M457.9,344.9V358.9M453.5,344.9h8.8M453.5,358.9h8.8M461.8,354.3V368.3M457.4,354.3h8.8M457.4,368.3h8.8M465.7,358.4V372.4M461.3,358.4h8.8M461.3,372.4h8.8M469.6,362.2V376.2M465.2,362.2h8.8M465.2,376.2h8.8M473.5,356.5V370.5M469.1,356.5h8.8M469.1,370.5h8.8M477.4,361.2V375.2M473.0,361.2h8.8M473.0,375.2h8.8M481.3,353.9V367.9M476.9,353.9h8.8M476.9,367.9h8.8M485.2,362.6V376.6M480.8,362.6h8.8M480.8,376.6h8.8M489.1,343.5V357.5M484.7,343.5h8.8M484.7,357.5h8.8M493.0,347.2V361.2M488.6,347.2h8.8M488.6,361.2h8.8M496.9,342.8V356.8M492.5,342.8h8.8M492.5,356.8h8.8M500.8,351.1V365.1M496.4,351.1h8.8M496.4,365.1h8.8M504.7,349.7V363.7M500.3,349.7h8.8M500.3,363.7h8.8M508.6,380.1V394.1M504.2,380.1h8.8M504.2,394.1h8.8M512.5,379.6V393.6M508.1,379.6h8.8M508.1,393.6h8.8M516.4,386.1V400.1M512.0,386.1h8.8M512.0,400.1h8.8M520.3,365.5V379.5M515.9,365.5h8.8M515.9,379.5h8.8M524.2,385.0V399.0M519.8,385.0h8.8M519.8,399.0h8.8M528.1,415.1V429.1M523.7,415.1h8.8M523.7,429.1h8.8M532.0,436.9V450.9M527.6,436.9h8.8M527.6,450.9h8.8M535.9,476.7V490.7M531.5,476.7h8.8M531.5,490.7h8.8M539.8,504.4V518.4M535.4,504.4h8.8M535.4,518.4h8.8M543.7,512.9V526.9M539.3,512.9h8.8M539.3,526.9h8.8M547.6,511.9V525.9M543.2,511.9h8.8M543.2,525.9h8.8M551.5,521.1V535.1M547.1,521.1h8.8M547.1,535.1h8.8M555.4,518.2V532.2M551.0,518.2h8.8M551.0,532.2h8.8M559.3,505.2V519.2M554.9,505.2h8.8M554.9,519.2h8.8M563.2,507.5V521.5M558.8,507.5h8.8M558.8,521.5h8.8M567.1,505.8V519.8M562.7,505.8h8.8M562.7,519.8h8.8M571.0,477.9V491.9M566.6,477.9h8.8M566.6,491.9h8.8M574.9,447.3V461.3M570.5,447.3h8.8M570.5,461.3h8.8M578.8,424.0V438.0M574.4,424.0h8.8M574.4,438.0h8.8M582.7,390.8V404.8M578.3,390.8h8.8M578.3,404.8h8.8M586.6,357.9V371.9M582.2,357.9h8.8M582.2,371.9h8.8M590.5,366.2V380.2M586.1,366.2h8.8M586.1,380.2h8.8M594.4,338.5V352.5M590.0,338.5h8.8M590.0,352.5h8.8M598.3,346.5V360.5M593.9,346.5h8.8M593.9,360.5h8.8M602.2,341.0V355.0M597.8,341.0h8.8M597.8,355.0h8.8M606.1,364.9V378.9M601.7,364.9h8.8M601.7,378.9h8.8M610.0,357.2V371.2M605.6,357.2h8.8M605.6,371.2h8.8M613.9,348.5V362.5M609.5,348.5h8.8M609.5,362.5h8.8M617.8,348.0V362.0M613.4,348.0h8.8M613.4,362.0h8.8M621.7,358.4V372.4M617.3,358.4h8.8M617.3,372.4h8.8M625.6,347.6V361.6M621.2,347.6h8.8M621.2,361.6h8.8" fill="none" stroke="#111" stroke-width="1.9"/>
<path d="M80.9,367.4a2.6,2.6 0 1,0 5.2,0a2.6,2.6 0 1,0 -5.2,0M84.8,321.5a2.6,2.6 0 1,0 5.2,0a2.6,2.6 0 1,0 -5.2,0M88.7,351.4a2.6,2.6 0 1,0 5.2,0a2.6,2.6 0 1,0 -5.2,0M92.6,341.6a2.6,2.6 0 1,0 5.2,0a2.6,2.6 0 1,0 -5.2,0M96.5,342.9a2.6,2.6 0 1,0 5.2,0a2.6,2.6 0 1,0 -5.2,0M100.4,345.3a2.6,2.6 0 1,0 5.2,0a2.6,2.6 0 1,0 -5.2,0M104.3,327.4a2.6,2.6 0 1,0 5.2,0a2.6,2.6 0 1,0 -5.2,0M108.2,345.4a2.6,2.6 0 1,0 5.2,0a2.6,2.6 0 1,0 -5.2,0M112.1,339.1a2.6,2.6 0 1,0 5.2,0a2.6,2.6 0 1,0 -5.2,0M116.0,381.1a2.6,2.6 0 1,0 5.2,0a2.6,2.6 0 1,0 -5.2,0M119.9,350.3a2.6,2.6 0 1,0 5.2,0a2.6,2.6 0 1,0 -5.2,0M123.8,344.6a2.6,2.6 0 1,0 5.2,0a2.6,2.6 0 1,0 -5.2,0M127.7,345.4a2.6,2.6 0 1,0 5.2,0a2.6,2.6 0 1,0 -5.2,0M131.6,341.6a2.6,2.6 0 1,0 5.2,0a2.6,2.6 0 1,0 -5.2,0M135.5,337.8a2.6,2.6 0 1,0 5.2,0a2.6,2.6 0 1,0 -5.2,0M139.4,344.6a2.6,2.6 0 1,0 5.2,0a2.6,2.6 0 1,0 -5.2,0M143.3,353.4a2.6,2.6 0 1,0 5.2,0a2.6,2.6 0 1,0 -5.2,0M147.2,346.3a2.6,2.6 0 1,0 5.2,0a2.6,2.6 0 1,0 -5.2,0M151.1,358.4a2.6,2.6 0 1,0 5.2,0a2.6,2.6 0 1,0 -5.2,0M155.0,346.9a2.6,2.6 0 1,0 5.2,0a2.6,2.6 0 1,0 -5.2,0M158.9,349.2a2.6,2.6 0 1,0 5.2,0a2.6,2.6 0 1,0 -5.2,0M162.8,364.6a2.6,2.6 0 1,0 5.2,0a2.6,2.6 0 1,0 -5.2,0M166.7,354.7a2.6,2.6 0 1,0 5.2,0a2.6,2.6 0 1,0 -5.2,0M170.6,344.3a2.6,2.6 0 1,0 5.2,0a2.6,2.6 0 1,0 -5.2,0M174.5,347.6a2.6,2.6 0 1,0 5.2,0a2.6,2.6 0 1,0 -5.2,0M178.4,354.9a2.6,2.6 0 1,0 5.2,0a2.6,2.6 0 1,0 -5.2,0M182.3,369.0a2.6,2.6 0 1,0 5.2,0a2.6,2.6 0 1,0 -5.2,0M186.2,347.0a2.6,2.6 0 1,0 5.2,0a2.6,2.6 0 1,0 -5.2,0M190.1,347.4a2.6,2.6 0 1,0 5.2,0a2.6,2.6 0 1,0 -5.2,0M194.0,359.9a2.6,2.6 0 1,0 5.2,0a2.6,2.6 0 1,0 -5.2,0M197.9,341.4a2.6,2.6 0 1,0 5.2,0a2.6,2.6 0 1,0 -5.2,0M201.8,349.4a2.6,2.6 0 1,0 5.2,0a2.6,2.6 0 1,0 -5.2,0M205.7,363.3a2.6,2.6 0 1,0 5.2,0a2.6,2.6 0 1,0 -5.2,0M209.6,362.3a2.6,2.6 0 1,0 5.2,0a2.6,2.6 0 1,0 -5.2,0M213.5,358.1a2.6,2.6 0 1,0 5.2,0a2.6,2.6 0 1,0 -5.2,0M217.4,361.1a2.6,2.6 0 1,0 5.2,0a2.6,2.6 0 1,0 -5.2,0M221.3,323.3a2.6,2.6 0 1,0 5.2,0a2.6,2.6 0 1,0 -5.2,0M225.2,359.0a2.6,2.6 0 1,0 5.2,0a2.6,2.6 0 1,0 -5.2,0M229.1,336.4a2.6,2.6 0 1,0 5.2,0a2.6,2.6 0 1,0 -5.2,0M233.0,326.5a2.6,2.6 0 1,0 5.2,0a2.6,2.6 0 1,0 -5.2,0M236.9,343.1a2.6,2.6 0 1,0 5.2,0a2.6,2.6 0 1,0 -5.2,0M240.8,347.4a2.6,2.6 0 1,0 5.2,0a2.6,2.6 0 1,0 -5.2,0M244.7,336.4a2.6,2.6 0 1,0 5.2,0a2.6,2.6 0 1,0 -5.2,0M248.6,330.6a2.6,2.6 0 1,0 5.2,0a2.6,2.6 0 1,0 -5.2,0M252.5,342.1a2.6,2.6 0 1,0 5.2,0a2.6,2.6 0 1,0 -5.2,0M256.4,341.8a2.6,2.6 0 1,0 5.2,0a2.6,2.6 0 1,0 -5.2,0M260.3,356.8a2.6,2.6 0 1,0 5.2,0a2.6,2.6 0 1,0 -5.2,0M264.2,350.7a2.6,2.6 0 1,0 5.2,0a2.6,2.6 0 1,0 -5.2,0M268.1,345.6a2.6,2.6 0 1,0 5.2,0a2.6,2.6 0 1,0 -5.2,0M272.0,355.3a2.6,2.6 0 1,0 5.2,0a2.6,2.6 0 1,0 -5.2,0M275.9,342.6a2.6,2.6 0 1,0 5.2,0a2.6,2.6 0 1,0 -5.2,0M279.8,335.8a2.6,2.6 0 1,0 5.2,0a2.6,2.6 0 1,0 -5.2,0M283.7,351.4a2.6,2.6 0 1,0 5.2,0a2.6,2.6 0 1,0 -5.2,0M287.6,351.8a2.6,2.6 0 1,0 5.2,0a2.6,2.6 0 1,0 -5.2,0M291.5,343.7a2.6,2.6 0 1,0 5.2,0a2.6,2.6 0 1,0 -5.2,0M295.4,338.0a2.6,2.6 0 1,0 5.2,0a2.6,2.6 0 1,0 -5.2,0M299.3,348.0a2.6,2.6 0 1,0 5.2,0a2.6,2.6 0 1,0 -5.2,0M303.2,320.7a2.6,2.6 0 1,0 5.2,0a2.6,2.6 0 1,0 -5.2,0M307.1,352.4a2.6,2.6 0 1,0 5.2,0a2.6,2.6 0 1,0 -5.2,0M311.0,350.3a2.6,2.6 0 1,0 5.2,0a2.6,2.6 0 1,0 -5.2,0M314.9,328.9a2.6,2.6 0 1,0 5.2,0a2.6,2.6 0 1,0 -5.2,0M318.8,345.8a2.6,2.6 0 1,0 5.2,0a2.6,2.6 0 1,0 -5.2,0M322.7,335.5a2.6,2.6 0 1,0 5.2,0a2.6,2.6 0 1,0 -5.2,0M326.6,352.6a2.6,2.6 0 1,0 5.2,0a2.6,2.6 0 1,0 -5.2,0M330.5,326.3a2.6,2.6 0 1,0 5.2,0a2.6,2.6 0 1,0 -5.2,0M334.4,339.6a2.6,2.6 0 1,0 5.2,0a2.6,2.6 0 1,0 -5.2,0M338.3,357.9a2.6,2.6 0 1,0 5.2,0a2.6,2.6 0 1,0 -5.2,0M342.2,364.5a2.6,2.6 0 1,0 5.2,0a2.6,2.6 0 1,0 -5.2,0M346.1,331.5a2.6,2.6 0 1,0 5.2,0a2.6,2.6 0 1,0 -5.2,0M350.0,348.2a2.6,2.6 0 1,0 5.2,0a2.6,2.6 0 1,0 -5.2,0M353.9,356.5a2.6,2.6 0 1,0 5.2,0a2.6,2.6 0 1,0 -5.2,0M357.8,347.2a2.6,2.6 0 1,0 5.2,0a2.6,2.6 0 1,0 -5.2,0M361.7,369.3a2.6,2.6 0 1,0 5.2,0a2.6,2.6 0 1,0 -5.2,0M365.6,341.6a2.6,2.6 0 1,0 5.2,0a2.6,2.6 0 1,0 -5.2,0M369.5,357.1a2.6,2.6 0 1,0 5.2,0a2.6,2.6 0 1,0 -5.2,0M373.4,343.2a2.6,2.6 0 1,0 5.2,0a2.6,2.6 0 1,0 -5.2,0M377.3,367.8a2.6,2.6 0 1,0 5.2,0a2.6,2.6 0 1,0 -5.2,0M381.2,353.6a2.6,2.6 0 1,0 5.2,0a2.6,2.6 0 1,0 -5.2,0M385.1,350.2a2.6,2.6 0 1,0 5.2,0a2.6,2.6 0 1,0 -5.2,0M389.0,336.8a2.6,2.6 0 1,0 5.2,0a2.6,2.6 0 1,0 -5.2,0M392.9,370.9a2.6,2.6 0 1,0 5.2,0a2.6,2.6 0 1,0 -5.2,0M396.8,361.7a2.6,2.6 0 1,0 5.2,0a2.6,2.6 0 1,0 -5.2,0M400.7,361.8a2.6,2.6 0 1,0 5.2,0a2.6,2.6 0 1,0 -5.2,0M404.6,365.7a2.6,2.6 0 1,0 5.2,0a2.6,2.6 0 1,0 -5.2,0M408.5,357.9a2.6,2.6 0 1,0 5.2,0a2.6,2.6 0 1,0 -5.2,0M412.4,348.1a2.6,2.6 0 1,0 5.2,0a2.6,2.6 0 1,0 -5.2,0M416.3,346.6a2.6,2.6 0 1,0 5.2,0a2.6,2.6 0 1,0 -5.2,0M420.2,346.6a2.6,2.6 0 1,0 5.2,0a2.6,2.6 0 1,0 -5.2,0M424.1,368.4a2.6,2.6 0 1,0 5.2,0a2.6,2.6 0 1,0 -5.2,0M428.0,340.2a2.6,2.6 0 1,0 5.2,0a2.6,2.6 0 1,0 -5.2,0M431.9,348.9a2.6,2.6 0 1,0 5.2,0a2.6,2.6 0 1,0 -5.2,0M435.8,351.8a2.6,2.6 0 1,0 5.2,0a2.6,2.6 0 1,0 -5.2,0M439.7,357.1a2.6,2.6 0 1,0 5.2,0a2.6,2.6 0 1,0 -5.2,0M443.6,360.3a2.6,2.6 0 1,0 5.2,0a2.6,2.6 0 1,0 -5.2,0M447.5,341.8a2.6,2.6 0 1,0 5.2,0a2.6,2.6 0 1,0 -5.2,0M451.4,336.8a2.6,2.6 0 1,0 5.2,0a2.6,2.6 0 1,0 -5.2,0M455.3,351.9a2.6,2.6 0 1,0 5.2,0a2.6,2.6 0 1,0 -5.2,0M459.2,361.3a2.6,2.6 0 1,0 5.2,0a2.6,2.6 0 1,0 -5.2,0M463.1,365.4a2.6,2.6 0 1,0 5.2,0a2.6,2.6 0 1,0 -5.2,0M467.0,369.2a2.6,2.6 0 1,0 5.2,0a2.6,2.6 0 1,0 -5.2,0M470.9,363.5a2.6,2.6 0 1,0 5.2,0a2.6,2.6 0 1,0 -5.2,0M474.8,368.2a2.6,2.6 0 1,0 5.2,0a2.6,2.6 0 1,0 -5.2,0M478.7,360.9a2.6,2.6 0 1,0 5.2,0a2.6,2.6 0 1,0 -5.2,0M482.6,369.6a2.6,2.6 0 1,0 5.2,0a2.6,2.6 0 1,0 -5.2,0M486.5,350.5a2.6,2.6 0 1,0 5.2,0a2.6,2.6 0 1,0 -5.2,0M490.4,354.2a2.6,2.6 0 1,0 5.2,0a2.6,2.6 0 1,0 -5.2,0M494.3,349.8a2.6,2.6 0 1,0 5.2,0a2.6,2.6 0 1,0 -5.2,0M498.2,358.1a2.6,2.6 0 1,0 5.2,0a2.6,2.6 0 1,0 -5.2,0M502.1,356.7a2.6,2.6 0 1,0 5.2,0a2.6,2.6 0 1,0 -5.2,0M506.0,387.1a2.6,2.6 0 1,0 5.2,0a2.6,2.6 0 1,0 -5.2,0M509.9,386.6a2.6,2.6 0 1,0 5.2,0a2.6,2.6 0 1,0 -5.2,0M513.8,393.1a2.6,2.6 0 1,0 5.2,0a2.6,2.6 0 1,0 -5.2,0M517.7,372.5a2.6,2.6 0 1,0 5.2,0a2.6,2.6 0 1,0 -5.2,0M521.6,392.0a2.6,2.6 0 1,0 5.2,0a2.6,2.6 0 1,0 -5.2,0M525.5,422.1a2.6,2.6 0 1,0 5.2,0a2.6,2.6 0 1,0 -5.2,0M529.4,443.9a2.6,2.6 0 1,0 5.2,0a2.6,2.6 0 1,0 -5.2,0M533.3,483.7a2.6,2.6 0 1,0 5.2,0a2.6,2.6 0 1,0 -5.2,0M537.2,511.4a2.6,2.6 0 1,0 5.2,0a2.6,2.6 0 1,0 -5.2,0M541.1,519.9a2.6,2.6 0 1,0 5.2,0a2.6,2.6 0 1,0 -5.2,0M545.0,518.9a2.6,2.6 0 1,0 5.2,0a2.6,2.6 0 1,0 -5.2,0M548.9,528.1a2.6,2.6 0 1,0 5.2,0a2.6,2.6 0 1,0 -5.2,0M552.8,525.2a2.6,2.6 0 1,0 5.2,0a2.6,2.6 0 1,0 -5.2,0M556.7,512.2a2.6,2.6 0 1,0 5.2,0a2.6,2.6 0 1,0 -5.2,0M560.6,514.5a2.6,2.6 0 1,0 5.2,0a2.6,2.6 0 1,0 -5.2,0M564.5,512.8a2.6,2.6 0 1,0 5.2,0a2.6,2.6 0 1,0 -5.2,0M568.4,484.9a2.6,2.6 0 1,0 5.2,0a2.6,2.6 0 1,0 -5.2,0M572.3,454.3a2.6,2.6 0 1,0 5.2,0a2.6,2.6 0 1,0 -5.2,0M576.2,431.0a2.6,2.6 0 1,0 5.2,0a2.6,2.6 0 1,0 -5.2,0M580.1,397.8a2.6,2.6 0 1,0 5.2,0a2.6,2.6 0 1,0 -5.2,0M584.0,364.9a2.6,2.6 0 1,0 5.2,0a2.6,2.6 0 1,0 -5.2,0M587.9,373.2a2.6,2.6 0 1,0 5.2,0a2.6,2.6 0 1,0 -5.2,0M591.8,345.5a2.6,2.6 0 1,0 5.2,0a2.6,2.6 0 1,0 -5.2,0M595.7,353.5a2.6,2.6 0 1,0 5.2,0a2.6,2.6 0 1,0 -5.2,0M599.6,348.0a2.6,2.6 0 1,0 5.2,0a2.6,2.6 0 1,0 -5.2,0M603.5,371.9a2.6,2.6 0 1,0 5.2,0a2.6,2.6 0 1,0 -5.2,0M607.4,364.2a2.6,2.6 0 1,0 5.2,0a2.6,2.6 0 1,0 -5.2,0M611.3,355.5a2.6,2.6 0 1,0 5.2,0a2.6,2.6 0 1,0 -5.2,0M615.2,355.0a2.6,2.6 0 1,0 5.2,0a2.6,2.6 0 1,0 -5.2,0M619.1,365.4a2.6,2.6 0 1,0 5.2,0a2.6,2.6 0 1,0 -5.2,0M623.0,354.6a2.6,2.6 0 1,0 5.2,0a2.6,2.6 0 1,0 -5.2,0" fill="#111"/>
<path d="M83.5,349.2 L87.4,354.2 L91.3,373.5 L95.2,363.0 L99.1,338.9 L103.0,356.1 L106.9,349.7 L110.8,357.8 L114.7,339.4 L118.6,358.8 L122.5,358.8 L126.4,372.9 L130.3,359.7 L134.2,361.8 L138.1,340.8 L142.0,380.2 L145.9,336.4 L149.8,368.1 L153.7,353.1 L157.6,347.4 L161.5,349.8 L165.4,349.6 L169.3,360.7 L173.2,355.6 L177.1,372.4 L181.0,337.6 L184.9,356.8 L188.8,347.5 L192.7,365.1 L196.6,334.7 L200.5,353.6 L204.4,361.3 L208.3,345.3 L212.2,373.0 L216.1,365.3 L220.0,371.8 L223.9,369.1 L227.8,346.5 L231.7,346.3 L235.6,350.3 L239.5,358.1 L243.4,359.3 L247.3,343.4 L251.2,345.0 L255.1,343.4 L259.0,346.1 L262.9,350.2 L266.8,351.8 L270.7,375.3 L274.6,348.8 L278.5,351.6 L282.4,359.9 L286.3,345.5 L290.2,352.3 L294.1,358.9 L298.0,363.8 L301.9,364.1 L305.8,383.3 L309.7,395.2 L313.6,380.2 L317.5,363.9 L321.4,363.0 L325.3,375.7 L329.2,389.9 L333.1,398.3 L337.0,374.6 L340.9,351.2 L344.8,372.8 L348.7,351.9 L352.6,346.9 L356.5,381.8 L360.4,358.9 L364.3,348.0 L368.2,379.9 L372.1,357.1 L376.0,371.8 L379.9,352.0 L383.8,358.2 L387.7,343.2 L391.6,340.9 L395.5,350.8 L399.4,360.3 L403.3,369.6 L407.2,386.8 L411.1,350.6 L415.0,372.1 L418.9,355.2 L422.8,360.0 L426.7,346.2 L430.6,346.3 L434.5,353.7 L438.4,349.4 L442.3,363.9 L446.2,359.8 L450.1,383.5 L454.0,380.8 L457.9,378.7 L461.8,379.7 L465.7,424.6 L469.6,427.7 L473.5,417.6 L477.4,407.2 L481.3,409.1 L485.2,404.8 L489.1,395.8 L493.0,390.2 L496.9,378.2 L500.8,401.3 L504.7,394.9 L508.6,407.3 L512.5,397.1 L516.4,391.9 L520.3,388.0 L524.2,398.1 L528.1,425.5 L532.0,455.3 L535.9,465.3 L539.8,490.9 L543.7,531.8 L547.6,541.2 L551.5,573.7 L555.4,568.9 L559.3,526.5 L563.2,512.4 L567.1,488.3 L571.0,456.3 L574.9,435.4 L578.8,418.9 L582.7,409.4 L586.6,393.8 L590.5,385.7 L594.4,390.9 L598.3,380.8 L602.2,385.9 L606.1,384.1 L610.0,364.8 L613.9,366.8 L617.8,348.6 L621.7,380.1 L625.6,403.4" fill="none" stroke="#1818ee" stroke-width="1.52"/>
<path d="M83.5,342.2V356.2M79.1,342.2h8.8M79.1,356.2h8.8M87.4,347.2V361.2M83.0,347.2h8.8M83.0,361.2h8.8M91.3,366.5V380.5M86.9,366.5h8.8M86.9,380.5h8.8M95.2,356.0V370.0M90.8,356.0h8.8M90.8,370.0h8.8M99.1,331.9V345.9M94.7,331.9h8.8M94.7,345.9h8.8M103.0,349.1V363.1M98.6,349.1h8.8M98.6,363.1h8.8M106.9,342.7V356.7M102.5,342.7h8.8M102.5,356.7h8.8M110.8,350.8V364.8M106.4,350.8h8.8M106.4,364.8h8.8M114.7,332.4V346.4M110.3,332.4h8.8M110.3,346.4h8.8M118.6,351.8V365.8M114.2,351.8h8.8M114.2,365.8h8.8M122.5,351.8V365.8M118.1,351.8h8.8M118.1,365.8h8.8M126.4,365.9V379.9M122.0,365.9h8.8M122.0,379.9h8.8M130.3,352.7V366.7M125.9,352.7h8.8M125.9,366.7h8.8M134.2,354.8V368.8M129.8,354.8h8.8M129.8,368.8h8.8M138.1,333.8V347.8M133.7,333.8h8.8M133.7,347.8h8.8M142.0,373.2V387.2M137.6,373.2h8.8M137.6,387.2h8.8M145.9,329.4V343.4M141.5,329.4h8.8M141.5,343.4h8.8M149.8,361.1V375.1M145.4,361.1h8.8M145.4,375.1h8.8M153.7,346.1V360.1M149.3,346.1h8.8M149.3,360.1h8.8M157.6,340.4V354.4M153.2,340.4h8.8M153.2,354.4h8.8M161.5,342.8V356.8M157.1,342.8h8.8M157.1,356.8h8.8M165.4,342.6V356.6M161.0,342.6h8.8M161.0,356.6h8.8M169.3,353.7V367.7M164.9,353.7h8.8M164.9,367.7h8.8M173.2,348.6V362.6M168.8,348.6h8.8M168.8,362.6h8.8M177.1,365.4V379.4M172.7,365.4h8.8M172.7,379.4h8.8M181.0,330.6V344.6M176.6,330.6h8.8M176.6,344.6h8.8M184.9,349.8V363.8M180.5,349.8h8.8M180.5,363.8h8.8M188.8,340.5V354.5M184.4,340.5h8.8M184.4,354.5h8.8M192.7,358.1V372.1M188.3,358.1h8.8M188.3,372.1h8.8M196.6,327.7V341.7M192.2,327.7h8.8M192.2,341.7h8.8M200.5,346.6V360.6M196.1,346.6h8.8M196.1,360.6h8.8M204.4,354.3V368.3M200.0,354.3h8.8M200.0,368.3h8.8M208.3,338.3V352.3M203.9,338.3h8.8M203.9,352.3h8.8M212.2,366.0V380.0M207.8,366.0h8.8M207.8,380.0h8.8M216.1,358.3V372.3M211.7,358.3h8.8M211.7,372.3h8.8M220.0,364.8V378.8M215.6,364.8h8.8M215.6,378.8h8.8M223.9,362.1V376.1M219.5,362.1h8.8M219.5,376.1h8.8M227.8,339.5V353.5M223.4,339.5h8.8M223.4,353.5h8.8M231.7,339.3V353.3M227.3,339.3h8.8M227.3,353.3h8.8M235.6,343.3V357.3M231.2,343.3h8.8M231.2,357.3h8.8M239.5,351.1V365.1M235.1,351.1h8.8M235.1,365.1h8.8M243.4,352.3V366.3M239.0,352.3h8.8M239.0,366.3h8.8M247.3,336.4V350.4M242.9,336.4h8.8M242.9,350.4h8.8M251.2,338.0V352.0M246.8,338.0h8.8M246.8,352.0h8.8M255.1,336.4V350.4M250.7,336.4h8.8M250.7,350.4h8.8M259.0,339.1V353.1M254.6,339.1h8.8M254.6,353.1h8.8M262.9,343.2V357.2M258.5,343.2h8.8M258.5,357.2h8.8M266.8,344.8V358.8M262.4,344.8h8.8M262.4,358.8h8.8M270.7,368.3V382.3M266.3,368.3h8.8M266.3,382.3h8.8M274.6,341.8V355.8M270.2,341.8h8.8M270.2,355.8h8.8M278.5,344.6V358.6M274.1,344.6h8.8M274.1,358.6h8.8M282.4,352.9V366.9M278.0,352.9h8.8M278.0,366.9h8.8M286.3,338.5V352.5M281.9,338.5h8.8M281.9,352.5h8.8M290.2,345.3V359.3M285.8,345.3h8.8M285.8,359.3h8.8M294.1,351.9V365.9M289.7,351.9h8.8M289.7,365.9h8.8M298.0,356.8V370.8M293.6,356.8h8.8M293.6,370.8h8.8M301.9,357.1V371.1M297.5,357.1h8.8M297.5,371.1h8.8M305.8,376.3V390.3M301.4,376.3h8.8M301.4,390.3h8.8M309.7,388.2V402.2M305.3,388.2h8.8M305.3,402.2h8.8M313.6,373.2V387.2M309.2,373.2h8.8M309.2,387.2h8.8M317.5,356.9V370.9M313.1,356.9h8.8M313.1,370.9h8.8M321.4,356.0V370.0M317.0,356.0h8.8M317.0,370.0h8.8M325.3,368.7V382.7M320.9,368.7h8.8M320.9,382.7h8.8M329.2,382.9V396.9M324.8,382.9h8.8M324.8,396.9h8.8M333.1,391.3V405.3M328.7,391.3h8.8M328.7,405.3h8.8M337.0,367.6V381.6M332.6,367.6h8.8M332.6,381.6h8.8M340.9,344.2V358.2M336.5,344.2h8.8M336.5,358.2h8.8M344.8,365.8V379.8M340.4,365.8h8.8M340.4,379.8h8.8M348.7,344.9V358.9M344.3,344.9h8.8M344.3,358.9h8.8M352.6,339.9V353.9M348.2,339.9h8.8M348.2,353.9h8.8M356.5,374.8V388.8M352.1,374.8h8.8M352.1,388.8h8.8M360.4,351.9V365.9M356.0,351.9h8.8M356.0,365.9h8.8M364.3,341.0V355.0M359.9,341.0h8.8M359.9,355.0h8.8M368.2,372.9V386.9M363.8,372.9h8.8M363.8,386.9h8.8M372.1,350.1V364.1M367.7,350.1h8.8M367.7,364.1h8.8M376.0,364.8V378.8M371.6,364.8h8.8M371.6,378.8h8.8M379.9,345.0V359.0M375.5,345.0h8.8M375.5,359.0h8.8M383.8,351.2V365.2M379.4,351.2h8.8M379.4,365.2h8.8M387.7,336.2V350.2M383.3,336.2h8.8M383.3,350.2h8.8M391.6,333.9V347.9M387.2,333.9h8.8M387.2,347.9h8.8M395.5,343.8V357.8M391.1,343.8h8.8M391.1,357.8h8.8M399.4,353.3V367.3M395.0,353.3h8.8M395.0,367.3h8.8M403.3,362.6V376.6M398.9,362.6h8.8M398.9,376.6h8.8M407.2,379.8V393.8M402.8,379.8h8.8M402.8,393.8h8.8M411.1,343.6V357.6M406.7,343.6h8.8M406.7,357.6h8.8M415.0,365.1V379.1M410.6,365.1h8.8M410.6,379.1h8.8M418.9,348.2V362.2M414.5,348.2h8.8M414.5,362.2h8.8M422.8,353.0V367.0M418.4,353.0h8.8M418.4,367.0h8.8M426.7,339.2V353.2M422.3,339.2h8.8M422.3,353.2h8.8M430.6,339.3V353.3M426.2,339.3h8.8M426.2,353.3h8.8M434.5,346.7V360.7M430.1,346.7h8.8M430.1,360.7h8.8M438.4,342.4V356.4M434.0,342.4h8.8M434.0,356.4h8.8M442.3,356.9V370.9M437.9,356.9h8.8M437.9,370.9h8.8M446.2,352.8V366.8M441.8,352.8h8.8M441.8,366.8h8.8M450.1,376.5V390.5M445.7,376.5h8.8M445.7,390.5h8.8M454.0,373.8V387.8M449.6,373.8h8.8M449.6,387.8h8.8M457.9,371.7V385.7M453.5,371.7h8.8M453.5,385.7h8.8M461.8,372.7V386.7M457.4,372.7h8.8M457.4,386.7h8.8M465.7,417.6V431.6M461.3,417.6h8.8M461.3,431.6h8.8M469.6,420.7V434.7M465.2,420.7h8.8M465.2,434.7h8.8M473.5,410.6V424.6M469.1,410.6h8.8M469.1,424.6h8.8M477.4,400.2V414.2M473.0,400.2h8.8M473.0,414.2h8.8M481.3,402.1V416.1M476.9,402.1h8.8M476.9,416.1h8.8M485.2,397.8V411.8M480.8,397.8h8.8M480.8,411.8h8.8M489.1,388.8V402.8M484.7,388.8h8.8M484.7,402.8h8.8M493.0,383.2V397.2M488.6,383.2h8.8M488.6,397.2h8.8M496.9,371.2V385.2M492.5,371.2h8.8M492.5,385.2h8.8M500.8,394.3V408.3M496.4,394.3h8.8M496.4,408.3h8.8M504.7,387.9V401.9M500.3,387.9h8.8M500.3,401.9h8.8M508.6,400.3V414.3M504.2,400.3h8.8M504.2,414.3h8.8M512.5,390.1V404.1M508.1,390.1h8.8M508.1,404.1h8.8M516.4,384.9V398.9M512.0,384.9h8.8M512.0,398.9h8.8M520.3,381.0V395.0M515.9,381.0h8.8M515.9,395.0h8.8M524.2,391.1V405.1M519.8,391.1h8.8M519.8,405.1h8.8M528.1,418.5V432.5M523.7,418.5h8.8M523.7,432.5h8.8M532.0,448.3V462.3M527.6,448.3h8.8M527.6,462.3h8.8M535.9,458.3V472.3M531.5,458.3h8.8M531.5,472.3h8.8M539.8,483.9V497.9M535.4,483.9h8.8M535.4,497.9h8.8M543.7,524.8V538.8M539.3,524.8h8.8M539.3,538.8h8.8M547.6,534.2V548.2M543.2,534.2h8.8M543.2,548.2h8.8M551.5,566.7V580.7M547.1,566.7h8.8M547.1,580.7h8.8M555.4,561.9V575.9M551.0,561.9h8.8M551.0,575.9h8.8M559.3,519.5V533.5M554.9,519.5h8.8M554.9,533.5h8.8M563.2,505.4V519.4M558.8,505.4h8.8M558.8,519.4h8.8M567.1,481.3V495.3M562.7,481.3h8.8M562.7,495.3h8.8M571.0,449.3V463.3M566.6,449.3h8.8M566.6,463.3h8.8M574.9,428.4V442.4M570.5,428.4h8.8M570.5,442.4h8.8M578.8,411.9V425.9M574.4,411.9h8.8M574.4,425.9h8.8M582.7,402.4V416.4M578.3,402.4h8.8M578.3,416.4h8.8M586.6,386.8V400.8M582.2,386.8h8.8M582.2,400.8h8.8M590.5,378.7V392.7M586.1,378.7h8.8M586.1,392.7h8.8M594.4,383.9V397.9M590.0,383.9h8.8M590.0,397.9h8.8M598.3,373.8V387.8M593.9,373.8h8.8M593.9,387.8h8.8M602.2,378.9V392.9M597.8,378.9h8.8M597.8,392.9h8.8M606.1,377.1V391.1M601.7,377.1h8.8M601.7,391.1h8.8M610.0,357.8V371.8M605.6,357.8h8.8M605.6,371.8h8.8M613.9,359.8V373.8M609.5,359.8h8.8M609.5,373.8h8.8M617.8,341.6V355.6M613.4,341.6h8.8M613.4,355.6h8.8M621.7,373.1V387.1M617.3,373.1h8.8M617.3,387.1h8.8M625.6,396.4V410.4M621.2,396.4h8.8M621.2,410.4h8.8" fill="none" stroke="#1818ee" stroke-width="1.9"/>
<path d="M80.9,349.2a2.6,2.6 0 1,0 5.2,0a2.6,2.6 0 1,0 -5.2,0M84.8,354.2a2.6,2.6 0 1,0 5.2,0a2.6,2.6 0 1,0 -5.2,0M88.7,373.5a2.6,2.6 0 1,0 5.2,0a2.6,2.6 0 1,0 -5.2,0M92.6,363.0a2.6,2.6 0 1,0 5.2,0a2.6,2.6 0 1,0 -5.2,0M96.5,338.9a2.6,2.6 0 1,0 5.2,0a2.6,2.6 0 1,0 -5.2,0M100.4,356.1a2.6,2.6 0 1,0 5.2,0a2.6,2.6 0 1,0 -5.2,0M104.3,349.7a2.6,2.6 0 1,0 5.2,0a2.6,2.6 0 1,0 -5.2,0M108.2,357.8a2.6,2.6 0 1,0 5.2,0a2.6,2.6 0 1,0 -5.2,0M112.1,339.4a2.6,2.6 0 1,0 5.2,0a2.6,2.6 0 1,0 -5.2,0M116.0,358.8a2.6,2.6 0 1,0 5.2,0a2.6,2.6 0 1,0 -5.2,0M119.9,358.8a2.6,2.6 0 1,0 5.2,0a2.6,2.6 0 1,0 -5.2,0M123.8,372.9a2.6,2.6 0 1,0 5.2,0a2.6,2.6 0 1,0 -5.2,0M127.7,359.7a2.6,2.6 0 1,0 5.2,0a2.6,2.6 0 1,0 -5.2,0M131.6,361.8a2.6,2.6 0 1,0 5.2,0a2.6,2.6 0 1,0 -5.2,0M135.5,340.8a2.6,2.6 0 1,0 5.2,0a2.6,2.6 0 1,0 -5.2,0M139.4,380.2a2.6,2.6 0 1,0 5.2,0a2.6,2.6 0 1,0 -5.2,0M143.3,336.4a2.6,2.6 0 1,0 5.2,0a2.6,2.6 0 1,0 -5.2,0M147.2,368.1a2.6,2.6 0 1,0 5.2,0a2.6,2.6 0 1,0 -5.2,0M151.1,353.1a2.6,2.6 0 1,0 5.2,0a2.6,2.6 0 1,0 -5.2,0M155.0,347.4a2.6,2.6 0 1,0 5.2,0a2.6,2.6 0 1,0 -5.2,0M158.9,349.8a2.6,2.6 0 1,0 5.2,0a2.6,2.6 0 1,0 -5.2,0M162.8,349.6a2.6,2.6 0 1,0 5.2,0a2.6,2.6 0 1,0 -5.2,0M166.7,360.7a2.6,2.6 0 1,0 5.2,0a2.6,2.6 0 1,0 -5.2,0M170.6,355.6a2.6,2.6 0 1,0 5.2,0a2.6,2.6 0 1,0 -5.2,0M174.5,372.4a2.6,2.6 0 1,0 5.2,0a2.6,2.6 0 1,0 -5.2,0M178.4,337.6a2.6,2.6 0 1,0 5.2,0a2.6,2.6 0 1,0 -5.2,0M182.3,356.8a2.6,2.6 0 1,0 5.2,0a2.6,2.6 0 1,0 -5.2,0M186.2,347.5a2.6,2.6 0 1,0 5.2,0a2.6,2.6 0 1,0 -5.2,0M190.1,365.1a2.6,2.6 0 1,0 5.2,0a2.6,2.6 0 1,0 -5.2,0M194.0,334.7a2.6,2.6 0 1,0 5.2,0a2.6,2.6 0 1,0 -5.2,0M197.9,353.6a2.6,2.6 0 1,0 5.2,0a2.6,2.6 0 1,0 -5.2,0M201.8,361.3a2.6,2.6 0 1,0 5.2,0a2.6,2.6 0 1,0 -5.2,0M205.7,345.3a2.6,2.6 0 1,0 5.2,0a2.6,2.6 0 1,0 -5.2,0M209.6,373.0a2.6,2.6 0 1,0 5.2,0a2.6,2.6 0 1,0 -5.2,0M213.5,365.3a2.6,2.6 0 1,0 5.2,0a2.6,2.6 0 1,0 -5.2,0M217.4,371.8a2.6,2.6 0 1,0 5.2,0a2.6,2.6 0 1,0 -5.2,0M221.3,369.1a2.6,2.6 0 1,0 5.2,0a2.6,2.6 0 1,0 -5.2,0M225.2,346.5a2.6,2.6 0 1,0 5.2,0a2.6,2.6 0 1,0 -5.2,0M229.1,346.3a2.6,2.6 0 1,0 5.2,0a2.6,2.6 0 1,0 -5.2,0M233.0,350.3a2.6,2.6 0 1,0 5.2,0a2.6,2.6 0 1,0 -5.2,0M236.9,358.1a2.6,2.6 0 1,0 5.2,0a2.6,2.6 0 1,0 -5.2,0M240.8,359.3a2.6,2.6 0 1,0 5.2,0a2.6,2.6 0 1,0 -5.2,0M244.7,343.4a2.6,2.6 0 1,0 5.2,0a2.6,2.6 0 1,0 -5.2,0M248.6,345.0a2.6,2.6 0 1,0 5.2,0a2.6,2.6 0 1,0 -5.2,0M252.5,343.4a2.6,2.6 0 1,0 5.2,0a2.6,2.6 0 1,0 -5.2,0M256.4,346.1a2.6,2.6 0 1,0 5.2,0a2.6,2.6 0 1,0 -5.2,0M260.3,350.2a2.6,2.6 0 1,0 5.2,0a2.6,2.6 0 1,0 -5.2,0M264.2,351.8a2.6,2.6 0 1,0 5.2,0a2.6,2.6 0 1,0 -5.2,0M268.1,375.3a2.6,2.6 0 1,0 5.2,0a2.6,2.6 0 1,0 -5.2,0M272.0,348.8a2.6,2.6 0 1,0 5.2,0a2.6,2.6 0 1,0 -5.2,0M275.9,351.6a2.6,2.6 0 1,0 5.2,0a2.6,2.6 0 1,0 -5.2,0M279.8,359.9a2.6,2.6 0 1,0 5.2,0a2.6,2.6 0 1,0 -5.2,0M283.7,345.5a2.6,2.6 0 1,0 5.2,0a2.6,2.6 0 1,0 -5.2,0M287.6,352.3a2.6,2.6 0 1,0 5.2,0a2.6,2.6 0 1,0 -5.2,0M291.5,358.9a2.6,2.6 0 1,0 5.2,0a2.6,2.6 0 1,0 -5.2,0M295.4,363.8a2.6,2.6 0 1,0 5.2,0a2.6,2.6 0 1,0 -5.2,0M299.3,364.1a2.6,2.6 0 1,0 5.2,0a2.6,2.6 0 1,0 -5.2,0M303.2,383.3a2.6,2.6 0 1,0 5.2,0a2.6,2.6 0 1,0 -5.2,0M307.1,395.2a2.6,2.6 0 1,0 5.2,0a2.6,2.6 0 1,0 -5.2,0M311.0,380.2a2.6,2.6 0 1,0 5.2,0a2.6,2.6 0 1,0 -5.2,0M314.9,363.9a2.6,2.6 0 1,0 5.2,0a2.6,2.6 0 1,0 -5.2,0M318.8,363.0a2.6,2.6 0 1,0 5.2,0a2.6,2.6 0 1,0 -5.2,0M322.7,375.7a2.6,2.6 0 1,0 5.2,0a2.6,2.6 0 1,0 -5.2,0M326.6,389.9a2.6,2.6 0 1,0 5.2,0a2.6,2.6 0 1,0 -5.2,0M330.5,398.3a2.6,2.6 0 1,0 5.2,0a2.6,2.6 0 1,0 -5.2,0M334.4,374.6a2.6,2.6 0 1,0 5.2,0a2.6,2.6 0 1,0 -5.2,0M338.3,351.2a2.6,2.6 0 1,0 5.2,0a2.6,2.6 0 1,0 -5.2,0M342.2,372.8a2.6,2.6 0 1,0 5.2,0a2.6,2.6 0 1,0 -5.2,0M346.1,351.9a2.6,2.6 0 1,0 5.2,0a2.6,2.6 0 1,0 -5.2,0M350.0,346.9a2.6,2.6 0 1,0 5.2,0a2.6,2.6 0 1,0 -5.2,0M353.9,381.8a2.6,2.6 0 1,0 5.2,0a2.6,2.6 0 1,0 -5.2,0M357.8,358.9a2.6,2.6 0 1,0 5.2,0a2.6,2.6 0 1,0 -5.2,0M361.7,348.0a2.6,2.6 0 1,0 5.2,0a2.6,2.6 0 1,0 -5.2,0M365.6,379.9a2.6,2.6 0 1,0 5.2,0a2.6,2.6 0 1,0 -5.2,0M369.5,357.1a2.6,2.6 0 1,0 5.2,0a2.6,2.6 0 1,0 -5.2,0M373.4,371.8a2.6,2.6 0 1,0 5.2,0a2.6,2.6 0 1,0 -5.2,0M377.3,352.0a2.6,2.6 0 1,0 5.2,0a2.6,2.6 0 1,0 -5.2,0M381.2,358.2a2.6,2.6 0 1,0 5.2,0a2.6,2.6 0 1,0 -5.2,0M385.1,343.2a2.6,2.6 0 1,0 5.2,0a2.6,2.6 0 1,0 -5.2,0M389.0,340.9a2.6,2.6 0 1,0 5.2,0a2.6,2.6 0 1,0 -5.2,0M392.9,350.8a2.6,2.6 0 1,0 5.2,0a2.6,2.6 0 1,0 -5.2,0M396.8,360.3a2.6,2.6 0 1,0 5.2,0a2.6,2.6 0 1,0 -5.2,0M400.7,369.6a2.6,2.6 0 1,0 5.2,0a2.6,2.6 0 1,0 -5.2,0M404.6,386.8a2.6,2.6 0 1,0 5.2,0a2.6,2.6 0 1,0 -5.2,0M408.5,350.6a2.6,2.6 0 1,0 5.2,0a2.6,2.6 0 1,0 -5.2,0M412.4,372.1a2.6,2.6 0 1,0 5.2,0a2.6,2.6 0 1,0 -5.2,0M416.3,355.2a2.6,2.6 0 1,0 5.2,0a2.6,2.6 0 1,0 -5.2,0M420.2,360.0a2.6,2.6 0 1,0 5.2,0a2.6,2.6 0 1,0 -5.2,0M424.1,346.2a2.6,2.6 0 1,0 5.2,0a2.6,2.6 0 1,0 -5.2,0M428.0,346.3a2.6,2.6 0 1,0 5.2,0a2.6,2.6 0 1,0 -5.2,0M431.9,353.7a2.6,2.6 0 1,0 5.2,0a2.6,2.6 0 1,0 -5.2,0M435.8,349.4a2.6,2.6 0 1,0 5.2,0a2.6,2.6 0 1,0 -5.2,0M439.7,363.9a2.6,2.6 0 1,0 5.2,0a2.6,2.6 0 1,0 -5.2,0M443.6,359.8a2.6,2.6 0 1,0 5.2,0a2.6,2.6 0 1,0 -5.2,0M447.5,383.5a2.6,2.6 0 1,0 5.2,0a2.6,2.6 0 1,0 -5.2,0M451.4,380.8a2.6,2.6 0 1,0 5.2,0a2.6,2.6 0 1,0 -5.2,0M455.3,378.7a2.6,2.6 0 1,0 5.2,0a2.6,2.6 0 1,0 -5.2,0M459.2,379.7a2.6,2.6 0 1,0 5.2,0a2.6,2.6 0 1,0 -5.2,0M463.1,424.6a2.6,2.6 0 1,0 5.2,0a2.6,2.6 0 1,0 -5.2,0M467.0,427.7a2.6,2.6 0 1,0 5.2,0a2.6,2.6 0 1,0 -5.2,0M470.9,417.6a2.6,2.6 0 1,0 5.2,0a2.6,2.6 0 1,0 -5.2,0M474.8,407.2a2.6,2.6 0 1,0 5.2,0a2.6,2.6 0 1,0 -5.2,0M478.7,409.1a2.6,2.6 0 1,0 5.2,0a2.6,2.6 0 1,0 -5.2,0M482.6,404.8a2.6,2.6 0 1,0 5.2,0a2.6,2.6 0 1,0 -5.2,0M486.5,395.8a2.6,2.6 0 1,0 5.2,0a2.6,2.6 0 1,0 -5.2,0M490.4,390.2a2.6,2.6 0 1,0 5.2,0a2.6,2.6 0 1,0 -5.2,0M494.3,378.2a2.6,2.6 0 1,0 5.2,0a2.6,2.6 0 1,0 -5.2,0M498.2,401.3a2.6,2.6 0 1,0 5.2,0a2.6,2.6 0 1,0 -5.2,0M502.1,394.9a2.6,2.6 0 1,0 5.2,0a2.6,2.6 0 1,0 -5.2,0M506.0,407.3a2.6,2.6 0 1,0 5.2,0a2.6,2.6 0 1,0 -5.2,0M509.9,397.1a2.6,2.6 0 1,0 5.2,0a2.6,2.6 0 1,0 -5.2,0M513.8,391.9a2.6,2.6 0 1,0 5.2,0a2.6,2.6 0 1,0 -5.2,0M517.7,388.0a2.6,2.6 0 1,0 5.2,0a2.6,2.6 0 1,0 -5.2,0M521.6,398.1a2.6,2.6 0 1,0 5.2,0a2.6,2.6 0 1,0 -5.2,0M525.5,425.5a2.6,2.6 0 1,0 5.2,0a2.6,2.6 0 1,0 -5.2,0M529.4,455.3a2.6,2.6 0 1,0 5.2,0a2.6,2.6 0 1,0 -5.2,0M533.3,465.3a2.6,2.6 0 1,0 5.2,0a2.6,2.6 0 1,0 -5.2,0M537.2,490.9a2.6,2.6 0 1,0 5.2,0a2.6,2.6 0 1,0 -5.2,0M541.1,531.8a2.6,2.6 0 1,0 5.2,0a2.6,2.6 0 1,0 -5.2,0M545.0,541.2a2.6,2.6 0 1,0 5.2,0a2.6,2.6 0 1,0 -5.2,0M548.9,573.7a2.6,2.6 0 1,0 5.2,0a2.6,2.6 0 1,0 -5.2,0M552.8,568.9a2.6,2.6 0 1,0 5.2,0a2.6,2.6 0 1,0 -5.2,0M556.7,526.5a2.6,2.6 0 1,0 5.2,0a2.6,2.6 0 1,0 -5.2,0M560.6,512.4a2.6,2.6 0 1,0 5.2,0a2.6,2.6 0 1,0 -5.2,0M564.5,488.3a2.6,2.6 0 1,0 5.2,0a2.6,2.6 0 1,0 -5.2,0M568.4,456.3a2.6,2.6 0 1,0 5.2,0a2.6,2.6 0 1,0 -5.2,0M572.3,435.4a2.6,2.6 0 1,0 5.2,0a2.6,2.6 0 1,0 -5.2,0M576.2,418.9a2.6,2.6 0 1,0 5.2,0a2.6,2.6 0 1,0 -5.2,0M580.1,409.4a2.6,2.6 0 1,0 5.2,0a2.6,2.6 0 1,0 -5.2,0M584.0,393.8a2.6,2.6 0 1,0 5.2,0a2.6,2.6 0 1,0 -5.2,0M587.9,385.7a2.6,2.6 0 1,0 5.2,0a2.6,2.6 0 1,0 -5.2,0M591.8,390.9a2.6,2.6 0 1,0 5.2,0a2.6,2.6 0 1,0 -5.2,0M595.7,380.8a2.6,2.6 0 1,0 5.2,0a2.6,2.6 0 1,0 -5.2,0M599.6,385.9a2.6,2.6 0 1,0 5.2,0a2.6,2.6 0 1,0 -5.2,0M603.5,384.1a2.6,2.6 0 1,0 5.2,0a2.6,2.6 0 1,0 -5.2,0M607.4,364.8a2.6,2.6 0 1,0 5.2,0a2.6,2.6 0 1,0 -5.2,0M611.3,366.8a2.6,2.6 0 1,0 5.2,0a2.6,2.6 0 1,0 -5.2,0M615.2,348.6a2.6,2.6 0 1,0 5.2,0a2.6,2.6 0 1,0 -5.2,0M619.1,380.1a2.6,2.6 0 1,0 5.2,0a2.6,2.6 0 1,0 -5.2,0M623.0,403.4a2.6,2.6 0 1,0 5.2,0a2.6,2.6 0 1,0 -5.2,0" fill="#1818ee"/>
</g>
<text x="312.2" y="424.0" font-size="19" text-anchor="middle" fill="#dc141c">A</text>
<text x="470.0" y="461.0" font-size="19" text-anchor="middle" fill="#1a1ade">B</text>
<text x="552.0" y="436.5" font-size="19" text-anchor="middle" >C</text>
<rect x="262" y="625" width="187" height="34" fill="#fff"/>
<text x="356.0" y="646.4" font-size="19.7" text-anchor="middle" >Magnetic field, <tspan font-style="italic">B</tspan> (G)</text>
<rect x="78.3" y="687.5" width="231.7" height="232.5" fill="none" stroke="#000" stroke-width="2"/>
<line x1="106.90" y1="687.50" x2="106.90" y2="695.50" stroke="#000" stroke-width="1.5" />
<line x1="106.90" y1="920.00" x2="106.90" y2="912.00" stroke="#000" stroke-width="1.5" />
<text x="106.9" y="943.0" font-size="19.5" text-anchor="middle" >−0.4</text>
<line x1="194.50" y1="687.50" x2="194.50" y2="695.50" stroke="#000" stroke-width="1.5" />
<line x1="194.50" y1="920.00" x2="194.50" y2="912.00" stroke="#000" stroke-width="1.5" />
<text x="194.5" y="943.0" font-size="19.5" text-anchor="middle" >0.0</text>
<line x1="282.10" y1="687.50" x2="282.10" y2="695.50" stroke="#000" stroke-width="1.5" />
<line x1="282.10" y1="920.00" x2="282.10" y2="912.00" stroke="#000" stroke-width="1.5" />
<text x="282.1" y="943.0" font-size="19.5" text-anchor="middle" >0.4</text>
<line x1="78.30" y1="734.30" x2="86.30" y2="734.30" stroke="#000" stroke-width="1.5" />
<line x1="310.00" y1="734.30" x2="302.00" y2="734.30" stroke="#000" stroke-width="1.5" />
<text x="72.3" y="741.3" font-size="19.5" text-anchor="end" >0.98</text>
<line x1="78.30" y1="887.50" x2="86.30" y2="887.50" stroke="#000" stroke-width="1.5" />
<line x1="310.00" y1="887.50" x2="302.00" y2="887.50" stroke="#000" stroke-width="1.5" />
<text x="72.3" y="894.5" font-size="19.5" text-anchor="end" >0.96</text>
<text x="193.7" y="970" font-size="19.3" text-anchor="middle"><tspan font-family="Liberation Serif" font-style="italic">ω</tspan><tspan font-size="14" dy="4">NV</tspan><tspan dy="-4"> − </tspan><tspan font-family="Liberation Serif" font-style="italic">ω</tspan><tspan font-size="14" dy="4">H</tspan><tspan dy="-4"> (MHz)</tspan></text>
<text transform="translate(17.3 805) rotate(-90)" font-size="20" text-anchor="middle"><tspan font-style="italic">I</tspan><tspan font-size="14" dy="5.5">PL</tspan><tspan dy="-5.5"> (a.u.)</tspan></text>
<rect x="396.0" y="687.5" width="232.0" height="232.5" fill="none" stroke="#000" stroke-width="2"/>
<line x1="424.50" y1="687.50" x2="424.50" y2="695.50" stroke="#000" stroke-width="1.5" />
<line x1="424.50" y1="920.00" x2="424.50" y2="912.00" stroke="#000" stroke-width="1.5" />
<text x="424.5" y="943.0" font-size="19.5" text-anchor="middle" >−0.4</text>
<line x1="512.30" y1="687.50" x2="512.30" y2="695.50" stroke="#000" stroke-width="1.5" />
<line x1="512.30" y1="920.00" x2="512.30" y2="912.00" stroke="#000" stroke-width="1.5" />
<text x="512.3" y="943.0" font-size="19.5" text-anchor="middle" >0.0</text>
<line x1="600.10" y1="687.50" x2="600.10" y2="695.50" stroke="#000" stroke-width="1.5" />
<line x1="600.10" y1="920.00" x2="600.10" y2="912.00" stroke="#000" stroke-width="1.5" />
<text x="600.1" y="943.0" font-size="19.5" text-anchor="middle" >0.4</text>
<line x1="396.00" y1="769.30" x2="404.00" y2="769.30" stroke="#000" stroke-width="1.5" />
<line x1="628.00" y1="769.30" x2="620.00" y2="769.30" stroke="#000" stroke-width="1.5" />
<text x="390.0" y="776.3" font-size="19.5" text-anchor="end" >1.00</text>
<line x1="396.00" y1="920.30" x2="404.00" y2="920.30" stroke="#000" stroke-width="1.5" />
<line x1="628.00" y1="920.30" x2="620.00" y2="920.30" stroke="#000" stroke-width="1.5" />
<text x="390.0" y="927.3" font-size="19.5" text-anchor="end" >0.98</text>
<text x="511.5" y="970" font-size="19.3" text-anchor="middle"><tspan font-family="Liberation Serif" font-style="italic">ω</tspan><tspan font-size="14" dy="4">NV</tspan><tspan dy="-4"> − </tspan><tspan font-family="Liberation Serif" font-style="italic">ω</tspan><tspan font-size="14" dy="4">H</tspan><tspan dy="-4"> (MHz)</tspan></text>
<text transform="translate(340.8 805) rotate(-90)" font-size="20" text-anchor="middle"><tspan font-style="italic">I</tspan><tspan font-size="14" dy="5.5">PL</tspan><tspan dy="-5.5"> (a.u.)</tspan></text>
<text x="0" y="686" font-size="28" font-weight="bold">c</text>
<text x="323" y="684.3" font-size="28" font-weight="bold">d</text>
<path d="M84.8,734.0 L86.6,734.7 L88.5,735.5 L90.3,736.3 L92.2,737.1 L94.0,738.0 L95.8,739.0 L97.7,739.9 L99.5,740.9 L101.3,742.0 L103.2,743.1 L105.0,744.3 L106.9,745.5 L108.7,746.8 L110.5,748.1 L112.4,749.6 L114.2,751.0 L116.0,752.6 L117.9,754.2 L119.7,756.0 L121.6,757.8 L123.4,759.7 L125.2,761.7 L127.1,763.8 L128.9,766.1 L130.7,768.4 L132.6,770.9 L134.4,773.5 L136.3,776.2 L138.1,779.0 L139.9,782.0 L141.8,785.2 L143.6,788.5 L145.4,791.9 L147.3,795.5 L149.1,799.3 L151.0,803.2 L152.8,807.2 L154.6,811.4 L156.5,815.7 L158.3,820.1 L160.2,824.6 L162.0,829.2 L163.8,833.8 L165.7,838.4 L167.5,842.9 L169.3,847.4 L171.2,851.7 L173.0,855.9 L174.9,859.7 L176.7,863.3 L178.5,866.5 L180.4,869.2 L182.2,871.5 L184.0,873.2 L185.9,874.4 L187.7,874.9 L189.6,874.9 L191.4,874.2 L193.2,873.0 L195.1,871.2 L196.9,868.9 L198.7,866.0 L200.6,862.8 L202.4,859.2 L204.3,855.3 L206.1,851.1 L207.9,846.7 L209.8,842.3 L211.6,837.7 L213.4,833.1 L215.3,828.5 L217.1,823.9 L219.0,819.4 L220.8,815.0 L222.6,810.8 L224.5,806.6 L226.3,802.6 L228.1,798.7 L230.0,795.0 L231.8,791.4 L233.7,788.0 L235.5,784.7 L237.3,781.6 L239.2,778.6 L241.0,775.8 L242.9,773.1 L244.7,770.5 L246.5,768.0 L248.4,765.7 L250.2,763.5 L252.0,761.4 L253.9,759.4 L255.7,757.5 L257.6,755.7 L259.4,754.0 L261.2,752.4 L263.1,750.8 L264.9,749.3 L266.7,747.9 L268.6,746.6 L270.4,745.3 L272.3,744.1 L274.1,742.9 L275.9,741.8 L277.8,740.8 L279.6,739.8 L281.4,738.8 L283.3,737.9 L285.1,737.0 L287.0,736.2 L288.8,735.4 L290.6,734.6 L292.5,733.9 L294.3,733.2 L296.1,732.5 L298.0,731.8 L299.8,731.2 L301.7,730.6 L303.5,730.0" fill="none" stroke="#dc1018" stroke-width="2.8"/>
<path d="M134.4,694.5V728.5M130.4,694.5h8.0M130.4,728.5h8.0M128.3,732.2V766.2M124.3,732.2h8.0M124.3,766.2h8.0M116.9,741.0V775.0M112.9,741.0h8.0M112.9,775.0h8.0M136.3,755.0V789.0M132.3,755.0h8.0M132.3,789.0h8.0M144.2,791.0V825.0M140.2,791.0h8.0M140.2,825.0h8.0M128.8,804.2V838.2M124.8,804.2h8.0M124.8,838.2h8.0M165.1,808.9V842.9M161.1,808.9h8.0M161.1,842.9h8.0M170.9,847.1V881.1M166.9,847.1h8.0M166.9,881.1h8.0M181.4,871.6V905.6M177.4,871.6h8.0M177.4,905.6h8.0M193.6,852.0V886.0M189.6,852.0h8.0M189.6,886.0h8.0M224.7,727.3V761.3M220.7,727.3h8.0M220.7,761.3h8.0M230.5,755.5V789.5M226.5,755.5h8.0M226.5,789.5h8.0M237.8,753.0V787.0M233.8,753.0h8.0M233.8,787.0h8.0M225.3,766.5V800.5M221.3,766.5h8.0M221.3,800.5h8.0M226.3,774.2V808.2M222.3,774.2h8.0M222.3,808.2h8.0M242.6,729.9V763.9M238.6,729.9h8.0M238.6,763.9h8.0M247.1,733.7V767.7M243.1,733.7h8.0M243.1,767.7h8.0M250.3,727.3V761.3M246.3,727.3h8.0M246.3,761.3h8.0M261.9,716.4V750.4M257.9,716.4h8.0M257.9,750.4h8.0M263.8,726.0V760.0M259.8,726.0h8.0M259.8,760.0h8.0M262.9,733.7V767.7M258.9,733.7h8.0M258.9,767.7h8.0M241.7,780.0V814.0M237.7,780.0h8.0M237.7,814.0h8.0M244.6,783.8V817.8M240.6,783.8h8.0M240.6,817.8h8.0M245.5,788.6V822.6M241.5,788.6h8.0M241.5,822.6h8.0M202.5,796.7V830.7M198.5,796.7h8.0M198.5,830.7h8.0M207.6,880.0V914.0M203.6,880.0h8.0M203.6,914.0h8.0M205.0,843.0V877.0M201.0,843.0h8.0M201.0,877.0h8.0M208.9,851.6V885.6M204.9,851.6h8.0M204.9,885.6h8.0M207.0,820.8V854.8M203.0,820.8h8.0M203.0,854.8h8.0M205.0,826.6V860.6M201.0,826.6h8.0M201.0,860.6h8.0M211.8,822.7V856.7M207.8,822.7h8.0M207.8,856.7h8.0M210.8,834.3V868.3M206.8,834.3h8.0M206.8,868.3h8.0M215.7,814.0V848.0M211.7,814.0h8.0M211.7,848.0h8.0M215.7,841.0V875.0M211.7,841.0h8.0M211.7,875.0h8.0M228.8,824.7V858.7M224.8,824.7h8.0M224.8,858.7h8.0M232.4,848.8V882.8M228.4,848.8h8.0M228.4,882.8h8.0M254.6,795.4V829.4M250.6,795.4h8.0M250.6,829.4h8.0" fill="none" stroke="#e8141c" stroke-width="1.8"/>
<path d="M130.0,711.5a4.4,4.4 0 1,0 8.8,0a4.4,4.4 0 1,0 -8.8,0M123.9,749.2a4.4,4.4 0 1,0 8.8,0a4.4,4.4 0 1,0 -8.8,0M112.5,758.0a4.4,4.4 0 1,0 8.8,0a4.4,4.4 0 1,0 -8.8,0M131.9,772.0a4.4,4.4 0 1,0 8.8,0a4.4,4.4 0 1,0 -8.8,0M139.8,808.0a4.4,4.4 0 1,0 8.8,0a4.4,4.4 0 1,0 -8.8,0M124.4,821.2a4.4,4.4 0 1,0 8.8,0a4.4,4.4 0 1,0 -8.8,0M160.7,825.9a4.4,4.4 0 1,0 8.8,0a4.4,4.4 0 1,0 -8.8,0M166.5,864.1a4.4,4.4 0 1,0 8.8,0a4.4,4.4 0 1,0 -8.8,0M177.0,888.6a4.4,4.4 0 1,0 8.8,0a4.4,4.4 0 1,0 -8.8,0M189.2,869.0a4.4,4.4 0 1,0 8.8,0a4.4,4.4 0 1,0 -8.8,0M220.3,744.3a4.4,4.4 0 1,0 8.8,0a4.4,4.4 0 1,0 -8.8,0M226.1,772.5a4.4,4.4 0 1,0 8.8,0a4.4,4.4 0 1,0 -8.8,0M233.4,770.0a4.4,4.4 0 1,0 8.8,0a4.4,4.4 0 1,0 -8.8,0M220.9,783.5a4.4,4.4 0 1,0 8.8,0a4.4,4.4 0 1,0 -8.8,0M221.9,791.2a4.4,4.4 0 1,0 8.8,0a4.4,4.4 0 1,0 -8.8,0M238.2,746.9a4.4,4.4 0 1,0 8.8,0a4.4,4.4 0 1,0 -8.8,0M242.7,750.7a4.4,4.4 0 1,0 8.8,0a4.4,4.4 0 1,0 -8.8,0M245.9,744.3a4.4,4.4 0 1,0 8.8,0a4.4,4.4 0 1,0 -8.8,0M257.5,733.4a4.4,4.4 0 1,0 8.8,0a4.4,4.4 0 1,0 -8.8,0M259.4,743.0a4.4,4.4 0 1,0 8.8,0a4.4,4.4 0 1,0 -8.8,0M258.5,750.7a4.4,4.4 0 1,0 8.8,0a4.4,4.4 0 1,0 -8.8,0M237.3,797.0a4.4,4.4 0 1,0 8.8,0a4.4,4.4 0 1,0 -8.8,0M240.2,800.8a4.4,4.4 0 1,0 8.8,0a4.4,4.4 0 1,0 -8.8,0M241.1,805.6a4.4,4.4 0 1,0 8.8,0a4.4,4.4 0 1,0 -8.8,0M198.1,813.7a4.4,4.4 0 1,0 8.8,0a4.4,4.4 0 1,0 -8.8,0M203.2,897.0a4.4,4.4 0 1,0 8.8,0a4.4,4.4 0 1,0 -8.8,0M200.6,860.0a4.4,4.4 0 1,0 8.8,0a4.4,4.4 0 1,0 -8.8,0M204.5,868.6a4.4,4.4 0 1,0 8.8,0a4.4,4.4 0 1,0 -8.8,0M202.6,837.8a4.4,4.4 0 1,0 8.8,0a4.4,4.4 0 1,0 -8.8,0M200.6,843.6a4.4,4.4 0 1,0 8.8,0a4.4,4.4 0 1,0 -8.8,0M207.4,839.7a4.4,4.4 0 1,0 8.8,0a4.4,4.4 0 1,0 -8.8,0M206.4,851.3a4.4,4.4 0 1,0 8.8,0a4.4,4.4 0 1,0 -8.8,0M211.3,831.0a4.4,4.4 0 1,0 8.8,0a4.4,4.4 0 1,0 -8.8,0M211.3,858.0a4.4,4.4 0 1,0 8.8,0a4.4,4.4 0 1,0 -8.8,0M224.4,841.7a4.4,4.4 0 1,0 8.8,0a4.4,4.4 0 1,0 -8.8,0M228.0,865.8a4.4,4.4 0 1,0 8.8,0a4.4,4.4 0 1,0 -8.8,0M250.2,812.4a4.4,4.4 0 1,0 8.8,0a4.4,4.4 0 1,0 -8.8,0" fill="#e8141c"/>
<path d="M403.00,752.80 C406.22,753.10 416.17,753.73 422.30,754.60 C428.43,755.47 434.25,756.55 439.80,758.00 C445.35,759.45 450.63,761.25 455.60,763.30 C460.57,765.35 465.23,767.37 469.60,770.30 C473.97,773.23 478.30,777.10 481.80,780.90 C485.30,784.70 488.23,788.87 490.60,793.10 C492.97,797.33 493.33,799.43 496.00,806.30 C498.67,813.17 503.38,824.97 506.60,834.30 C509.82,843.63 512.38,855.43 515.30,862.30 C518.22,869.17 521.07,875.58 524.10,875.50 C527.13,875.42 530.58,868.08 533.50,861.80 C536.42,855.52 539.68,843.13 541.60,837.80 C543.52,832.47 543.25,834.47 545.00,829.80 C546.75,825.13 549.68,816.35 552.10,809.80 C554.52,803.25 556.30,796.20 559.50,790.50 C562.70,784.80 567.28,779.55 571.30,775.60 C575.32,771.65 579.22,769.28 583.60,766.80 C587.98,764.32 593.22,762.30 597.60,760.70 C601.98,759.10 605.97,758.13 609.90,757.20 C613.83,756.27 619.32,755.45 621.20,755.10" fill="none" stroke="#1010cc" stroke-width="2.8"/>
<path d="M411.4,691.5V719.5M407.4,691.5h8.0M407.4,719.5h8.0M420.5,688.0V716.0M416.5,688.0h8.0M416.5,716.0h8.0M429.3,691.5V719.5M425.3,691.5h8.0M425.3,719.5h8.0M446.3,712.9V740.9M442.3,712.9h8.0M442.3,740.9h8.0M420.9,718.7V746.7M416.9,718.7h8.0M416.9,746.7h8.0M407.9,732.7V760.7M403.9,732.7h8.0M403.9,760.7h8.0M419.7,733.6V761.6M415.7,733.6h8.0M415.7,761.6h8.0M424.4,737.1V765.1M420.4,737.1h8.0M420.4,765.1h8.0M422.3,759.0V787.0M418.3,759.0h8.0M418.3,787.0h8.0M467.5,724.8V752.8M463.5,724.8h8.0M463.5,752.8h8.0M460.0,738.5V766.5M456.0,738.5h8.0M456.0,766.5h8.0M460.0,752.0V780.0M456.0,752.0h8.0M456.0,780.0h8.0M464.3,754.6V782.6M460.3,754.6h8.0M460.3,782.6h8.0M485.3,764.2V792.2M481.3,764.2h8.0M481.3,792.2h8.0M464.3,769.5V797.5M460.3,769.5h8.0M460.3,797.5h8.0M467.8,779.1V807.1M463.8,779.1h8.0M463.8,807.1h8.0M472.2,783.5V811.5M468.2,783.5h8.0M468.2,811.5h8.0M481.5,778.8V806.8M477.5,778.8h8.0M477.5,806.8h8.0M496.0,803.7V831.7M492.0,803.7h8.0M492.0,831.7h8.0M508.0,827.7V855.7M504.0,827.7h8.0M504.0,855.7h8.0M513.2,853.6V881.6M509.2,853.6h8.0M509.2,881.6h8.0M520.6,853.0V881.0M516.6,853.0h8.0M516.6,881.0h8.0M525.0,837.8V865.8M521.0,837.8h8.0M521.0,865.8h8.0M529.3,881.1V909.1M525.3,881.1h8.0M525.3,909.1h8.0M546.3,859.4V887.4M542.3,859.4h8.0M542.3,887.4h8.0M545.0,764.7V792.7M541.0,764.7h8.0M541.0,792.7h8.0M559.9,772.1V800.1M555.9,772.1h8.0M555.9,800.1h8.0M557.3,790.5V818.5M553.3,790.5h8.0M553.3,818.5h8.0M565.2,745.0V773.0M561.2,745.0h8.0M561.2,773.0h8.0M569.6,729.2V757.2M565.6,729.2h8.0M565.6,757.2h8.0M581.0,735.3V763.3M577.0,735.3h8.0M577.0,763.3h8.0M581.8,754.6V782.6M577.8,754.6h8.0M577.8,782.6h8.0M602.0,756.3V784.3M598.0,756.3h8.0M598.0,784.3h8.0M606.0,753.2V781.2M602.0,753.2h8.0M602.0,781.2h8.0M568.2,804.4V832.4M564.2,804.4h8.0M564.2,832.4h8.0M603.4,812.8V840.8M599.4,812.8h8.0M599.4,840.8h8.0" fill="none" stroke="#1010dc" stroke-width="1.8"/>
<path d="M407.0,705.5a4.4,4.4 0 1,0 8.8,0a4.4,4.4 0 1,0 -8.8,0M416.1,702.0a4.4,4.4 0 1,0 8.8,0a4.4,4.4 0 1,0 -8.8,0M424.9,705.5a4.4,4.4 0 1,0 8.8,0a4.4,4.4 0 1,0 -8.8,0M441.9,726.9a4.4,4.4 0 1,0 8.8,0a4.4,4.4 0 1,0 -8.8,0M416.5,732.7a4.4,4.4 0 1,0 8.8,0a4.4,4.4 0 1,0 -8.8,0M403.5,746.7a4.4,4.4 0 1,0 8.8,0a4.4,4.4 0 1,0 -8.8,0M415.3,747.6a4.4,4.4 0 1,0 8.8,0a4.4,4.4 0 1,0 -8.8,0M420.0,751.1a4.4,4.4 0 1,0 8.8,0a4.4,4.4 0 1,0 -8.8,0M417.9,773.0a4.4,4.4 0 1,0 8.8,0a4.4,4.4 0 1,0 -8.8,0M463.1,738.8a4.4,4.4 0 1,0 8.8,0a4.4,4.4 0 1,0 -8.8,0M455.6,752.5a4.4,4.4 0 1,0 8.8,0a4.4,4.4 0 1,0 -8.8,0M455.6,766.0a4.4,4.4 0 1,0 8.8,0a4.4,4.4 0 1,0 -8.8,0M459.9,768.6a4.4,4.4 0 1,0 8.8,0a4.4,4.4 0 1,0 -8.8,0M480.9,778.2a4.4,4.4 0 1,0 8.8,0a4.4,4.4 0 1,0 -8.8,0M459.9,783.5a4.4,4.4 0 1,0 8.8,0a4.4,4.4 0 1,0 -8.8,0M463.4,793.1a4.4,4.4 0 1,0 8.8,0a4.4,4.4 0 1,0 -8.8,0M467.8,797.5a4.4,4.4 0 1,0 8.8,0a4.4,4.4 0 1,0 -8.8,0M477.1,792.8a4.4,4.4 0 1,0 8.8,0a4.4,4.4 0 1,0 -8.8,0M491.6,817.7a4.4,4.4 0 1,0 8.8,0a4.4,4.4 0 1,0 -8.8,0M503.6,841.7a4.4,4.4 0 1,0 8.8,0a4.4,4.4 0 1,0 -8.8,0M508.8,867.6a4.4,4.4 0 1,0 8.8,0a4.4,4.4 0 1,0 -8.8,0M516.2,867.0a4.4,4.4 0 1,0 8.8,0a4.4,4.4 0 1,0 -8.8,0M520.6,851.8a4.4,4.4 0 1,0 8.8,0a4.4,4.4 0 1,0 -8.8,0M524.9,895.1a4.4,4.4 0 1,0 8.8,0a4.4,4.4 0 1,0 -8.8,0M541.9,873.4a4.4,4.4 0 1,0 8.8,0a4.4,4.4 0 1,0 -8.8,0M540.6,778.7a4.4,4.4 0 1,0 8.8,0a4.4,4.4 0 1,0 -8.8,0M555.5,786.1a4.4,4.4 0 1,0 8.8,0a4.4,4.4 0 1,0 -8.8,0M552.9,804.5a4.4,4.4 0 1,0 8.8,0a4.4,4.4 0 1,0 -8.8,0M560.8,759.0a4.4,4.4 0 1,0 8.8,0a4.4,4.4 0 1,0 -8.8,0M565.2,743.2a4.4,4.4 0 1,0 8.8,0a4.4,4.4 0 1,0 -8.8,0M576.6,749.3a4.4,4.4 0 1,0 8.8,0a4.4,4.4 0 1,0 -8.8,0M577.4,768.6a4.4,4.4 0 1,0 8.8,0a4.4,4.4 0 1,0 -8.8,0M597.6,770.3a4.4,4.4 0 1,0 8.8,0a4.4,4.4 0 1,0 -8.8,0M601.6,767.2a4.4,4.4 0 1,0 8.8,0a4.4,4.4 0 1,0 -8.8,0M563.8,818.4a4.4,4.4 0 1,0 8.8,0a4.4,4.4 0 1,0 -8.8,0M599.0,826.8a4.4,4.4 0 1,0 8.8,0a4.4,4.4 0 1,0 -8.8,0" fill="#1010dc"/>
<g fill="none" stroke-width="1.8" stroke-dasharray="7,5">
<rect x="291" y="60.7" width="46.2" height="536.7" stroke="#e81c22"/>
<rect x="448.2" y="60.4" width="46.6" height="536.3" stroke="#1e1ca4"/>
<path d="M291,597.4 L78.3,687.5 M337.2,597.4 L310,687.5" stroke="#e81c22"/>
<path d="M448.2,596.7 L396,687.5 M494.8,596.7 L628,687.5" stroke="#1e1ca4"/>
</g>
<rect x="262" y="625" width="187" height="34" fill="#fff"/>
<text x="356.0" y="646.4" font-size="19.7" text-anchor="middle" >Magnetic field, <tspan font-style="italic">B</tspan> (G)</text>
</svg></body></html>
